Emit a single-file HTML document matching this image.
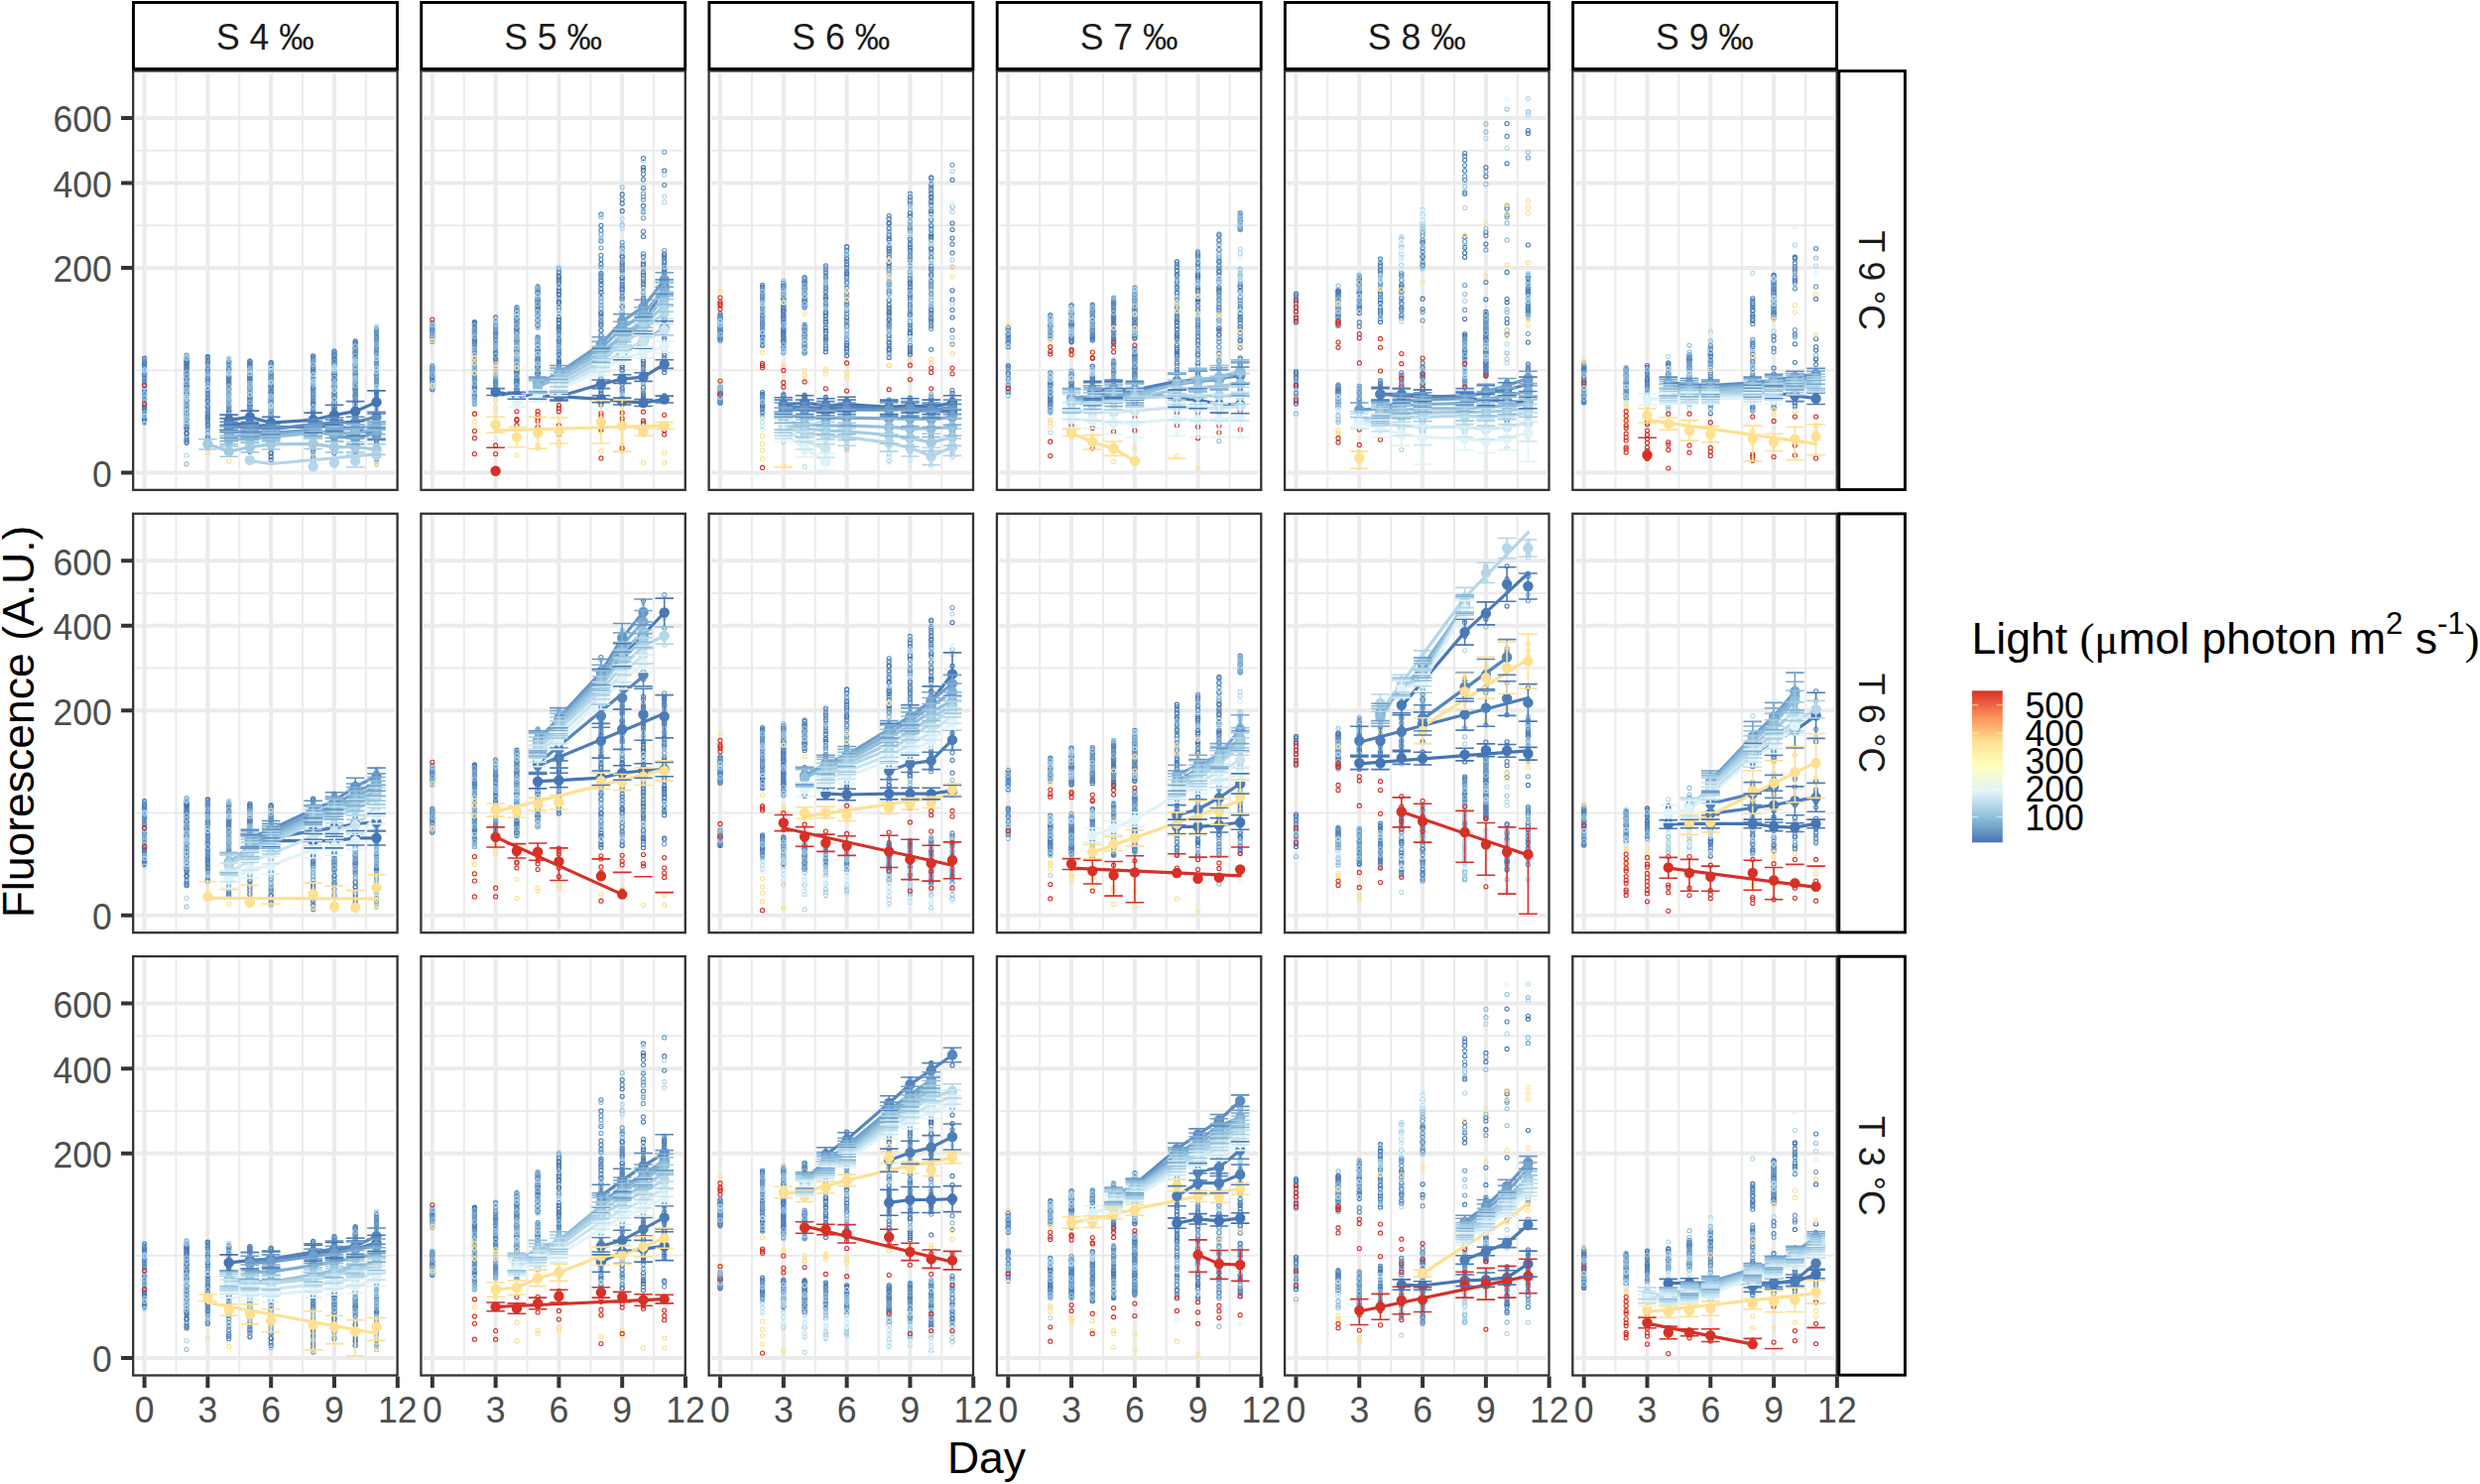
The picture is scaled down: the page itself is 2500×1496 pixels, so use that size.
<!DOCTYPE html>
<html><head><meta charset="utf-8"><title>Fluorescence</title>
<style>
html,body{margin:0;padding:0;background:#fff;}
svg{display:block;font-family:'Liberation Sans', Arial, sans-serif;}
.ax{font-size:35.6px;fill:#4d4d4d;}
.st{font-size:35.6px;fill:#1a1a1a;}
.tt{font-size:44.5px;fill:#000;}
.lg{font-size:35.6px;fill:#000;}
</style></head><body>
<svg width="2500" height="1496" viewBox="0 0 2500 1496">
<rect width="2500" height="1496" fill="#fff"/>

<defs>
<marker id="m10" markerWidth="7" markerHeight="7" refX="3.5" refY="3.5" markerUnits="userSpaceOnUse"><circle cx="3.5" cy="3.5" r="2.05" fill="none" stroke="#4575b4" stroke-width="1.1"/></marker>
<marker id="m30" markerWidth="7" markerHeight="7" refX="3.5" refY="3.5" markerUnits="userSpaceOnUse"><circle cx="3.5" cy="3.5" r="2.05" fill="none" stroke="#5685bd" stroke-width="1.1"/></marker>
<marker id="m60" markerWidth="7" markerHeight="7" refX="3.5" refY="3.5" markerUnits="userSpaceOnUse"><circle cx="3.5" cy="3.5" r="2.05" fill="none" stroke="#6f9eca" stroke-width="1.1"/></marker>
<marker id="m100" markerWidth="7" markerHeight="7" refX="3.5" refY="3.5" markerUnits="userSpaceOnUse"><circle cx="3.5" cy="3.5" r="2.05" fill="none" stroke="#91bfdb" stroke-width="1.1"/></marker>
<marker id="m140" markerWidth="7" markerHeight="7" refX="3.5" refY="3.5" markerUnits="userSpaceOnUse"><circle cx="3.5" cy="3.5" r="2.05" fill="none" stroke="#b4d6e8" stroke-width="1.1"/></marker>
<marker id="m190" markerWidth="7" markerHeight="7" refX="3.5" refY="3.5" markerUnits="userSpaceOnUse"><circle cx="3.5" cy="3.5" r="2.05" fill="none" stroke="#e0f3f8" stroke-width="1.1"/></marker>
<marker id="m370" markerWidth="7" markerHeight="7" refX="3.5" refY="3.5" markerUnits="userSpaceOnUse"><circle cx="3.5" cy="3.5" r="2.05" fill="none" stroke="#fee090" stroke-width="1.1"/></marker>
<marker id="m550" markerWidth="7" markerHeight="7" refX="3.5" refY="3.5" markerUnits="userSpaceOnUse"><circle cx="3.5" cy="3.5" r="2.05" fill="none" stroke="#d73027" stroke-width="1.1"/></marker>
<linearGradient id="cb" x1="0" y1="1" x2="0" y2="0">
<stop offset="0.0000" stop-color="#4575b4"/>
<stop offset="0.1667" stop-color="#91bfdb"/>
<stop offset="0.3333" stop-color="#e0f3f8"/>
<stop offset="0.5000" stop-color="#ffffbf"/>
<stop offset="0.6667" stop-color="#fee090"/>
<stop offset="0.8333" stop-color="#fc8d59"/>
<stop offset="1.0000" stop-color="#d73027"/>
</linearGradient>
<clipPath id="cp00"><rect x="134.2" y="71.5" width="266.4" height="422.4"/></clipPath>
<clipPath id="cp10"><rect x="134.2" y="517.8" width="266.4" height="422.4"/></clipPath>
<clipPath id="cp20"><rect x="134.2" y="964.1" width="266.4" height="422.4"/></clipPath>
<clipPath id="cp01"><rect x="424.4" y="71.5" width="266.4" height="422.4"/></clipPath>
<clipPath id="cp11"><rect x="424.4" y="517.8" width="266.4" height="422.4"/></clipPath>
<clipPath id="cp21"><rect x="424.4" y="964.1" width="266.4" height="422.4"/></clipPath>
<clipPath id="cp02"><rect x="714.6" y="71.5" width="266.4" height="422.4"/></clipPath>
<clipPath id="cp12"><rect x="714.6" y="517.8" width="266.4" height="422.4"/></clipPath>
<clipPath id="cp22"><rect x="714.6" y="964.1" width="266.4" height="422.4"/></clipPath>
<clipPath id="cp03"><rect x="1004.9" y="71.5" width="266.4" height="422.4"/></clipPath>
<clipPath id="cp13"><rect x="1004.9" y="517.8" width="266.4" height="422.4"/></clipPath>
<clipPath id="cp23"><rect x="1004.9" y="964.1" width="266.4" height="422.4"/></clipPath>
<clipPath id="cp04"><rect x="1295.1" y="71.5" width="266.4" height="422.4"/></clipPath>
<clipPath id="cp14"><rect x="1295.1" y="517.8" width="266.4" height="422.4"/></clipPath>
<clipPath id="cp24"><rect x="1295.1" y="964.1" width="266.4" height="422.4"/></clipPath>
<clipPath id="cp05"><rect x="1585.3" y="71.5" width="266.4" height="422.4"/></clipPath>
<clipPath id="cp15"><rect x="1585.3" y="517.8" width="266.4" height="422.4"/></clipPath>
<clipPath id="cp25"><rect x="1585.3" y="964.1" width="266.4" height="422.4"/></clipPath>
</defs>
<g clip-path="url(#cp00)"><path d="M177.50,71.5v422.4M241.29,71.5v422.4M305.09,71.5v422.4M368.88,71.5v422.4M134.2,373.22h266.4M134.2,227.30h266.4M134.2,151.77h266.4" stroke="#ebebeb" stroke-width="2" fill="none"/><path d="M145.60,71.5v422.4M209.39,71.5v422.4M273.19,71.5v422.4M336.99,71.5v422.4M400.78,71.5v422.4M134.2,476.40h266.4M134.2,270.04h266.4M134.2,184.56h266.4M134.2,118.97h266.4" stroke="#ebebeb" stroke-width="4" fill="none"/></g>
<g clip-path="url(#cp01)"><path d="M467.72,71.5v422.4M531.51,71.5v422.4M595.31,71.5v422.4M659.10,71.5v422.4M424.4,373.22h266.4M424.4,227.30h266.4M424.4,151.77h266.4" stroke="#ebebeb" stroke-width="2" fill="none"/><path d="M435.82,71.5v422.4M499.62,71.5v422.4M563.41,71.5v422.4M627.20,71.5v422.4M691.00,71.5v422.4M424.4,476.40h266.4M424.4,270.04h266.4M424.4,184.56h266.4M424.4,118.97h266.4" stroke="#ebebeb" stroke-width="4" fill="none"/></g>
<g clip-path="url(#cp02)"><path d="M757.94,71.5v422.4M821.73,71.5v422.4M885.53,71.5v422.4M949.32,71.5v422.4M714.6,373.22h266.4M714.6,227.30h266.4M714.6,151.77h266.4" stroke="#ebebeb" stroke-width="2" fill="none"/><path d="M726.04,71.5v422.4M789.84,71.5v422.4M853.63,71.5v422.4M917.43,71.5v422.4M981.22,71.5v422.4M714.6,476.40h266.4M714.6,270.04h266.4M714.6,184.56h266.4M714.6,118.97h266.4" stroke="#ebebeb" stroke-width="4" fill="none"/></g>
<g clip-path="url(#cp03)"><path d="M1048.16,71.5v422.4M1111.95,71.5v422.4M1175.75,71.5v422.4M1239.54,71.5v422.4M1004.9,373.22h266.4M1004.9,227.30h266.4M1004.9,151.77h266.4" stroke="#ebebeb" stroke-width="2" fill="none"/><path d="M1016.26,71.5v422.4M1080.06,71.5v422.4M1143.85,71.5v422.4M1207.64,71.5v422.4M1271.44,71.5v422.4M1004.9,476.40h266.4M1004.9,270.04h266.4M1004.9,184.56h266.4M1004.9,118.97h266.4" stroke="#ebebeb" stroke-width="4" fill="none"/></g>
<g clip-path="url(#cp04)"><path d="M1338.38,71.5v422.4M1402.17,71.5v422.4M1465.97,71.5v422.4M1529.76,71.5v422.4M1295.1,373.22h266.4M1295.1,227.30h266.4M1295.1,151.77h266.4" stroke="#ebebeb" stroke-width="2" fill="none"/><path d="M1306.48,71.5v422.4M1370.28,71.5v422.4M1434.07,71.5v422.4M1497.87,71.5v422.4M1561.66,71.5v422.4M1295.1,476.40h266.4M1295.1,270.04h266.4M1295.1,184.56h266.4M1295.1,118.97h266.4" stroke="#ebebeb" stroke-width="4" fill="none"/></g>
<g clip-path="url(#cp05)"><path d="M1628.60,71.5v422.4M1692.39,71.5v422.4M1756.19,71.5v422.4M1819.98,71.5v422.4M1585.3,373.22h266.4M1585.3,227.30h266.4M1585.3,151.77h266.4" stroke="#ebebeb" stroke-width="2" fill="none"/><path d="M1596.70,71.5v422.4M1660.50,71.5v422.4M1724.29,71.5v422.4M1788.09,71.5v422.4M1851.88,71.5v422.4M1585.3,476.40h266.4M1585.3,270.04h266.4M1585.3,184.56h266.4M1585.3,118.97h266.4" stroke="#ebebeb" stroke-width="4" fill="none"/></g>
<g clip-path="url(#cp10)"><path d="M177.50,517.8v422.4M241.29,517.8v422.4M305.09,517.8v422.4M368.88,517.8v422.4M134.2,819.52h266.4M134.2,673.60h266.4M134.2,598.07h266.4" stroke="#ebebeb" stroke-width="2" fill="none"/><path d="M145.60,517.8v422.4M209.39,517.8v422.4M273.19,517.8v422.4M336.99,517.8v422.4M400.78,517.8v422.4M134.2,922.70h266.4M134.2,716.34h266.4M134.2,630.86h266.4M134.2,565.27h266.4" stroke="#ebebeb" stroke-width="4" fill="none"/></g>
<g clip-path="url(#cp11)"><path d="M467.72,517.8v422.4M531.51,517.8v422.4M595.31,517.8v422.4M659.10,517.8v422.4M424.4,819.52h266.4M424.4,673.60h266.4M424.4,598.07h266.4" stroke="#ebebeb" stroke-width="2" fill="none"/><path d="M435.82,517.8v422.4M499.62,517.8v422.4M563.41,517.8v422.4M627.20,517.8v422.4M691.00,517.8v422.4M424.4,922.70h266.4M424.4,716.34h266.4M424.4,630.86h266.4M424.4,565.27h266.4" stroke="#ebebeb" stroke-width="4" fill="none"/></g>
<g clip-path="url(#cp12)"><path d="M757.94,517.8v422.4M821.73,517.8v422.4M885.53,517.8v422.4M949.32,517.8v422.4M714.6,819.52h266.4M714.6,673.60h266.4M714.6,598.07h266.4" stroke="#ebebeb" stroke-width="2" fill="none"/><path d="M726.04,517.8v422.4M789.84,517.8v422.4M853.63,517.8v422.4M917.43,517.8v422.4M981.22,517.8v422.4M714.6,922.70h266.4M714.6,716.34h266.4M714.6,630.86h266.4M714.6,565.27h266.4" stroke="#ebebeb" stroke-width="4" fill="none"/></g>
<g clip-path="url(#cp13)"><path d="M1048.16,517.8v422.4M1111.95,517.8v422.4M1175.75,517.8v422.4M1239.54,517.8v422.4M1004.9,819.52h266.4M1004.9,673.60h266.4M1004.9,598.07h266.4" stroke="#ebebeb" stroke-width="2" fill="none"/><path d="M1016.26,517.8v422.4M1080.06,517.8v422.4M1143.85,517.8v422.4M1207.64,517.8v422.4M1271.44,517.8v422.4M1004.9,922.70h266.4M1004.9,716.34h266.4M1004.9,630.86h266.4M1004.9,565.27h266.4" stroke="#ebebeb" stroke-width="4" fill="none"/></g>
<g clip-path="url(#cp14)"><path d="M1338.38,517.8v422.4M1402.17,517.8v422.4M1465.97,517.8v422.4M1529.76,517.8v422.4M1295.1,819.52h266.4M1295.1,673.60h266.4M1295.1,598.07h266.4" stroke="#ebebeb" stroke-width="2" fill="none"/><path d="M1306.48,517.8v422.4M1370.28,517.8v422.4M1434.07,517.8v422.4M1497.87,517.8v422.4M1561.66,517.8v422.4M1295.1,922.70h266.4M1295.1,716.34h266.4M1295.1,630.86h266.4M1295.1,565.27h266.4" stroke="#ebebeb" stroke-width="4" fill="none"/></g>
<g clip-path="url(#cp15)"><path d="M1628.60,517.8v422.4M1692.39,517.8v422.4M1756.19,517.8v422.4M1819.98,517.8v422.4M1585.3,819.52h266.4M1585.3,673.60h266.4M1585.3,598.07h266.4" stroke="#ebebeb" stroke-width="2" fill="none"/><path d="M1596.70,517.8v422.4M1660.50,517.8v422.4M1724.29,517.8v422.4M1788.09,517.8v422.4M1851.88,517.8v422.4M1585.3,922.70h266.4M1585.3,716.34h266.4M1585.3,630.86h266.4M1585.3,565.27h266.4" stroke="#ebebeb" stroke-width="4" fill="none"/></g>
<g clip-path="url(#cp20)"><path d="M177.50,964.1v422.4M241.29,964.1v422.4M305.09,964.1v422.4M368.88,964.1v422.4M134.2,1265.82h266.4M134.2,1119.90h266.4M134.2,1044.37h266.4" stroke="#ebebeb" stroke-width="2" fill="none"/><path d="M145.60,964.1v422.4M209.39,964.1v422.4M273.19,964.1v422.4M336.99,964.1v422.4M400.78,964.1v422.4M134.2,1369.00h266.4M134.2,1162.64h266.4M134.2,1077.16h266.4M134.2,1011.57h266.4" stroke="#ebebeb" stroke-width="4" fill="none"/></g>
<g clip-path="url(#cp21)"><path d="M467.72,964.1v422.4M531.51,964.1v422.4M595.31,964.1v422.4M659.10,964.1v422.4M424.4,1265.82h266.4M424.4,1119.90h266.4M424.4,1044.37h266.4" stroke="#ebebeb" stroke-width="2" fill="none"/><path d="M435.82,964.1v422.4M499.62,964.1v422.4M563.41,964.1v422.4M627.20,964.1v422.4M691.00,964.1v422.4M424.4,1369.00h266.4M424.4,1162.64h266.4M424.4,1077.16h266.4M424.4,1011.57h266.4" stroke="#ebebeb" stroke-width="4" fill="none"/></g>
<g clip-path="url(#cp22)"><path d="M757.94,964.1v422.4M821.73,964.1v422.4M885.53,964.1v422.4M949.32,964.1v422.4M714.6,1265.82h266.4M714.6,1119.90h266.4M714.6,1044.37h266.4" stroke="#ebebeb" stroke-width="2" fill="none"/><path d="M726.04,964.1v422.4M789.84,964.1v422.4M853.63,964.1v422.4M917.43,964.1v422.4M981.22,964.1v422.4M714.6,1369.00h266.4M714.6,1162.64h266.4M714.6,1077.16h266.4M714.6,1011.57h266.4" stroke="#ebebeb" stroke-width="4" fill="none"/></g>
<g clip-path="url(#cp23)"><path d="M1048.16,964.1v422.4M1111.95,964.1v422.4M1175.75,964.1v422.4M1239.54,964.1v422.4M1004.9,1265.82h266.4M1004.9,1119.90h266.4M1004.9,1044.37h266.4" stroke="#ebebeb" stroke-width="2" fill="none"/><path d="M1016.26,964.1v422.4M1080.06,964.1v422.4M1143.85,964.1v422.4M1207.64,964.1v422.4M1271.44,964.1v422.4M1004.9,1369.00h266.4M1004.9,1162.64h266.4M1004.9,1077.16h266.4M1004.9,1011.57h266.4" stroke="#ebebeb" stroke-width="4" fill="none"/></g>
<g clip-path="url(#cp24)"><path d="M1338.38,964.1v422.4M1402.17,964.1v422.4M1465.97,964.1v422.4M1529.76,964.1v422.4M1295.1,1265.82h266.4M1295.1,1119.90h266.4M1295.1,1044.37h266.4" stroke="#ebebeb" stroke-width="2" fill="none"/><path d="M1306.48,964.1v422.4M1370.28,964.1v422.4M1434.07,964.1v422.4M1497.87,964.1v422.4M1561.66,964.1v422.4M1295.1,1369.00h266.4M1295.1,1162.64h266.4M1295.1,1077.16h266.4M1295.1,1011.57h266.4" stroke="#ebebeb" stroke-width="4" fill="none"/></g>
<g clip-path="url(#cp25)"><path d="M1628.60,964.1v422.4M1692.39,964.1v422.4M1756.19,964.1v422.4M1819.98,964.1v422.4M1585.3,1265.82h266.4M1585.3,1119.90h266.4M1585.3,1044.37h266.4" stroke="#ebebeb" stroke-width="2" fill="none"/><path d="M1596.70,964.1v422.4M1660.50,964.1v422.4M1724.29,964.1v422.4M1788.09,964.1v422.4M1851.88,964.1v422.4M1585.3,1369.00h266.4M1585.3,1162.64h266.4M1585.3,1077.16h266.4M1585.3,1011.57h266.4" stroke="#ebebeb" stroke-width="4" fill="none"/></g>
<g clip-path="url(#cp00)" fill="none" stroke="none"><path d="M145.6,361.2L145.6,365.1L145.6,366.2L145.6,367.0L145.6,369.5L145.6,375.3L145.6,377.3L145.6,378.2L145.6,381.3L145.6,384.1L145.6,387.6L145.6,393.4L145.6,394.8L145.6,403.1L145.6,407.6L145.6,408.4L145.6,410.3L145.6,410.9L145.6,413.5L145.6,417.0L145.6,420.3L145.6,421.8L145.6,424.1L188.1,363.5L188.1,364.0L188.1,365.3L188.1,366.3L188.1,367.6L188.1,369.0L188.1,370.8L188.1,372.5L188.1,376.8L188.1,378.2L188.1,381.3L188.1,386.5L188.1,388.1L188.1,389.8L188.1,394.8L188.1,396.8L188.1,398.5L188.1,402.6L188.1,403.7L188.1,408.9L188.1,412.6L188.1,413.7L188.1,417.6L188.1,420.8L188.1,422.8L188.1,423.3L188.1,429.5L188.1,431.0L188.1,432.7L188.1,436.3L188.1,437.6L209.4,359.6L209.4,360.4L209.4,362.8L209.4,365.2L209.4,366.0L209.4,380.3L209.4,381.3L209.4,382.9L209.4,385.3L209.4,389.1L209.4,392.0L209.4,394.3L209.4,397.8L209.4,400.9L209.4,402.4L209.4,404.2L209.4,404.6L209.4,409.0L209.4,410.4L209.4,413.8L209.4,416.0L209.4,417.2L209.4,419.9L209.4,422.2L209.4,423.5L209.4,424.8L209.4,427.9L209.4,429.1L209.4,432.7L230.7,364.0L230.7,365.1L230.7,367.5L230.7,371.2L230.7,382.6L230.7,385.2L230.7,386.7L230.7,391.8L230.7,392.7L230.7,403.6L230.7,410.2L230.7,413.7L230.7,414.1L230.7,416.0L230.7,417.2L230.7,422.3L230.7,424.2L230.7,425.1L230.7,425.7L230.7,427.6L230.7,429.7L230.7,433.7L230.7,436.3L230.7,443.8L230.7,454.6L251.9,364.1L251.9,365.9L251.9,368.1L251.9,369.9L251.9,371.0L251.9,378.4L251.9,380.5L251.9,381.8L251.9,382.2L251.9,392.6L251.9,396.9L251.9,400.9L251.9,403.0L251.9,406.8L251.9,407.9L251.9,409.3L251.9,415.2L251.9,419.9L251.9,425.2L251.9,432.0L251.9,445.2L251.9,447.8L251.9,451.0L251.9,455.2L273.2,368.8L273.2,372.0L273.2,374.1L273.2,378.8L273.2,380.4L273.2,387.9L273.2,389.2L273.2,391.0L273.2,393.3L273.2,395.1L273.2,395.2L273.2,396.8L273.2,402.1L273.2,405.7L273.2,407.3L273.2,413.3L273.2,415.5L273.2,419.8L273.2,423.6L273.2,426.4L273.2,427.1L273.2,428.8L273.2,432.7L273.2,450.8L273.2,456.3L273.2,457.0L273.2,460.4L273.2,463.7L315.7,358.8L315.7,360.4L315.7,362.7L315.7,370.7L315.7,372.6L315.7,381.3L315.7,382.4L315.7,387.8L315.7,390.8L315.7,391.8L315.7,393.4L315.7,395.4L315.7,397.6L315.7,399.9L315.7,404.1L315.7,406.7L315.7,407.5L315.7,413.7L315.7,418.0L315.7,420.4L315.7,422.4L315.7,425.0L315.7,426.9L315.7,444.4L315.7,448.8L315.7,454.2L337.0,355.2L337.0,357.2L337.0,358.0L337.0,362.1L337.0,363.4L337.0,365.5L337.0,368.2L337.0,374.0L337.0,376.3L337.0,377.6L337.0,378.7L337.0,379.5L337.0,381.8L337.0,382.4L337.0,383.7L337.0,396.4L337.0,399.6L337.0,400.9L337.0,401.8L337.0,404.6L337.0,406.5L337.0,410.0L337.0,410.4L337.0,415.8L337.0,418.7L337.0,422.1L337.0,425.2L337.0,430.3L337.0,436.8L337.0,444.1L337.0,445.8L358.2,345.1L358.2,346.4L358.2,350.2L358.2,355.2L358.2,355.7L358.2,357.4L358.2,359.9L358.2,360.3L358.2,368.5L358.2,371.9L358.2,374.1L358.2,376.1L358.2,384.8L358.2,386.8L358.2,389.4L358.2,391.4L358.2,392.0L358.2,394.3L358.2,397.5L358.2,404.4L358.2,405.5L358.2,405.7L358.2,407.8L358.2,415.9L358.2,424.3L358.2,424.7L358.2,426.6L358.2,434.3L358.2,448.1L358.2,451.6L358.2,455.2L358.2,458.1L358.2,459.9L358.2,463.7L379.5,335.0L379.5,336.1L379.5,345.9L379.5,354.9L379.5,375.7L379.5,380.3L379.5,384.9L379.5,393.5L379.5,395.0L379.5,396.8L379.5,398.1L379.5,398.7L379.5,401.4L379.5,410.4L379.5,412.9L379.5,414.2L379.5,417.3L379.5,427.0L379.5,428.5L379.5,429.7L379.5,430.8L379.5,447.1L379.5,461.3" marker-start="url(#m10)" marker-mid="url(#m10)" marker-end="url(#m10)"/><path d="M145.6,363.8L145.6,369.0L145.6,372.1L145.6,379.9L145.6,385.0L145.6,389.2L145.6,392.6L145.6,399.3L145.6,401.9L145.6,406.6L145.6,412.8L145.6,415.2L145.6,418.7L145.6,422.7L145.6,425.4L188.1,362.0L188.1,371.1L188.1,373.4L188.1,376.1L188.1,381.5L188.1,382.6L188.1,384.8L188.1,389.3L188.1,395.4L188.1,416.2L188.1,426.7L188.1,427.8L188.1,441.2L188.1,443.7L188.1,445.2L188.1,446.4L209.4,364.3L209.4,369.0L209.4,371.0L209.4,372.4L209.4,373.4L209.4,375.0L209.4,378.6L209.4,389.8L209.4,393.1L209.4,396.7L209.4,406.7L209.4,410.0L209.4,417.8L209.4,419.6L209.4,421.2L209.4,427.0L209.4,440.3L209.4,441.9L230.7,372.2L230.7,373.5L230.7,375.8L230.7,377.9L230.7,379.6L230.7,380.4L230.7,381.4L230.7,383.7L230.7,388.1L230.7,398.3L230.7,404.8L230.7,412.4L230.7,419.2L230.7,421.7L230.7,430.8L230.7,440.6L230.7,448.4L230.7,452.6L230.7,457.1L251.9,364.2L251.9,366.9L251.9,375.3L251.9,377.7L251.9,383.3L251.9,385.4L251.9,395.3L251.9,400.0L251.9,403.4L251.9,405.6L251.9,411.2L251.9,413.2L251.9,414.1L251.9,418.0L251.9,421.3L251.9,426.7L251.9,429.0L251.9,435.6L251.9,442.3L273.2,365.4L273.2,366.2L273.2,367.1L273.2,376.0L273.2,376.7L273.2,383.7L273.2,389.5L273.2,404.9L273.2,411.3L273.2,415.0L273.2,418.3L273.2,436.8L273.2,439.7L273.2,448.5L315.7,368.5L315.7,373.1L315.7,375.1L315.7,375.4L315.7,379.6L315.7,389.9L315.7,401.6L315.7,404.8L315.7,408.5L315.7,410.5L315.7,414.8L315.7,416.0L315.7,416.4L315.7,421.5L315.7,424.3L315.7,429.2L315.7,440.7L315.7,446.7L315.7,461.3L315.7,466.1L315.7,468.7L315.7,470.5L337.0,353.8L337.0,359.1L337.0,360.8L337.0,367.1L337.0,389.0L337.0,390.4L337.0,391.2L337.0,395.0L337.0,396.8L337.0,407.5L337.0,411.7L337.0,413.0L337.0,414.6L337.0,416.4L337.0,426.7L337.0,429.6L337.0,436.2L337.0,439.9L337.0,456.8L358.2,343.9L358.2,351.6L358.2,352.2L358.2,379.2L358.2,392.8L358.2,398.5L358.2,398.7L358.2,400.4L358.2,409.8L358.2,412.0L358.2,416.4L358.2,421.4L358.2,423.1L358.2,427.2L358.2,429.7L358.2,442.6L358.2,443.4L358.2,447.4L379.5,331.0L379.5,332.4L379.5,338.8L379.5,339.3L379.5,340.8L379.5,343.4L379.5,350.1L379.5,352.9L379.5,356.3L379.5,357.5L379.5,360.8L379.5,362.7L379.5,365.0L379.5,366.7L379.5,370.0L379.5,376.6L379.5,378.2L379.5,382.6L379.5,388.5L379.5,396.2L379.5,402.7L379.5,405.7L379.5,432.9L379.5,440.2L379.5,445.5L379.5,451.9L379.5,459.4L379.5,467.8" marker-start="url(#m30)" marker-mid="url(#m30)" marker-end="url(#m30)"/><path d="M145.6,362.2L145.6,371.5L145.6,379.1L145.6,382.7L145.6,386.6L145.6,389.7L145.6,395.9L145.6,398.3L145.6,404.7L188.1,358.2L188.1,391.8L188.1,405.7L188.1,407.9L188.1,411.0L188.1,416.5L209.4,361.7L209.4,367.5L209.4,376.1L209.4,384.4L209.4,385.8L209.4,395.1L209.4,399.2L209.4,402.1L209.4,412.0L209.4,414.8L209.4,425.9L209.4,430.9L230.7,363.2L230.7,366.5L230.7,370.0L230.7,389.2L230.7,393.1L230.7,396.2L230.7,396.7L230.7,402.6L230.7,407.7L230.7,408.7L230.7,411.1L230.7,420.7L230.7,428.7L251.9,387.7L251.9,389.0L251.9,390.7L251.9,392.1L251.9,398.8L251.9,411.9L251.9,440.5L251.9,448.7L251.9,454.4L273.2,378.7L273.2,381.3L273.2,383.1L273.2,392.8L273.2,399.8L273.2,402.2L273.2,403.8L273.2,418.6L273.2,423.1L273.2,444.8L273.2,452.5L315.7,361.5L315.7,364.2L315.7,365.5L315.7,365.9L315.7,369.5L315.7,377.0L315.7,394.1L315.7,396.4L315.7,399.2L315.7,402.2L315.7,411.7L315.7,419.6L315.7,426.7L315.7,436.9L315.7,452.7L315.7,455.4L315.7,463.1L337.0,356.1L337.0,364.3L337.0,387.2L337.0,398.1L337.0,403.8L337.0,420.8L337.0,421.4L337.0,423.9L337.0,427.1L337.0,431.7L337.0,442.9L337.0,450.4L358.2,348.0L358.2,354.2L358.2,363.2L358.2,367.7L358.2,369.5L358.2,377.3L358.2,377.7L358.2,387.7L358.2,395.6L358.2,401.4L358.2,402.8L358.2,410.6L358.2,417.5L358.2,419.4L358.2,420.5L358.2,431.2L358.2,432.4L358.2,438.9L358.2,464.0L379.5,331.9L379.5,333.5L379.5,337.7L379.5,342.6L379.5,344.3L379.5,348.4L379.5,349.3L379.5,351.0L379.5,353.9L379.5,359.9L379.5,364.8L379.5,367.8L379.5,369.3L379.5,372.3L379.5,373.2L379.5,379.3L379.5,382.3L379.5,384.0L379.5,386.8L379.5,387.6L379.5,391.5L379.5,400.2L379.5,404.2L379.5,408.2L379.5,415.5L379.5,417.6L379.5,420.5L379.5,423.9L379.5,424.9L379.5,448.0L379.5,462.7" marker-start="url(#m60)" marker-mid="url(#m60)" marker-end="url(#m60)"/><path d="M145.6,374.3L145.6,396.8L145.6,401.1L145.6,405.0L145.6,416.3L188.1,360.2L188.1,361.3L188.1,375.5L188.1,379.2L188.1,385.7L188.1,392.8L188.1,393.9L188.1,401.2L188.1,406.4L188.1,410.2L188.1,419.6L188.1,428.2L188.1,467.7L209.4,369.8L209.4,376.6L209.4,378.8L209.4,388.0L209.4,407.1L209.4,434.2L209.4,437.2L230.7,362.4L230.7,369.6L230.7,390.0L230.7,395.2L230.7,399.8L230.7,400.7L230.7,402.0L230.7,406.5L230.7,436.4L230.7,446.2L251.9,371.4L251.9,373.3L251.9,374.0L251.9,386.4L251.9,388.4L251.9,393.8L251.9,405.5L251.9,418.7L251.9,423.2L251.9,426.1L251.9,430.1L251.9,438.0L273.2,371.1L273.2,386.1L273.2,398.5L273.2,400.2L273.2,412.1L273.2,416.3L273.2,421.2L273.2,429.8L273.2,430.3L273.2,441.2L273.2,447.2L273.2,466.0L315.7,367.2L315.7,380.9L315.7,384.9L315.7,386.2L315.7,388.1L315.7,410.3L315.7,429.1L315.7,430.7L315.7,433.1L315.7,434.4L315.7,441.5L315.7,457.9L337.0,369.8L337.0,374.3L337.0,380.3L337.0,385.5L337.0,386.1L337.0,391.9L337.0,408.2L337.0,417.7L337.0,428.0L337.0,449.9L337.0,454.5L358.2,349.2L358.2,358.6L358.2,362.0L358.2,365.6L358.2,366.4L358.2,370.8L358.2,373.3L358.2,380.9L358.2,381.2L358.2,383.4L358.2,383.6L358.2,388.9L358.2,413.0L358.2,414.2L358.2,428.2L358.2,437.7L358.2,452.6L379.5,347.1L379.5,358.1L379.5,392.3L379.5,405.8L379.5,408.0L379.5,410.0L379.5,419.3L379.5,421.9L379.5,422.3L379.5,426.3L379.5,434.0L379.5,437.4L379.5,441.8L379.5,453.4L379.5,465.1" marker-start="url(#m100)" marker-mid="url(#m100)" marker-end="url(#m100)"/><path d="M145.6,372.8L145.6,390.6L145.6,419.0L145.6,426.8L188.1,399.4L188.1,401.6L188.1,414.4L188.1,421.7L188.1,425.2L188.1,459.0L209.4,391.3L230.7,360.8L230.7,375.5L230.7,377.1L230.7,418.0L230.7,442.1L251.9,376.7L251.9,397.5L251.9,416.2L251.9,423.0L251.9,430.6L273.2,370.2L273.2,373.7L273.2,385.0L273.2,408.2L273.2,409.4L273.2,425.1L273.2,436.1L315.7,377.6L315.7,384.0L337.0,369.2L337.0,371.3L337.0,372.9L337.0,393.6L337.0,402.9L358.2,364.1L358.2,408.0L379.5,328.8L379.5,361.4L379.5,371.0L379.5,374.6L379.5,389.8L379.5,412.4L379.5,456.1" marker-start="url(#m140)" marker-mid="url(#m140)" marker-end="url(#m140)"/><path d="M209.4,456.2L230.7,464.8L315.7,469.1L379.5,460.5L379.5,467.7" marker-start="url(#m370)" marker-mid="url(#m370)" marker-end="url(#m370)"/><path d="M145.6,388.4L145.6,407.1" marker-start="url(#m550)" marker-mid="url(#m550)" marker-end="url(#m550)"/></g>
<g clip-path="url(#cp01)" fill="none" stroke="none"><path d="M435.8,332.4L435.8,333.8L435.8,336.4L435.8,338.2L435.8,339.3L435.8,372.9L435.8,379.2L435.8,380.4L435.8,382.9L435.8,383.5L435.8,387.4L435.8,392.8L478.4,324.6L478.4,325.7L478.4,325.9L478.4,330.3L478.4,336.4L478.4,338.4L478.4,340.8L478.4,342.2L478.4,346.8L478.4,354.1L478.4,356.0L478.4,363.9L478.4,368.1L478.4,373.1L478.4,376.2L478.4,381.0L478.4,383.4L478.4,388.6L478.4,390.3L478.4,393.1L478.4,396.1L478.4,401.3L478.4,407.2L499.6,322.7L499.6,324.3L499.6,329.9L499.6,334.8L499.6,335.8L499.6,338.2L499.6,342.6L499.6,343.8L499.6,345.6L499.6,347.3L499.6,352.2L499.6,355.5L499.6,356.1L499.6,357.1L499.6,359.7L499.6,361.4L499.6,362.7L499.6,363.8L499.6,366.5L499.6,370.1L499.6,375.6L499.6,378.5L499.6,382.4L499.6,384.0L499.6,386.5L499.6,389.8L520.9,309.9L520.9,312.2L520.9,314.8L520.9,319.7L520.9,321.7L520.9,322.0L520.9,325.0L520.9,329.1L520.9,331.4L520.9,335.5L520.9,343.4L520.9,348.3L520.9,350.5L520.9,354.9L520.9,368.3L520.9,369.4L520.9,371.6L520.9,373.6L520.9,375.1L520.9,376.0L520.9,377.6L520.9,381.3L520.9,384.2L520.9,385.7L520.9,387.9L520.9,392.1L520.9,393.1L520.9,393.4L520.9,396.1L542.1,294.3L542.1,295.3L542.1,303.0L542.1,305.8L542.1,308.5L542.1,311.8L542.1,312.8L542.1,314.7L542.1,317.2L542.1,342.3L542.1,345.1L542.1,347.4L542.1,351.6L542.1,354.0L542.1,357.3L542.1,361.3L542.1,363.2L542.1,369.3L542.1,369.7L542.1,371.3L542.1,375.1L542.1,376.2L542.1,376.7L542.1,377.8L542.1,380.6L542.1,386.9L563.4,274.3L563.4,278.1L563.4,279.5L563.4,281.8L563.4,285.6L563.4,290.5L563.4,293.0L563.4,296.4L563.4,297.6L563.4,303.9L563.4,305.4L563.4,309.9L563.4,319.7L563.4,322.7L563.4,325.5L563.4,329.6L563.4,331.7L563.4,332.5L563.4,337.0L563.4,337.9L563.4,343.9L563.4,344.8L563.4,350.5L563.4,353.3L563.4,356.1L563.4,357.0L563.4,357.6L563.4,361.1L563.4,362.5L563.4,365.2L563.4,366.6L563.4,368.4L563.4,371.2L563.4,373.6L605.9,227.3L605.9,261.5L605.9,266.3L605.9,277.9L605.9,283.3L605.9,286.7L605.9,291.0L605.9,295.3L605.9,314.6L605.9,316.3L605.9,319.0L605.9,324.1L605.9,328.3L605.9,332.9L605.9,343.8L605.9,347.2L605.9,352.7L605.9,354.6L605.9,360.0L605.9,373.1L605.9,374.3L605.9,381.8L605.9,393.4L605.9,396.0L605.9,397.8L605.9,402.4L605.9,405.4L605.9,408.0L627.2,195.9L627.2,205.1L627.2,212.7L627.2,250.3L627.2,258.3L627.2,259.0L627.2,264.9L627.2,273.4L627.2,279.8L627.2,280.4L627.2,288.7L627.2,291.0L627.2,308.5L627.2,319.4L627.2,322.4L627.2,324.1L627.2,337.1L627.2,339.6L627.2,343.4L627.2,356.8L627.2,360.6L627.2,364.2L627.2,368.4L627.2,370.1L627.2,372.8L627.2,383.1L627.2,391.7L627.2,402.2L627.2,405.8L648.5,159.6L648.5,168.9L648.5,171.4L648.5,189.5L648.5,207.4L648.5,238.5L648.5,258.8L648.5,265.9L648.5,267.5L648.5,274.9L648.5,277.6L648.5,281.0L648.5,286.1L648.5,290.0L648.5,301.1L648.5,303.2L648.5,306.8L648.5,308.5L648.5,311.3L648.5,316.3L648.5,321.2L648.5,324.4L648.5,331.8L648.5,338.3L648.5,348.6L648.5,352.1L648.5,356.1L648.5,359.9L648.5,363.6L648.5,366.1L648.5,375.2L648.5,377.5L648.5,382.3L648.5,386.3L648.5,390.9L648.5,398.5L648.5,399.1L648.5,401.5L648.5,408.2L669.7,172.1L669.7,255.9L669.7,257.8L669.7,260.0L669.7,264.5L669.7,270.9L669.7,273.7L669.7,275.5L669.7,282.1L669.7,283.4L669.7,286.5L669.7,292.3L669.7,297.9L669.7,305.5L669.7,312.9L669.7,317.5L669.7,319.7L669.7,321.7L669.7,322.7L669.7,329.2L669.7,336.0L669.7,345.9L669.7,348.0L669.7,349.4L669.7,351.7L669.7,354.6L669.7,357.1L669.7,361.3L669.7,367.1L669.7,370.0L669.7,372.1L669.7,375.5" marker-start="url(#m10)" marker-mid="url(#m10)" marker-end="url(#m10)"/><path d="M435.8,325.6L435.8,328.8L435.8,330.8L435.8,344.5L435.8,377.9L435.8,389.2L435.8,390.6L478.4,335.2L478.4,342.4L478.4,344.2L478.4,345.5L478.4,347.8L478.4,350.3L478.4,352.1L478.4,358.0L478.4,359.9L478.4,360.8L478.4,362.3L478.4,365.4L478.4,369.8L478.4,375.1L478.4,378.5L478.4,379.1L478.4,385.8L478.4,387.8L478.4,391.3L478.4,392.5L478.4,398.2L478.4,399.0L478.4,402.8L499.6,320.5L499.6,334.2L499.6,337.0L499.6,349.0L499.6,365.4L499.6,368.6L499.6,380.5L499.6,385.6L499.6,388.2L499.6,395.7L520.9,313.4L520.9,316.7L520.9,317.3L520.9,326.1L520.9,330.7L520.9,332.6L520.9,334.6L520.9,338.8L520.9,341.8L520.9,345.3L520.9,352.4L520.9,354.1L520.9,364.0L520.9,365.7L520.9,372.4L520.9,380.0L520.9,382.3L520.9,383.3L520.9,387.0L520.9,390.4L542.1,289.4L542.1,291.8L542.1,296.2L542.1,298.8L542.1,300.8L542.1,302.2L542.1,304.2L542.1,307.4L542.1,310.2L542.1,318.8L542.1,322.0L542.1,322.8L542.1,323.9L542.1,325.9L542.1,327.5L542.1,328.8L542.1,339.9L542.1,350.0L542.1,352.4L542.1,354.9L542.1,362.2L542.1,364.1L542.1,367.4L542.1,381.3L563.4,283.9L563.4,326.6L563.4,333.3L563.4,341.6L563.4,342.7L563.4,348.0L563.4,363.3L563.4,367.6L605.9,216.2L605.9,232.2L605.9,242.9L605.9,257.3L605.9,275.3L605.9,281.2L605.9,294.4L605.9,300.2L605.9,310.8L605.9,326.6L605.9,338.0L605.9,341.2L605.9,376.7L605.9,390.1L627.2,201.0L627.2,267.1L627.2,269.4L627.2,271.5L627.2,283.2L627.2,286.3L627.2,292.3L627.2,294.7L627.2,299.0L627.2,301.1L627.2,309.4L627.2,350.0L627.2,354.1L627.2,373.8L627.2,387.1L627.2,394.8L627.2,406.1L648.5,175.6L648.5,180.9L648.5,233.3L648.5,255.8L648.5,263.3L648.5,273.5L648.5,283.8L648.5,286.5L648.5,300.2L648.5,328.4L648.5,337.4L648.5,340.6L648.5,346.6L648.5,354.6L648.5,367.8L648.5,370.1L648.5,396.7L648.5,405.0L669.7,186.5L669.7,262.9L669.7,267.7L669.7,296.0L669.7,299.7L669.7,303.1L669.7,307.6L669.7,339.4L669.7,341.4L669.7,358.0L669.7,398.6L669.7,399.9" marker-start="url(#m30)" marker-mid="url(#m30)" marker-end="url(#m30)"/><path d="M435.8,331.7L435.8,335.3L435.8,342.3L435.8,368.9L435.8,369.6L435.8,371.1L435.8,371.8L435.8,375.1L435.8,375.6L435.8,382.2L435.8,385.3L435.8,391.9L478.4,327.3L478.4,328.4L478.4,331.6L478.4,331.8L478.4,333.7L478.4,336.5L478.4,348.7L478.4,355.1L478.4,362.7L478.4,369.3L478.4,372.9L478.4,381.8L478.4,383.9L478.4,396.8L478.4,404.2L499.6,319.6L499.6,328.2L499.6,329.7L499.6,332.0L499.6,332.5L499.6,339.2L499.6,340.6L499.6,351.1L499.6,353.9L499.6,364.1L499.6,372.5L499.6,374.9L499.6,382.9L499.6,389.3L499.6,391.4L499.6,392.2L499.6,393.7L520.9,323.3L520.9,326.7L520.9,336.2L520.9,342.2L520.9,346.4L520.9,351.6L520.9,359.2L520.9,360.9L520.9,362.0L520.9,364.4L542.1,290.6L542.1,293.1L542.1,319.5L542.1,341.7L542.1,348.4L542.1,358.3L542.1,359.1L542.1,365.5L542.1,373.1L542.1,385.0L563.4,271.6L563.4,299.8L563.4,312.4L563.4,334.6L563.4,336.0L563.4,340.1L563.4,346.2L563.4,349.2L563.4,352.4L563.4,354.8L563.4,359.8L563.4,369.5L563.4,371.8L605.9,236.3L605.9,249.8L605.9,269.1L605.9,276.7L605.9,288.0L605.9,304.6L605.9,308.0L605.9,322.0L605.9,333.2L605.9,337.7L605.9,348.8L605.9,358.9L605.9,363.8L605.9,368.4L605.9,369.6L605.9,384.7L605.9,387.2L627.2,244.3L627.2,248.0L627.2,254.5L627.2,262.0L627.2,302.0L627.2,314.1L627.2,316.3L627.2,326.8L627.2,342.1L627.2,347.2L627.2,347.4L627.2,357.5L627.2,380.0L627.2,387.5L627.2,393.0L648.5,195.0L648.5,198.3L648.5,201.3L648.5,213.7L648.5,219.8L648.5,294.4L648.5,330.9L648.5,335.0L648.5,343.6L648.5,357.8L648.5,372.6L648.5,379.9L648.5,393.9L669.7,153.3L669.7,252.5L669.7,278.9L669.7,291.1L669.7,324.9L669.7,331.5L669.7,336.5L669.7,404.5" marker-start="url(#m60)" marker-mid="url(#m60)" marker-end="url(#m60)"/><path d="M435.8,326.4L435.8,327.7L435.8,337.3L435.8,340.9L435.8,343.3L435.8,377.3L435.8,386.3L478.4,338.9L478.4,351.5L478.4,367.0L478.4,371.6L478.4,376.8L478.4,386.6L478.4,401.9L478.4,405.7L478.4,407.1L499.6,326.1L499.6,326.3L499.6,344.9L499.6,348.1L499.6,350.3L499.6,358.4L499.6,371.0L499.6,377.4L499.6,379.4L499.6,395.5L520.9,311.2L520.9,328.6L520.9,338.2L520.9,340.1L520.9,347.5L520.9,357.8L520.9,359.4L520.9,378.8L520.9,388.9L520.9,395.0L542.1,288.4L542.1,299.8L542.1,306.6L542.1,314.1L542.1,315.4L542.1,330.4L542.1,343.0L542.1,345.8L542.1,372.6L542.1,379.6L542.1,383.0L542.1,387.4L563.4,269.8L563.4,288.5L563.4,308.6L563.4,339.2L563.4,349.5L563.4,359.5L605.9,218.9L605.9,240.7L605.9,297.3L605.9,303.1L605.9,311.6L605.9,351.3L605.9,364.6L605.9,378.7L605.9,388.6L627.2,188.8L627.2,226.7L627.2,276.7L627.2,329.6L627.2,331.9L627.2,335.0L627.2,363.2L627.2,377.1L627.2,397.7L627.2,400.5L648.5,212.2L648.5,270.9L648.5,295.9L648.5,313.8L648.5,322.5L648.5,387.7L669.7,269.4L669.7,287.5L669.7,308.5L669.7,312.8L669.7,363.3L669.7,368.9" marker-start="url(#m100)" marker-mid="url(#m100)" marker-end="url(#m100)"/><path d="M435.8,389.8L478.4,357.5L478.4,394.7L499.6,322.7L499.6,369.7L499.6,373.3L520.9,315.5L520.9,318.7L520.9,349.9L520.9,356.8L520.9,366.7L520.9,370.5L542.1,297.4L542.1,320.6L542.1,325.5L542.1,349.7L542.1,356.4L542.1,366.8L542.1,384.0L563.4,314.3L563.4,317.4L605.9,399.3L627.2,220.8L627.2,230.3L627.2,252.5L627.2,305.9L627.2,312.7L627.2,380.5L648.5,162.0L648.5,187.1L648.5,261.5L648.5,291.9L648.5,318.4L648.5,383.8L669.7,176.4L669.7,198.0L669.7,203.8L669.7,331.8" marker-start="url(#m140)" marker-mid="url(#m140)" marker-end="url(#m140)"/><path d="M435.8,343.7L435.8,388.4L478.4,360.6L478.4,365.5L478.4,375.9L478.4,416.9L478.4,417.5L478.4,425.2L478.4,434.1L499.6,367.1L499.6,370.1L499.6,376.0L499.6,403.6L499.6,410.4L499.6,414.7L520.9,371.1L520.9,440.3L520.9,459.0L542.1,448.9L542.1,451.8L563.4,446.1L563.4,448.9L605.9,434.5L605.9,454.7L627.2,448.9L627.2,454.7L648.5,466.3L669.7,456.2L669.7,466.3" marker-start="url(#m370)" marker-mid="url(#m370)" marker-end="url(#m370)"/><path d="M435.8,322.0L478.4,417.2L478.4,434.5L478.4,441.7L478.4,457.6L499.6,448.9L499.6,457.6L520.9,414.8L520.9,422.7L520.9,423.6L520.9,428.7L542.1,414.7L542.1,417.9L542.1,421.4L542.1,424.4L542.1,430.3L563.4,408.7L563.4,411.7L563.4,414.8L563.4,428.8L563.4,437.4L605.9,416.5L605.9,419.7L605.9,427.6L605.9,433.0L605.9,461.9L627.2,416.0L627.2,421.8L627.2,425.5L627.2,451.8L648.5,415.2L648.5,424.2L648.5,426.7L669.7,418.3L669.7,428.5L669.7,433.8L669.7,438.1" marker-start="url(#m550)" marker-mid="url(#m550)" marker-end="url(#m550)"/></g>
<g clip-path="url(#cp02)" fill="none" stroke="none"><path d="M726.0,316.5L726.0,318.4L726.0,320.6L726.0,321.8L726.0,333.6L726.0,341.0L726.0,392.3L726.0,394.4L726.0,395.5L726.0,399.3L726.0,404.2L726.0,406.2L768.6,289.3L768.6,290.0L768.6,292.4L768.6,296.1L768.6,308.5L768.6,313.8L768.6,325.0L768.6,326.9L768.6,327.2L768.6,330.2L768.6,332.6L768.6,337.0L768.6,338.7L768.6,339.0L768.6,340.2L768.6,343.8L768.6,347.0L768.6,397.4L768.6,399.5L768.6,408.5L768.6,409.4L768.6,411.0L768.6,415.6L768.6,416.9L789.8,288.4L789.8,289.5L789.8,296.3L789.8,301.9L789.8,303.9L789.8,308.6L789.8,310.4L789.8,311.9L789.8,313.1L789.8,313.5L789.8,318.6L789.8,319.9L789.8,321.0L789.8,322.0L789.8,324.9L789.8,326.0L789.8,327.5L789.8,331.4L789.8,332.6L789.8,334.8L789.8,335.6L789.8,337.7L789.8,340.1L789.8,343.4L789.8,343.9L789.8,345.3L789.8,352.5L789.8,398.3L789.8,399.6L789.8,401.6L789.8,406.9L789.8,409.3L789.8,409.8L789.8,424.3L789.8,424.8L811.1,283.2L811.1,286.2L811.1,288.2L811.1,290.1L811.1,296.2L811.1,303.1L811.1,303.9L811.1,304.7L811.1,308.1L811.1,329.4L811.1,337.7L811.1,342.7L811.1,345.6L811.1,399.1L811.1,399.8L811.1,400.9L811.1,405.3L811.1,405.7L811.1,408.2L811.1,410.3L811.1,415.7L811.1,418.8L811.1,421.5L811.1,422.9L811.1,424.1L811.1,426.8L832.4,274.8L832.4,279.1L832.4,290.9L832.4,294.1L832.4,299.2L832.4,301.2L832.4,314.2L832.4,315.7L832.4,318.5L832.4,324.1L832.4,325.0L832.4,330.5L832.4,333.4L832.4,335.8L832.4,340.4L832.4,342.1L832.4,354.7L832.4,400.4L832.4,403.9L832.4,404.8L832.4,409.9L832.4,415.1L832.4,421.0L832.4,422.5L832.4,425.8L853.6,248.6L853.6,252.8L853.6,260.6L853.6,266.8L853.6,274.6L853.6,276.4L853.6,290.3L853.6,304.0L853.6,307.1L853.6,316.5L853.6,320.3L853.6,323.2L853.6,346.2L853.6,348.3L853.6,351.5L853.6,354.1L853.6,358.5L853.6,403.2L853.6,404.8L853.6,405.8L853.6,407.5L853.6,409.3L853.6,417.3L853.6,422.7L853.6,423.5L853.6,429.4L896.2,220.6L896.2,224.6L896.2,225.4L896.2,230.6L896.2,237.3L896.2,240.6L896.2,242.0L896.2,251.0L896.2,253.3L896.2,259.1L896.2,264.5L896.2,265.3L896.2,268.4L896.2,286.8L896.2,296.1L896.2,303.1L896.2,307.4L896.2,310.0L896.2,314.3L896.2,315.7L896.2,321.5L896.2,322.8L896.2,327.2L896.2,338.6L896.2,345.9L896.2,351.4L896.2,352.9L896.2,360.4L896.2,405.0L896.2,405.2L896.2,407.4L896.2,409.2L896.2,410.0L896.2,413.3L896.2,415.2L896.2,425.2L896.2,427.5L896.2,429.0L896.2,429.8L896.2,439.9L917.4,198.8L917.4,214.8L917.4,215.0L917.4,218.0L917.4,229.8L917.4,240.8L917.4,246.6L917.4,252.2L917.4,258.7L917.4,268.1L917.4,281.8L917.4,284.2L917.4,286.3L917.4,292.1L917.4,316.2L917.4,317.3L917.4,327.5L917.4,330.9L917.4,334.9L917.4,336.2L917.4,339.7L917.4,345.0L917.4,348.7L917.4,350.9L917.4,354.8L917.4,357.2L917.4,401.7L917.4,403.4L917.4,405.5L917.4,407.9L917.4,413.7L917.4,416.0L917.4,417.2L917.4,417.9L917.4,423.1L917.4,426.7L917.4,427.3L917.4,429.2L917.4,432.2L917.4,436.0L917.4,437.7L917.4,439.1L938.7,179.7L938.7,185.4L938.7,190.8L938.7,194.7L938.7,198.4L938.7,199.2L938.7,203.4L938.7,206.9L938.7,212.2L938.7,215.7L938.7,221.6L938.7,236.3L938.7,238.3L938.7,239.3L938.7,242.2L938.7,250.0L938.7,251.0L938.7,259.5L938.7,268.0L938.7,276.4L938.7,283.5L938.7,311.8L938.7,316.3L938.7,320.0L938.7,321.8L938.7,324.0L938.7,328.8L938.7,400.4L938.7,409.7L938.7,410.5L938.7,416.5L938.7,421.8L938.7,423.5L938.7,424.4L938.7,427.2L938.7,433.1L938.7,441.5L938.7,445.1L960.0,181.3L960.0,225.1L960.0,231.5L960.0,240.1L960.0,292.8L960.0,302.0L960.0,320.0L960.0,347.0L960.0,396.5L960.0,416.6L960.0,420.4L960.0,432.3L960.0,437.1L960.0,444.3" marker-start="url(#m10)" marker-mid="url(#m10)" marker-end="url(#m10)"/><path d="M726.0,322.6L726.0,326.4L726.0,330.1L726.0,331.1L726.0,332.4L726.0,334.3L726.0,335.5L726.0,339.0L726.0,341.7L726.0,343.2L726.0,397.4L726.0,398.2L726.0,401.7L726.0,405.2L768.6,287.4L768.6,298.0L768.6,299.5L768.6,302.2L768.6,304.4L768.6,308.0L768.6,311.3L768.6,314.8L768.6,317.6L768.6,318.3L768.6,319.9L768.6,321.3L768.6,333.6L768.6,342.7L768.6,348.5L768.6,395.6L768.6,398.6L768.6,403.3L768.6,407.1L768.6,412.0L768.6,413.1L789.8,285.5L789.8,287.3L789.8,300.4L789.8,301.2L789.8,307.5L789.8,314.6L789.8,316.6L789.8,317.4L789.8,330.3L789.8,333.6L789.8,338.9L789.8,341.1L789.8,342.1L789.8,346.3L789.8,348.6L789.8,350.4L789.8,354.9L789.8,403.3L789.8,417.0L811.1,279.7L811.1,281.1L811.1,284.1L811.1,285.0L811.1,291.2L811.1,296.5L811.1,300.9L811.1,302.1L811.1,310.1L811.1,327.4L811.1,330.9L811.1,331.8L811.1,334.1L811.1,336.8L811.1,340.0L811.1,346.1L811.1,348.1L811.1,351.2L811.1,355.2L811.1,398.1L811.1,402.9L811.1,406.7L811.1,410.0L811.1,416.7L811.1,424.7L811.1,428.8L832.4,267.8L832.4,271.8L832.4,298.2L832.4,321.7L832.4,343.4L832.4,348.9L832.4,351.7L832.4,402.6L832.4,407.2L832.4,418.8L832.4,424.6L853.6,249.0L853.6,261.1L853.6,263.6L853.6,269.6L853.6,279.3L853.6,285.2L853.6,296.4L853.6,328.4L853.6,410.3L853.6,411.3L853.6,412.7L853.6,425.7L853.6,430.3L896.2,217.5L896.2,247.7L896.2,250.1L896.2,255.9L896.2,311.8L896.2,317.5L896.2,329.9L896.2,341.2L896.2,344.9L896.2,348.4L896.2,356.2L896.2,403.1L896.2,408.3L896.2,413.5L896.2,415.6L896.2,417.6L896.2,418.2L896.2,419.8L896.2,424.8L896.2,427.2L896.2,436.0L917.4,195.1L917.4,201.9L917.4,205.3L917.4,223.3L917.4,241.4L917.4,249.7L917.4,274.1L917.4,289.3L917.4,297.1L917.4,298.2L917.4,300.2L917.4,307.2L917.4,324.3L917.4,352.8L917.4,403.5L917.4,406.7L917.4,409.6L917.4,414.3L917.4,419.5L917.4,434.3L938.7,178.8L938.7,187.4L938.7,213.5L938.7,226.8L938.7,227.6L938.7,231.0L938.7,254.9L938.7,262.2L938.7,270.3L938.7,272.1L938.7,278.1L938.7,296.3L938.7,313.2L938.7,352.3L938.7,400.6L938.7,402.6L938.7,403.4L938.7,405.0L938.7,406.8L938.7,411.8L938.7,412.3L938.7,414.3L938.7,419.6L938.7,425.7L938.7,433.0L938.7,435.3L938.7,437.6L938.7,437.9L938.7,440.8L938.7,443.0L938.7,443.6L960.0,246.2L960.0,254.9L960.0,312.4L960.0,332.9L960.0,393.7L960.0,404.4L960.0,412.5L960.0,422.6L960.0,428.8L960.0,435.7L960.0,439.5" marker-start="url(#m30)" marker-mid="url(#m30)" marker-end="url(#m30)"/><path d="M726.0,319.7L726.0,325.6L726.0,329.0L726.0,338.2L726.0,390.5L726.0,403.2L768.6,291.2L768.6,295.4L768.6,297.5L768.6,300.6L768.6,303.0L768.6,310.0L768.6,320.9L768.6,323.1L768.6,324.5L768.6,328.9L768.6,331.1L768.6,400.7L768.6,402.5L768.6,413.8L789.8,285.4L789.8,290.6L789.8,291.4L789.8,297.6L789.8,308.8L789.8,322.9L789.8,350.7L789.8,397.2L789.8,404.9L789.8,405.8L789.8,412.1L811.1,279.9L811.1,291.8L811.1,292.8L811.1,307.1L811.1,332.6L811.1,338.6L811.1,341.4L811.1,348.7L811.1,349.8L811.1,353.8L811.1,356.1L811.1,414.0L811.1,418.1L811.1,429.6L811.1,430.4L832.4,269.5L832.4,277.2L832.4,281.1L832.4,286.5L832.4,289.0L832.4,293.1L832.4,305.6L832.4,306.5L832.4,308.2L832.4,327.6L832.4,337.5L832.4,347.3L832.4,401.9L832.4,406.4L832.4,408.3L832.4,411.6L832.4,412.7L832.4,414.0L832.4,417.7L832.4,420.9L832.4,427.3L832.4,429.7L853.6,256.6L853.6,271.5L853.6,280.7L853.6,284.2L853.6,299.4L853.6,304.2L853.6,313.5L853.6,315.9L853.6,323.8L853.6,326.1L853.6,332.7L853.6,341.6L853.6,342.7L853.6,355.6L853.6,415.3L853.6,421.4L853.6,426.8L853.6,427.8L896.2,220.0L896.2,229.5L896.2,233.5L896.2,236.1L896.2,270.9L896.2,272.4L896.2,284.7L896.2,292.5L896.2,293.9L896.2,302.0L896.2,324.8L896.2,332.5L896.2,338.1L896.2,411.4L896.2,420.5L896.2,422.5L896.2,423.6L896.2,431.5L896.2,433.1L917.4,207.6L917.4,228.0L917.4,232.9L917.4,236.0L917.4,244.0L917.4,254.0L917.4,257.1L917.4,261.6L917.4,262.7L917.4,277.4L917.4,280.7L917.4,302.9L917.4,309.2L917.4,311.1L917.4,314.3L917.4,329.2L917.4,400.8L917.4,408.3L917.4,411.5L917.4,412.0L917.4,420.0L917.4,421.4L917.4,424.3L917.4,433.1L938.7,192.5L938.7,201.2L938.7,232.0L938.7,286.0L938.7,287.8L938.7,289.0L938.7,291.7L938.7,308.9L938.7,318.9L938.7,326.8L938.7,331.5L938.7,405.4L938.7,414.9L938.7,417.1L938.7,421.4L938.7,428.6L938.7,431.8L938.7,439.8L960.0,166.3L960.0,399.3L960.0,406.2L960.0,408.0L960.0,416.9L960.0,430.1" marker-start="url(#m60)" marker-mid="url(#m60)" marker-end="url(#m60)"/><path d="M726.0,336.9L726.0,388.9L726.0,391.7L726.0,394.0L768.6,293.4L768.6,305.1L768.6,312.8L768.6,315.9L768.6,335.4L768.6,341.7L768.6,345.5L768.6,346.0L768.6,404.5L768.6,405.2L768.6,417.5L768.6,421.6L768.6,429.6L789.8,283.3L789.8,292.6L789.8,294.7L789.8,295.4L789.8,298.3L789.8,304.3L789.8,305.3L789.8,326.7L789.8,328.6L789.8,347.2L789.8,355.7L789.8,408.2L789.8,414.1L789.8,415.1L789.8,416.3L789.8,418.6L789.8,419.1L789.8,421.2L811.1,287.7L811.1,294.2L811.1,298.2L811.1,299.1L811.1,306.2L811.1,328.3L811.1,335.0L811.1,341.1L811.1,411.8L811.1,413.2L811.1,420.2L811.1,425.8L811.1,433.2L832.4,284.3L832.4,311.2L832.4,413.6L832.4,417.1L832.4,424.2L832.4,430.4L832.4,432.9L832.4,436.2L832.4,450.3L832.4,456.2L853.6,254.8L853.6,288.7L853.6,298.4L853.6,309.4L853.6,332.9L853.6,336.7L853.6,338.9L853.6,413.9L853.6,416.2L853.6,418.2L853.6,419.0L853.6,420.5L853.6,433.7L853.6,451.2L896.2,275.4L896.2,277.0L896.2,279.8L896.2,283.6L896.2,289.1L896.2,333.9L896.2,358.8L896.2,432.4L896.2,442.7L896.2,464.5L917.4,196.2L917.4,211.2L917.4,226.4L917.4,274.7L917.4,294.4L917.4,320.5L917.4,323.5L917.4,425.0L917.4,430.3L917.4,438.3L917.4,447.5L917.4,453.6L917.4,455.1L938.7,208.4L938.7,224.3L938.7,246.6L938.7,256.7L938.7,266.7L938.7,280.8L938.7,293.5L938.7,298.7L938.7,302.3L938.7,303.0L938.7,306.7L938.7,397.6L938.7,399.0L938.7,419.1L938.7,430.2L938.7,436.5L938.7,448.9L938.7,456.5L938.7,463.8L938.7,468.9L960.0,208.2L960.0,269.1L960.0,340.3L960.0,410.9L960.0,425.0L960.0,442.3L960.0,451.1L960.0,456.0L960.0,460.1" marker-start="url(#m100)" marker-mid="url(#m100)" marker-end="url(#m100)"/><path d="M726.0,323.4L726.0,327.2L726.0,400.8L768.6,306.9L768.6,335.0L768.6,425.2L789.8,353.0L789.8,402.5L789.8,411.5L789.8,420.6L789.8,423.1L789.8,426.5L789.8,430.6L789.8,435.3L789.8,441.1L789.8,445.5L811.1,344.8L811.1,352.6L811.1,403.2L811.1,440.9L811.1,445.2L811.1,446.1L811.1,451.9L811.1,455.2L811.1,470.6L832.4,429.0L832.4,434.4L832.4,444.6L832.4,447.1L832.4,452.9L853.6,292.6L853.6,407.1L853.6,428.9L853.6,441.0L853.6,446.2L853.6,449.9L853.6,453.5L896.2,245.3L896.2,262.0L896.2,299.2L896.2,434.5L896.2,437.2L896.2,438.5L896.2,443.2L896.2,448.3L896.2,452.6L896.2,457.6L896.2,460.7L917.4,208.5L917.4,221.8L917.4,236.7L917.4,266.5L917.4,269.9L917.4,340.4L917.4,345.5L917.4,431.6L917.4,441.5L917.4,444.3L917.4,446.8L917.4,450.8L917.4,458.4L917.4,463.5L938.7,184.1L938.7,217.7L938.7,243.8L938.7,263.2L938.7,408.3L938.7,427.9L938.7,451.0L938.7,454.9L960.0,172.6L960.0,213.7L960.0,262.2L960.0,306.2L960.0,400.3" marker-start="url(#m140)" marker-mid="url(#m140)" marker-end="url(#m140)"/><path d="M768.6,423.1L768.6,428.7L768.6,432.0L789.8,432.6L789.8,437.6L789.8,440.4L811.1,435.5L811.1,438.1L811.1,441.8L811.1,449.3L811.1,453.0L832.4,440.1L832.4,442.9L832.4,447.8L832.4,457.6L853.6,434.7L853.6,438.0L853.6,440.3L853.6,443.8L853.6,467.7L896.2,445.8L896.2,449.9L896.2,454.6L896.2,462.1L896.2,466.9L917.4,459.9L917.4,465.2L938.7,447.8L938.7,459.1L938.7,461.3L938.7,464.3L938.7,467.5L938.7,472.5L960.0,204.7L960.0,446.5L960.0,448.6L960.0,453.8L960.0,463.0" marker-start="url(#m190)" marker-mid="url(#m190)" marker-end="url(#m190)"/><path d="M726.0,293.2L726.0,384.9L768.6,355.2L768.6,439.3L768.6,447.6L768.6,453.9L768.6,462.6L789.8,304.7L789.8,367.9L789.8,370.7L789.8,469.1L811.1,316.3L811.1,373.0L811.1,377.7L811.1,379.1L832.4,371.6L832.4,373.8L832.4,377.0L853.6,293.2L853.6,301.8L853.6,375.2L853.6,376.5L853.6,380.6L896.2,262.9L896.2,278.8L896.2,368.0L896.2,368.4L917.4,362.4L938.7,362.4L938.7,365.3L960.0,270.1L960.0,278.8L960.0,348.0L960.0,356.6" marker-start="url(#m370)" marker-mid="url(#m370)" marker-end="url(#m370)"/><path d="M726.0,300.1L726.0,304.6L726.0,306.4L726.0,308.2L726.0,311.4L726.0,384.1L726.0,397.0L768.6,366.4L768.6,368.6L768.6,370.7L768.6,471.4L789.8,373.4L789.8,385.7L789.8,390.3L811.1,384.9L832.4,391.8L853.6,365.9L853.6,394.1L896.2,392.7L896.2,431.6L917.4,368.2L917.4,382.6L917.4,451.8L938.7,371.1L938.7,375.4L938.7,391.8L938.7,431.6L938.7,448.9L960.0,371.1L960.0,376.8L960.0,402.8L960.0,448.9" marker-start="url(#m550)" marker-mid="url(#m550)" marker-end="url(#m550)"/></g>
<g clip-path="url(#cp03)" fill="none" stroke="none"><path d="M1016.3,330.3L1016.3,336.5L1016.3,337.6L1016.3,340.2L1016.3,341.9L1016.3,346.2L1016.3,349.7L1016.3,368.5L1016.3,370.3L1016.3,381.8L1016.3,388.4L1016.3,394.5L1016.3,399.2L1058.8,326.9L1058.8,327.8L1058.8,329.3L1058.8,333.7L1058.8,338.7L1058.8,375.8L1058.8,384.4L1058.8,385.4L1058.8,386.9L1058.8,388.9L1058.8,394.4L1058.8,399.5L1058.8,399.9L1058.8,403.1L1058.8,405.4L1058.8,406.5L1058.8,414.1L1080.1,312.5L1080.1,315.6L1080.1,316.8L1080.1,325.9L1080.1,327.1L1080.1,327.2L1080.1,335.9L1080.1,341.6L1080.1,343.5L1080.1,344.8L1080.1,377.2L1080.1,377.6L1080.1,385.8L1080.1,386.9L1080.1,389.7L1080.1,392.6L1080.1,397.8L1080.1,404.3L1080.1,405.8L1080.1,407.3L1080.1,410.2L1080.1,411.6L1080.1,414.8L1101.3,312.2L1101.3,313.0L1101.3,315.6L1101.3,320.6L1101.3,322.9L1101.3,333.7L1101.3,335.3L1101.3,338.4L1101.3,341.1L1101.3,343.1L1101.3,369.4L1101.3,371.6L1101.3,378.2L1101.3,382.9L1101.3,390.4L1101.3,392.2L1101.3,395.8L1101.3,400.8L1101.3,403.5L1101.3,409.5L1101.3,413.4L1101.3,418.7L1101.3,418.9L1122.6,303.5L1122.6,306.4L1122.6,310.2L1122.6,312.5L1122.6,315.1L1122.6,317.6L1122.6,319.5L1122.6,321.3L1122.6,322.7L1122.6,325.7L1122.6,326.7L1122.6,327.6L1122.6,331.3L1122.6,333.1L1122.6,334.6L1122.6,339.4L1122.6,341.4L1122.6,342.0L1122.6,343.3L1122.6,364.3L1122.6,367.0L1122.6,369.8L1122.6,374.8L1122.6,382.1L1122.6,384.7L1122.6,387.6L1122.6,388.7L1122.6,389.7L1122.6,390.9L1122.6,392.0L1122.6,394.6L1122.6,397.8L1122.6,403.8L1122.6,405.3L1122.6,407.5L1122.6,408.7L1122.6,414.6L1122.6,414.7L1122.6,415.9L1143.9,290.0L1143.9,297.0L1143.9,303.0L1143.9,303.9L1143.9,306.8L1143.9,311.0L1143.9,314.5L1143.9,320.4L1143.9,321.7L1143.9,322.3L1143.9,326.0L1143.9,327.6L1143.9,328.8L1143.9,337.8L1143.9,340.7L1143.9,356.5L1143.9,358.8L1143.9,359.9L1143.9,360.9L1143.9,365.6L1143.9,368.7L1143.9,369.9L1143.9,371.4L1143.9,372.3L1143.9,375.7L1143.9,377.0L1143.9,378.6L1143.9,380.2L1143.9,383.8L1143.9,395.8L1143.9,398.5L1143.9,402.1L1143.9,409.1L1143.9,410.4L1143.9,411.3L1186.4,263.9L1186.4,268.9L1186.4,272.4L1186.4,277.2L1186.4,278.8L1186.4,284.5L1186.4,290.2L1186.4,295.2L1186.4,304.6L1186.4,312.9L1186.4,313.8L1186.4,323.1L1186.4,325.2L1186.4,328.6L1186.4,331.7L1186.4,336.6L1186.4,338.7L1186.4,341.6L1186.4,348.1L1186.4,352.5L1186.4,354.7L1186.4,357.4L1186.4,359.1L1186.4,365.9L1186.4,375.1L1186.4,384.5L1186.4,392.9L1186.4,394.8L1186.4,407.6L1207.6,257.8L1207.6,265.0L1207.6,276.3L1207.6,278.1L1207.6,280.0L1207.6,290.0L1207.6,292.5L1207.6,300.8L1207.6,301.5L1207.6,303.5L1207.6,312.6L1207.6,343.2L1207.6,347.4L1207.6,357.8L1207.6,366.0L1207.6,369.4L1207.6,376.6L1207.6,376.8L1207.6,392.1L1207.6,401.2L1207.6,403.0L1207.6,406.2L1207.6,415.6L1228.9,251.4L1228.9,263.1L1228.9,274.3L1228.9,289.7L1228.9,291.9L1228.9,293.9L1228.9,310.3L1228.9,322.3L1228.9,331.4L1228.9,333.4L1228.9,337.1L1228.9,344.6L1228.9,349.8L1228.9,356.4L1228.9,363.8L1228.9,369.7L1228.9,378.0L1228.9,383.7L1228.9,387.7L1228.9,390.9L1228.9,395.2L1228.9,395.6L1228.9,404.2L1228.9,410.4L1250.2,214.8L1250.2,221.8L1250.2,224.6L1250.2,229.6L1250.2,288.5L1250.2,293.3L1250.2,309.3L1250.2,316.1L1250.2,319.7L1250.2,325.8L1250.2,332.1L1250.2,335.9L1250.2,343.7L1250.2,360.8L1250.2,365.4L1250.2,368.4L1250.2,374.2L1250.2,393.6L1250.2,397.1L1250.2,398.6L1250.2,406.3L1250.2,408.7L1250.2,411.2" marker-start="url(#m10)" marker-mid="url(#m10)" marker-end="url(#m10)"/><path d="M1016.3,330.7L1016.3,332.9L1016.3,336.4L1016.3,344.7L1016.3,345.2L1016.3,375.7L1016.3,377.2L1016.3,391.9L1058.8,317.7L1058.8,319.1L1058.8,320.6L1058.8,321.7L1058.8,329.8L1058.8,335.1L1058.8,335.6L1058.8,379.8L1058.8,387.8L1058.8,389.6L1058.8,391.7L1058.8,395.9L1058.8,401.2L1058.8,404.1L1058.8,407.7L1058.8,409.9L1058.8,410.2L1080.1,307.9L1080.1,308.4L1080.1,314.5L1080.1,321.2L1080.1,324.3L1080.1,328.6L1080.1,329.7L1080.1,337.8L1080.1,340.1L1080.1,341.2L1080.1,379.4L1080.1,385.5L1080.1,388.9L1080.1,390.9L1080.1,392.0L1080.1,394.0L1080.1,398.8L1080.1,402.5L1080.1,408.1L1080.1,410.0L1080.1,413.7L1101.3,307.2L1101.3,318.4L1101.3,319.0L1101.3,323.7L1101.3,328.4L1101.3,329.5L1101.3,332.9L1101.3,337.3L1101.3,339.6L1101.3,341.1L1101.3,369.0L1101.3,379.2L1101.3,380.5L1101.3,381.4L1101.3,384.0L1101.3,386.1L1101.3,391.0L1101.3,394.9L1101.3,396.8L1101.3,398.5L1101.3,404.7L1101.3,412.1L1101.3,416.9L1122.6,300.3L1122.6,304.1L1122.6,305.1L1122.6,307.1L1122.6,309.1L1122.6,313.3L1122.6,317.1L1122.6,320.5L1122.6,324.4L1122.6,328.1L1122.6,332.7L1122.6,336.6L1122.6,340.8L1122.6,344.8L1122.6,345.8L1122.6,365.1L1122.6,367.2L1122.6,372.8L1122.6,373.3L1122.6,376.6L1122.6,383.9L1122.6,392.8L1122.6,395.7L1122.6,401.9L1122.6,408.9L1122.6,413.4L1143.9,297.9L1143.9,309.5L1143.9,312.7L1143.9,316.2L1143.9,319.3L1143.9,325.0L1143.9,329.7L1143.9,335.7L1143.9,338.7L1143.9,341.0L1143.9,351.5L1143.9,352.6L1143.9,357.4L1143.9,362.7L1143.9,373.6L1143.9,386.5L1143.9,388.6L1143.9,390.6L1143.9,391.5L1143.9,392.4L1143.9,393.3L1143.9,395.2L1143.9,400.2L1143.9,406.3L1143.9,407.5L1186.4,266.3L1186.4,273.5L1186.4,288.9L1186.4,298.6L1186.4,302.1L1186.4,310.0L1186.4,318.1L1186.4,320.3L1186.4,332.8L1186.4,343.1L1186.4,350.6L1186.4,372.6L1186.4,387.0L1186.4,402.3L1186.4,408.7L1186.4,411.7L1186.4,416.0L1207.6,255.7L1207.6,266.3L1207.6,269.8L1207.6,293.9L1207.6,308.6L1207.6,315.0L1207.6,327.5L1207.6,329.7L1207.6,338.4L1207.6,343.6L1207.6,356.9L1207.6,379.1L1207.6,382.4L1207.6,389.1L1207.6,394.8L1207.6,396.4L1207.6,400.4L1207.6,413.7L1228.9,236.1L1228.9,237.6L1228.9,242.4L1228.9,246.6L1228.9,259.8L1228.9,264.4L1228.9,268.3L1228.9,270.6L1228.9,273.2L1228.9,277.4L1228.9,281.9L1228.9,284.5L1228.9,297.7L1228.9,302.7L1228.9,306.6L1228.9,312.3L1228.9,318.1L1228.9,330.5L1228.9,338.1L1228.9,371.9L1228.9,390.2L1228.9,407.5L1250.2,217.3L1250.2,219.9L1250.2,223.8L1250.2,227.4L1250.2,286.3L1250.2,290.0L1250.2,299.5L1250.2,303.0L1250.2,305.9L1250.2,311.5L1250.2,321.2L1250.2,322.8L1250.2,329.3L1250.2,329.8L1250.2,342.5L1250.2,350.5L1250.2,372.0L1250.2,386.1L1250.2,391.9L1250.2,413.7" marker-start="url(#m30)" marker-mid="url(#m30)" marker-end="url(#m30)"/><path d="M1016.3,332.7L1016.3,339.5L1016.3,343.5L1016.3,348.5L1016.3,371.5L1016.3,396.2L1058.8,324.7L1058.8,337.6L1058.8,341.2L1058.8,380.5L1058.8,396.6L1058.8,408.5L1058.8,413.3L1080.1,318.4L1080.1,321.9L1080.1,333.0L1080.1,334.3L1080.1,374.0L1080.1,382.3L1080.1,383.9L1080.1,395.2L1080.1,399.8L1080.1,401.7L1101.3,308.7L1101.3,309.5L1101.3,315.3L1101.3,316.7L1101.3,325.2L1101.3,326.2L1101.3,331.4L1101.3,334.2L1101.3,384.9L1101.3,387.8L1101.3,388.8L1101.3,393.8L1101.3,399.0L1101.3,401.9L1101.3,403.1L1101.3,408.1L1101.3,408.4L1101.3,411.4L1101.3,415.1L1122.6,301.7L1122.6,310.8L1122.6,330.1L1122.6,336.0L1122.6,337.5L1122.6,347.2L1122.6,368.8L1122.6,375.7L1122.6,378.1L1122.6,379.9L1122.6,383.0L1122.6,386.5L1122.6,396.8L1122.6,400.0L1143.9,292.7L1143.9,295.0L1143.9,300.0L1143.9,301.2L1143.9,305.9L1143.9,312.3L1143.9,315.3L1143.9,323.7L1143.9,330.4L1143.9,331.7L1143.9,334.7L1143.9,361.9L1143.9,364.6L1143.9,366.2L1143.9,375.2L1143.9,380.2L1143.9,381.8L1143.9,388.2L1143.9,399.9L1143.9,402.7L1143.9,404.4L1143.9,404.8L1143.9,411.9L1143.9,413.0L1186.4,282.7L1186.4,292.2L1186.4,315.5L1186.4,361.0L1186.4,364.4L1186.4,369.1L1186.4,386.3L1186.4,396.3L1186.4,398.7L1186.4,403.2L1186.4,413.9L1207.6,253.7L1207.6,260.7L1207.6,273.0L1207.6,282.6L1207.6,307.0L1207.6,321.7L1207.6,323.4L1207.6,324.8L1207.6,332.9L1207.6,335.4L1207.6,340.0L1207.6,352.6L1207.6,353.8L1207.6,361.8L1207.6,373.4L1228.9,241.6L1228.9,252.3L1228.9,295.3L1228.9,300.8L1228.9,309.0L1228.9,314.3L1228.9,341.4L1228.9,358.5L1228.9,379.0L1228.9,382.9L1228.9,398.1L1228.9,400.5L1228.9,413.9L1228.9,415.9L1250.2,231.1L1250.2,231.6L1250.2,294.0L1250.2,339.9L1250.2,347.6L1250.2,362.4L1250.2,369.7L1250.2,379.4L1250.2,382.3L1250.2,384.2L1250.2,403.0" marker-start="url(#m60)" marker-mid="url(#m60)" marker-end="url(#m60)"/><path d="M1016.3,334.9L1016.3,379.9L1016.3,385.3L1016.3,386.9L1058.8,323.5L1058.8,330.7L1058.8,332.6L1058.8,336.4L1058.8,340.2L1058.8,377.6L1058.8,381.6L1058.8,390.5L1058.8,393.8L1058.8,397.6L1058.8,412.2L1058.8,415.8L1058.8,416.0L1080.1,309.8L1080.1,323.2L1080.1,331.5L1080.1,376.3L1080.1,396.4L1080.1,403.8L1080.1,413.2L1080.1,416.6L1101.3,310.6L1101.3,328.0L1101.3,373.8L1101.3,374.8L1101.3,416.2L1122.6,300.0L1122.6,315.5L1122.6,362.8L1122.6,370.9L1122.6,379.1L1122.6,399.1L1122.6,402.7L1122.6,410.6L1122.6,412.0L1143.9,291.1L1143.9,294.6L1143.9,298.5L1143.9,304.5L1143.9,317.8L1143.9,333.5L1143.9,353.2L1143.9,354.6L1143.9,368.3L1143.9,383.0L1143.9,397.7L1186.4,280.6L1186.4,299.3L1186.4,306.6L1186.4,344.3L1186.4,377.5L1186.4,378.1L1186.4,381.2L1186.4,389.5L1207.6,262.9L1207.6,272.2L1207.6,285.2L1207.6,287.5L1207.6,297.1L1207.6,315.3L1207.6,317.5L1207.6,349.6L1207.6,362.7L1207.6,388.0L1207.6,409.2L1228.9,256.1L1228.9,257.1L1228.9,318.7L1228.9,323.9L1228.9,326.8L1228.9,345.5L1228.9,349.3L1228.9,354.2L1228.9,361.7L1228.9,364.9L1228.9,368.1L1228.9,376.1L1228.9,406.0L1228.9,444.6L1250.2,216.4L1250.2,219.2L1250.2,220.7L1250.2,228.1L1250.2,271.3L1250.2,276.4L1250.2,278.2L1250.2,283.9L1250.2,304.8L1250.2,337.0L1250.2,377.2L1250.2,401.7" marker-start="url(#m100)" marker-mid="url(#m100)" marker-end="url(#m100)"/><path d="M1016.3,348.3L1058.8,320.2L1058.8,325.6L1058.8,378.2L1058.8,382.9L1058.8,436.0L1080.1,311.8L1080.1,313.4L1080.1,319.7L1080.1,333.9L1080.1,337.0L1080.1,380.9L1080.1,381.7L1101.3,322.2L1101.3,372.1L1101.3,376.0L1101.3,377.1L1101.3,406.4L1122.6,406.2L1143.9,291.8L1143.9,308.2L1143.9,336.3L1143.9,385.5L1207.6,370.6L1207.6,384.8L1207.6,411.9L1228.9,248.7L1228.9,279.5L1228.9,285.2L1250.2,225.8L1250.2,251.0L1250.2,255.5L1250.2,272.8L1250.2,279.7L1250.2,296.7L1250.2,313.7L1250.2,389.6" marker-start="url(#m140)" marker-mid="url(#m140)" marker-end="url(#m140)"/><path d="M1016.3,399.9L1186.4,438.0L1250.2,260.9L1250.2,441.7" marker-start="url(#m190)" marker-mid="url(#m190)" marker-end="url(#m190)"/><path d="M1016.3,327.8L1058.8,343.7L1058.8,423.4L1058.8,425.4L1058.8,429.7L1080.1,435.7L1080.1,437.1L1080.1,440.9L1101.3,438.9L1101.3,448.9L1122.6,330.7L1122.6,448.9L1122.6,451.8L1122.6,465.4L1143.9,316.3L1143.9,330.7L1143.9,451.8L1143.9,467.7L1186.4,304.7L1186.4,313.4L1186.4,459.6L1207.6,299.0L1207.6,316.3L1207.6,472.9L1228.9,317.7L1228.9,358.1L1250.2,333.6L1250.2,348.0" marker-start="url(#m370)" marker-mid="url(#m370)" marker-end="url(#m370)"/><path d="M1016.3,391.3L1058.8,349.7L1058.8,354.3L1058.8,356.9L1058.8,445.2L1058.8,459.6L1080.1,352.3L1080.1,353.8L1080.1,357.4L1080.1,423.0L1080.1,428.8L1101.3,355.0L1101.3,360.3L1101.3,361.3L1101.3,431.6L1101.3,451.8L1122.6,345.1L1122.6,350.0L1122.6,354.8L1122.6,425.9L1122.6,435.1L1143.9,348.0L1143.9,421.5L1143.9,433.9L1186.4,415.8L1186.4,428.8L1207.6,420.1L1207.6,430.2L1207.6,441.7L1228.9,423.6L1228.9,429.1L1228.9,436.0L1250.2,414.3L1250.2,433.1" marker-start="url(#m550)" marker-mid="url(#m550)" marker-end="url(#m550)"/></g>
<g clip-path="url(#cp04)" fill="none" stroke="none"><path d="M1306.5,296.1L1306.5,297.8L1306.5,305.7L1306.5,320.9L1306.5,374.7L1306.5,376.5L1306.5,380.2L1306.5,388.3L1306.5,396.3L1306.5,401.4L1306.5,404.5L1306.5,407.1L1349.0,292.8L1349.0,293.2L1349.0,294.5L1349.0,295.5L1349.0,297.1L1349.0,303.6L1349.0,306.8L1349.0,311.0L1349.0,316.4L1349.0,318.0L1349.0,319.5L1349.0,320.5L1349.0,322.9L1349.0,324.9L1349.0,328.5L1349.0,388.9L1349.0,391.5L1349.0,394.5L1349.0,395.6L1349.0,397.2L1349.0,405.5L1349.0,407.9L1349.0,410.3L1370.3,280.0L1370.3,285.9L1370.3,286.9L1370.3,293.4L1370.3,294.4L1370.3,296.5L1370.3,299.8L1370.3,315.7L1370.3,389.4L1370.3,392.9L1370.3,395.0L1370.3,402.4L1370.3,408.9L1370.3,412.0L1370.3,413.5L1370.3,414.5L1370.3,419.4L1370.3,420.3L1370.3,422.2L1370.3,424.0L1370.3,424.9L1391.5,261.1L1391.5,265.1L1391.5,267.9L1391.5,286.3L1391.5,296.3L1391.5,301.9L1391.5,305.4L1391.5,310.2L1391.5,312.7L1391.5,316.2L1391.5,321.5L1391.5,324.4L1391.5,383.8L1391.5,386.1L1391.5,387.1L1391.5,388.1L1391.5,389.8L1391.5,391.8L1391.5,394.5L1391.5,398.4L1391.5,401.0L1391.5,403.7L1391.5,404.0L1391.5,405.6L1391.5,411.1L1391.5,413.6L1391.5,416.4L1391.5,418.7L1391.5,419.3L1391.5,420.8L1391.5,421.9L1391.5,425.4L1412.8,282.6L1412.8,287.0L1412.8,289.0L1412.8,300.4L1412.8,305.9L1412.8,310.1L1412.8,311.9L1412.8,387.9L1412.8,392.4L1412.8,398.0L1412.8,401.3L1412.8,402.9L1412.8,413.0L1412.8,416.2L1412.8,421.7L1412.8,424.2L1412.8,430.3L1412.8,432.7L1434.1,233.9L1434.1,244.5L1434.1,258.2L1434.1,259.6L1434.1,267.4L1434.1,301.2L1434.1,311.8L1434.1,378.7L1434.1,380.3L1434.1,386.8L1434.1,388.6L1434.1,395.0L1434.1,397.9L1434.1,409.9L1434.1,415.5L1434.1,420.4L1434.1,422.6L1434.1,430.2L1434.1,435.3L1434.1,439.7L1476.6,161.3L1476.6,171.9L1476.6,181.3L1476.6,195.3L1476.6,238.9L1476.6,249.4L1476.6,254.9L1476.6,259.3L1476.6,321.6L1476.6,336.8L1476.6,338.7L1476.6,340.7L1476.6,348.3L1476.6,352.8L1476.6,354.5L1476.6,356.4L1476.6,358.1L1476.6,359.6L1476.6,362.4L1476.6,367.0L1476.6,375.6L1476.6,385.6L1497.9,168.8L1497.9,177.8L1497.9,234.0L1497.9,246.1L1497.9,301.8L1497.9,314.4L1497.9,316.7L1497.9,317.3L1497.9,319.1L1497.9,322.3L1497.9,326.7L1497.9,332.5L1497.9,333.9L1497.9,336.1L1497.9,338.3L1497.9,341.5L1497.9,342.4L1497.9,354.5L1497.9,355.6L1497.9,365.5L1497.9,368.2L1497.9,369.5L1497.9,371.3L1497.9,374.0L1497.9,375.7L1497.9,377.3L1497.9,378.8L1519.1,124.5L1519.1,164.8L1519.1,207.2L1519.1,210.2L1519.1,274.4L1519.1,301.5L1519.1,304.8L1519.1,325.4L1519.1,384.3L1519.1,392.8L1519.1,400.1L1519.1,412.8L1519.1,414.3L1519.1,416.9L1519.1,421.9L1519.1,422.3L1519.1,424.6L1540.4,134.6L1540.4,247.0L1540.4,280.5L1540.4,285.1L1540.4,285.4L1540.4,290.6L1540.4,294.2L1540.4,294.7L1540.4,296.7L1540.4,300.0L1540.4,304.8L1540.4,305.8L1540.4,311.5L1540.4,314.5L1540.4,316.9L1540.4,318.4L1540.4,345.1L1540.4,370.7L1540.4,372.6L1540.4,389.9L1540.4,400.8L1540.4,413.4" marker-start="url(#m10)" marker-mid="url(#m10)" marker-end="url(#m10)"/><path d="M1306.5,301.0L1306.5,325.2L1306.5,381.2L1306.5,390.6L1349.0,297.9L1349.0,299.6L1349.0,302.8L1349.0,310.2L1349.0,324.3L1349.0,390.1L1349.0,392.5L1349.0,393.7L1349.0,402.0L1349.0,405.2L1370.3,281.6L1370.3,283.1L1370.3,283.8L1370.3,287.9L1370.3,295.8L1370.3,303.8L1370.3,307.6L1370.3,308.0L1370.3,309.5L1370.3,310.9L1370.3,311.8L1370.3,313.0L1370.3,324.9L1370.3,329.2L1370.3,391.1L1370.3,396.8L1370.3,401.2L1370.3,406.9L1370.3,409.6L1391.5,271.3L1391.5,273.0L1391.5,276.0L1391.5,293.6L1391.5,302.7L1391.5,389.5L1391.5,397.2L1391.5,406.8L1391.5,408.6L1391.5,413.0L1391.5,423.3L1391.5,424.8L1412.8,275.0L1412.8,278.3L1412.8,290.8L1412.8,292.8L1412.8,294.4L1412.8,317.4L1412.8,320.7L1412.8,375.8L1412.8,378.4L1412.8,383.0L1412.8,385.7L1412.8,404.8L1412.8,410.3L1412.8,435.6L1434.1,242.1L1434.1,244.3L1434.1,250.0L1434.1,253.7L1434.1,264.7L1434.1,365.9L1434.1,369.8L1434.1,376.4L1434.1,381.6L1434.1,402.7L1434.1,405.6L1434.1,409.7L1434.1,433.3L1476.6,154.5L1476.6,157.3L1476.6,166.8L1476.6,338.9L1476.6,344.0L1476.6,345.9L1476.6,352.9L1476.6,364.9L1476.6,371.7L1476.6,377.7L1476.6,383.2L1476.6,387.7L1497.9,237.5L1497.9,284.5L1497.9,321.6L1497.9,324.1L1497.9,329.7L1497.9,331.3L1497.9,337.6L1497.9,340.1L1497.9,343.3L1497.9,345.9L1497.9,352.9L1497.9,356.4L1497.9,363.0L1497.9,364.8L1497.9,366.6L1497.9,370.5L1497.9,373.6L1497.9,376.9L1519.1,137.4L1519.1,321.4L1519.1,337.2L1519.1,385.7L1519.1,394.8L1519.1,403.8L1519.1,407.1L1519.1,419.6L1519.1,429.1L1519.1,430.8L1540.4,131.7L1540.4,279.2L1540.4,279.3L1540.4,282.3L1540.4,289.4L1540.4,291.9L1540.4,292.4L1540.4,297.4L1540.4,302.4L1540.4,308.0L1540.4,309.8L1540.4,310.7L1540.4,313.0L1540.4,315.1L1540.4,367.2L1540.4,382.9L1540.4,386.9L1540.4,387.0L1540.4,396.5L1540.4,403.1L1540.4,404.0L1540.4,408.4L1540.4,408.9L1540.4,414.0L1540.4,425.2" marker-start="url(#m30)" marker-mid="url(#m30)" marker-end="url(#m30)"/><path d="M1306.5,311.0L1306.5,313.5L1306.5,317.8L1306.5,383.4L1306.5,385.8L1306.5,398.2L1349.0,300.3L1349.0,308.3L1349.0,311.8L1349.0,313.2L1349.0,315.1L1349.0,387.8L1349.0,397.8L1349.0,401.7L1370.3,277.5L1370.3,292.3L1370.3,301.7L1370.3,302.9L1370.3,306.2L1370.3,395.9L1370.3,398.7L1370.3,401.7L1370.3,403.6L1370.3,405.5L1370.3,415.4L1370.3,416.7L1370.3,421.8L1391.5,284.5L1391.5,291.8L1391.5,299.1L1391.5,318.4L1391.5,384.2L1391.5,393.5L1391.5,402.1L1391.5,408.4L1391.5,417.3L1412.8,276.7L1412.8,303.1L1412.8,305.8L1412.8,313.3L1412.8,318.6L1412.8,379.8L1434.1,237.3L1434.1,268.3L1434.1,314.5L1434.1,323.1L1434.1,371.4L1434.1,391.1L1434.1,401.7L1434.1,412.4L1434.1,424.8L1434.1,426.8L1434.1,436.7L1434.1,441.7L1476.6,177.7L1476.6,193.5L1476.6,243.6L1476.6,287.5L1476.6,312.4L1476.6,341.3L1476.6,342.8L1476.6,347.9L1476.6,350.9L1476.6,360.9L1476.6,361.3L1476.6,370.3L1476.6,372.8L1476.6,374.3L1476.6,380.6L1476.6,381.5L1476.6,384.5L1476.6,386.5L1497.9,173.0L1497.9,251.9L1497.9,323.1L1497.9,325.4L1497.9,328.3L1497.9,330.2L1497.9,348.3L1497.9,349.6L1497.9,351.4L1497.9,357.9L1497.9,359.8L1497.9,361.2L1519.1,216.7L1519.1,218.7L1519.1,398.7L1519.1,408.6L1540.4,159.1L1540.4,277.7L1540.4,288.5L1540.4,306.5L1540.4,319.5L1540.4,336.5L1540.4,369.1L1540.4,376.3L1540.4,393.1L1540.4,396.9L1540.4,418.2L1540.4,421.1" marker-start="url(#m60)" marker-mid="url(#m60)" marker-end="url(#m60)"/><path d="M1306.5,394.5L1306.5,417.2L1349.0,288.0L1349.0,302.0L1349.0,305.3L1349.0,306.9L1349.0,321.0L1349.0,403.7L1349.0,406.9L1349.0,419.6L1349.0,423.3L1349.0,425.6L1370.3,279.0L1370.3,289.6L1370.3,291.1L1370.3,298.2L1370.3,305.1L1370.3,389.9L1370.3,393.3L1370.3,399.0L1370.3,407.7L1370.3,411.4L1370.3,418.6L1391.5,262.8L1391.5,277.6L1391.5,279.5L1391.5,289.2L1391.5,308.6L1391.5,320.6L1391.5,399.4L1391.5,409.7L1391.5,415.2L1391.5,427.2L1391.5,428.3L1412.8,240.9L1412.8,249.2L1412.8,256.2L1412.8,267.1L1412.8,281.9L1412.8,296.8L1412.8,388.7L1412.8,393.9L1412.8,408.9L1412.8,418.8L1434.1,216.3L1434.1,222.6L1434.1,224.5L1434.1,227.5L1434.1,229.2L1434.1,231.2L1434.1,237.6L1434.1,247.4L1434.1,256.0L1434.1,261.6L1434.1,270.6L1434.1,373.1L1434.1,384.6L1434.1,397.6L1476.6,188.0L1476.6,247.8L1476.6,296.5L1476.6,346.9L1476.6,350.2L1476.6,357.4L1476.6,364.5L1476.6,366.0L1476.6,388.7L1476.6,392.5L1476.6,397.2L1476.6,401.6L1476.6,407.0L1476.6,410.4L1476.6,415.8L1476.6,429.0L1476.6,432.7L1476.6,433.5L1476.6,439.1L1476.6,440.6L1497.9,124.8L1497.9,133.1L1497.9,185.7L1497.9,230.5L1497.9,315.6L1497.9,320.3L1497.9,335.4L1497.9,344.6L1497.9,347.6L1497.9,362.3L1519.1,110.0L1519.1,224.9L1519.1,241.9L1519.1,311.9L1519.1,314.8L1519.1,332.7L1519.1,355.7L1519.1,389.4L1519.1,391.9L1519.1,440.3L1540.4,112.9L1540.4,153.3L1540.4,275.8L1540.4,282.8L1540.4,286.4L1540.4,300.9L1540.4,318.2L1540.4,321.5L1540.4,378.7L1540.4,380.9L1540.4,420.0" marker-start="url(#m100)" marker-mid="url(#m100)" marker-end="url(#m100)"/><path d="M1306.5,401.5L1349.0,314.1L1349.0,326.0L1349.0,327.8L1349.0,399.6L1349.0,399.8L1349.0,409.8L1349.0,414.1L1349.0,418.4L1370.3,284.6L1370.3,298.6L1370.3,313.8L1391.5,282.5L1391.5,392.8L1391.5,395.6L1412.8,238.7L1412.8,246.5L1412.8,259.4L1412.8,272.1L1412.8,324.2L1412.8,396.9L1412.8,418.0L1412.8,427.5L1412.8,428.4L1412.8,453.3L1434.1,211.3L1434.1,214.9L1434.1,217.2L1434.1,220.7L1434.1,226.0L1434.1,228.7L1434.1,232.2L1434.1,417.6L1476.6,169.3L1476.6,184.0L1476.6,209.5L1476.6,303.6L1476.6,368.7L1476.6,373.0L1476.6,376.5L1476.6,379.4L1476.6,403.3L1476.6,409.6L1476.6,412.3L1476.6,419.0L1476.6,420.8L1476.6,423.5L1476.6,424.0L1476.6,435.9L1497.9,139.6L1497.9,351.1L1497.9,359.4L1497.9,390.6L1497.9,392.0L1497.9,397.1L1497.9,397.6L1497.9,402.3L1497.9,407.3L1519.1,149.6L1519.1,346.8L1519.1,361.9L1519.1,365.7L1519.1,403.3L1519.1,451.8L1540.4,99.4L1540.4,115.8L1540.4,275.6L1540.4,298.8L1540.4,303.6L1540.4,440.3" marker-start="url(#m140)" marker-mid="url(#m140)" marker-end="url(#m140)"/><path d="M1349.0,413.0L1412.8,243.7L1412.8,251.7L1412.8,252.9L1412.8,257.6L1412.8,262.4L1412.8,264.4L1412.8,270.2L1434.1,213.0L1434.1,213.9L1434.1,219.2L1434.1,220.3L1434.1,223.0L1476.6,394.6L1476.6,399.3L1476.6,428.2L1497.9,394.4L1497.9,401.0L1497.9,405.2L1497.9,409.8L1519.1,99.9L1519.1,351.5" marker-start="url(#m190)" marker-mid="url(#m190)" marker-end="url(#m190)"/><path d="M1349.0,306.2L1349.0,433.7L1349.0,436.4L1349.0,438.7L1370.3,455.4L1370.3,458.3L1370.3,460.8L1391.5,291.8L1412.8,291.8L1434.1,284.5L1476.6,236.9L1497.9,225.4L1497.9,278.8L1519.1,206.7L1519.1,215.3L1519.1,267.2L1519.1,332.1L1519.1,339.3L1540.4,203.2L1540.4,209.5L1540.4,215.3L1540.4,264.9L1540.4,322.0L1540.4,327.8" marker-start="url(#m370)" marker-mid="url(#m370)" marker-end="url(#m370)"/><path d="M1306.5,302.9L1306.5,309.4L1306.5,314.0L1306.5,320.2L1306.5,323.6L1306.5,388.4L1306.5,402.8L1349.0,324.0L1349.0,326.1L1349.0,326.9L1349.0,345.1L1349.0,350.3L1349.0,441.7L1349.0,446.1L1370.3,336.5L1370.3,340.8L1370.3,365.9L1370.3,433.1L1370.3,448.4L1391.5,341.4L1391.5,350.3L1391.5,374.0L1391.5,428.8L1391.5,443.2L1412.8,356.6L1412.8,366.7L1412.8,381.2L1412.8,389.8L1412.8,438.0L1434.1,361.0L1434.1,376.8L1434.1,391.8L1476.6,366.7L1476.6,389.8L1497.9,379.1L1497.9,447.5" marker-start="url(#m550)" marker-mid="url(#m550)" marker-end="url(#m550)"/></g>
<g clip-path="url(#cp05)" fill="none" stroke="none"><path d="M1596.7,366.5L1596.7,370.6L1596.7,371.5L1596.7,372.8L1596.7,374.2L1596.7,380.0L1596.7,381.5L1596.7,387.5L1596.7,389.9L1596.7,393.6L1596.7,396.2L1596.7,399.6L1596.7,400.3L1596.7,405.8L1639.2,371.8L1639.2,372.9L1639.2,378.4L1639.2,386.4L1639.2,396.6L1639.2,397.7L1660.5,368.6L1660.5,370.5L1660.5,375.8L1660.5,378.1L1660.5,381.0L1660.5,382.1L1660.5,383.0L1660.5,383.7L1660.5,389.2L1660.5,389.4L1681.8,366.7L1681.8,368.4L1681.8,372.3L1681.8,377.4L1681.8,378.0L1681.8,384.8L1703.0,360.1L1703.0,362.3L1703.0,370.3L1703.0,382.4L1703.0,387.9L1724.3,348.6L1724.3,352.6L1724.3,353.3L1724.3,355.3L1724.3,357.2L1724.3,359.1L1724.3,360.1L1724.3,362.7L1724.3,363.8L1724.3,369.3L1724.3,371.9L1724.3,373.1L1724.3,390.3L1724.3,399.7L1724.3,402.1L1724.3,403.0L1724.3,416.8L1766.8,300.8L1766.8,305.6L1766.8,310.0L1766.8,317.1L1766.8,319.2L1766.8,323.5L1766.8,349.6L1766.8,357.3L1766.8,360.4L1766.8,371.6L1766.8,378.8L1766.8,381.1L1766.8,396.4L1766.8,411.0L1766.8,412.9L1788.1,277.3L1788.1,278.6L1788.1,282.8L1788.1,283.8L1788.1,285.3L1788.1,288.3L1788.1,290.5L1788.1,293.1L1788.1,294.8L1788.1,295.8L1788.1,308.5L1788.1,316.3L1788.1,317.3L1788.1,319.9L1788.1,338.9L1788.1,351.0L1788.1,371.1L1788.1,377.1L1788.1,379.4L1788.1,385.7L1788.1,390.4L1788.1,390.9L1788.1,398.0L1788.1,405.9L1788.1,409.2L1809.4,259.2L1809.4,260.4L1809.4,280.2L1809.4,282.8L1809.4,346.8L1809.4,377.9L1809.4,384.6L1809.4,386.5L1809.4,388.7L1809.4,396.8L1809.4,397.5L1809.4,406.0L1809.4,408.9L1830.6,301.3L1830.6,341.4L1830.6,353.1L1830.6,361.7L1830.6,362.2L1830.6,378.7L1830.6,381.7L1830.6,385.7L1830.6,389.4L1830.6,393.2" marker-start="url(#m10)" marker-mid="url(#m10)" marker-end="url(#m10)"/><path d="M1596.7,368.7L1596.7,369.8L1596.7,382.5L1596.7,383.0L1596.7,385.3L1596.7,386.9L1596.7,389.2L1596.7,403.1L1596.7,403.9L1596.7,404.6L1639.2,379.1L1639.2,382.0L1639.2,384.6L1639.2,385.5L1639.2,390.9L1639.2,392.1L1639.2,394.3L1639.2,400.7L1639.2,402.0L1660.5,371.0L1660.5,375.1L1660.5,376.5L1660.5,385.4L1660.5,386.2L1660.5,387.5L1660.5,390.8L1660.5,395.4L1660.5,396.5L1681.8,365.9L1681.8,369.8L1681.8,375.2L1681.8,376.1L1681.8,381.6L1681.8,386.5L1703.0,357.8L1703.0,361.2L1703.0,362.7L1703.0,363.7L1703.0,365.1L1703.0,371.7L1703.0,373.3L1703.0,379.3L1703.0,382.2L1703.0,383.6L1724.3,357.4L1724.3,365.9L1724.3,375.7L1724.3,379.6L1724.3,382.4L1724.3,405.3L1724.3,408.3L1766.8,303.2L1766.8,307.5L1766.8,312.4L1766.8,313.3L1766.8,321.7L1766.8,326.4L1766.8,345.1L1766.8,347.4L1766.8,364.0L1766.8,390.4L1766.8,394.6L1766.8,404.2L1766.8,409.9L1788.1,291.4L1788.1,298.4L1788.1,298.9L1788.1,302.3L1788.1,307.6L1788.1,311.6L1788.1,312.9L1788.1,314.3L1788.1,315.9L1788.1,343.1L1809.4,264.9L1809.4,269.0L1809.4,271.1L1809.4,274.0L1809.4,285.1L1809.4,290.8L1809.4,337.2L1809.4,365.3L1809.4,390.9L1830.6,250.5L1830.6,349.7L1830.6,367.4L1830.6,381.1L1830.6,388.2L1830.6,398.9" marker-start="url(#m30)" marker-mid="url(#m30)" marker-end="url(#m30)"/><path d="M1596.7,375.6L1596.7,375.8L1596.7,384.6L1596.7,392.2L1596.7,397.1L1596.7,398.3L1639.2,373.9L1639.2,374.7L1639.2,377.7L1639.2,387.7L1639.2,394.8L1660.5,373.4L1660.5,379.2L1660.5,391.6L1660.5,393.1L1660.5,397.9L1660.5,398.9L1681.8,384.2L1703.0,358.4L1703.0,366.2L1703.0,367.9L1703.0,369.4L1703.0,380.8L1724.3,349.6L1724.3,350.9L1724.3,364.5L1724.3,367.5L1724.3,371.2L1724.3,377.0L1724.3,383.9L1724.3,411.0L1766.8,342.4L1766.8,360.8L1766.8,365.8L1766.8,376.3L1766.8,382.7L1766.8,392.0L1766.8,402.1L1766.8,405.2L1788.1,286.2L1788.1,287.1L1788.1,289.7L1788.1,296.4L1788.1,304.1L1788.1,304.5L1788.1,309.9L1788.1,310.2L1788.1,354.7L1788.1,383.6L1788.1,400.5L1788.1,404.0L1788.1,411.1L1788.1,411.9L1809.4,265.7L1809.4,278.8L1809.4,332.6L1809.4,339.4L1809.4,381.2L1809.4,393.8L1809.4,410.2L1830.6,288.9L1830.6,393.9L1830.6,396.0L1830.6,402.4L1830.6,403.6" marker-start="url(#m60)" marker-mid="url(#m60)" marker-end="url(#m60)"/><path d="M1596.7,366.1L1596.7,377.5L1596.7,378.6L1596.7,395.1L1596.7,401.8L1639.2,370.4L1639.2,376.2L1639.2,381.0L1639.2,382.7L1639.2,389.5L1639.2,398.0L1639.2,405.6L1660.5,372.3L1660.5,394.2L1681.8,372.0L1681.8,379.7L1681.8,380.5L1681.8,382.7L1681.8,387.3L1681.8,389.1L1681.8,397.2L1681.8,409.6L1681.8,412.7L1703.0,348.1L1703.0,355.0L1703.0,372.7L1703.0,375.3L1703.0,377.3L1703.0,378.6L1703.0,384.8L1703.0,386.1L1703.0,402.0L1703.0,407.7L1724.3,343.6L1724.3,361.4L1724.3,368.6L1724.3,386.3L1766.8,352.2L1766.8,355.4L1766.8,368.9L1766.8,372.7L1766.8,385.8L1766.8,400.1L1766.8,414.7L1788.1,280.0L1788.1,319.4L1788.1,321.7L1788.1,387.7L1788.1,397.2L1809.4,276.0L1809.4,383.2L1809.4,401.5L1809.4,402.7L1830.6,260.0L1830.6,358.1" marker-start="url(#m100)" marker-mid="url(#m100)" marker-end="url(#m100)"/><path d="M1596.7,391.0L1639.2,390.0L1639.2,399.8L1660.5,401.9L1681.8,359.5L1681.8,370.9L1681.8,374.3L1681.8,393.2L1681.8,398.2L1681.8,402.6L1681.8,404.0L1681.8,406.3L1681.8,410.7L1703.0,375.7L1703.0,392.1L1703.0,396.6L1703.0,399.6L1703.0,405.9L1703.0,412.0L1724.3,334.9L1724.3,345.6L1724.3,354.1L1724.3,391.6L1724.3,393.2L1724.3,396.0L1724.3,414.3L1766.8,275.3L1766.8,388.6L1788.1,281.6L1788.1,299.9L1788.1,301.1L1788.1,306.3L1788.1,333.8L1788.1,393.7L1809.4,247.0L1809.4,288.5L1830.6,268.1" marker-start="url(#m140)" marker-mid="url(#m140)" marker-end="url(#m140)"/><path d="M1639.2,405.3L1660.5,405.7L1681.8,391.3L1681.8,416.6L1703.0,389.4L1703.0,394.4L1703.0,404.5L1703.0,412.7L1703.0,416.6L1724.3,338.4L1788.1,258.0L1809.4,228.3L1830.6,275.9" marker-start="url(#m190)" marker-mid="url(#m190)" marker-end="url(#m190)"/><path d="M1596.7,363.9L1639.2,408.8L1639.2,410.8L1639.2,419.5L1639.2,422.3L1639.2,425.7L1639.2,429.8L1660.5,409.0L1660.5,414.5L1660.5,419.8L1660.5,425.8L1660.5,430.4L1724.3,372.5L1766.8,359.5L1766.8,434.5L1766.8,446.1L1788.1,322.0L1788.1,412.9L1788.1,417.2L1788.1,446.1L1809.4,307.6L1809.4,314.8L1809.4,414.3L1809.4,440.3L1830.6,296.1L1830.6,337.9L1830.6,428.8L1830.6,434.5" marker-start="url(#m370)" marker-mid="url(#m370)" marker-end="url(#m370)"/><path d="M1596.7,385.5L1639.2,414.7L1639.2,419.3L1639.2,424.0L1639.2,429.0L1639.2,431.6L1639.2,437.2L1639.2,441.1L1639.2,444.0L1639.2,450.8L1639.2,452.7L1639.2,456.1L1660.5,418.1L1660.5,424.9L1660.5,427.6L1660.5,434.1L1660.5,438.4L1660.5,442.2L1660.5,446.5L1660.5,451.1L1660.5,454.4L1660.5,462.5L1681.8,417.2L1681.8,445.8L1681.8,448.1L1681.8,453.4L1681.8,472.0L1703.0,417.2L1703.0,448.9L1703.0,456.2L1724.3,425.9L1724.3,451.4L1724.3,455.2L1724.3,459.4L1766.8,420.1L1766.8,458.2L1766.8,460.2L1766.8,464.3L1788.1,424.4L1788.1,460.5L1809.4,420.1L1809.4,448.9L1809.4,459.0L1830.6,420.1L1830.6,441.7L1830.6,461.9" marker-start="url(#m550)" marker-mid="url(#m550)" marker-end="url(#m550)"/></g>
<g clip-path="url(#cp10)" fill="none" stroke="none"><path d="M145.6,807.5L145.6,811.4L145.6,812.5L145.6,813.3L145.6,815.8L145.6,821.6L145.6,823.6L145.6,824.5L145.6,827.6L145.6,830.4L145.6,833.9L145.6,839.7L145.6,841.1L145.6,849.4L145.6,853.9L145.6,854.7L145.6,856.6L145.6,857.2L145.6,859.8L145.6,863.3L145.6,866.6L145.6,868.1L145.6,870.4L188.1,809.8L188.1,810.3L188.1,811.6L188.1,812.6L188.1,813.9L188.1,815.3L188.1,817.1L188.1,818.8L188.1,823.1L188.1,824.5L188.1,827.6L188.1,832.8L188.1,834.4L188.1,836.1L188.1,841.1L188.1,843.1L188.1,844.8L188.1,848.9L188.1,850.0L188.1,855.2L188.1,858.9L188.1,860.0L188.1,863.9L188.1,867.1L188.1,869.1L188.1,869.6L188.1,875.8L188.1,877.3L188.1,879.0L188.1,882.6L188.1,883.9L209.4,805.9L209.4,806.7L209.4,809.1L209.4,811.5L209.4,812.3L209.4,826.6L209.4,827.6L209.4,829.2L209.4,831.6L209.4,835.4L209.4,838.3L209.4,840.6L209.4,844.1L209.4,847.2L209.4,848.7L209.4,850.5L209.4,850.9L209.4,855.3L209.4,856.7L209.4,860.1L209.4,862.3L209.4,863.5L209.4,866.2L209.4,868.5L209.4,869.8L209.4,871.1L209.4,874.2L209.4,875.4L209.4,879.0L230.7,810.3L230.7,811.4L230.7,813.8L230.7,817.5L230.7,828.9L230.7,831.5L230.7,833.0L230.7,838.1L230.7,839.0L230.7,849.9L230.7,856.5L230.7,860.0L230.7,860.4L230.7,862.3L230.7,863.5L230.7,868.6L230.7,870.5L230.7,871.4L230.7,872.0L230.7,873.9L230.7,876.0L230.7,880.0L230.7,882.6L230.7,890.1L230.7,900.9L251.9,810.4L251.9,812.2L251.9,814.4L251.9,816.2L251.9,817.3L251.9,824.7L251.9,826.8L251.9,828.1L251.9,828.5L251.9,838.9L251.9,843.2L251.9,847.2L251.9,849.3L251.9,853.1L251.9,854.2L251.9,855.6L251.9,861.5L251.9,866.2L251.9,871.5L251.9,878.3L251.9,891.5L251.9,894.1L251.9,897.3L251.9,901.5L273.2,815.1L273.2,818.3L273.2,820.4L273.2,825.1L273.2,826.7L273.2,834.2L273.2,835.5L273.2,837.3L273.2,839.6L273.2,841.4L273.2,841.5L273.2,843.1L273.2,848.4L273.2,852.0L273.2,853.6L273.2,859.6L273.2,861.8L273.2,866.1L273.2,869.9L273.2,872.7L273.2,873.4L273.2,875.1L273.2,879.0L273.2,897.1L273.2,902.6L273.2,903.3L273.2,906.7L273.2,910.0L315.7,805.1L315.7,806.7L315.7,809.0L315.7,817.0L315.7,818.9L315.7,827.6L315.7,828.7L315.7,834.1L315.7,837.1L315.7,838.1L315.7,839.7L315.7,841.7L315.7,843.9L315.7,846.2L315.7,850.4L315.7,853.0L315.7,853.8L315.7,860.0L315.7,864.3L315.7,866.7L315.7,868.7L315.7,871.3L315.7,873.2L315.7,890.7L315.7,895.1L315.7,900.5L337.0,801.5L337.0,803.5L337.0,804.3L337.0,808.4L337.0,809.7L337.0,811.8L337.0,814.5L337.0,820.3L337.0,822.6L337.0,823.9L337.0,825.0L337.0,825.8L337.0,828.1L337.0,828.7L337.0,830.0L337.0,842.7L337.0,845.9L337.0,847.2L337.0,848.1L337.0,850.9L337.0,852.8L337.0,856.3L337.0,856.7L337.0,862.1L337.0,865.0L337.0,868.4L337.0,871.5L337.0,876.6L337.0,883.1L337.0,890.4L337.0,892.1L358.2,791.4L358.2,792.7L358.2,796.5L358.2,801.5L358.2,802.0L358.2,803.7L358.2,806.2L358.2,806.6L358.2,814.8L358.2,818.2L358.2,820.4L358.2,822.4L358.2,831.1L358.2,833.1L358.2,835.7L358.2,837.7L358.2,838.3L358.2,840.6L358.2,843.8L358.2,850.7L358.2,851.8L358.2,852.0L358.2,854.1L358.2,862.2L358.2,870.6L358.2,871.0L358.2,872.9L358.2,880.6L358.2,894.4L358.2,897.9L358.2,901.5L358.2,904.4L358.2,906.2L358.2,910.0L379.5,781.3L379.5,782.4L379.5,792.2L379.5,801.2L379.5,822.0L379.5,826.6L379.5,831.2L379.5,839.8L379.5,841.3L379.5,843.1L379.5,844.4L379.5,845.0L379.5,847.7L379.5,856.7L379.5,859.2L379.5,860.5L379.5,863.6L379.5,873.3L379.5,874.8L379.5,876.0L379.5,877.1L379.5,893.4L379.5,907.6" marker-start="url(#m10)" marker-mid="url(#m10)" marker-end="url(#m10)"/><path d="M145.6,810.1L145.6,815.3L145.6,818.4L145.6,826.2L145.6,831.3L145.6,835.5L145.6,838.9L145.6,845.6L145.6,848.2L145.6,852.9L145.6,859.1L145.6,861.5L145.6,865.0L145.6,869.0L145.6,871.7L188.1,808.3L188.1,817.4L188.1,819.7L188.1,822.4L188.1,827.8L188.1,828.9L188.1,831.1L188.1,835.6L188.1,841.7L188.1,862.5L188.1,873.0L188.1,874.1L188.1,887.5L188.1,890.0L188.1,891.5L188.1,892.7L209.4,810.6L209.4,815.3L209.4,817.3L209.4,818.7L209.4,819.7L209.4,821.3L209.4,824.9L209.4,836.1L209.4,839.4L209.4,843.0L209.4,853.0L209.4,856.3L209.4,864.1L209.4,865.9L209.4,867.5L209.4,873.3L209.4,886.6L209.4,888.2L230.7,818.5L230.7,819.8L230.7,822.1L230.7,824.2L230.7,825.9L230.7,826.7L230.7,827.7L230.7,830.0L230.7,834.4L230.7,844.6L230.7,851.1L230.7,858.7L230.7,865.5L230.7,868.0L230.7,877.1L230.7,886.9L230.7,894.7L230.7,898.9L230.7,903.4L251.9,810.5L251.9,813.2L251.9,821.6L251.9,824.0L251.9,829.6L251.9,831.7L251.9,841.6L251.9,846.3L251.9,849.7L251.9,851.9L251.9,857.5L251.9,859.5L251.9,860.4L251.9,864.3L251.9,867.6L251.9,873.0L251.9,875.3L251.9,881.9L251.9,888.6L273.2,811.7L273.2,812.5L273.2,813.4L273.2,822.3L273.2,823.0L273.2,830.0L273.2,835.8L273.2,851.2L273.2,857.6L273.2,861.3L273.2,864.6L273.2,883.1L273.2,886.0L273.2,894.8L315.7,814.8L315.7,819.4L315.7,821.4L315.7,821.7L315.7,825.9L315.7,836.2L315.7,847.9L315.7,851.1L315.7,854.8L315.7,856.8L315.7,861.1L315.7,862.3L315.7,862.7L315.7,867.8L315.7,870.6L315.7,875.5L315.7,887.0L315.7,893.0L315.7,907.6L315.7,912.4L315.7,915.0L315.7,916.8L337.0,800.1L337.0,805.4L337.0,807.1L337.0,813.4L337.0,835.3L337.0,836.7L337.0,837.5L337.0,841.3L337.0,843.1L337.0,853.8L337.0,858.0L337.0,859.3L337.0,860.9L337.0,862.7L337.0,873.0L337.0,875.9L337.0,882.5L337.0,886.2L337.0,903.1L358.2,790.2L358.2,797.9L358.2,798.5L358.2,825.5L358.2,839.1L358.2,844.8L358.2,845.0L358.2,846.7L358.2,856.1L358.2,858.3L358.2,862.7L358.2,867.7L358.2,869.4L358.2,873.5L358.2,876.0L358.2,888.9L358.2,889.7L358.2,893.7L379.5,777.3L379.5,778.7L379.5,785.1L379.5,785.6L379.5,787.1L379.5,789.7L379.5,796.4L379.5,799.2L379.5,802.6L379.5,803.8L379.5,807.1L379.5,809.0L379.5,811.3L379.5,813.0L379.5,816.3L379.5,822.9L379.5,824.5L379.5,828.9L379.5,834.8L379.5,842.5L379.5,849.0L379.5,852.0L379.5,879.2L379.5,886.5L379.5,891.8L379.5,898.2L379.5,905.7L379.5,914.1" marker-start="url(#m30)" marker-mid="url(#m30)" marker-end="url(#m30)"/><path d="M145.6,808.5L145.6,817.8L145.6,825.4L145.6,829.0L145.6,832.9L145.6,836.0L145.6,842.2L145.6,844.6L145.6,851.0L188.1,804.5L188.1,838.1L188.1,852.0L188.1,854.2L188.1,857.3L188.1,862.8L209.4,808.0L209.4,813.8L209.4,822.4L209.4,830.7L209.4,832.1L209.4,841.4L209.4,845.5L209.4,848.4L209.4,858.3L209.4,861.1L209.4,872.2L209.4,877.2L230.7,809.5L230.7,812.8L230.7,816.3L230.7,835.5L230.7,839.4L230.7,842.5L230.7,843.0L230.7,848.9L230.7,854.0L230.7,855.0L230.7,857.4L230.7,867.0L230.7,875.0L251.9,834.0L251.9,835.3L251.9,837.0L251.9,838.4L251.9,845.1L251.9,858.2L251.9,886.8L251.9,895.0L251.9,900.7L273.2,825.0L273.2,827.6L273.2,829.4L273.2,839.1L273.2,846.1L273.2,848.5L273.2,850.1L273.2,864.9L273.2,869.4L273.2,891.1L273.2,898.8L315.7,807.8L315.7,810.5L315.7,811.8L315.7,812.2L315.7,815.8L315.7,823.3L315.7,840.4L315.7,842.7L315.7,845.5L315.7,848.5L315.7,858.0L315.7,865.9L315.7,873.0L315.7,883.2L315.7,899.0L315.7,901.7L315.7,909.4L337.0,802.4L337.0,810.6L337.0,833.5L337.0,844.4L337.0,850.1L337.0,867.1L337.0,867.7L337.0,870.2L337.0,873.4L337.0,878.0L337.0,889.2L337.0,896.7L358.2,794.3L358.2,800.5L358.2,809.5L358.2,814.0L358.2,815.8L358.2,823.6L358.2,824.0L358.2,834.0L358.2,841.9L358.2,847.7L358.2,849.1L358.2,856.9L358.2,863.8L358.2,865.7L358.2,866.8L358.2,877.5L358.2,878.7L358.2,885.2L358.2,910.3L379.5,778.2L379.5,779.8L379.5,784.0L379.5,788.9L379.5,790.6L379.5,794.7L379.5,795.6L379.5,797.3L379.5,800.2L379.5,806.2L379.5,811.1L379.5,814.1L379.5,815.6L379.5,818.6L379.5,819.5L379.5,825.6L379.5,828.6L379.5,830.3L379.5,833.1L379.5,833.9L379.5,837.8L379.5,846.5L379.5,850.5L379.5,854.5L379.5,861.8L379.5,863.9L379.5,866.8L379.5,870.2L379.5,871.2L379.5,894.3L379.5,909.0" marker-start="url(#m60)" marker-mid="url(#m60)" marker-end="url(#m60)"/><path d="M145.6,820.6L145.6,843.1L145.6,847.4L145.6,851.3L145.6,862.6L188.1,806.5L188.1,807.6L188.1,821.8L188.1,825.5L188.1,832.0L188.1,839.1L188.1,840.2L188.1,847.5L188.1,852.7L188.1,856.5L188.1,865.9L188.1,874.5L188.1,914.0L209.4,816.1L209.4,822.9L209.4,825.1L209.4,834.3L209.4,853.4L209.4,880.5L209.4,883.5L230.7,808.7L230.7,815.9L230.7,836.3L230.7,841.5L230.7,846.1L230.7,847.0L230.7,848.3L230.7,852.8L230.7,882.7L230.7,892.5L251.9,817.7L251.9,819.6L251.9,820.3L251.9,832.7L251.9,834.7L251.9,840.1L251.9,851.8L251.9,865.0L251.9,869.5L251.9,872.4L251.9,876.4L251.9,884.3L273.2,817.4L273.2,832.4L273.2,844.8L273.2,846.5L273.2,858.4L273.2,862.6L273.2,867.5L273.2,876.1L273.2,876.6L273.2,887.5L273.2,893.5L273.2,912.3L315.7,813.5L315.7,827.2L315.7,831.2L315.7,832.5L315.7,834.4L315.7,856.6L315.7,875.4L315.7,877.0L315.7,879.4L315.7,880.7L315.7,887.8L315.7,904.2L337.0,816.1L337.0,820.6L337.0,826.6L337.0,831.8L337.0,832.4L337.0,838.2L337.0,854.5L337.0,864.0L337.0,874.3L337.0,896.2L337.0,900.8L358.2,795.5L358.2,804.9L358.2,808.3L358.2,811.9L358.2,812.7L358.2,817.1L358.2,819.6L358.2,827.2L358.2,827.5L358.2,829.7L358.2,829.9L358.2,835.2L358.2,859.3L358.2,860.5L358.2,874.5L358.2,884.0L358.2,898.9L379.5,793.4L379.5,804.4L379.5,838.6L379.5,852.1L379.5,854.3L379.5,856.3L379.5,865.6L379.5,868.2L379.5,868.6L379.5,872.6L379.5,880.3L379.5,883.7L379.5,888.1L379.5,899.7L379.5,911.4" marker-start="url(#m100)" marker-mid="url(#m100)" marker-end="url(#m100)"/><path d="M145.6,819.1L145.6,836.9L145.6,865.3L145.6,873.1L188.1,845.7L188.1,847.9L188.1,860.7L188.1,868.0L188.1,871.5L188.1,905.3L209.4,837.6L230.7,807.1L230.7,821.8L230.7,823.4L230.7,864.3L230.7,888.4L251.9,823.0L251.9,843.8L251.9,862.5L251.9,869.3L251.9,876.9L273.2,816.5L273.2,820.0L273.2,831.3L273.2,854.5L273.2,855.7L273.2,871.4L273.2,882.4L315.7,823.9L315.7,830.3L337.0,815.5L337.0,817.6L337.0,819.2L337.0,839.9L337.0,849.2L358.2,810.4L358.2,854.3L379.5,775.1L379.5,807.7L379.5,817.3L379.5,820.9L379.5,836.1L379.5,858.7L379.5,902.4" marker-start="url(#m140)" marker-mid="url(#m140)" marker-end="url(#m140)"/><path d="M209.4,902.5L230.7,911.1L315.7,915.4L379.5,906.8L379.5,914.0" marker-start="url(#m370)" marker-mid="url(#m370)" marker-end="url(#m370)"/><path d="M145.6,834.7L145.6,853.4" marker-start="url(#m550)" marker-mid="url(#m550)" marker-end="url(#m550)"/></g>
<g clip-path="url(#cp11)" fill="none" stroke="none"><path d="M435.8,778.7L435.8,780.1L435.8,782.7L435.8,784.5L435.8,785.6L435.8,819.2L435.8,825.5L435.8,826.7L435.8,829.2L435.8,829.8L435.8,833.7L435.8,839.1L478.4,770.9L478.4,772.0L478.4,772.2L478.4,776.6L478.4,782.7L478.4,784.7L478.4,787.1L478.4,788.5L478.4,793.1L478.4,800.4L478.4,802.3L478.4,810.2L478.4,814.4L478.4,819.4L478.4,822.5L478.4,827.3L478.4,829.7L478.4,834.9L478.4,836.6L478.4,839.4L478.4,842.4L478.4,847.6L478.4,853.5L499.6,769.0L499.6,770.6L499.6,776.2L499.6,781.1L499.6,782.1L499.6,784.5L499.6,788.9L499.6,790.1L499.6,791.9L499.6,793.6L499.6,798.5L499.6,801.8L499.6,802.4L499.6,803.4L499.6,806.0L499.6,807.7L499.6,809.0L499.6,810.1L499.6,812.8L499.6,816.4L499.6,821.9L499.6,824.8L499.6,828.7L499.6,830.3L499.6,832.8L499.6,836.1L520.9,756.2L520.9,758.5L520.9,761.1L520.9,766.0L520.9,768.0L520.9,768.3L520.9,771.3L520.9,775.4L520.9,777.7L520.9,781.8L520.9,789.7L520.9,794.6L520.9,796.8L520.9,801.2L520.9,814.6L520.9,815.7L520.9,817.9L520.9,819.9L520.9,821.4L520.9,822.3L520.9,823.9L520.9,827.6L520.9,830.5L520.9,832.0L520.9,834.2L520.9,838.4L520.9,839.4L520.9,839.7L520.9,842.4L542.1,740.6L542.1,741.6L542.1,749.3L542.1,752.1L542.1,754.8L542.1,758.1L542.1,759.1L542.1,761.0L542.1,763.5L542.1,788.6L542.1,791.4L542.1,793.7L542.1,797.9L542.1,800.3L542.1,803.6L542.1,807.6L542.1,809.5L542.1,815.6L542.1,816.0L542.1,817.6L542.1,821.4L542.1,822.5L542.1,823.0L542.1,824.1L542.1,826.9L542.1,833.2L563.4,720.6L563.4,724.4L563.4,725.8L563.4,728.1L563.4,731.9L563.4,736.8L563.4,739.3L563.4,742.7L563.4,743.9L563.4,750.2L563.4,751.7L563.4,756.2L563.4,766.0L563.4,769.0L563.4,771.8L563.4,775.9L563.4,778.0L563.4,778.8L563.4,783.3L563.4,784.2L563.4,790.2L563.4,791.1L563.4,796.8L563.4,799.6L563.4,802.4L563.4,803.3L563.4,803.9L563.4,807.4L563.4,808.8L563.4,811.5L563.4,812.9L563.4,814.7L563.4,817.5L563.4,819.9L605.9,673.6L605.9,707.8L605.9,712.6L605.9,724.2L605.9,729.6L605.9,733.0L605.9,737.3L605.9,741.6L605.9,760.9L605.9,762.6L605.9,765.3L605.9,770.4L605.9,774.6L605.9,779.2L605.9,790.1L605.9,793.5L605.9,799.0L605.9,800.9L605.9,806.3L605.9,819.4L605.9,820.6L605.9,828.1L605.9,839.7L605.9,842.3L605.9,844.1L605.9,848.7L605.9,851.7L605.9,854.3L627.2,642.2L627.2,651.4L627.2,659.0L627.2,696.6L627.2,704.6L627.2,705.3L627.2,711.2L627.2,719.7L627.2,726.1L627.2,726.7L627.2,735.0L627.2,737.3L627.2,754.8L627.2,765.7L627.2,768.7L627.2,770.4L627.2,783.4L627.2,785.9L627.2,789.7L627.2,803.1L627.2,806.9L627.2,810.5L627.2,814.7L627.2,816.4L627.2,819.1L627.2,829.4L627.2,838.0L627.2,848.5L627.2,852.1L648.5,605.9L648.5,615.2L648.5,617.7L648.5,635.8L648.5,653.7L648.5,684.8L648.5,705.1L648.5,712.2L648.5,713.8L648.5,721.2L648.5,723.9L648.5,727.3L648.5,732.4L648.5,736.3L648.5,747.4L648.5,749.5L648.5,753.1L648.5,754.8L648.5,757.6L648.5,762.6L648.5,767.5L648.5,770.7L648.5,778.1L648.5,784.6L648.5,794.9L648.5,798.4L648.5,802.4L648.5,806.2L648.5,809.9L648.5,812.4L648.5,821.5L648.5,823.8L648.5,828.6L648.5,832.6L648.5,837.2L648.5,844.8L648.5,845.4L648.5,847.8L648.5,854.5L669.7,618.4L669.7,702.2L669.7,704.1L669.7,706.3L669.7,710.8L669.7,717.2L669.7,720.0L669.7,721.8L669.7,728.4L669.7,729.7L669.7,732.8L669.7,738.6L669.7,744.2L669.7,751.8L669.7,759.2L669.7,763.8L669.7,766.0L669.7,768.0L669.7,769.0L669.7,775.5L669.7,782.3L669.7,792.2L669.7,794.3L669.7,795.7L669.7,798.0L669.7,800.9L669.7,803.4L669.7,807.6L669.7,813.4L669.7,816.3L669.7,818.4L669.7,821.8" marker-start="url(#m10)" marker-mid="url(#m10)" marker-end="url(#m10)"/><path d="M435.8,771.9L435.8,775.1L435.8,777.1L435.8,790.8L435.8,824.2L435.8,835.5L435.8,836.9L478.4,781.5L478.4,788.7L478.4,790.5L478.4,791.8L478.4,794.1L478.4,796.6L478.4,798.4L478.4,804.3L478.4,806.2L478.4,807.1L478.4,808.6L478.4,811.7L478.4,816.1L478.4,821.4L478.4,824.8L478.4,825.4L478.4,832.1L478.4,834.1L478.4,837.6L478.4,838.8L478.4,844.5L478.4,845.3L478.4,849.1L499.6,766.8L499.6,780.5L499.6,783.3L499.6,795.3L499.6,811.7L499.6,814.9L499.6,826.8L499.6,831.9L499.6,834.5L499.6,842.0L520.9,759.7L520.9,763.0L520.9,763.6L520.9,772.4L520.9,777.0L520.9,778.9L520.9,780.9L520.9,785.1L520.9,788.1L520.9,791.6L520.9,798.7L520.9,800.4L520.9,810.3L520.9,812.0L520.9,818.7L520.9,826.3L520.9,828.6L520.9,829.6L520.9,833.3L520.9,836.7L542.1,735.7L542.1,738.1L542.1,742.5L542.1,745.1L542.1,747.1L542.1,748.5L542.1,750.5L542.1,753.7L542.1,756.5L542.1,765.1L542.1,768.3L542.1,769.1L542.1,770.2L542.1,772.2L542.1,773.8L542.1,775.1L542.1,786.2L542.1,796.3L542.1,798.7L542.1,801.2L542.1,808.5L542.1,810.4L542.1,813.7L542.1,827.6L563.4,730.2L563.4,772.9L563.4,779.6L563.4,787.9L563.4,789.0L563.4,794.3L563.4,809.6L563.4,813.9L605.9,662.5L605.9,678.5L605.9,689.2L605.9,703.6L605.9,721.6L605.9,727.5L605.9,740.7L605.9,746.5L605.9,757.1L605.9,772.9L605.9,784.3L605.9,787.5L605.9,823.0L605.9,836.4L627.2,647.3L627.2,713.4L627.2,715.7L627.2,717.8L627.2,729.5L627.2,732.6L627.2,738.6L627.2,741.0L627.2,745.3L627.2,747.4L627.2,755.7L627.2,796.3L627.2,800.4L627.2,820.1L627.2,833.4L627.2,841.1L627.2,852.4L648.5,621.9L648.5,627.2L648.5,679.6L648.5,702.1L648.5,709.6L648.5,719.8L648.5,730.1L648.5,732.8L648.5,746.5L648.5,774.7L648.5,783.7L648.5,786.9L648.5,792.9L648.5,800.9L648.5,814.1L648.5,816.4L648.5,843.0L648.5,851.3L669.7,632.8L669.7,709.2L669.7,714.0L669.7,742.3L669.7,746.0L669.7,749.4L669.7,753.9L669.7,785.7L669.7,787.7L669.7,804.3L669.7,844.9L669.7,846.2" marker-start="url(#m30)" marker-mid="url(#m30)" marker-end="url(#m30)"/><path d="M435.8,778.0L435.8,781.6L435.8,788.6L435.8,815.2L435.8,815.9L435.8,817.4L435.8,818.1L435.8,821.4L435.8,821.9L435.8,828.5L435.8,831.6L435.8,838.2L478.4,773.6L478.4,774.7L478.4,777.9L478.4,778.1L478.4,780.0L478.4,782.8L478.4,795.0L478.4,801.4L478.4,809.0L478.4,815.6L478.4,819.2L478.4,828.1L478.4,830.2L478.4,843.1L478.4,850.5L499.6,765.9L499.6,774.5L499.6,776.0L499.6,778.3L499.6,778.8L499.6,785.5L499.6,786.9L499.6,797.4L499.6,800.2L499.6,810.4L499.6,818.8L499.6,821.2L499.6,829.2L499.6,835.6L499.6,837.7L499.6,838.5L499.6,840.0L520.9,769.6L520.9,773.0L520.9,782.5L520.9,788.5L520.9,792.7L520.9,797.9L520.9,805.5L520.9,807.2L520.9,808.3L520.9,810.7L542.1,736.9L542.1,739.4L542.1,765.8L542.1,788.0L542.1,794.7L542.1,804.6L542.1,805.4L542.1,811.8L542.1,819.4L542.1,831.3L563.4,717.9L563.4,746.1L563.4,758.7L563.4,780.9L563.4,782.3L563.4,786.4L563.4,792.5L563.4,795.5L563.4,798.7L563.4,801.1L563.4,806.1L563.4,815.8L563.4,818.1L605.9,682.6L605.9,696.1L605.9,715.4L605.9,723.0L605.9,734.3L605.9,750.9L605.9,754.3L605.9,768.3L605.9,779.5L605.9,784.0L605.9,795.1L605.9,805.2L605.9,810.1L605.9,814.7L605.9,815.9L605.9,831.0L605.9,833.5L627.2,690.6L627.2,694.3L627.2,700.8L627.2,708.3L627.2,748.3L627.2,760.4L627.2,762.6L627.2,773.1L627.2,788.4L627.2,793.5L627.2,793.7L627.2,803.8L627.2,826.3L627.2,833.8L627.2,839.3L648.5,641.3L648.5,644.6L648.5,647.6L648.5,660.0L648.5,666.1L648.5,740.7L648.5,777.2L648.5,781.3L648.5,789.9L648.5,804.1L648.5,818.9L648.5,826.2L648.5,840.2L669.7,599.6L669.7,698.8L669.7,725.2L669.7,737.4L669.7,771.2L669.7,777.8L669.7,782.8L669.7,850.8" marker-start="url(#m60)" marker-mid="url(#m60)" marker-end="url(#m60)"/><path d="M435.8,772.7L435.8,774.0L435.8,783.6L435.8,787.2L435.8,789.6L435.8,823.6L435.8,832.6L478.4,785.2L478.4,797.8L478.4,813.3L478.4,817.9L478.4,823.1L478.4,832.9L478.4,848.2L478.4,852.0L478.4,853.4L499.6,772.4L499.6,772.6L499.6,791.2L499.6,794.4L499.6,796.6L499.6,804.7L499.6,817.3L499.6,823.7L499.6,825.7L499.6,841.8L520.9,757.5L520.9,774.9L520.9,784.5L520.9,786.4L520.9,793.8L520.9,804.1L520.9,805.7L520.9,825.1L520.9,835.2L520.9,841.3L542.1,734.7L542.1,746.1L542.1,752.9L542.1,760.4L542.1,761.7L542.1,776.7L542.1,789.3L542.1,792.1L542.1,818.9L542.1,825.9L542.1,829.3L542.1,833.7L563.4,716.1L563.4,734.8L563.4,754.9L563.4,785.5L563.4,795.8L563.4,805.8L605.9,665.2L605.9,687.0L605.9,743.6L605.9,749.4L605.9,757.9L605.9,797.6L605.9,810.9L605.9,825.0L605.9,834.9L627.2,635.1L627.2,673.0L627.2,723.0L627.2,775.9L627.2,778.2L627.2,781.3L627.2,809.5L627.2,823.4L627.2,844.0L627.2,846.8L648.5,658.5L648.5,717.2L648.5,742.2L648.5,760.1L648.5,768.8L648.5,834.0L669.7,715.7L669.7,733.8L669.7,754.8L669.7,759.1L669.7,809.6L669.7,815.2" marker-start="url(#m100)" marker-mid="url(#m100)" marker-end="url(#m100)"/><path d="M435.8,836.1L478.4,803.8L478.4,841.0L499.6,769.0L499.6,816.0L499.6,819.6L520.9,761.8L520.9,765.0L520.9,796.2L520.9,803.1L520.9,813.0L520.9,816.8L542.1,743.7L542.1,766.9L542.1,771.8L542.1,796.0L542.1,802.7L542.1,813.1L542.1,830.3L563.4,760.6L563.4,763.7L605.9,845.6L627.2,667.1L627.2,676.6L627.2,698.8L627.2,752.2L627.2,759.0L627.2,826.8L648.5,608.3L648.5,633.4L648.5,707.8L648.5,738.2L648.5,764.7L648.5,830.1L669.7,622.7L669.7,644.3L669.7,650.1L669.7,778.1" marker-start="url(#m140)" marker-mid="url(#m140)" marker-end="url(#m140)"/><path d="M435.8,790.0L435.8,834.7L478.4,806.9L478.4,811.8L478.4,822.2L478.4,863.2L478.4,863.8L478.4,871.5L478.4,880.4L499.6,813.4L499.6,816.4L499.6,822.3L499.6,849.9L499.6,856.7L499.6,861.0L520.9,817.4L520.9,886.6L520.9,905.3L542.1,895.2L542.1,898.1L563.4,892.4L563.4,895.2L605.9,880.8L605.9,901.0L627.2,895.2L627.2,901.0L648.5,912.6L669.7,902.5L669.7,912.6" marker-start="url(#m370)" marker-mid="url(#m370)" marker-end="url(#m370)"/><path d="M435.8,768.3L478.4,863.5L478.4,880.8L478.4,888.0L478.4,903.9L499.6,895.2L499.6,903.9L520.9,861.1L520.9,869.0L520.9,869.9L520.9,875.0L542.1,861.0L542.1,864.2L542.1,867.7L542.1,870.7L542.1,876.6L563.4,855.0L563.4,858.0L563.4,861.1L563.4,875.1L563.4,883.7L605.9,862.8L605.9,866.0L605.9,873.9L605.9,879.3L605.9,908.2L627.2,862.3L627.2,868.1L627.2,871.8L627.2,898.1L648.5,861.5L648.5,870.5L648.5,873.0L669.7,864.6L669.7,874.8L669.7,880.1L669.7,884.4" marker-start="url(#m550)" marker-mid="url(#m550)" marker-end="url(#m550)"/></g>
<g clip-path="url(#cp12)" fill="none" stroke="none"><path d="M726.0,762.8L726.0,764.7L726.0,766.9L726.0,768.1L726.0,779.9L726.0,787.3L726.0,838.6L726.0,840.7L726.0,841.8L726.0,845.6L726.0,850.5L726.0,852.5L768.6,735.6L768.6,736.3L768.6,738.7L768.6,742.4L768.6,754.8L768.6,760.1L768.6,771.3L768.6,773.2L768.6,773.5L768.6,776.5L768.6,778.9L768.6,783.3L768.6,785.0L768.6,785.3L768.6,786.5L768.6,790.1L768.6,793.3L768.6,843.7L768.6,845.8L768.6,854.8L768.6,855.7L768.6,857.3L768.6,861.9L768.6,863.2L789.8,734.7L789.8,735.8L789.8,742.6L789.8,748.2L789.8,750.2L789.8,754.9L789.8,756.7L789.8,758.2L789.8,759.4L789.8,759.8L789.8,764.9L789.8,766.2L789.8,767.3L789.8,768.3L789.8,771.2L789.8,772.3L789.8,773.8L789.8,777.7L789.8,778.9L789.8,781.1L789.8,781.9L789.8,784.0L789.8,786.4L789.8,789.7L789.8,790.2L789.8,791.6L789.8,798.8L789.8,844.6L789.8,845.9L789.8,847.9L789.8,853.2L789.8,855.6L789.8,856.1L789.8,870.6L789.8,871.1L811.1,729.5L811.1,732.5L811.1,734.5L811.1,736.4L811.1,742.5L811.1,749.4L811.1,750.2L811.1,751.0L811.1,754.4L811.1,775.7L811.1,784.0L811.1,789.0L811.1,791.9L811.1,845.4L811.1,846.1L811.1,847.2L811.1,851.6L811.1,852.0L811.1,854.5L811.1,856.6L811.1,862.0L811.1,865.1L811.1,867.8L811.1,869.2L811.1,870.4L811.1,873.1L832.4,721.1L832.4,725.4L832.4,737.2L832.4,740.4L832.4,745.5L832.4,747.5L832.4,760.5L832.4,762.0L832.4,764.8L832.4,770.4L832.4,771.3L832.4,776.8L832.4,779.7L832.4,782.1L832.4,786.7L832.4,788.4L832.4,801.0L832.4,846.7L832.4,850.2L832.4,851.1L832.4,856.2L832.4,861.4L832.4,867.3L832.4,868.8L832.4,872.1L853.6,694.9L853.6,699.1L853.6,706.9L853.6,713.1L853.6,720.9L853.6,722.7L853.6,736.6L853.6,750.3L853.6,753.4L853.6,762.8L853.6,766.6L853.6,769.5L853.6,792.5L853.6,794.6L853.6,797.8L853.6,800.4L853.6,804.8L853.6,849.5L853.6,851.1L853.6,852.1L853.6,853.8L853.6,855.6L853.6,863.6L853.6,869.0L853.6,869.8L853.6,875.7L896.2,666.9L896.2,670.9L896.2,671.7L896.2,676.9L896.2,683.6L896.2,686.9L896.2,688.3L896.2,697.3L896.2,699.6L896.2,705.4L896.2,710.8L896.2,711.6L896.2,714.7L896.2,733.1L896.2,742.4L896.2,749.4L896.2,753.7L896.2,756.3L896.2,760.6L896.2,762.0L896.2,767.8L896.2,769.1L896.2,773.5L896.2,784.9L896.2,792.2L896.2,797.7L896.2,799.2L896.2,806.7L896.2,851.3L896.2,851.5L896.2,853.7L896.2,855.5L896.2,856.3L896.2,859.6L896.2,861.5L896.2,871.5L896.2,873.8L896.2,875.3L896.2,876.1L896.2,886.2L917.4,645.1L917.4,661.1L917.4,661.3L917.4,664.3L917.4,676.1L917.4,687.1L917.4,692.9L917.4,698.5L917.4,705.0L917.4,714.4L917.4,728.1L917.4,730.5L917.4,732.6L917.4,738.4L917.4,762.5L917.4,763.6L917.4,773.8L917.4,777.2L917.4,781.2L917.4,782.5L917.4,786.0L917.4,791.3L917.4,795.0L917.4,797.2L917.4,801.1L917.4,803.5L917.4,848.0L917.4,849.7L917.4,851.8L917.4,854.2L917.4,860.0L917.4,862.3L917.4,863.5L917.4,864.2L917.4,869.4L917.4,873.0L917.4,873.6L917.4,875.5L917.4,878.5L917.4,882.3L917.4,884.0L917.4,885.4L938.7,626.0L938.7,631.7L938.7,637.1L938.7,641.0L938.7,644.7L938.7,645.5L938.7,649.7L938.7,653.2L938.7,658.5L938.7,662.0L938.7,667.9L938.7,682.6L938.7,684.6L938.7,685.6L938.7,688.5L938.7,696.3L938.7,697.3L938.7,705.8L938.7,714.3L938.7,722.7L938.7,729.8L938.7,758.1L938.7,762.6L938.7,766.3L938.7,768.1L938.7,770.3L938.7,775.1L938.7,846.7L938.7,856.0L938.7,856.8L938.7,862.8L938.7,868.1L938.7,869.8L938.7,870.7L938.7,873.5L938.7,879.4L938.7,887.8L938.7,891.4L960.0,627.6L960.0,671.4L960.0,677.8L960.0,686.4L960.0,739.1L960.0,748.3L960.0,766.3L960.0,793.3L960.0,842.8L960.0,862.9L960.0,866.7L960.0,878.6L960.0,883.4L960.0,890.6" marker-start="url(#m10)" marker-mid="url(#m10)" marker-end="url(#m10)"/><path d="M726.0,768.9L726.0,772.7L726.0,776.4L726.0,777.4L726.0,778.7L726.0,780.6L726.0,781.8L726.0,785.3L726.0,788.0L726.0,789.5L726.0,843.7L726.0,844.5L726.0,848.0L726.0,851.5L768.6,733.7L768.6,744.3L768.6,745.8L768.6,748.5L768.6,750.7L768.6,754.3L768.6,757.6L768.6,761.1L768.6,763.9L768.6,764.6L768.6,766.2L768.6,767.6L768.6,779.9L768.6,789.0L768.6,794.8L768.6,841.9L768.6,844.9L768.6,849.6L768.6,853.4L768.6,858.3L768.6,859.4L789.8,731.8L789.8,733.6L789.8,746.7L789.8,747.5L789.8,753.8L789.8,760.9L789.8,762.9L789.8,763.7L789.8,776.6L789.8,779.9L789.8,785.2L789.8,787.4L789.8,788.4L789.8,792.6L789.8,794.9L789.8,796.7L789.8,801.2L789.8,849.6L789.8,863.3L811.1,726.0L811.1,727.4L811.1,730.4L811.1,731.3L811.1,737.5L811.1,742.8L811.1,747.2L811.1,748.4L811.1,756.4L811.1,773.7L811.1,777.2L811.1,778.1L811.1,780.4L811.1,783.1L811.1,786.3L811.1,792.4L811.1,794.4L811.1,797.5L811.1,801.5L811.1,844.4L811.1,849.2L811.1,853.0L811.1,856.3L811.1,863.0L811.1,871.0L811.1,875.1L832.4,714.1L832.4,718.1L832.4,744.5L832.4,768.0L832.4,789.7L832.4,795.2L832.4,798.0L832.4,848.9L832.4,853.5L832.4,865.1L832.4,870.9L853.6,695.3L853.6,707.4L853.6,709.9L853.6,715.9L853.6,725.6L853.6,731.5L853.6,742.7L853.6,774.7L853.6,856.6L853.6,857.6L853.6,859.0L853.6,872.0L853.6,876.6L896.2,663.8L896.2,694.0L896.2,696.4L896.2,702.2L896.2,758.1L896.2,763.8L896.2,776.2L896.2,787.5L896.2,791.2L896.2,794.7L896.2,802.5L896.2,849.4L896.2,854.6L896.2,859.8L896.2,861.9L896.2,863.9L896.2,864.5L896.2,866.1L896.2,871.1L896.2,873.5L896.2,882.3L917.4,641.4L917.4,648.2L917.4,651.6L917.4,669.6L917.4,687.7L917.4,696.0L917.4,720.4L917.4,735.6L917.4,743.4L917.4,744.5L917.4,746.5L917.4,753.5L917.4,770.6L917.4,799.1L917.4,849.8L917.4,853.0L917.4,855.9L917.4,860.6L917.4,865.8L917.4,880.6L938.7,625.1L938.7,633.7L938.7,659.8L938.7,673.1L938.7,673.9L938.7,677.3L938.7,701.2L938.7,708.5L938.7,716.6L938.7,718.4L938.7,724.4L938.7,742.6L938.7,759.5L938.7,798.6L938.7,846.9L938.7,848.9L938.7,849.7L938.7,851.3L938.7,853.1L938.7,858.1L938.7,858.6L938.7,860.6L938.7,865.9L938.7,872.0L938.7,879.3L938.7,881.6L938.7,883.9L938.7,884.2L938.7,887.1L938.7,889.3L938.7,889.9L960.0,692.5L960.0,701.2L960.0,758.7L960.0,779.2L960.0,840.0L960.0,850.7L960.0,858.8L960.0,868.9L960.0,875.1L960.0,882.0L960.0,885.8" marker-start="url(#m30)" marker-mid="url(#m30)" marker-end="url(#m30)"/><path d="M726.0,766.0L726.0,771.9L726.0,775.3L726.0,784.5L726.0,836.8L726.0,849.5L768.6,737.5L768.6,741.7L768.6,743.8L768.6,746.9L768.6,749.3L768.6,756.3L768.6,767.2L768.6,769.4L768.6,770.8L768.6,775.2L768.6,777.4L768.6,847.0L768.6,848.8L768.6,860.1L789.8,731.7L789.8,736.9L789.8,737.7L789.8,743.9L789.8,755.1L789.8,769.2L789.8,797.0L789.8,843.5L789.8,851.2L789.8,852.1L789.8,858.4L811.1,726.2L811.1,738.1L811.1,739.1L811.1,753.4L811.1,778.9L811.1,784.9L811.1,787.7L811.1,795.0L811.1,796.1L811.1,800.1L811.1,802.4L811.1,860.3L811.1,864.4L811.1,875.9L811.1,876.7L832.4,715.8L832.4,723.5L832.4,727.4L832.4,732.8L832.4,735.3L832.4,739.4L832.4,751.9L832.4,752.8L832.4,754.5L832.4,773.9L832.4,783.8L832.4,793.6L832.4,848.2L832.4,852.7L832.4,854.6L832.4,857.9L832.4,859.0L832.4,860.3L832.4,864.0L832.4,867.2L832.4,873.6L832.4,876.0L853.6,702.9L853.6,717.8L853.6,727.0L853.6,730.5L853.6,745.7L853.6,750.5L853.6,759.8L853.6,762.2L853.6,770.1L853.6,772.4L853.6,779.0L853.6,787.9L853.6,789.0L853.6,801.9L853.6,861.6L853.6,867.7L853.6,873.1L853.6,874.1L896.2,666.3L896.2,675.8L896.2,679.8L896.2,682.4L896.2,717.2L896.2,718.7L896.2,731.0L896.2,738.8L896.2,740.2L896.2,748.3L896.2,771.1L896.2,778.8L896.2,784.4L896.2,857.7L896.2,866.8L896.2,868.8L896.2,869.9L896.2,877.8L896.2,879.4L917.4,653.9L917.4,674.3L917.4,679.2L917.4,682.3L917.4,690.3L917.4,700.3L917.4,703.4L917.4,707.9L917.4,709.0L917.4,723.7L917.4,727.0L917.4,749.2L917.4,755.5L917.4,757.4L917.4,760.6L917.4,775.5L917.4,847.1L917.4,854.6L917.4,857.8L917.4,858.3L917.4,866.3L917.4,867.7L917.4,870.6L917.4,879.4L938.7,638.8L938.7,647.5L938.7,678.3L938.7,732.3L938.7,734.1L938.7,735.3L938.7,738.0L938.7,755.2L938.7,765.2L938.7,773.1L938.7,777.8L938.7,851.7L938.7,861.2L938.7,863.4L938.7,867.7L938.7,874.9L938.7,878.1L938.7,886.1L960.0,612.6L960.0,845.6L960.0,852.5L960.0,854.3L960.0,863.2L960.0,876.4" marker-start="url(#m60)" marker-mid="url(#m60)" marker-end="url(#m60)"/><path d="M726.0,783.2L726.0,835.2L726.0,838.0L726.0,840.3L768.6,739.7L768.6,751.4L768.6,759.1L768.6,762.2L768.6,781.7L768.6,788.0L768.6,791.8L768.6,792.3L768.6,850.8L768.6,851.5L768.6,863.8L768.6,867.9L768.6,875.9L789.8,729.6L789.8,738.9L789.8,741.0L789.8,741.7L789.8,744.6L789.8,750.6L789.8,751.6L789.8,773.0L789.8,774.9L789.8,793.5L789.8,802.0L789.8,854.5L789.8,860.4L789.8,861.4L789.8,862.6L789.8,864.9L789.8,865.4L789.8,867.5L811.1,734.0L811.1,740.5L811.1,744.5L811.1,745.4L811.1,752.5L811.1,774.6L811.1,781.3L811.1,787.4L811.1,858.1L811.1,859.5L811.1,866.5L811.1,872.1L811.1,879.5L832.4,730.6L832.4,757.5L832.4,859.9L832.4,863.4L832.4,870.5L832.4,876.7L832.4,879.2L832.4,882.5L832.4,896.6L832.4,902.5L853.6,701.1L853.6,735.0L853.6,744.7L853.6,755.7L853.6,779.2L853.6,783.0L853.6,785.2L853.6,860.2L853.6,862.5L853.6,864.5L853.6,865.3L853.6,866.8L853.6,880.0L853.6,897.5L896.2,721.7L896.2,723.3L896.2,726.1L896.2,729.9L896.2,735.4L896.2,780.2L896.2,805.1L896.2,878.7L896.2,889.0L896.2,910.8L917.4,642.5L917.4,657.5L917.4,672.7L917.4,721.0L917.4,740.7L917.4,766.8L917.4,769.8L917.4,871.3L917.4,876.6L917.4,884.6L917.4,893.8L917.4,899.9L917.4,901.4L938.7,654.7L938.7,670.6L938.7,692.9L938.7,703.0L938.7,713.0L938.7,727.1L938.7,739.8L938.7,745.0L938.7,748.6L938.7,749.3L938.7,753.0L938.7,843.9L938.7,845.3L938.7,865.4L938.7,876.5L938.7,882.8L938.7,895.2L938.7,902.8L938.7,910.1L938.7,915.2L960.0,654.5L960.0,715.4L960.0,786.6L960.0,857.2L960.0,871.3L960.0,888.6L960.0,897.4L960.0,902.3L960.0,906.4" marker-start="url(#m100)" marker-mid="url(#m100)" marker-end="url(#m100)"/><path d="M726.0,769.7L726.0,773.5L726.0,847.1L768.6,753.2L768.6,781.3L768.6,871.5L789.8,799.3L789.8,848.8L789.8,857.8L789.8,866.9L789.8,869.4L789.8,872.8L789.8,876.9L789.8,881.6L789.8,887.4L789.8,891.8L811.1,791.1L811.1,798.9L811.1,849.5L811.1,887.2L811.1,891.5L811.1,892.4L811.1,898.2L811.1,901.5L811.1,916.9L832.4,875.3L832.4,880.7L832.4,890.9L832.4,893.4L832.4,899.2L853.6,738.9L853.6,853.4L853.6,875.2L853.6,887.3L853.6,892.5L853.6,896.2L853.6,899.8L896.2,691.6L896.2,708.3L896.2,745.5L896.2,880.8L896.2,883.5L896.2,884.8L896.2,889.5L896.2,894.6L896.2,898.9L896.2,903.9L896.2,907.0L917.4,654.8L917.4,668.1L917.4,683.0L917.4,712.8L917.4,716.2L917.4,786.7L917.4,791.8L917.4,877.9L917.4,887.8L917.4,890.6L917.4,893.1L917.4,897.1L917.4,904.7L917.4,909.8L938.7,630.4L938.7,664.0L938.7,690.1L938.7,709.5L938.7,854.6L938.7,874.2L938.7,897.3L938.7,901.2L960.0,618.9L960.0,660.0L960.0,708.5L960.0,752.5L960.0,846.6" marker-start="url(#m140)" marker-mid="url(#m140)" marker-end="url(#m140)"/><path d="M768.6,869.4L768.6,875.0L768.6,878.3L789.8,878.9L789.8,883.9L789.8,886.7L811.1,881.8L811.1,884.4L811.1,888.1L811.1,895.6L811.1,899.3L832.4,886.4L832.4,889.2L832.4,894.1L832.4,903.9L853.6,881.0L853.6,884.3L853.6,886.6L853.6,890.1L853.6,914.0L896.2,892.1L896.2,896.2L896.2,900.9L896.2,908.4L896.2,913.2L917.4,906.2L917.4,911.5L938.7,894.1L938.7,905.4L938.7,907.6L938.7,910.6L938.7,913.8L938.7,918.8L960.0,651.0L960.0,892.8L960.0,894.9L960.0,900.1L960.0,909.3" marker-start="url(#m190)" marker-mid="url(#m190)" marker-end="url(#m190)"/><path d="M726.0,739.5L726.0,831.2L768.6,801.5L768.6,885.6L768.6,893.9L768.6,900.2L768.6,908.9L789.8,751.0L789.8,814.2L789.8,817.0L789.8,915.4L811.1,762.6L811.1,819.3L811.1,824.0L811.1,825.4L832.4,817.9L832.4,820.1L832.4,823.3L853.6,739.5L853.6,748.1L853.6,821.5L853.6,822.8L853.6,826.9L896.2,709.2L896.2,725.1L896.2,814.3L896.2,814.7L917.4,808.7L938.7,808.7L938.7,811.6L960.0,716.4L960.0,725.1L960.0,794.3L960.0,802.9" marker-start="url(#m370)" marker-mid="url(#m370)" marker-end="url(#m370)"/><path d="M726.0,746.4L726.0,750.9L726.0,752.7L726.0,754.5L726.0,757.7L726.0,830.4L726.0,843.3L768.6,812.7L768.6,814.9L768.6,817.0L768.6,917.7L789.8,819.7L789.8,832.0L789.8,836.6L811.1,831.2L832.4,838.1L853.6,812.2L853.6,840.4L896.2,839.0L896.2,877.9L917.4,814.5L917.4,828.9L917.4,898.1L938.7,817.4L938.7,821.7L938.7,838.1L938.7,877.9L938.7,895.2L960.0,817.4L960.0,823.1L960.0,849.1L960.0,895.2" marker-start="url(#m550)" marker-mid="url(#m550)" marker-end="url(#m550)"/></g>
<g clip-path="url(#cp13)" fill="none" stroke="none"><path d="M1016.3,776.6L1016.3,782.8L1016.3,783.9L1016.3,786.5L1016.3,788.2L1016.3,792.5L1016.3,796.0L1016.3,814.8L1016.3,816.6L1016.3,828.1L1016.3,834.7L1016.3,840.8L1016.3,845.5L1058.8,773.2L1058.8,774.1L1058.8,775.6L1058.8,780.0L1058.8,785.0L1058.8,822.1L1058.8,830.7L1058.8,831.7L1058.8,833.2L1058.8,835.2L1058.8,840.7L1058.8,845.8L1058.8,846.2L1058.8,849.4L1058.8,851.7L1058.8,852.8L1058.8,860.4L1080.1,758.8L1080.1,761.9L1080.1,763.1L1080.1,772.2L1080.1,773.4L1080.1,773.5L1080.1,782.2L1080.1,787.9L1080.1,789.8L1080.1,791.1L1080.1,823.5L1080.1,823.9L1080.1,832.1L1080.1,833.2L1080.1,836.0L1080.1,838.9L1080.1,844.1L1080.1,850.6L1080.1,852.1L1080.1,853.6L1080.1,856.5L1080.1,857.9L1080.1,861.1L1101.3,758.5L1101.3,759.3L1101.3,761.9L1101.3,766.9L1101.3,769.2L1101.3,780.0L1101.3,781.6L1101.3,784.7L1101.3,787.4L1101.3,789.4L1101.3,815.7L1101.3,817.9L1101.3,824.5L1101.3,829.2L1101.3,836.7L1101.3,838.5L1101.3,842.1L1101.3,847.1L1101.3,849.8L1101.3,855.8L1101.3,859.7L1101.3,865.0L1101.3,865.2L1122.6,749.8L1122.6,752.7L1122.6,756.5L1122.6,758.8L1122.6,761.4L1122.6,763.9L1122.6,765.8L1122.6,767.6L1122.6,769.0L1122.6,772.0L1122.6,773.0L1122.6,773.9L1122.6,777.6L1122.6,779.4L1122.6,780.9L1122.6,785.7L1122.6,787.7L1122.6,788.3L1122.6,789.6L1122.6,810.6L1122.6,813.3L1122.6,816.1L1122.6,821.1L1122.6,828.4L1122.6,831.0L1122.6,833.9L1122.6,835.0L1122.6,836.0L1122.6,837.2L1122.6,838.3L1122.6,840.9L1122.6,844.1L1122.6,850.1L1122.6,851.6L1122.6,853.8L1122.6,855.0L1122.6,860.9L1122.6,861.0L1122.6,862.2L1143.9,736.3L1143.9,743.3L1143.9,749.3L1143.9,750.2L1143.9,753.1L1143.9,757.3L1143.9,760.8L1143.9,766.7L1143.9,768.0L1143.9,768.6L1143.9,772.3L1143.9,773.9L1143.9,775.1L1143.9,784.1L1143.9,787.0L1143.9,802.8L1143.9,805.1L1143.9,806.2L1143.9,807.2L1143.9,811.9L1143.9,815.0L1143.9,816.2L1143.9,817.7L1143.9,818.6L1143.9,822.0L1143.9,823.3L1143.9,824.9L1143.9,826.5L1143.9,830.1L1143.9,842.1L1143.9,844.8L1143.9,848.4L1143.9,855.4L1143.9,856.7L1143.9,857.6L1186.4,710.2L1186.4,715.2L1186.4,718.7L1186.4,723.5L1186.4,725.1L1186.4,730.8L1186.4,736.5L1186.4,741.5L1186.4,750.9L1186.4,759.2L1186.4,760.1L1186.4,769.4L1186.4,771.5L1186.4,774.9L1186.4,778.0L1186.4,782.9L1186.4,785.0L1186.4,787.9L1186.4,794.4L1186.4,798.8L1186.4,801.0L1186.4,803.7L1186.4,805.4L1186.4,812.2L1186.4,821.4L1186.4,830.8L1186.4,839.2L1186.4,841.1L1186.4,853.9L1207.6,704.1L1207.6,711.3L1207.6,722.6L1207.6,724.4L1207.6,726.3L1207.6,736.3L1207.6,738.8L1207.6,747.1L1207.6,747.8L1207.6,749.8L1207.6,758.9L1207.6,789.5L1207.6,793.7L1207.6,804.1L1207.6,812.3L1207.6,815.7L1207.6,822.9L1207.6,823.1L1207.6,838.4L1207.6,847.5L1207.6,849.3L1207.6,852.5L1207.6,861.9L1228.9,697.7L1228.9,709.4L1228.9,720.6L1228.9,736.0L1228.9,738.2L1228.9,740.2L1228.9,756.6L1228.9,768.6L1228.9,777.7L1228.9,779.7L1228.9,783.4L1228.9,790.9L1228.9,796.1L1228.9,802.7L1228.9,810.1L1228.9,816.0L1228.9,824.3L1228.9,830.0L1228.9,834.0L1228.9,837.2L1228.9,841.5L1228.9,841.9L1228.9,850.5L1228.9,856.7L1250.2,661.1L1250.2,668.1L1250.2,670.9L1250.2,675.9L1250.2,734.8L1250.2,739.6L1250.2,755.6L1250.2,762.4L1250.2,766.0L1250.2,772.1L1250.2,778.4L1250.2,782.2L1250.2,790.0L1250.2,807.1L1250.2,811.7L1250.2,814.7L1250.2,820.5L1250.2,839.9L1250.2,843.4L1250.2,844.9L1250.2,852.6L1250.2,855.0L1250.2,857.5" marker-start="url(#m10)" marker-mid="url(#m10)" marker-end="url(#m10)"/><path d="M1016.3,777.0L1016.3,779.2L1016.3,782.7L1016.3,791.0L1016.3,791.5L1016.3,822.0L1016.3,823.5L1016.3,838.2L1058.8,764.0L1058.8,765.4L1058.8,766.9L1058.8,768.0L1058.8,776.1L1058.8,781.4L1058.8,781.9L1058.8,826.1L1058.8,834.1L1058.8,835.9L1058.8,838.0L1058.8,842.2L1058.8,847.5L1058.8,850.4L1058.8,854.0L1058.8,856.2L1058.8,856.5L1080.1,754.2L1080.1,754.7L1080.1,760.8L1080.1,767.5L1080.1,770.6L1080.1,774.9L1080.1,776.0L1080.1,784.1L1080.1,786.4L1080.1,787.5L1080.1,825.7L1080.1,831.8L1080.1,835.2L1080.1,837.2L1080.1,838.3L1080.1,840.3L1080.1,845.1L1080.1,848.8L1080.1,854.4L1080.1,856.3L1080.1,860.0L1101.3,753.5L1101.3,764.7L1101.3,765.3L1101.3,770.0L1101.3,774.7L1101.3,775.8L1101.3,779.2L1101.3,783.6L1101.3,785.9L1101.3,787.4L1101.3,815.3L1101.3,825.5L1101.3,826.8L1101.3,827.7L1101.3,830.3L1101.3,832.4L1101.3,837.3L1101.3,841.2L1101.3,843.1L1101.3,844.8L1101.3,851.0L1101.3,858.4L1101.3,863.2L1122.6,746.6L1122.6,750.4L1122.6,751.4L1122.6,753.4L1122.6,755.4L1122.6,759.6L1122.6,763.4L1122.6,766.8L1122.6,770.7L1122.6,774.4L1122.6,779.0L1122.6,782.9L1122.6,787.1L1122.6,791.1L1122.6,792.1L1122.6,811.4L1122.6,813.5L1122.6,819.1L1122.6,819.6L1122.6,822.9L1122.6,830.2L1122.6,839.1L1122.6,842.0L1122.6,848.2L1122.6,855.2L1122.6,859.7L1143.9,744.2L1143.9,755.8L1143.9,759.0L1143.9,762.5L1143.9,765.6L1143.9,771.3L1143.9,776.0L1143.9,782.0L1143.9,785.0L1143.9,787.3L1143.9,797.8L1143.9,798.9L1143.9,803.7L1143.9,809.0L1143.9,819.9L1143.9,832.8L1143.9,834.9L1143.9,836.9L1143.9,837.8L1143.9,838.7L1143.9,839.6L1143.9,841.5L1143.9,846.5L1143.9,852.6L1143.9,853.8L1186.4,712.6L1186.4,719.8L1186.4,735.2L1186.4,744.9L1186.4,748.4L1186.4,756.3L1186.4,764.4L1186.4,766.6L1186.4,779.1L1186.4,789.4L1186.4,796.9L1186.4,818.9L1186.4,833.3L1186.4,848.6L1186.4,855.0L1186.4,858.0L1186.4,862.3L1207.6,702.0L1207.6,712.6L1207.6,716.1L1207.6,740.2L1207.6,754.9L1207.6,761.3L1207.6,773.8L1207.6,776.0L1207.6,784.7L1207.6,789.9L1207.6,803.2L1207.6,825.4L1207.6,828.7L1207.6,835.4L1207.6,841.1L1207.6,842.7L1207.6,846.7L1207.6,860.0L1228.9,682.4L1228.9,683.9L1228.9,688.7L1228.9,692.9L1228.9,706.1L1228.9,710.7L1228.9,714.6L1228.9,716.9L1228.9,719.5L1228.9,723.7L1228.9,728.2L1228.9,730.8L1228.9,744.0L1228.9,749.0L1228.9,752.9L1228.9,758.6L1228.9,764.4L1228.9,776.8L1228.9,784.4L1228.9,818.2L1228.9,836.5L1228.9,853.8L1250.2,663.6L1250.2,666.2L1250.2,670.1L1250.2,673.7L1250.2,732.6L1250.2,736.3L1250.2,745.8L1250.2,749.3L1250.2,752.2L1250.2,757.8L1250.2,767.5L1250.2,769.1L1250.2,775.6L1250.2,776.1L1250.2,788.8L1250.2,796.8L1250.2,818.3L1250.2,832.4L1250.2,838.2L1250.2,860.0" marker-start="url(#m30)" marker-mid="url(#m30)" marker-end="url(#m30)"/><path d="M1016.3,779.0L1016.3,785.8L1016.3,789.8L1016.3,794.8L1016.3,817.8L1016.3,842.5L1058.8,771.0L1058.8,783.9L1058.8,787.5L1058.8,826.8L1058.8,842.9L1058.8,854.8L1058.8,859.6L1080.1,764.7L1080.1,768.2L1080.1,779.3L1080.1,780.6L1080.1,820.3L1080.1,828.6L1080.1,830.2L1080.1,841.5L1080.1,846.1L1080.1,848.0L1101.3,755.0L1101.3,755.8L1101.3,761.6L1101.3,763.0L1101.3,771.5L1101.3,772.5L1101.3,777.7L1101.3,780.5L1101.3,831.2L1101.3,834.1L1101.3,835.1L1101.3,840.1L1101.3,845.3L1101.3,848.2L1101.3,849.4L1101.3,854.4L1101.3,854.7L1101.3,857.7L1101.3,861.4L1122.6,748.0L1122.6,757.1L1122.6,776.4L1122.6,782.3L1122.6,783.8L1122.6,793.5L1122.6,815.1L1122.6,822.0L1122.6,824.4L1122.6,826.2L1122.6,829.3L1122.6,832.8L1122.6,843.1L1122.6,846.3L1143.9,739.0L1143.9,741.3L1143.9,746.3L1143.9,747.5L1143.9,752.2L1143.9,758.6L1143.9,761.6L1143.9,770.0L1143.9,776.7L1143.9,778.0L1143.9,781.0L1143.9,808.2L1143.9,810.9L1143.9,812.5L1143.9,821.5L1143.9,826.5L1143.9,828.1L1143.9,834.5L1143.9,846.2L1143.9,849.0L1143.9,850.7L1143.9,851.1L1143.9,858.2L1143.9,859.3L1186.4,729.0L1186.4,738.5L1186.4,761.8L1186.4,807.3L1186.4,810.7L1186.4,815.4L1186.4,832.6L1186.4,842.6L1186.4,845.0L1186.4,849.5L1186.4,860.2L1207.6,700.0L1207.6,707.0L1207.6,719.3L1207.6,728.9L1207.6,753.3L1207.6,768.0L1207.6,769.7L1207.6,771.1L1207.6,779.2L1207.6,781.7L1207.6,786.3L1207.6,798.9L1207.6,800.1L1207.6,808.1L1207.6,819.7L1228.9,687.9L1228.9,698.6L1228.9,741.6L1228.9,747.1L1228.9,755.3L1228.9,760.6L1228.9,787.7L1228.9,804.8L1228.9,825.3L1228.9,829.2L1228.9,844.4L1228.9,846.8L1228.9,860.2L1228.9,862.2L1250.2,677.4L1250.2,677.9L1250.2,740.3L1250.2,786.2L1250.2,793.9L1250.2,808.7L1250.2,816.0L1250.2,825.7L1250.2,828.6L1250.2,830.5L1250.2,849.3" marker-start="url(#m60)" marker-mid="url(#m60)" marker-end="url(#m60)"/><path d="M1016.3,781.2L1016.3,826.2L1016.3,831.6L1016.3,833.2L1058.8,769.8L1058.8,777.0L1058.8,778.9L1058.8,782.7L1058.8,786.5L1058.8,823.9L1058.8,827.9L1058.8,836.8L1058.8,840.1L1058.8,843.9L1058.8,858.5L1058.8,862.1L1058.8,862.3L1080.1,756.1L1080.1,769.5L1080.1,777.8L1080.1,822.6L1080.1,842.7L1080.1,850.1L1080.1,859.5L1080.1,862.9L1101.3,756.9L1101.3,774.3L1101.3,820.1L1101.3,821.1L1101.3,862.5L1122.6,746.3L1122.6,761.8L1122.6,809.1L1122.6,817.2L1122.6,825.4L1122.6,845.4L1122.6,849.0L1122.6,856.9L1122.6,858.3L1143.9,737.4L1143.9,740.9L1143.9,744.8L1143.9,750.8L1143.9,764.1L1143.9,779.8L1143.9,799.5L1143.9,800.9L1143.9,814.6L1143.9,829.3L1143.9,844.0L1186.4,726.9L1186.4,745.6L1186.4,752.9L1186.4,790.6L1186.4,823.8L1186.4,824.4L1186.4,827.5L1186.4,835.8L1207.6,709.2L1207.6,718.5L1207.6,731.5L1207.6,733.8L1207.6,743.4L1207.6,761.6L1207.6,763.8L1207.6,795.9L1207.6,809.0L1207.6,834.3L1207.6,855.5L1228.9,702.4L1228.9,703.4L1228.9,765.0L1228.9,770.2L1228.9,773.1L1228.9,791.8L1228.9,795.6L1228.9,800.5L1228.9,808.0L1228.9,811.2L1228.9,814.4L1228.9,822.4L1228.9,852.3L1228.9,890.9L1250.2,662.7L1250.2,665.5L1250.2,667.0L1250.2,674.4L1250.2,717.6L1250.2,722.7L1250.2,724.5L1250.2,730.2L1250.2,751.1L1250.2,783.3L1250.2,823.5L1250.2,848.0" marker-start="url(#m100)" marker-mid="url(#m100)" marker-end="url(#m100)"/><path d="M1016.3,794.6L1058.8,766.5L1058.8,771.9L1058.8,824.5L1058.8,829.2L1058.8,882.3L1080.1,758.1L1080.1,759.7L1080.1,766.0L1080.1,780.2L1080.1,783.3L1080.1,827.2L1080.1,828.0L1101.3,768.5L1101.3,818.4L1101.3,822.3L1101.3,823.4L1101.3,852.7L1122.6,852.5L1143.9,738.1L1143.9,754.5L1143.9,782.6L1143.9,831.8L1207.6,816.9L1207.6,831.1L1207.6,858.2L1228.9,695.0L1228.9,725.8L1228.9,731.5L1250.2,672.1L1250.2,697.3L1250.2,701.8L1250.2,719.1L1250.2,726.0L1250.2,743.0L1250.2,760.0L1250.2,835.9" marker-start="url(#m140)" marker-mid="url(#m140)" marker-end="url(#m140)"/><path d="M1016.3,846.2L1186.4,884.3L1250.2,707.2L1250.2,888.0" marker-start="url(#m190)" marker-mid="url(#m190)" marker-end="url(#m190)"/><path d="M1016.3,774.1L1058.8,790.0L1058.8,869.7L1058.8,871.7L1058.8,876.0L1080.1,882.0L1080.1,883.4L1080.1,887.2L1101.3,885.2L1101.3,895.2L1122.6,777.0L1122.6,895.2L1122.6,898.1L1122.6,911.7L1143.9,762.6L1143.9,777.0L1143.9,898.1L1143.9,914.0L1186.4,751.0L1186.4,759.7L1186.4,905.9L1207.6,745.3L1207.6,762.6L1207.6,919.2L1228.9,764.0L1228.9,804.4L1250.2,779.9L1250.2,794.3" marker-start="url(#m370)" marker-mid="url(#m370)" marker-end="url(#m370)"/><path d="M1016.3,837.6L1058.8,796.0L1058.8,800.6L1058.8,803.2L1058.8,891.5L1058.8,905.9L1080.1,798.6L1080.1,800.1L1080.1,803.7L1080.1,869.3L1080.1,875.1L1101.3,801.3L1101.3,806.6L1101.3,807.6L1101.3,877.9L1101.3,898.1L1122.6,791.4L1122.6,796.3L1122.6,801.1L1122.6,872.2L1122.6,881.4L1143.9,794.3L1143.9,867.8L1143.9,880.2L1186.4,862.1L1186.4,875.1L1207.6,866.4L1207.6,876.5L1207.6,888.0L1228.9,869.9L1228.9,875.4L1228.9,882.3L1250.2,860.6L1250.2,879.4" marker-start="url(#m550)" marker-mid="url(#m550)" marker-end="url(#m550)"/></g>
<g clip-path="url(#cp14)" fill="none" stroke="none"><path d="M1306.5,742.4L1306.5,744.1L1306.5,752.0L1306.5,767.2L1306.5,821.0L1306.5,822.8L1306.5,826.5L1306.5,834.6L1306.5,842.6L1306.5,847.7L1306.5,850.8L1306.5,853.4L1349.0,739.1L1349.0,739.5L1349.0,740.8L1349.0,741.8L1349.0,743.4L1349.0,749.9L1349.0,753.1L1349.0,757.3L1349.0,762.7L1349.0,764.3L1349.0,765.8L1349.0,766.8L1349.0,769.2L1349.0,771.2L1349.0,774.8L1349.0,835.2L1349.0,837.8L1349.0,840.8L1349.0,841.9L1349.0,843.5L1349.0,851.8L1349.0,854.2L1349.0,856.6L1370.3,726.3L1370.3,732.2L1370.3,733.2L1370.3,739.7L1370.3,740.7L1370.3,742.8L1370.3,746.1L1370.3,762.0L1370.3,835.7L1370.3,839.2L1370.3,841.3L1370.3,848.7L1370.3,855.2L1370.3,858.3L1370.3,859.8L1370.3,860.8L1370.3,865.7L1370.3,866.6L1370.3,868.5L1370.3,870.3L1370.3,871.2L1391.5,707.4L1391.5,711.4L1391.5,714.2L1391.5,732.6L1391.5,742.6L1391.5,748.2L1391.5,751.7L1391.5,756.5L1391.5,759.0L1391.5,762.5L1391.5,767.8L1391.5,770.7L1391.5,830.1L1391.5,832.4L1391.5,833.4L1391.5,834.4L1391.5,836.1L1391.5,838.1L1391.5,840.8L1391.5,844.7L1391.5,847.3L1391.5,850.0L1391.5,850.3L1391.5,851.9L1391.5,857.4L1391.5,859.9L1391.5,862.7L1391.5,865.0L1391.5,865.6L1391.5,867.1L1391.5,868.2L1391.5,871.7L1412.8,728.9L1412.8,733.3L1412.8,735.3L1412.8,746.7L1412.8,752.2L1412.8,756.4L1412.8,758.2L1412.8,834.2L1412.8,838.7L1412.8,844.3L1412.8,847.6L1412.8,849.2L1412.8,859.3L1412.8,862.5L1412.8,868.0L1412.8,870.5L1412.8,876.6L1412.8,879.0L1434.1,680.2L1434.1,690.8L1434.1,704.5L1434.1,705.9L1434.1,713.7L1434.1,747.5L1434.1,758.1L1434.1,825.0L1434.1,826.6L1434.1,833.1L1434.1,834.9L1434.1,841.3L1434.1,844.2L1434.1,856.2L1434.1,861.8L1434.1,866.7L1434.1,868.9L1434.1,876.5L1434.1,881.6L1434.1,886.0L1476.6,607.6L1476.6,618.2L1476.6,627.6L1476.6,641.6L1476.6,685.2L1476.6,695.7L1476.6,701.2L1476.6,705.6L1476.6,767.9L1476.6,783.1L1476.6,785.0L1476.6,787.0L1476.6,794.6L1476.6,799.1L1476.6,800.8L1476.6,802.7L1476.6,804.4L1476.6,805.9L1476.6,808.7L1476.6,813.3L1476.6,821.9L1476.6,831.9L1497.9,615.1L1497.9,624.1L1497.9,680.3L1497.9,692.4L1497.9,748.1L1497.9,760.7L1497.9,763.0L1497.9,763.6L1497.9,765.4L1497.9,768.6L1497.9,773.0L1497.9,778.8L1497.9,780.2L1497.9,782.4L1497.9,784.6L1497.9,787.8L1497.9,788.7L1497.9,800.8L1497.9,801.9L1497.9,811.8L1497.9,814.5L1497.9,815.8L1497.9,817.6L1497.9,820.3L1497.9,822.0L1497.9,823.6L1497.9,825.1L1519.1,570.8L1519.1,611.1L1519.1,653.5L1519.1,656.5L1519.1,720.7L1519.1,747.8L1519.1,751.1L1519.1,771.7L1519.1,830.6L1519.1,839.1L1519.1,846.4L1519.1,859.1L1519.1,860.6L1519.1,863.2L1519.1,868.2L1519.1,868.6L1519.1,870.9L1540.4,580.9L1540.4,693.3L1540.4,726.8L1540.4,731.4L1540.4,731.7L1540.4,736.9L1540.4,740.5L1540.4,741.0L1540.4,743.0L1540.4,746.3L1540.4,751.1L1540.4,752.1L1540.4,757.8L1540.4,760.8L1540.4,763.2L1540.4,764.7L1540.4,791.4L1540.4,817.0L1540.4,818.9L1540.4,836.2L1540.4,847.1L1540.4,859.7" marker-start="url(#m10)" marker-mid="url(#m10)" marker-end="url(#m10)"/><path d="M1306.5,747.3L1306.5,771.5L1306.5,827.5L1306.5,836.9L1349.0,744.2L1349.0,745.9L1349.0,749.1L1349.0,756.5L1349.0,770.6L1349.0,836.4L1349.0,838.8L1349.0,840.0L1349.0,848.3L1349.0,851.5L1370.3,727.9L1370.3,729.4L1370.3,730.1L1370.3,734.2L1370.3,742.1L1370.3,750.1L1370.3,753.9L1370.3,754.3L1370.3,755.8L1370.3,757.2L1370.3,758.1L1370.3,759.3L1370.3,771.2L1370.3,775.5L1370.3,837.4L1370.3,843.1L1370.3,847.5L1370.3,853.2L1370.3,855.9L1391.5,717.6L1391.5,719.3L1391.5,722.3L1391.5,739.9L1391.5,749.0L1391.5,835.8L1391.5,843.5L1391.5,853.1L1391.5,854.9L1391.5,859.3L1391.5,869.6L1391.5,871.1L1412.8,721.3L1412.8,724.6L1412.8,737.1L1412.8,739.1L1412.8,740.7L1412.8,763.7L1412.8,767.0L1412.8,822.1L1412.8,824.7L1412.8,829.3L1412.8,832.0L1412.8,851.1L1412.8,856.6L1412.8,881.9L1434.1,688.4L1434.1,690.6L1434.1,696.3L1434.1,700.0L1434.1,711.0L1434.1,812.2L1434.1,816.1L1434.1,822.7L1434.1,827.9L1434.1,849.0L1434.1,851.9L1434.1,856.0L1434.1,879.6L1476.6,600.8L1476.6,603.6L1476.6,613.1L1476.6,785.2L1476.6,790.3L1476.6,792.2L1476.6,799.2L1476.6,811.2L1476.6,818.0L1476.6,824.0L1476.6,829.5L1476.6,834.0L1497.9,683.8L1497.9,730.8L1497.9,767.9L1497.9,770.4L1497.9,776.0L1497.9,777.6L1497.9,783.9L1497.9,786.4L1497.9,789.6L1497.9,792.2L1497.9,799.2L1497.9,802.7L1497.9,809.3L1497.9,811.1L1497.9,812.9L1497.9,816.8L1497.9,819.9L1497.9,823.2L1519.1,583.7L1519.1,767.7L1519.1,783.5L1519.1,832.0L1519.1,841.1L1519.1,850.1L1519.1,853.4L1519.1,865.9L1519.1,875.4L1519.1,877.1L1540.4,578.0L1540.4,725.5L1540.4,725.6L1540.4,728.6L1540.4,735.7L1540.4,738.2L1540.4,738.7L1540.4,743.7L1540.4,748.7L1540.4,754.3L1540.4,756.1L1540.4,757.0L1540.4,759.3L1540.4,761.4L1540.4,813.5L1540.4,829.2L1540.4,833.2L1540.4,833.3L1540.4,842.8L1540.4,849.4L1540.4,850.3L1540.4,854.7L1540.4,855.2L1540.4,860.3L1540.4,871.5" marker-start="url(#m30)" marker-mid="url(#m30)" marker-end="url(#m30)"/><path d="M1306.5,757.3L1306.5,759.8L1306.5,764.1L1306.5,829.7L1306.5,832.1L1306.5,844.5L1349.0,746.6L1349.0,754.6L1349.0,758.1L1349.0,759.5L1349.0,761.4L1349.0,834.1L1349.0,844.1L1349.0,848.0L1370.3,723.8L1370.3,738.6L1370.3,748.0L1370.3,749.2L1370.3,752.5L1370.3,842.2L1370.3,845.0L1370.3,848.0L1370.3,849.9L1370.3,851.8L1370.3,861.7L1370.3,863.0L1370.3,868.1L1391.5,730.8L1391.5,738.1L1391.5,745.4L1391.5,764.7L1391.5,830.5L1391.5,839.8L1391.5,848.4L1391.5,854.7L1391.5,863.6L1412.8,723.0L1412.8,749.4L1412.8,752.1L1412.8,759.6L1412.8,764.9L1412.8,826.1L1434.1,683.6L1434.1,714.6L1434.1,760.8L1434.1,769.4L1434.1,817.7L1434.1,837.4L1434.1,848.0L1434.1,858.7L1434.1,871.1L1434.1,873.1L1434.1,883.0L1434.1,888.0L1476.6,624.0L1476.6,639.8L1476.6,689.9L1476.6,733.8L1476.6,758.7L1476.6,787.6L1476.6,789.1L1476.6,794.2L1476.6,797.2L1476.6,807.2L1476.6,807.6L1476.6,816.6L1476.6,819.1L1476.6,820.6L1476.6,826.9L1476.6,827.8L1476.6,830.8L1476.6,832.8L1497.9,619.3L1497.9,698.2L1497.9,769.4L1497.9,771.7L1497.9,774.6L1497.9,776.5L1497.9,794.6L1497.9,795.9L1497.9,797.7L1497.9,804.2L1497.9,806.1L1497.9,807.5L1519.1,663.0L1519.1,665.0L1519.1,845.0L1519.1,854.9L1540.4,605.4L1540.4,724.0L1540.4,734.8L1540.4,752.8L1540.4,765.8L1540.4,782.8L1540.4,815.4L1540.4,822.6L1540.4,839.4L1540.4,843.2L1540.4,864.5L1540.4,867.4" marker-start="url(#m60)" marker-mid="url(#m60)" marker-end="url(#m60)"/><path d="M1306.5,840.8L1306.5,863.5L1349.0,734.3L1349.0,748.3L1349.0,751.6L1349.0,753.2L1349.0,767.3L1349.0,850.0L1349.0,853.2L1349.0,865.9L1349.0,869.6L1349.0,871.9L1370.3,725.3L1370.3,735.9L1370.3,737.4L1370.3,744.5L1370.3,751.4L1370.3,836.2L1370.3,839.6L1370.3,845.3L1370.3,854.0L1370.3,857.7L1370.3,864.9L1391.5,709.1L1391.5,723.9L1391.5,725.8L1391.5,735.5L1391.5,754.9L1391.5,766.9L1391.5,845.7L1391.5,856.0L1391.5,861.5L1391.5,873.5L1391.5,874.6L1412.8,687.2L1412.8,695.5L1412.8,702.5L1412.8,713.4L1412.8,728.2L1412.8,743.1L1412.8,835.0L1412.8,840.2L1412.8,855.2L1412.8,865.1L1434.1,662.6L1434.1,668.9L1434.1,670.8L1434.1,673.8L1434.1,675.5L1434.1,677.5L1434.1,683.9L1434.1,693.7L1434.1,702.3L1434.1,707.9L1434.1,716.9L1434.1,819.4L1434.1,830.9L1434.1,843.9L1476.6,634.3L1476.6,694.1L1476.6,742.8L1476.6,793.2L1476.6,796.5L1476.6,803.7L1476.6,810.8L1476.6,812.3L1476.6,835.0L1476.6,838.8L1476.6,843.5L1476.6,847.9L1476.6,853.3L1476.6,856.7L1476.6,862.1L1476.6,875.3L1476.6,879.0L1476.6,879.8L1476.6,885.4L1476.6,886.9L1497.9,571.1L1497.9,579.4L1497.9,632.0L1497.9,676.8L1497.9,761.9L1497.9,766.6L1497.9,781.7L1497.9,790.9L1497.9,793.9L1497.9,808.6L1519.1,556.3L1519.1,671.2L1519.1,688.2L1519.1,758.2L1519.1,761.1L1519.1,779.0L1519.1,802.0L1519.1,835.7L1519.1,838.2L1519.1,886.6L1540.4,559.2L1540.4,599.6L1540.4,722.1L1540.4,729.1L1540.4,732.7L1540.4,747.2L1540.4,764.5L1540.4,767.8L1540.4,825.0L1540.4,827.2L1540.4,866.3" marker-start="url(#m100)" marker-mid="url(#m100)" marker-end="url(#m100)"/><path d="M1306.5,847.8L1349.0,760.4L1349.0,772.3L1349.0,774.1L1349.0,845.9L1349.0,846.1L1349.0,856.1L1349.0,860.4L1349.0,864.7L1370.3,730.9L1370.3,744.9L1370.3,760.1L1391.5,728.8L1391.5,839.1L1391.5,841.9L1412.8,685.0L1412.8,692.8L1412.8,705.7L1412.8,718.4L1412.8,770.5L1412.8,843.2L1412.8,864.3L1412.8,873.8L1412.8,874.7L1412.8,899.6L1434.1,657.6L1434.1,661.2L1434.1,663.5L1434.1,667.0L1434.1,672.3L1434.1,675.0L1434.1,678.5L1434.1,863.9L1476.6,615.6L1476.6,630.3L1476.6,655.8L1476.6,749.9L1476.6,815.0L1476.6,819.3L1476.6,822.8L1476.6,825.7L1476.6,849.6L1476.6,855.9L1476.6,858.6L1476.6,865.3L1476.6,867.1L1476.6,869.8L1476.6,870.3L1476.6,882.2L1497.9,585.9L1497.9,797.4L1497.9,805.7L1497.9,836.9L1497.9,838.3L1497.9,843.4L1497.9,843.9L1497.9,848.6L1497.9,853.6L1519.1,595.9L1519.1,793.1L1519.1,808.2L1519.1,812.0L1519.1,849.6L1519.1,898.1L1540.4,545.7L1540.4,562.1L1540.4,721.9L1540.4,745.1L1540.4,749.9L1540.4,886.6" marker-start="url(#m140)" marker-mid="url(#m140)" marker-end="url(#m140)"/><path d="M1349.0,859.3L1412.8,690.0L1412.8,698.0L1412.8,699.2L1412.8,703.9L1412.8,708.7L1412.8,710.7L1412.8,716.5L1434.1,659.3L1434.1,660.2L1434.1,665.5L1434.1,666.6L1434.1,669.3L1476.6,840.9L1476.6,845.6L1476.6,874.5L1497.9,840.7L1497.9,847.3L1497.9,851.5L1497.9,856.1L1519.1,546.2L1519.1,797.8" marker-start="url(#m190)" marker-mid="url(#m190)" marker-end="url(#m190)"/><path d="M1349.0,752.5L1349.0,880.0L1349.0,882.7L1349.0,885.0L1370.3,901.7L1370.3,904.6L1370.3,907.1L1391.5,738.1L1412.8,738.1L1434.1,730.8L1476.6,683.2L1497.9,671.7L1497.9,725.1L1519.1,653.0L1519.1,661.6L1519.1,713.5L1519.1,778.4L1519.1,785.6L1540.4,649.5L1540.4,655.8L1540.4,661.6L1540.4,711.2L1540.4,768.3L1540.4,774.1" marker-start="url(#m370)" marker-mid="url(#m370)" marker-end="url(#m370)"/><path d="M1306.5,749.2L1306.5,755.7L1306.5,760.3L1306.5,766.5L1306.5,769.9L1306.5,834.7L1306.5,849.1L1349.0,770.3L1349.0,772.4L1349.0,773.2L1349.0,791.4L1349.0,796.6L1349.0,888.0L1349.0,892.4L1370.3,782.8L1370.3,787.1L1370.3,812.2L1370.3,879.4L1370.3,894.7L1391.5,787.7L1391.5,796.6L1391.5,820.3L1391.5,875.1L1391.5,889.5L1412.8,802.9L1412.8,813.0L1412.8,827.5L1412.8,836.1L1412.8,884.3L1434.1,807.3L1434.1,823.1L1434.1,838.1L1476.6,813.0L1476.6,836.1L1497.9,825.4L1497.9,893.8" marker-start="url(#m550)" marker-mid="url(#m550)" marker-end="url(#m550)"/></g>
<g clip-path="url(#cp15)" fill="none" stroke="none"><path d="M1596.7,812.8L1596.7,816.9L1596.7,817.8L1596.7,819.1L1596.7,820.5L1596.7,826.3L1596.7,827.8L1596.7,833.8L1596.7,836.2L1596.7,839.9L1596.7,842.5L1596.7,845.9L1596.7,846.6L1596.7,852.1L1639.2,818.1L1639.2,819.2L1639.2,824.7L1639.2,832.7L1639.2,842.9L1639.2,844.0L1660.5,814.9L1660.5,816.8L1660.5,822.1L1660.5,824.4L1660.5,827.3L1660.5,828.4L1660.5,829.3L1660.5,830.0L1660.5,835.5L1660.5,835.7L1681.8,813.0L1681.8,814.7L1681.8,818.6L1681.8,823.7L1681.8,824.3L1681.8,831.1L1703.0,806.4L1703.0,808.6L1703.0,816.6L1703.0,828.7L1703.0,834.2L1724.3,794.9L1724.3,798.9L1724.3,799.6L1724.3,801.6L1724.3,803.5L1724.3,805.4L1724.3,806.4L1724.3,809.0L1724.3,810.1L1724.3,815.6L1724.3,818.2L1724.3,819.4L1724.3,836.6L1724.3,846.0L1724.3,848.4L1724.3,849.3L1724.3,863.1L1766.8,747.1L1766.8,751.9L1766.8,756.3L1766.8,763.4L1766.8,765.5L1766.8,769.8L1766.8,795.9L1766.8,803.6L1766.8,806.7L1766.8,817.9L1766.8,825.1L1766.8,827.4L1766.8,842.7L1766.8,857.3L1766.8,859.2L1788.1,723.6L1788.1,724.9L1788.1,729.1L1788.1,730.1L1788.1,731.6L1788.1,734.6L1788.1,736.8L1788.1,739.4L1788.1,741.1L1788.1,742.1L1788.1,754.8L1788.1,762.6L1788.1,763.6L1788.1,766.2L1788.1,785.2L1788.1,797.3L1788.1,817.4L1788.1,823.4L1788.1,825.7L1788.1,832.0L1788.1,836.7L1788.1,837.2L1788.1,844.3L1788.1,852.2L1788.1,855.5L1809.4,705.5L1809.4,706.7L1809.4,726.5L1809.4,729.1L1809.4,793.1L1809.4,824.2L1809.4,830.9L1809.4,832.8L1809.4,835.0L1809.4,843.1L1809.4,843.8L1809.4,852.3L1809.4,855.2L1830.6,747.6L1830.6,787.7L1830.6,799.4L1830.6,808.0L1830.6,808.5L1830.6,825.0L1830.6,828.0L1830.6,832.0L1830.6,835.7L1830.6,839.5" marker-start="url(#m10)" marker-mid="url(#m10)" marker-end="url(#m10)"/><path d="M1596.7,815.0L1596.7,816.1L1596.7,828.8L1596.7,829.3L1596.7,831.6L1596.7,833.2L1596.7,835.5L1596.7,849.4L1596.7,850.2L1596.7,850.9L1639.2,825.4L1639.2,828.3L1639.2,830.9L1639.2,831.8L1639.2,837.2L1639.2,838.4L1639.2,840.6L1639.2,847.0L1639.2,848.3L1660.5,817.3L1660.5,821.4L1660.5,822.8L1660.5,831.7L1660.5,832.5L1660.5,833.8L1660.5,837.1L1660.5,841.7L1660.5,842.8L1681.8,812.2L1681.8,816.1L1681.8,821.5L1681.8,822.4L1681.8,827.9L1681.8,832.8L1703.0,804.1L1703.0,807.5L1703.0,809.0L1703.0,810.0L1703.0,811.4L1703.0,818.0L1703.0,819.6L1703.0,825.6L1703.0,828.5L1703.0,829.9L1724.3,803.7L1724.3,812.2L1724.3,822.0L1724.3,825.9L1724.3,828.7L1724.3,851.6L1724.3,854.6L1766.8,749.5L1766.8,753.8L1766.8,758.7L1766.8,759.6L1766.8,768.0L1766.8,772.7L1766.8,791.4L1766.8,793.7L1766.8,810.3L1766.8,836.7L1766.8,840.9L1766.8,850.5L1766.8,856.2L1788.1,737.7L1788.1,744.7L1788.1,745.2L1788.1,748.6L1788.1,753.9L1788.1,757.9L1788.1,759.2L1788.1,760.6L1788.1,762.2L1788.1,789.4L1809.4,711.2L1809.4,715.3L1809.4,717.4L1809.4,720.3L1809.4,731.4L1809.4,737.1L1809.4,783.5L1809.4,811.6L1809.4,837.2L1830.6,696.8L1830.6,796.0L1830.6,813.7L1830.6,827.4L1830.6,834.5L1830.6,845.2" marker-start="url(#m30)" marker-mid="url(#m30)" marker-end="url(#m30)"/><path d="M1596.7,821.9L1596.7,822.1L1596.7,830.9L1596.7,838.5L1596.7,843.4L1596.7,844.6L1639.2,820.2L1639.2,821.0L1639.2,824.0L1639.2,834.0L1639.2,841.1L1660.5,819.7L1660.5,825.5L1660.5,837.9L1660.5,839.4L1660.5,844.2L1660.5,845.2L1681.8,830.5L1703.0,804.7L1703.0,812.5L1703.0,814.2L1703.0,815.7L1703.0,827.1L1724.3,795.9L1724.3,797.2L1724.3,810.8L1724.3,813.8L1724.3,817.5L1724.3,823.3L1724.3,830.2L1724.3,857.3L1766.8,788.7L1766.8,807.1L1766.8,812.1L1766.8,822.6L1766.8,829.0L1766.8,838.3L1766.8,848.4L1766.8,851.5L1788.1,732.5L1788.1,733.4L1788.1,736.0L1788.1,742.7L1788.1,750.4L1788.1,750.8L1788.1,756.2L1788.1,756.5L1788.1,801.0L1788.1,829.9L1788.1,846.8L1788.1,850.3L1788.1,857.4L1788.1,858.2L1809.4,712.0L1809.4,725.1L1809.4,778.9L1809.4,785.7L1809.4,827.5L1809.4,840.1L1809.4,856.5L1830.6,735.2L1830.6,840.2L1830.6,842.3L1830.6,848.7L1830.6,849.9" marker-start="url(#m60)" marker-mid="url(#m60)" marker-end="url(#m60)"/><path d="M1596.7,812.4L1596.7,823.8L1596.7,824.9L1596.7,841.4L1596.7,848.1L1639.2,816.7L1639.2,822.5L1639.2,827.3L1639.2,829.0L1639.2,835.8L1639.2,844.3L1639.2,851.9L1660.5,818.6L1660.5,840.5L1681.8,818.3L1681.8,826.0L1681.8,826.8L1681.8,829.0L1681.8,833.6L1681.8,835.4L1681.8,843.5L1681.8,855.9L1681.8,859.0L1703.0,794.4L1703.0,801.3L1703.0,819.0L1703.0,821.6L1703.0,823.6L1703.0,824.9L1703.0,831.1L1703.0,832.4L1703.0,848.3L1703.0,854.0L1724.3,789.9L1724.3,807.7L1724.3,814.9L1724.3,832.6L1766.8,798.5L1766.8,801.7L1766.8,815.2L1766.8,819.0L1766.8,832.1L1766.8,846.4L1766.8,861.0L1788.1,726.3L1788.1,765.7L1788.1,768.0L1788.1,834.0L1788.1,843.5L1809.4,722.3L1809.4,829.5L1809.4,847.8L1809.4,849.0L1830.6,706.3L1830.6,804.4" marker-start="url(#m100)" marker-mid="url(#m100)" marker-end="url(#m100)"/><path d="M1596.7,837.3L1639.2,836.3L1639.2,846.1L1660.5,848.2L1681.8,805.8L1681.8,817.2L1681.8,820.6L1681.8,839.5L1681.8,844.5L1681.8,848.9L1681.8,850.3L1681.8,852.6L1681.8,857.0L1703.0,822.0L1703.0,838.4L1703.0,842.9L1703.0,845.9L1703.0,852.2L1703.0,858.3L1724.3,781.2L1724.3,791.9L1724.3,800.4L1724.3,837.9L1724.3,839.5L1724.3,842.3L1724.3,860.6L1766.8,721.6L1766.8,834.9L1788.1,727.9L1788.1,746.2L1788.1,747.4L1788.1,752.6L1788.1,780.1L1788.1,840.0L1809.4,693.3L1809.4,734.8L1830.6,714.4" marker-start="url(#m140)" marker-mid="url(#m140)" marker-end="url(#m140)"/><path d="M1639.2,851.6L1660.5,852.0L1681.8,837.6L1681.8,862.9L1703.0,835.7L1703.0,840.7L1703.0,850.8L1703.0,859.0L1703.0,862.9L1724.3,784.7L1788.1,704.3L1809.4,674.6L1830.6,722.2" marker-start="url(#m190)" marker-mid="url(#m190)" marker-end="url(#m190)"/><path d="M1596.7,810.2L1639.2,855.1L1639.2,857.1L1639.2,865.8L1639.2,868.6L1639.2,872.0L1639.2,876.1L1660.5,855.3L1660.5,860.8L1660.5,866.1L1660.5,872.1L1660.5,876.7L1724.3,818.8L1766.8,805.8L1766.8,880.8L1766.8,892.4L1788.1,768.3L1788.1,859.2L1788.1,863.5L1788.1,892.4L1809.4,753.9L1809.4,761.1L1809.4,860.6L1809.4,886.6L1830.6,742.4L1830.6,784.2L1830.6,875.1L1830.6,880.8" marker-start="url(#m370)" marker-mid="url(#m370)" marker-end="url(#m370)"/><path d="M1596.7,831.8L1639.2,861.0L1639.2,865.6L1639.2,870.3L1639.2,875.3L1639.2,877.9L1639.2,883.5L1639.2,887.4L1639.2,890.3L1639.2,897.1L1639.2,899.0L1639.2,902.4L1660.5,864.4L1660.5,871.2L1660.5,873.9L1660.5,880.4L1660.5,884.7L1660.5,888.5L1660.5,892.8L1660.5,897.4L1660.5,900.7L1660.5,908.8L1681.8,863.5L1681.8,892.1L1681.8,894.4L1681.8,899.7L1681.8,918.3L1703.0,863.5L1703.0,895.2L1703.0,902.5L1724.3,872.2L1724.3,897.7L1724.3,901.5L1724.3,905.7L1766.8,866.4L1766.8,904.5L1766.8,906.5L1766.8,910.6L1788.1,870.7L1788.1,906.8L1809.4,866.4L1809.4,895.2L1809.4,905.3L1830.6,866.4L1830.6,888.0L1830.6,908.2" marker-start="url(#m550)" marker-mid="url(#m550)" marker-end="url(#m550)"/></g>
<g clip-path="url(#cp20)" fill="none" stroke="none"><path d="M145.6,1253.8L145.6,1257.7L145.6,1258.8L145.6,1259.6L145.6,1262.1L145.6,1267.9L145.6,1269.9L145.6,1270.8L145.6,1273.9L145.6,1276.7L145.6,1280.2L145.6,1286.0L145.6,1287.4L145.6,1295.7L145.6,1300.2L145.6,1301.0L145.6,1302.9L145.6,1303.5L145.6,1306.1L145.6,1309.6L145.6,1312.9L145.6,1314.4L145.6,1316.7L188.1,1256.1L188.1,1256.6L188.1,1257.9L188.1,1258.9L188.1,1260.2L188.1,1261.6L188.1,1263.4L188.1,1265.1L188.1,1269.4L188.1,1270.8L188.1,1273.9L188.1,1279.1L188.1,1280.7L188.1,1282.4L188.1,1287.4L188.1,1289.4L188.1,1291.1L188.1,1295.2L188.1,1296.3L188.1,1301.5L188.1,1305.2L188.1,1306.3L188.1,1310.2L188.1,1313.4L188.1,1315.4L188.1,1315.9L188.1,1322.1L188.1,1323.6L188.1,1325.3L188.1,1328.9L188.1,1330.2L209.4,1252.2L209.4,1253.0L209.4,1255.4L209.4,1257.8L209.4,1258.6L209.4,1272.9L209.4,1273.9L209.4,1275.5L209.4,1277.9L209.4,1281.7L209.4,1284.6L209.4,1286.9L209.4,1290.4L209.4,1293.5L209.4,1295.0L209.4,1296.8L209.4,1297.2L209.4,1301.6L209.4,1303.0L209.4,1306.4L209.4,1308.6L209.4,1309.8L209.4,1312.5L209.4,1314.8L209.4,1316.1L209.4,1317.4L209.4,1320.5L209.4,1321.7L209.4,1325.3L230.7,1256.6L230.7,1257.7L230.7,1260.1L230.7,1263.8L230.7,1275.2L230.7,1277.8L230.7,1279.3L230.7,1284.4L230.7,1285.3L230.7,1296.2L230.7,1302.8L230.7,1306.3L230.7,1306.7L230.7,1308.6L230.7,1309.8L230.7,1314.9L230.7,1316.8L230.7,1317.7L230.7,1318.3L230.7,1320.2L230.7,1322.3L230.7,1326.3L230.7,1328.9L230.7,1336.4L230.7,1347.2L251.9,1256.7L251.9,1258.5L251.9,1260.7L251.9,1262.5L251.9,1263.6L251.9,1271.0L251.9,1273.1L251.9,1274.4L251.9,1274.8L251.9,1285.2L251.9,1289.5L251.9,1293.5L251.9,1295.6L251.9,1299.4L251.9,1300.5L251.9,1301.9L251.9,1307.8L251.9,1312.5L251.9,1317.8L251.9,1324.6L251.9,1337.8L251.9,1340.4L251.9,1343.6L251.9,1347.8L273.2,1261.4L273.2,1264.6L273.2,1266.7L273.2,1271.4L273.2,1273.0L273.2,1280.5L273.2,1281.8L273.2,1283.6L273.2,1285.9L273.2,1287.7L273.2,1287.8L273.2,1289.4L273.2,1294.7L273.2,1298.3L273.2,1299.9L273.2,1305.9L273.2,1308.1L273.2,1312.4L273.2,1316.2L273.2,1319.0L273.2,1319.7L273.2,1321.4L273.2,1325.3L273.2,1343.4L273.2,1348.9L273.2,1349.6L273.2,1353.0L273.2,1356.3L315.7,1251.4L315.7,1253.0L315.7,1255.3L315.7,1263.3L315.7,1265.2L315.7,1273.9L315.7,1275.0L315.7,1280.4L315.7,1283.4L315.7,1284.4L315.7,1286.0L315.7,1288.0L315.7,1290.2L315.7,1292.5L315.7,1296.7L315.7,1299.3L315.7,1300.1L315.7,1306.3L315.7,1310.6L315.7,1313.0L315.7,1315.0L315.7,1317.6L315.7,1319.5L315.7,1337.0L315.7,1341.4L315.7,1346.8L337.0,1247.8L337.0,1249.8L337.0,1250.6L337.0,1254.7L337.0,1256.0L337.0,1258.1L337.0,1260.8L337.0,1266.6L337.0,1268.9L337.0,1270.2L337.0,1271.3L337.0,1272.1L337.0,1274.4L337.0,1275.0L337.0,1276.3L337.0,1289.0L337.0,1292.2L337.0,1293.5L337.0,1294.4L337.0,1297.2L337.0,1299.1L337.0,1302.6L337.0,1303.0L337.0,1308.4L337.0,1311.3L337.0,1314.7L337.0,1317.8L337.0,1322.9L337.0,1329.4L337.0,1336.7L337.0,1338.4L358.2,1237.7L358.2,1239.0L358.2,1242.8L358.2,1247.8L358.2,1248.3L358.2,1250.0L358.2,1252.5L358.2,1252.9L358.2,1261.1L358.2,1264.5L358.2,1266.7L358.2,1268.7L358.2,1277.4L358.2,1279.4L358.2,1282.0L358.2,1284.0L358.2,1284.6L358.2,1286.9L358.2,1290.1L358.2,1297.0L358.2,1298.1L358.2,1298.3L358.2,1300.4L358.2,1308.5L358.2,1316.9L358.2,1317.3L358.2,1319.2L358.2,1326.9L358.2,1340.7L358.2,1344.2L358.2,1347.8L358.2,1350.7L358.2,1352.5L358.2,1356.3L379.5,1227.6L379.5,1228.7L379.5,1238.5L379.5,1247.5L379.5,1268.3L379.5,1272.9L379.5,1277.5L379.5,1286.1L379.5,1287.6L379.5,1289.4L379.5,1290.7L379.5,1291.3L379.5,1294.0L379.5,1303.0L379.5,1305.5L379.5,1306.8L379.5,1309.9L379.5,1319.6L379.5,1321.1L379.5,1322.3L379.5,1323.4L379.5,1339.7L379.5,1353.9" marker-start="url(#m10)" marker-mid="url(#m10)" marker-end="url(#m10)"/><path d="M145.6,1256.4L145.6,1261.6L145.6,1264.7L145.6,1272.5L145.6,1277.6L145.6,1281.8L145.6,1285.2L145.6,1291.9L145.6,1294.5L145.6,1299.2L145.6,1305.4L145.6,1307.8L145.6,1311.3L145.6,1315.3L145.6,1318.0L188.1,1254.6L188.1,1263.7L188.1,1266.0L188.1,1268.7L188.1,1274.1L188.1,1275.2L188.1,1277.4L188.1,1281.9L188.1,1288.0L188.1,1308.8L188.1,1319.3L188.1,1320.4L188.1,1333.8L188.1,1336.3L188.1,1337.8L188.1,1339.0L209.4,1256.9L209.4,1261.6L209.4,1263.6L209.4,1265.0L209.4,1266.0L209.4,1267.6L209.4,1271.2L209.4,1282.4L209.4,1285.7L209.4,1289.3L209.4,1299.3L209.4,1302.6L209.4,1310.4L209.4,1312.2L209.4,1313.8L209.4,1319.6L209.4,1332.9L209.4,1334.5L230.7,1264.8L230.7,1266.1L230.7,1268.4L230.7,1270.5L230.7,1272.2L230.7,1273.0L230.7,1274.0L230.7,1276.3L230.7,1280.7L230.7,1290.9L230.7,1297.4L230.7,1305.0L230.7,1311.8L230.7,1314.3L230.7,1323.4L230.7,1333.2L230.7,1341.0L230.7,1345.2L230.7,1349.7L251.9,1256.8L251.9,1259.5L251.9,1267.9L251.9,1270.3L251.9,1275.9L251.9,1278.0L251.9,1287.9L251.9,1292.6L251.9,1296.0L251.9,1298.2L251.9,1303.8L251.9,1305.8L251.9,1306.7L251.9,1310.6L251.9,1313.9L251.9,1319.3L251.9,1321.6L251.9,1328.2L251.9,1334.9L273.2,1258.0L273.2,1258.8L273.2,1259.7L273.2,1268.6L273.2,1269.3L273.2,1276.3L273.2,1282.1L273.2,1297.5L273.2,1303.9L273.2,1307.6L273.2,1310.9L273.2,1329.4L273.2,1332.3L273.2,1341.1L315.7,1261.1L315.7,1265.7L315.7,1267.7L315.7,1268.0L315.7,1272.2L315.7,1282.5L315.7,1294.2L315.7,1297.4L315.7,1301.1L315.7,1303.1L315.7,1307.4L315.7,1308.6L315.7,1309.0L315.7,1314.1L315.7,1316.9L315.7,1321.8L315.7,1333.3L315.7,1339.3L315.7,1353.9L315.7,1358.7L315.7,1361.3L315.7,1363.1L337.0,1246.4L337.0,1251.7L337.0,1253.4L337.0,1259.7L337.0,1281.6L337.0,1283.0L337.0,1283.8L337.0,1287.6L337.0,1289.4L337.0,1300.1L337.0,1304.3L337.0,1305.6L337.0,1307.2L337.0,1309.0L337.0,1319.3L337.0,1322.2L337.0,1328.8L337.0,1332.5L337.0,1349.4L358.2,1236.5L358.2,1244.2L358.2,1244.8L358.2,1271.8L358.2,1285.4L358.2,1291.1L358.2,1291.3L358.2,1293.0L358.2,1302.4L358.2,1304.6L358.2,1309.0L358.2,1314.0L358.2,1315.7L358.2,1319.8L358.2,1322.3L358.2,1335.2L358.2,1336.0L358.2,1340.0L379.5,1223.6L379.5,1225.0L379.5,1231.4L379.5,1231.9L379.5,1233.4L379.5,1236.0L379.5,1242.7L379.5,1245.5L379.5,1248.9L379.5,1250.1L379.5,1253.4L379.5,1255.3L379.5,1257.6L379.5,1259.3L379.5,1262.6L379.5,1269.2L379.5,1270.8L379.5,1275.2L379.5,1281.1L379.5,1288.8L379.5,1295.3L379.5,1298.3L379.5,1325.5L379.5,1332.8L379.5,1338.1L379.5,1344.5L379.5,1352.0L379.5,1360.4" marker-start="url(#m30)" marker-mid="url(#m30)" marker-end="url(#m30)"/><path d="M145.6,1254.8L145.6,1264.1L145.6,1271.7L145.6,1275.3L145.6,1279.2L145.6,1282.3L145.6,1288.5L145.6,1290.9L145.6,1297.3L188.1,1250.8L188.1,1284.4L188.1,1298.3L188.1,1300.5L188.1,1303.6L188.1,1309.1L209.4,1254.3L209.4,1260.1L209.4,1268.7L209.4,1277.0L209.4,1278.4L209.4,1287.7L209.4,1291.8L209.4,1294.7L209.4,1304.6L209.4,1307.4L209.4,1318.5L209.4,1323.5L230.7,1255.8L230.7,1259.1L230.7,1262.6L230.7,1281.8L230.7,1285.7L230.7,1288.8L230.7,1289.3L230.7,1295.2L230.7,1300.3L230.7,1301.3L230.7,1303.7L230.7,1313.3L230.7,1321.3L251.9,1280.3L251.9,1281.6L251.9,1283.3L251.9,1284.7L251.9,1291.4L251.9,1304.5L251.9,1333.1L251.9,1341.3L251.9,1347.0L273.2,1271.3L273.2,1273.9L273.2,1275.7L273.2,1285.4L273.2,1292.4L273.2,1294.8L273.2,1296.4L273.2,1311.2L273.2,1315.7L273.2,1337.4L273.2,1345.1L315.7,1254.1L315.7,1256.8L315.7,1258.1L315.7,1258.5L315.7,1262.1L315.7,1269.6L315.7,1286.7L315.7,1289.0L315.7,1291.8L315.7,1294.8L315.7,1304.3L315.7,1312.2L315.7,1319.3L315.7,1329.5L315.7,1345.3L315.7,1348.0L315.7,1355.7L337.0,1248.7L337.0,1256.9L337.0,1279.8L337.0,1290.7L337.0,1296.4L337.0,1313.4L337.0,1314.0L337.0,1316.5L337.0,1319.7L337.0,1324.3L337.0,1335.5L337.0,1343.0L358.2,1240.6L358.2,1246.8L358.2,1255.8L358.2,1260.3L358.2,1262.1L358.2,1269.9L358.2,1270.3L358.2,1280.3L358.2,1288.2L358.2,1294.0L358.2,1295.4L358.2,1303.2L358.2,1310.1L358.2,1312.0L358.2,1313.1L358.2,1323.8L358.2,1325.0L358.2,1331.5L358.2,1356.6L379.5,1224.5L379.5,1226.1L379.5,1230.3L379.5,1235.2L379.5,1236.9L379.5,1241.0L379.5,1241.9L379.5,1243.6L379.5,1246.5L379.5,1252.5L379.5,1257.4L379.5,1260.4L379.5,1261.9L379.5,1264.9L379.5,1265.8L379.5,1271.9L379.5,1274.9L379.5,1276.6L379.5,1279.4L379.5,1280.2L379.5,1284.1L379.5,1292.8L379.5,1296.8L379.5,1300.8L379.5,1308.1L379.5,1310.2L379.5,1313.1L379.5,1316.5L379.5,1317.5L379.5,1340.6L379.5,1355.3" marker-start="url(#m60)" marker-mid="url(#m60)" marker-end="url(#m60)"/><path d="M145.6,1266.9L145.6,1289.4L145.6,1293.7L145.6,1297.6L145.6,1308.9L188.1,1252.8L188.1,1253.9L188.1,1268.1L188.1,1271.8L188.1,1278.3L188.1,1285.4L188.1,1286.5L188.1,1293.8L188.1,1299.0L188.1,1302.8L188.1,1312.2L188.1,1320.8L188.1,1360.3L209.4,1262.4L209.4,1269.2L209.4,1271.4L209.4,1280.6L209.4,1299.7L209.4,1326.8L209.4,1329.8L230.7,1255.0L230.7,1262.2L230.7,1282.6L230.7,1287.8L230.7,1292.4L230.7,1293.3L230.7,1294.6L230.7,1299.1L230.7,1329.0L230.7,1338.8L251.9,1264.0L251.9,1265.9L251.9,1266.6L251.9,1279.0L251.9,1281.0L251.9,1286.4L251.9,1298.1L251.9,1311.3L251.9,1315.8L251.9,1318.7L251.9,1322.7L251.9,1330.6L273.2,1263.7L273.2,1278.7L273.2,1291.1L273.2,1292.8L273.2,1304.7L273.2,1308.9L273.2,1313.8L273.2,1322.4L273.2,1322.9L273.2,1333.8L273.2,1339.8L273.2,1358.6L315.7,1259.8L315.7,1273.5L315.7,1277.5L315.7,1278.8L315.7,1280.7L315.7,1302.9L315.7,1321.7L315.7,1323.3L315.7,1325.7L315.7,1327.0L315.7,1334.1L315.7,1350.5L337.0,1262.4L337.0,1266.9L337.0,1272.9L337.0,1278.1L337.0,1278.7L337.0,1284.5L337.0,1300.8L337.0,1310.3L337.0,1320.6L337.0,1342.5L337.0,1347.1L358.2,1241.8L358.2,1251.2L358.2,1254.6L358.2,1258.2L358.2,1259.0L358.2,1263.4L358.2,1265.9L358.2,1273.5L358.2,1273.8L358.2,1276.0L358.2,1276.2L358.2,1281.5L358.2,1305.6L358.2,1306.8L358.2,1320.8L358.2,1330.3L358.2,1345.2L379.5,1239.7L379.5,1250.7L379.5,1284.9L379.5,1298.4L379.5,1300.6L379.5,1302.6L379.5,1311.9L379.5,1314.5L379.5,1314.9L379.5,1318.9L379.5,1326.6L379.5,1330.0L379.5,1334.4L379.5,1346.0L379.5,1357.7" marker-start="url(#m100)" marker-mid="url(#m100)" marker-end="url(#m100)"/><path d="M145.6,1265.4L145.6,1283.2L145.6,1311.6L145.6,1319.4L188.1,1292.0L188.1,1294.2L188.1,1307.0L188.1,1314.3L188.1,1317.8L188.1,1351.6L209.4,1283.9L230.7,1253.4L230.7,1268.1L230.7,1269.7L230.7,1310.6L230.7,1334.7L251.9,1269.3L251.9,1290.1L251.9,1308.8L251.9,1315.6L251.9,1323.2L273.2,1262.8L273.2,1266.3L273.2,1277.6L273.2,1300.8L273.2,1302.0L273.2,1317.7L273.2,1328.7L315.7,1270.2L315.7,1276.6L337.0,1261.8L337.0,1263.9L337.0,1265.5L337.0,1286.2L337.0,1295.5L358.2,1256.7L358.2,1300.6L379.5,1221.4L379.5,1254.0L379.5,1263.6L379.5,1267.2L379.5,1282.4L379.5,1305.0L379.5,1348.7" marker-start="url(#m140)" marker-mid="url(#m140)" marker-end="url(#m140)"/><path d="M209.4,1348.8L230.7,1357.4L315.7,1361.7L379.5,1353.1L379.5,1360.3" marker-start="url(#m370)" marker-mid="url(#m370)" marker-end="url(#m370)"/><path d="M145.6,1281.0L145.6,1299.7" marker-start="url(#m550)" marker-mid="url(#m550)" marker-end="url(#m550)"/></g>
<g clip-path="url(#cp21)" fill="none" stroke="none"><path d="M435.8,1225.0L435.8,1226.4L435.8,1229.0L435.8,1230.8L435.8,1231.9L435.8,1265.5L435.8,1271.8L435.8,1273.0L435.8,1275.5L435.8,1276.1L435.8,1280.0L435.8,1285.4L478.4,1217.2L478.4,1218.3L478.4,1218.5L478.4,1222.9L478.4,1229.0L478.4,1231.0L478.4,1233.4L478.4,1234.8L478.4,1239.4L478.4,1246.7L478.4,1248.6L478.4,1256.5L478.4,1260.7L478.4,1265.7L478.4,1268.8L478.4,1273.6L478.4,1276.0L478.4,1281.2L478.4,1282.9L478.4,1285.7L478.4,1288.7L478.4,1293.9L478.4,1299.8L499.6,1215.3L499.6,1216.9L499.6,1222.5L499.6,1227.4L499.6,1228.4L499.6,1230.8L499.6,1235.2L499.6,1236.4L499.6,1238.2L499.6,1239.9L499.6,1244.8L499.6,1248.1L499.6,1248.7L499.6,1249.7L499.6,1252.3L499.6,1254.0L499.6,1255.3L499.6,1256.4L499.6,1259.1L499.6,1262.7L499.6,1268.2L499.6,1271.1L499.6,1275.0L499.6,1276.6L499.6,1279.1L499.6,1282.4L520.9,1202.5L520.9,1204.8L520.9,1207.4L520.9,1212.3L520.9,1214.3L520.9,1214.6L520.9,1217.6L520.9,1221.7L520.9,1224.0L520.9,1228.1L520.9,1236.0L520.9,1240.9L520.9,1243.1L520.9,1247.5L520.9,1260.9L520.9,1262.0L520.9,1264.2L520.9,1266.2L520.9,1267.7L520.9,1268.6L520.9,1270.2L520.9,1273.9L520.9,1276.8L520.9,1278.3L520.9,1280.5L520.9,1284.7L520.9,1285.7L520.9,1286.0L520.9,1288.7L542.1,1186.9L542.1,1187.9L542.1,1195.6L542.1,1198.4L542.1,1201.1L542.1,1204.4L542.1,1205.4L542.1,1207.3L542.1,1209.8L542.1,1234.9L542.1,1237.7L542.1,1240.0L542.1,1244.2L542.1,1246.6L542.1,1249.9L542.1,1253.9L542.1,1255.8L542.1,1261.9L542.1,1262.3L542.1,1263.9L542.1,1267.7L542.1,1268.8L542.1,1269.3L542.1,1270.4L542.1,1273.2L542.1,1279.5L563.4,1166.9L563.4,1170.7L563.4,1172.1L563.4,1174.4L563.4,1178.2L563.4,1183.1L563.4,1185.6L563.4,1189.0L563.4,1190.2L563.4,1196.5L563.4,1198.0L563.4,1202.5L563.4,1212.3L563.4,1215.3L563.4,1218.1L563.4,1222.2L563.4,1224.3L563.4,1225.1L563.4,1229.6L563.4,1230.5L563.4,1236.5L563.4,1237.4L563.4,1243.1L563.4,1245.9L563.4,1248.7L563.4,1249.6L563.4,1250.2L563.4,1253.7L563.4,1255.1L563.4,1257.8L563.4,1259.2L563.4,1261.0L563.4,1263.8L563.4,1266.2L605.9,1119.9L605.9,1154.1L605.9,1158.9L605.9,1170.5L605.9,1175.9L605.9,1179.3L605.9,1183.6L605.9,1187.9L605.9,1207.2L605.9,1208.9L605.9,1211.6L605.9,1216.7L605.9,1220.9L605.9,1225.5L605.9,1236.4L605.9,1239.8L605.9,1245.3L605.9,1247.2L605.9,1252.6L605.9,1265.7L605.9,1266.9L605.9,1274.4L605.9,1286.0L605.9,1288.6L605.9,1290.4L605.9,1295.0L605.9,1298.0L605.9,1300.6L627.2,1088.5L627.2,1097.7L627.2,1105.3L627.2,1142.9L627.2,1150.9L627.2,1151.6L627.2,1157.5L627.2,1166.0L627.2,1172.4L627.2,1173.0L627.2,1181.3L627.2,1183.6L627.2,1201.1L627.2,1212.0L627.2,1215.0L627.2,1216.7L627.2,1229.7L627.2,1232.2L627.2,1236.0L627.2,1249.4L627.2,1253.2L627.2,1256.8L627.2,1261.0L627.2,1262.7L627.2,1265.4L627.2,1275.7L627.2,1284.3L627.2,1294.8L627.2,1298.4L648.5,1052.2L648.5,1061.5L648.5,1064.0L648.5,1082.1L648.5,1100.0L648.5,1131.1L648.5,1151.4L648.5,1158.5L648.5,1160.1L648.5,1167.5L648.5,1170.2L648.5,1173.6L648.5,1178.7L648.5,1182.6L648.5,1193.7L648.5,1195.8L648.5,1199.4L648.5,1201.1L648.5,1203.9L648.5,1208.9L648.5,1213.8L648.5,1217.0L648.5,1224.4L648.5,1230.9L648.5,1241.2L648.5,1244.7L648.5,1248.7L648.5,1252.5L648.5,1256.2L648.5,1258.7L648.5,1267.8L648.5,1270.1L648.5,1274.9L648.5,1278.9L648.5,1283.5L648.5,1291.1L648.5,1291.7L648.5,1294.1L648.5,1300.8L669.7,1064.7L669.7,1148.5L669.7,1150.4L669.7,1152.6L669.7,1157.1L669.7,1163.5L669.7,1166.3L669.7,1168.1L669.7,1174.7L669.7,1176.0L669.7,1179.1L669.7,1184.9L669.7,1190.5L669.7,1198.1L669.7,1205.5L669.7,1210.1L669.7,1212.3L669.7,1214.3L669.7,1215.3L669.7,1221.8L669.7,1228.6L669.7,1238.5L669.7,1240.6L669.7,1242.0L669.7,1244.3L669.7,1247.2L669.7,1249.7L669.7,1253.9L669.7,1259.7L669.7,1262.6L669.7,1264.7L669.7,1268.1" marker-start="url(#m10)" marker-mid="url(#m10)" marker-end="url(#m10)"/><path d="M435.8,1218.2L435.8,1221.4L435.8,1223.4L435.8,1237.1L435.8,1270.5L435.8,1281.8L435.8,1283.2L478.4,1227.8L478.4,1235.0L478.4,1236.8L478.4,1238.1L478.4,1240.4L478.4,1242.9L478.4,1244.7L478.4,1250.6L478.4,1252.5L478.4,1253.4L478.4,1254.9L478.4,1258.0L478.4,1262.4L478.4,1267.7L478.4,1271.1L478.4,1271.7L478.4,1278.4L478.4,1280.4L478.4,1283.9L478.4,1285.1L478.4,1290.8L478.4,1291.6L478.4,1295.4L499.6,1213.1L499.6,1226.8L499.6,1229.6L499.6,1241.6L499.6,1258.0L499.6,1261.2L499.6,1273.1L499.6,1278.2L499.6,1280.8L499.6,1288.3L520.9,1206.0L520.9,1209.3L520.9,1209.9L520.9,1218.7L520.9,1223.3L520.9,1225.2L520.9,1227.2L520.9,1231.4L520.9,1234.4L520.9,1237.9L520.9,1245.0L520.9,1246.7L520.9,1256.6L520.9,1258.3L520.9,1265.0L520.9,1272.6L520.9,1274.9L520.9,1275.9L520.9,1279.6L520.9,1283.0L542.1,1182.0L542.1,1184.4L542.1,1188.8L542.1,1191.4L542.1,1193.4L542.1,1194.8L542.1,1196.8L542.1,1200.0L542.1,1202.8L542.1,1211.4L542.1,1214.6L542.1,1215.4L542.1,1216.5L542.1,1218.5L542.1,1220.1L542.1,1221.4L542.1,1232.5L542.1,1242.6L542.1,1245.0L542.1,1247.5L542.1,1254.8L542.1,1256.7L542.1,1260.0L542.1,1273.9L563.4,1176.5L563.4,1219.2L563.4,1225.9L563.4,1234.2L563.4,1235.3L563.4,1240.6L563.4,1255.9L563.4,1260.2L605.9,1108.8L605.9,1124.8L605.9,1135.5L605.9,1149.9L605.9,1167.9L605.9,1173.8L605.9,1187.0L605.9,1192.8L605.9,1203.4L605.9,1219.2L605.9,1230.6L605.9,1233.8L605.9,1269.3L605.9,1282.7L627.2,1093.6L627.2,1159.7L627.2,1162.0L627.2,1164.1L627.2,1175.8L627.2,1178.9L627.2,1184.9L627.2,1187.3L627.2,1191.6L627.2,1193.7L627.2,1202.0L627.2,1242.6L627.2,1246.7L627.2,1266.4L627.2,1279.7L627.2,1287.4L627.2,1298.7L648.5,1068.2L648.5,1073.5L648.5,1125.9L648.5,1148.4L648.5,1155.9L648.5,1166.1L648.5,1176.4L648.5,1179.1L648.5,1192.8L648.5,1221.0L648.5,1230.0L648.5,1233.2L648.5,1239.2L648.5,1247.2L648.5,1260.4L648.5,1262.7L648.5,1289.3L648.5,1297.6L669.7,1079.1L669.7,1155.5L669.7,1160.3L669.7,1188.6L669.7,1192.3L669.7,1195.7L669.7,1200.2L669.7,1232.0L669.7,1234.0L669.7,1250.6L669.7,1291.2L669.7,1292.5" marker-start="url(#m30)" marker-mid="url(#m30)" marker-end="url(#m30)"/><path d="M435.8,1224.3L435.8,1227.9L435.8,1234.9L435.8,1261.5L435.8,1262.2L435.8,1263.7L435.8,1264.4L435.8,1267.7L435.8,1268.2L435.8,1274.8L435.8,1277.9L435.8,1284.5L478.4,1219.9L478.4,1221.0L478.4,1224.2L478.4,1224.4L478.4,1226.3L478.4,1229.1L478.4,1241.3L478.4,1247.7L478.4,1255.3L478.4,1261.9L478.4,1265.5L478.4,1274.4L478.4,1276.5L478.4,1289.4L478.4,1296.8L499.6,1212.2L499.6,1220.8L499.6,1222.3L499.6,1224.6L499.6,1225.1L499.6,1231.8L499.6,1233.2L499.6,1243.7L499.6,1246.5L499.6,1256.7L499.6,1265.1L499.6,1267.5L499.6,1275.5L499.6,1281.9L499.6,1284.0L499.6,1284.8L499.6,1286.3L520.9,1215.9L520.9,1219.3L520.9,1228.8L520.9,1234.8L520.9,1239.0L520.9,1244.2L520.9,1251.8L520.9,1253.5L520.9,1254.6L520.9,1257.0L542.1,1183.2L542.1,1185.7L542.1,1212.1L542.1,1234.3L542.1,1241.0L542.1,1250.9L542.1,1251.7L542.1,1258.1L542.1,1265.7L542.1,1277.6L563.4,1164.2L563.4,1192.4L563.4,1205.0L563.4,1227.2L563.4,1228.6L563.4,1232.7L563.4,1238.8L563.4,1241.8L563.4,1245.0L563.4,1247.4L563.4,1252.4L563.4,1262.1L563.4,1264.4L605.9,1128.9L605.9,1142.4L605.9,1161.7L605.9,1169.3L605.9,1180.6L605.9,1197.2L605.9,1200.6L605.9,1214.6L605.9,1225.8L605.9,1230.3L605.9,1241.4L605.9,1251.5L605.9,1256.4L605.9,1261.0L605.9,1262.2L605.9,1277.3L605.9,1279.8L627.2,1136.9L627.2,1140.6L627.2,1147.1L627.2,1154.6L627.2,1194.6L627.2,1206.7L627.2,1208.9L627.2,1219.4L627.2,1234.7L627.2,1239.8L627.2,1240.0L627.2,1250.1L627.2,1272.6L627.2,1280.1L627.2,1285.6L648.5,1087.6L648.5,1090.9L648.5,1093.9L648.5,1106.3L648.5,1112.4L648.5,1187.0L648.5,1223.5L648.5,1227.6L648.5,1236.2L648.5,1250.4L648.5,1265.2L648.5,1272.5L648.5,1286.5L669.7,1045.9L669.7,1145.1L669.7,1171.5L669.7,1183.7L669.7,1217.5L669.7,1224.1L669.7,1229.1L669.7,1297.1" marker-start="url(#m60)" marker-mid="url(#m60)" marker-end="url(#m60)"/><path d="M435.8,1219.0L435.8,1220.3L435.8,1229.9L435.8,1233.5L435.8,1235.9L435.8,1269.9L435.8,1278.9L478.4,1231.5L478.4,1244.1L478.4,1259.6L478.4,1264.2L478.4,1269.4L478.4,1279.2L478.4,1294.5L478.4,1298.3L478.4,1299.7L499.6,1218.7L499.6,1218.9L499.6,1237.5L499.6,1240.7L499.6,1242.9L499.6,1251.0L499.6,1263.6L499.6,1270.0L499.6,1272.0L499.6,1288.1L520.9,1203.8L520.9,1221.2L520.9,1230.8L520.9,1232.7L520.9,1240.1L520.9,1250.4L520.9,1252.0L520.9,1271.4L520.9,1281.5L520.9,1287.6L542.1,1181.0L542.1,1192.4L542.1,1199.2L542.1,1206.7L542.1,1208.0L542.1,1223.0L542.1,1235.6L542.1,1238.4L542.1,1265.2L542.1,1272.2L542.1,1275.6L542.1,1280.0L563.4,1162.4L563.4,1181.1L563.4,1201.2L563.4,1231.8L563.4,1242.1L563.4,1252.1L605.9,1111.5L605.9,1133.3L605.9,1189.9L605.9,1195.7L605.9,1204.2L605.9,1243.9L605.9,1257.2L605.9,1271.3L605.9,1281.2L627.2,1081.4L627.2,1119.3L627.2,1169.3L627.2,1222.2L627.2,1224.5L627.2,1227.6L627.2,1255.8L627.2,1269.7L627.2,1290.3L627.2,1293.1L648.5,1104.8L648.5,1163.5L648.5,1188.5L648.5,1206.4L648.5,1215.1L648.5,1280.3L669.7,1162.0L669.7,1180.1L669.7,1201.1L669.7,1205.4L669.7,1255.9L669.7,1261.5" marker-start="url(#m100)" marker-mid="url(#m100)" marker-end="url(#m100)"/><path d="M435.8,1282.4L478.4,1250.1L478.4,1287.3L499.6,1215.3L499.6,1262.3L499.6,1265.9L520.9,1208.1L520.9,1211.3L520.9,1242.5L520.9,1249.4L520.9,1259.3L520.9,1263.1L542.1,1190.0L542.1,1213.2L542.1,1218.1L542.1,1242.3L542.1,1249.0L542.1,1259.4L542.1,1276.6L563.4,1206.9L563.4,1210.0L605.9,1291.9L627.2,1113.4L627.2,1122.9L627.2,1145.1L627.2,1198.5L627.2,1205.3L627.2,1273.1L648.5,1054.6L648.5,1079.7L648.5,1154.1L648.5,1184.5L648.5,1211.0L648.5,1276.4L669.7,1069.0L669.7,1090.6L669.7,1096.4L669.7,1224.4" marker-start="url(#m140)" marker-mid="url(#m140)" marker-end="url(#m140)"/><path d="M435.8,1236.3L435.8,1281.0L478.4,1253.2L478.4,1258.1L478.4,1268.5L478.4,1309.5L478.4,1310.1L478.4,1317.8L478.4,1326.7L499.6,1259.7L499.6,1262.7L499.6,1268.6L499.6,1296.2L499.6,1303.0L499.6,1307.3L520.9,1263.7L520.9,1332.9L520.9,1351.6L542.1,1341.5L542.1,1344.4L563.4,1338.7L563.4,1341.5L605.9,1327.1L605.9,1347.3L627.2,1341.5L627.2,1347.3L648.5,1358.9L669.7,1348.8L669.7,1358.9" marker-start="url(#m370)" marker-mid="url(#m370)" marker-end="url(#m370)"/><path d="M435.8,1214.6L478.4,1309.8L478.4,1327.1L478.4,1334.3L478.4,1350.2L499.6,1341.5L499.6,1350.2L520.9,1307.4L520.9,1315.3L520.9,1316.2L520.9,1321.3L542.1,1307.3L542.1,1310.5L542.1,1314.0L542.1,1317.0L542.1,1322.9L563.4,1301.3L563.4,1304.3L563.4,1307.4L563.4,1321.4L563.4,1330.0L605.9,1309.1L605.9,1312.3L605.9,1320.2L605.9,1325.6L605.9,1354.5L627.2,1308.6L627.2,1314.4L627.2,1318.1L627.2,1344.4L648.5,1307.8L648.5,1316.8L648.5,1319.3L669.7,1310.9L669.7,1321.1L669.7,1326.4L669.7,1330.7" marker-start="url(#m550)" marker-mid="url(#m550)" marker-end="url(#m550)"/></g>
<g clip-path="url(#cp22)" fill="none" stroke="none"><path d="M726.0,1209.1L726.0,1211.0L726.0,1213.2L726.0,1214.4L726.0,1226.2L726.0,1233.6L726.0,1284.9L726.0,1287.0L726.0,1288.1L726.0,1291.9L726.0,1296.8L726.0,1298.8L768.6,1181.9L768.6,1182.6L768.6,1185.0L768.6,1188.7L768.6,1201.1L768.6,1206.4L768.6,1217.6L768.6,1219.5L768.6,1219.8L768.6,1222.8L768.6,1225.2L768.6,1229.6L768.6,1231.3L768.6,1231.6L768.6,1232.8L768.6,1236.4L768.6,1239.6L768.6,1290.0L768.6,1292.1L768.6,1301.1L768.6,1302.0L768.6,1303.6L768.6,1308.2L768.6,1309.5L789.8,1181.0L789.8,1182.1L789.8,1188.9L789.8,1194.5L789.8,1196.5L789.8,1201.2L789.8,1203.0L789.8,1204.5L789.8,1205.7L789.8,1206.1L789.8,1211.2L789.8,1212.5L789.8,1213.6L789.8,1214.6L789.8,1217.5L789.8,1218.6L789.8,1220.1L789.8,1224.0L789.8,1225.2L789.8,1227.4L789.8,1228.2L789.8,1230.3L789.8,1232.7L789.8,1236.0L789.8,1236.5L789.8,1237.9L789.8,1245.1L789.8,1290.9L789.8,1292.2L789.8,1294.2L789.8,1299.5L789.8,1301.9L789.8,1302.4L789.8,1316.9L789.8,1317.4L811.1,1175.8L811.1,1178.8L811.1,1180.8L811.1,1182.7L811.1,1188.8L811.1,1195.7L811.1,1196.5L811.1,1197.3L811.1,1200.7L811.1,1222.0L811.1,1230.3L811.1,1235.3L811.1,1238.2L811.1,1291.7L811.1,1292.4L811.1,1293.5L811.1,1297.9L811.1,1298.3L811.1,1300.8L811.1,1302.9L811.1,1308.3L811.1,1311.4L811.1,1314.1L811.1,1315.5L811.1,1316.7L811.1,1319.4L832.4,1167.4L832.4,1171.7L832.4,1183.5L832.4,1186.7L832.4,1191.8L832.4,1193.8L832.4,1206.8L832.4,1208.3L832.4,1211.1L832.4,1216.7L832.4,1217.6L832.4,1223.1L832.4,1226.0L832.4,1228.4L832.4,1233.0L832.4,1234.7L832.4,1247.3L832.4,1293.0L832.4,1296.5L832.4,1297.4L832.4,1302.5L832.4,1307.7L832.4,1313.6L832.4,1315.1L832.4,1318.4L853.6,1141.2L853.6,1145.4L853.6,1153.2L853.6,1159.4L853.6,1167.2L853.6,1169.0L853.6,1182.9L853.6,1196.6L853.6,1199.7L853.6,1209.1L853.6,1212.9L853.6,1215.8L853.6,1238.8L853.6,1240.9L853.6,1244.1L853.6,1246.7L853.6,1251.1L853.6,1295.8L853.6,1297.4L853.6,1298.4L853.6,1300.1L853.6,1301.9L853.6,1309.9L853.6,1315.3L853.6,1316.1L853.6,1322.0L896.2,1113.2L896.2,1117.2L896.2,1118.0L896.2,1123.2L896.2,1129.9L896.2,1133.2L896.2,1134.6L896.2,1143.6L896.2,1145.9L896.2,1151.7L896.2,1157.1L896.2,1157.9L896.2,1161.0L896.2,1179.4L896.2,1188.7L896.2,1195.7L896.2,1200.0L896.2,1202.6L896.2,1206.9L896.2,1208.3L896.2,1214.1L896.2,1215.4L896.2,1219.8L896.2,1231.2L896.2,1238.5L896.2,1244.0L896.2,1245.5L896.2,1253.0L896.2,1297.6L896.2,1297.8L896.2,1300.0L896.2,1301.8L896.2,1302.6L896.2,1305.9L896.2,1307.8L896.2,1317.8L896.2,1320.1L896.2,1321.6L896.2,1322.4L896.2,1332.5L917.4,1091.4L917.4,1107.4L917.4,1107.6L917.4,1110.6L917.4,1122.4L917.4,1133.4L917.4,1139.2L917.4,1144.8L917.4,1151.3L917.4,1160.7L917.4,1174.4L917.4,1176.8L917.4,1178.9L917.4,1184.7L917.4,1208.8L917.4,1209.9L917.4,1220.1L917.4,1223.5L917.4,1227.5L917.4,1228.8L917.4,1232.3L917.4,1237.6L917.4,1241.3L917.4,1243.5L917.4,1247.4L917.4,1249.8L917.4,1294.3L917.4,1296.0L917.4,1298.1L917.4,1300.5L917.4,1306.3L917.4,1308.6L917.4,1309.8L917.4,1310.5L917.4,1315.7L917.4,1319.3L917.4,1319.9L917.4,1321.8L917.4,1324.8L917.4,1328.6L917.4,1330.3L917.4,1331.7L938.7,1072.3L938.7,1078.0L938.7,1083.4L938.7,1087.3L938.7,1091.0L938.7,1091.8L938.7,1096.0L938.7,1099.5L938.7,1104.8L938.7,1108.3L938.7,1114.2L938.7,1128.9L938.7,1130.9L938.7,1131.9L938.7,1134.8L938.7,1142.6L938.7,1143.6L938.7,1152.1L938.7,1160.6L938.7,1169.0L938.7,1176.1L938.7,1204.4L938.7,1208.9L938.7,1212.6L938.7,1214.4L938.7,1216.6L938.7,1221.4L938.7,1293.0L938.7,1302.3L938.7,1303.1L938.7,1309.1L938.7,1314.4L938.7,1316.1L938.7,1317.0L938.7,1319.8L938.7,1325.7L938.7,1334.1L938.7,1337.7L960.0,1073.9L960.0,1117.7L960.0,1124.1L960.0,1132.7L960.0,1185.4L960.0,1194.6L960.0,1212.6L960.0,1239.6L960.0,1289.1L960.0,1309.2L960.0,1313.0L960.0,1324.9L960.0,1329.7L960.0,1336.9" marker-start="url(#m10)" marker-mid="url(#m10)" marker-end="url(#m10)"/><path d="M726.0,1215.2L726.0,1219.0L726.0,1222.7L726.0,1223.7L726.0,1225.0L726.0,1226.9L726.0,1228.1L726.0,1231.6L726.0,1234.3L726.0,1235.8L726.0,1290.0L726.0,1290.8L726.0,1294.3L726.0,1297.8L768.6,1180.0L768.6,1190.6L768.6,1192.1L768.6,1194.8L768.6,1197.0L768.6,1200.6L768.6,1203.9L768.6,1207.4L768.6,1210.2L768.6,1210.9L768.6,1212.5L768.6,1213.9L768.6,1226.2L768.6,1235.3L768.6,1241.1L768.6,1288.2L768.6,1291.2L768.6,1295.9L768.6,1299.7L768.6,1304.6L768.6,1305.7L789.8,1178.1L789.8,1179.9L789.8,1193.0L789.8,1193.8L789.8,1200.1L789.8,1207.2L789.8,1209.2L789.8,1210.0L789.8,1222.9L789.8,1226.2L789.8,1231.5L789.8,1233.7L789.8,1234.7L789.8,1238.9L789.8,1241.2L789.8,1243.0L789.8,1247.5L789.8,1295.9L789.8,1309.6L811.1,1172.3L811.1,1173.7L811.1,1176.7L811.1,1177.6L811.1,1183.8L811.1,1189.1L811.1,1193.5L811.1,1194.7L811.1,1202.7L811.1,1220.0L811.1,1223.5L811.1,1224.4L811.1,1226.7L811.1,1229.4L811.1,1232.6L811.1,1238.7L811.1,1240.7L811.1,1243.8L811.1,1247.8L811.1,1290.7L811.1,1295.5L811.1,1299.3L811.1,1302.6L811.1,1309.3L811.1,1317.3L811.1,1321.4L832.4,1160.4L832.4,1164.4L832.4,1190.8L832.4,1214.3L832.4,1236.0L832.4,1241.5L832.4,1244.3L832.4,1295.2L832.4,1299.8L832.4,1311.4L832.4,1317.2L853.6,1141.6L853.6,1153.7L853.6,1156.2L853.6,1162.2L853.6,1171.9L853.6,1177.8L853.6,1189.0L853.6,1221.0L853.6,1302.9L853.6,1303.9L853.6,1305.3L853.6,1318.3L853.6,1322.9L896.2,1110.1L896.2,1140.3L896.2,1142.7L896.2,1148.5L896.2,1204.4L896.2,1210.1L896.2,1222.5L896.2,1233.8L896.2,1237.5L896.2,1241.0L896.2,1248.8L896.2,1295.7L896.2,1300.9L896.2,1306.1L896.2,1308.2L896.2,1310.2L896.2,1310.8L896.2,1312.4L896.2,1317.4L896.2,1319.8L896.2,1328.6L917.4,1087.7L917.4,1094.5L917.4,1097.9L917.4,1115.9L917.4,1134.0L917.4,1142.3L917.4,1166.7L917.4,1181.9L917.4,1189.7L917.4,1190.8L917.4,1192.8L917.4,1199.8L917.4,1216.9L917.4,1245.4L917.4,1296.1L917.4,1299.3L917.4,1302.2L917.4,1306.9L917.4,1312.1L917.4,1326.9L938.7,1071.4L938.7,1080.0L938.7,1106.1L938.7,1119.4L938.7,1120.2L938.7,1123.6L938.7,1147.5L938.7,1154.8L938.7,1162.9L938.7,1164.7L938.7,1170.7L938.7,1188.9L938.7,1205.8L938.7,1244.9L938.7,1293.2L938.7,1295.2L938.7,1296.0L938.7,1297.6L938.7,1299.4L938.7,1304.4L938.7,1304.9L938.7,1306.9L938.7,1312.2L938.7,1318.3L938.7,1325.6L938.7,1327.9L938.7,1330.2L938.7,1330.5L938.7,1333.4L938.7,1335.6L938.7,1336.2L960.0,1138.8L960.0,1147.5L960.0,1205.0L960.0,1225.5L960.0,1286.3L960.0,1297.0L960.0,1305.1L960.0,1315.2L960.0,1321.4L960.0,1328.3L960.0,1332.1" marker-start="url(#m30)" marker-mid="url(#m30)" marker-end="url(#m30)"/><path d="M726.0,1212.3L726.0,1218.2L726.0,1221.6L726.0,1230.8L726.0,1283.1L726.0,1295.8L768.6,1183.8L768.6,1188.0L768.6,1190.1L768.6,1193.2L768.6,1195.6L768.6,1202.6L768.6,1213.5L768.6,1215.7L768.6,1217.1L768.6,1221.5L768.6,1223.7L768.6,1293.3L768.6,1295.1L768.6,1306.4L789.8,1178.0L789.8,1183.2L789.8,1184.0L789.8,1190.2L789.8,1201.4L789.8,1215.5L789.8,1243.3L789.8,1289.8L789.8,1297.5L789.8,1298.4L789.8,1304.7L811.1,1172.5L811.1,1184.4L811.1,1185.4L811.1,1199.7L811.1,1225.2L811.1,1231.2L811.1,1234.0L811.1,1241.3L811.1,1242.4L811.1,1246.4L811.1,1248.7L811.1,1306.6L811.1,1310.7L811.1,1322.2L811.1,1323.0L832.4,1162.1L832.4,1169.8L832.4,1173.7L832.4,1179.1L832.4,1181.6L832.4,1185.7L832.4,1198.2L832.4,1199.1L832.4,1200.8L832.4,1220.2L832.4,1230.1L832.4,1239.9L832.4,1294.5L832.4,1299.0L832.4,1300.9L832.4,1304.2L832.4,1305.3L832.4,1306.6L832.4,1310.3L832.4,1313.5L832.4,1319.9L832.4,1322.3L853.6,1149.2L853.6,1164.1L853.6,1173.3L853.6,1176.8L853.6,1192.0L853.6,1196.8L853.6,1206.1L853.6,1208.5L853.6,1216.4L853.6,1218.7L853.6,1225.3L853.6,1234.2L853.6,1235.3L853.6,1248.2L853.6,1307.9L853.6,1314.0L853.6,1319.4L853.6,1320.4L896.2,1112.6L896.2,1122.1L896.2,1126.1L896.2,1128.7L896.2,1163.5L896.2,1165.0L896.2,1177.3L896.2,1185.1L896.2,1186.5L896.2,1194.6L896.2,1217.4L896.2,1225.1L896.2,1230.7L896.2,1304.0L896.2,1313.1L896.2,1315.1L896.2,1316.2L896.2,1324.1L896.2,1325.7L917.4,1100.2L917.4,1120.6L917.4,1125.5L917.4,1128.6L917.4,1136.6L917.4,1146.6L917.4,1149.7L917.4,1154.2L917.4,1155.3L917.4,1170.0L917.4,1173.3L917.4,1195.5L917.4,1201.8L917.4,1203.7L917.4,1206.9L917.4,1221.8L917.4,1293.4L917.4,1300.9L917.4,1304.1L917.4,1304.6L917.4,1312.6L917.4,1314.0L917.4,1316.9L917.4,1325.7L938.7,1085.1L938.7,1093.8L938.7,1124.6L938.7,1178.6L938.7,1180.4L938.7,1181.6L938.7,1184.3L938.7,1201.5L938.7,1211.5L938.7,1219.4L938.7,1224.1L938.7,1298.0L938.7,1307.5L938.7,1309.7L938.7,1314.0L938.7,1321.2L938.7,1324.4L938.7,1332.4L960.0,1058.9L960.0,1291.9L960.0,1298.8L960.0,1300.6L960.0,1309.5L960.0,1322.7" marker-start="url(#m60)" marker-mid="url(#m60)" marker-end="url(#m60)"/><path d="M726.0,1229.5L726.0,1281.5L726.0,1284.3L726.0,1286.6L768.6,1186.0L768.6,1197.7L768.6,1205.4L768.6,1208.5L768.6,1228.0L768.6,1234.3L768.6,1238.1L768.6,1238.6L768.6,1297.1L768.6,1297.8L768.6,1310.1L768.6,1314.2L768.6,1322.2L789.8,1175.9L789.8,1185.2L789.8,1187.3L789.8,1188.0L789.8,1190.9L789.8,1196.9L789.8,1197.9L789.8,1219.3L789.8,1221.2L789.8,1239.8L789.8,1248.3L789.8,1300.8L789.8,1306.7L789.8,1307.7L789.8,1308.9L789.8,1311.2L789.8,1311.7L789.8,1313.8L811.1,1180.3L811.1,1186.8L811.1,1190.8L811.1,1191.7L811.1,1198.8L811.1,1220.9L811.1,1227.6L811.1,1233.7L811.1,1304.4L811.1,1305.8L811.1,1312.8L811.1,1318.4L811.1,1325.8L832.4,1176.9L832.4,1203.8L832.4,1306.2L832.4,1309.7L832.4,1316.8L832.4,1323.0L832.4,1325.5L832.4,1328.8L832.4,1342.9L832.4,1348.8L853.6,1147.4L853.6,1181.3L853.6,1191.0L853.6,1202.0L853.6,1225.5L853.6,1229.3L853.6,1231.5L853.6,1306.5L853.6,1308.8L853.6,1310.8L853.6,1311.6L853.6,1313.1L853.6,1326.3L853.6,1343.8L896.2,1168.0L896.2,1169.6L896.2,1172.4L896.2,1176.2L896.2,1181.7L896.2,1226.5L896.2,1251.4L896.2,1325.0L896.2,1335.3L896.2,1357.1L917.4,1088.8L917.4,1103.8L917.4,1119.0L917.4,1167.3L917.4,1187.0L917.4,1213.1L917.4,1216.1L917.4,1317.6L917.4,1322.9L917.4,1330.9L917.4,1340.1L917.4,1346.2L917.4,1347.7L938.7,1101.0L938.7,1116.9L938.7,1139.2L938.7,1149.3L938.7,1159.3L938.7,1173.4L938.7,1186.1L938.7,1191.3L938.7,1194.9L938.7,1195.6L938.7,1199.3L938.7,1290.2L938.7,1291.6L938.7,1311.7L938.7,1322.8L938.7,1329.1L938.7,1341.5L938.7,1349.1L938.7,1356.4L938.7,1361.5L960.0,1100.8L960.0,1161.7L960.0,1232.9L960.0,1303.5L960.0,1317.6L960.0,1334.9L960.0,1343.7L960.0,1348.6L960.0,1352.7" marker-start="url(#m100)" marker-mid="url(#m100)" marker-end="url(#m100)"/><path d="M726.0,1216.0L726.0,1219.8L726.0,1293.4L768.6,1199.5L768.6,1227.6L768.6,1317.8L789.8,1245.6L789.8,1295.1L789.8,1304.1L789.8,1313.2L789.8,1315.7L789.8,1319.1L789.8,1323.2L789.8,1327.9L789.8,1333.7L789.8,1338.1L811.1,1237.4L811.1,1245.2L811.1,1295.8L811.1,1333.5L811.1,1337.8L811.1,1338.7L811.1,1344.5L811.1,1347.8L811.1,1363.2L832.4,1321.6L832.4,1327.0L832.4,1337.2L832.4,1339.7L832.4,1345.5L853.6,1185.2L853.6,1299.7L853.6,1321.5L853.6,1333.6L853.6,1338.8L853.6,1342.5L853.6,1346.1L896.2,1137.9L896.2,1154.6L896.2,1191.8L896.2,1327.1L896.2,1329.8L896.2,1331.1L896.2,1335.8L896.2,1340.9L896.2,1345.2L896.2,1350.2L896.2,1353.3L917.4,1101.1L917.4,1114.4L917.4,1129.3L917.4,1159.1L917.4,1162.5L917.4,1233.0L917.4,1238.1L917.4,1324.2L917.4,1334.1L917.4,1336.9L917.4,1339.4L917.4,1343.4L917.4,1351.0L917.4,1356.1L938.7,1076.7L938.7,1110.3L938.7,1136.4L938.7,1155.8L938.7,1300.9L938.7,1320.5L938.7,1343.6L938.7,1347.5L960.0,1065.2L960.0,1106.3L960.0,1154.8L960.0,1198.8L960.0,1292.9" marker-start="url(#m140)" marker-mid="url(#m140)" marker-end="url(#m140)"/><path d="M768.6,1315.7L768.6,1321.3L768.6,1324.6L789.8,1325.2L789.8,1330.2L789.8,1333.0L811.1,1328.1L811.1,1330.7L811.1,1334.4L811.1,1341.9L811.1,1345.6L832.4,1332.7L832.4,1335.5L832.4,1340.4L832.4,1350.2L853.6,1327.3L853.6,1330.6L853.6,1332.9L853.6,1336.4L853.6,1360.3L896.2,1338.4L896.2,1342.5L896.2,1347.2L896.2,1354.7L896.2,1359.5L917.4,1352.5L917.4,1357.8L938.7,1340.4L938.7,1351.7L938.7,1353.9L938.7,1356.9L938.7,1360.1L938.7,1365.1L960.0,1097.3L960.0,1339.1L960.0,1341.2L960.0,1346.4L960.0,1355.6" marker-start="url(#m190)" marker-mid="url(#m190)" marker-end="url(#m190)"/><path d="M726.0,1185.8L726.0,1277.5L768.6,1247.8L768.6,1331.9L768.6,1340.2L768.6,1346.5L768.6,1355.2L789.8,1197.3L789.8,1260.5L789.8,1263.3L789.8,1361.7L811.1,1208.9L811.1,1265.6L811.1,1270.3L811.1,1271.7L832.4,1264.2L832.4,1266.4L832.4,1269.6L853.6,1185.8L853.6,1194.4L853.6,1267.8L853.6,1269.1L853.6,1273.2L896.2,1155.5L896.2,1171.4L896.2,1260.6L896.2,1261.0L917.4,1255.0L938.7,1255.0L938.7,1257.9L960.0,1162.7L960.0,1171.4L960.0,1240.6L960.0,1249.2" marker-start="url(#m370)" marker-mid="url(#m370)" marker-end="url(#m370)"/><path d="M726.0,1192.7L726.0,1197.2L726.0,1199.0L726.0,1200.8L726.0,1204.0L726.0,1276.7L726.0,1289.6L768.6,1259.0L768.6,1261.2L768.6,1263.3L768.6,1364.0L789.8,1266.0L789.8,1278.3L789.8,1282.9L811.1,1277.5L832.4,1284.4L853.6,1258.5L853.6,1286.7L896.2,1285.3L896.2,1324.2L917.4,1260.8L917.4,1275.2L917.4,1344.4L938.7,1263.7L938.7,1268.0L938.7,1284.4L938.7,1324.2L938.7,1341.5L960.0,1263.7L960.0,1269.4L960.0,1295.4L960.0,1341.5" marker-start="url(#m550)" marker-mid="url(#m550)" marker-end="url(#m550)"/></g>
<g clip-path="url(#cp23)" fill="none" stroke="none"><path d="M1016.3,1222.9L1016.3,1229.1L1016.3,1230.2L1016.3,1232.8L1016.3,1234.5L1016.3,1238.8L1016.3,1242.3L1016.3,1261.1L1016.3,1262.9L1016.3,1274.4L1016.3,1281.0L1016.3,1287.1L1016.3,1291.8L1058.8,1219.5L1058.8,1220.4L1058.8,1221.9L1058.8,1226.3L1058.8,1231.3L1058.8,1268.4L1058.8,1277.0L1058.8,1278.0L1058.8,1279.5L1058.8,1281.5L1058.8,1287.0L1058.8,1292.1L1058.8,1292.5L1058.8,1295.7L1058.8,1298.0L1058.8,1299.1L1058.8,1306.7L1080.1,1205.1L1080.1,1208.2L1080.1,1209.4L1080.1,1218.5L1080.1,1219.7L1080.1,1219.8L1080.1,1228.5L1080.1,1234.2L1080.1,1236.1L1080.1,1237.4L1080.1,1269.8L1080.1,1270.2L1080.1,1278.4L1080.1,1279.5L1080.1,1282.3L1080.1,1285.2L1080.1,1290.4L1080.1,1296.9L1080.1,1298.4L1080.1,1299.9L1080.1,1302.8L1080.1,1304.2L1080.1,1307.4L1101.3,1204.8L1101.3,1205.6L1101.3,1208.2L1101.3,1213.2L1101.3,1215.5L1101.3,1226.3L1101.3,1227.9L1101.3,1231.0L1101.3,1233.7L1101.3,1235.7L1101.3,1262.0L1101.3,1264.2L1101.3,1270.8L1101.3,1275.5L1101.3,1283.0L1101.3,1284.8L1101.3,1288.4L1101.3,1293.4L1101.3,1296.1L1101.3,1302.1L1101.3,1306.0L1101.3,1311.3L1101.3,1311.5L1122.6,1196.1L1122.6,1199.0L1122.6,1202.8L1122.6,1205.1L1122.6,1207.7L1122.6,1210.2L1122.6,1212.1L1122.6,1213.9L1122.6,1215.3L1122.6,1218.3L1122.6,1219.3L1122.6,1220.2L1122.6,1223.9L1122.6,1225.7L1122.6,1227.2L1122.6,1232.0L1122.6,1234.0L1122.6,1234.6L1122.6,1235.9L1122.6,1256.9L1122.6,1259.6L1122.6,1262.4L1122.6,1267.4L1122.6,1274.7L1122.6,1277.3L1122.6,1280.2L1122.6,1281.3L1122.6,1282.3L1122.6,1283.5L1122.6,1284.6L1122.6,1287.2L1122.6,1290.4L1122.6,1296.4L1122.6,1297.9L1122.6,1300.1L1122.6,1301.3L1122.6,1307.2L1122.6,1307.3L1122.6,1308.5L1143.9,1182.6L1143.9,1189.6L1143.9,1195.6L1143.9,1196.5L1143.9,1199.4L1143.9,1203.6L1143.9,1207.1L1143.9,1213.0L1143.9,1214.3L1143.9,1214.9L1143.9,1218.6L1143.9,1220.2L1143.9,1221.4L1143.9,1230.4L1143.9,1233.3L1143.9,1249.1L1143.9,1251.4L1143.9,1252.5L1143.9,1253.5L1143.9,1258.2L1143.9,1261.3L1143.9,1262.5L1143.9,1264.0L1143.9,1264.9L1143.9,1268.3L1143.9,1269.6L1143.9,1271.2L1143.9,1272.8L1143.9,1276.4L1143.9,1288.4L1143.9,1291.1L1143.9,1294.7L1143.9,1301.7L1143.9,1303.0L1143.9,1303.9L1186.4,1156.5L1186.4,1161.5L1186.4,1165.0L1186.4,1169.8L1186.4,1171.4L1186.4,1177.1L1186.4,1182.8L1186.4,1187.8L1186.4,1197.2L1186.4,1205.5L1186.4,1206.4L1186.4,1215.7L1186.4,1217.8L1186.4,1221.2L1186.4,1224.3L1186.4,1229.2L1186.4,1231.3L1186.4,1234.2L1186.4,1240.7L1186.4,1245.1L1186.4,1247.3L1186.4,1250.0L1186.4,1251.7L1186.4,1258.5L1186.4,1267.7L1186.4,1277.1L1186.4,1285.5L1186.4,1287.4L1186.4,1300.2L1207.6,1150.4L1207.6,1157.6L1207.6,1168.9L1207.6,1170.7L1207.6,1172.6L1207.6,1182.6L1207.6,1185.1L1207.6,1193.4L1207.6,1194.1L1207.6,1196.1L1207.6,1205.2L1207.6,1235.8L1207.6,1240.0L1207.6,1250.4L1207.6,1258.6L1207.6,1262.0L1207.6,1269.2L1207.6,1269.4L1207.6,1284.7L1207.6,1293.8L1207.6,1295.6L1207.6,1298.8L1207.6,1308.2L1228.9,1144.0L1228.9,1155.7L1228.9,1166.9L1228.9,1182.3L1228.9,1184.5L1228.9,1186.5L1228.9,1202.9L1228.9,1214.9L1228.9,1224.0L1228.9,1226.0L1228.9,1229.7L1228.9,1237.2L1228.9,1242.4L1228.9,1249.0L1228.9,1256.4L1228.9,1262.3L1228.9,1270.6L1228.9,1276.3L1228.9,1280.3L1228.9,1283.5L1228.9,1287.8L1228.9,1288.2L1228.9,1296.8L1228.9,1303.0L1250.2,1107.4L1250.2,1114.4L1250.2,1117.2L1250.2,1122.2L1250.2,1181.1L1250.2,1185.9L1250.2,1201.9L1250.2,1208.7L1250.2,1212.3L1250.2,1218.4L1250.2,1224.7L1250.2,1228.5L1250.2,1236.3L1250.2,1253.4L1250.2,1258.0L1250.2,1261.0L1250.2,1266.8L1250.2,1286.2L1250.2,1289.7L1250.2,1291.2L1250.2,1298.9L1250.2,1301.3L1250.2,1303.8" marker-start="url(#m10)" marker-mid="url(#m10)" marker-end="url(#m10)"/><path d="M1016.3,1223.3L1016.3,1225.5L1016.3,1229.0L1016.3,1237.3L1016.3,1237.8L1016.3,1268.3L1016.3,1269.8L1016.3,1284.5L1058.8,1210.3L1058.8,1211.7L1058.8,1213.2L1058.8,1214.3L1058.8,1222.4L1058.8,1227.7L1058.8,1228.2L1058.8,1272.4L1058.8,1280.4L1058.8,1282.2L1058.8,1284.3L1058.8,1288.5L1058.8,1293.8L1058.8,1296.7L1058.8,1300.3L1058.8,1302.5L1058.8,1302.8L1080.1,1200.5L1080.1,1201.0L1080.1,1207.1L1080.1,1213.8L1080.1,1216.9L1080.1,1221.2L1080.1,1222.3L1080.1,1230.4L1080.1,1232.7L1080.1,1233.8L1080.1,1272.0L1080.1,1278.1L1080.1,1281.5L1080.1,1283.5L1080.1,1284.6L1080.1,1286.6L1080.1,1291.4L1080.1,1295.1L1080.1,1300.7L1080.1,1302.6L1080.1,1306.3L1101.3,1199.8L1101.3,1211.0L1101.3,1211.6L1101.3,1216.3L1101.3,1221.0L1101.3,1222.1L1101.3,1225.5L1101.3,1229.9L1101.3,1232.2L1101.3,1233.7L1101.3,1261.6L1101.3,1271.8L1101.3,1273.1L1101.3,1274.0L1101.3,1276.6L1101.3,1278.7L1101.3,1283.6L1101.3,1287.5L1101.3,1289.4L1101.3,1291.1L1101.3,1297.3L1101.3,1304.7L1101.3,1309.5L1122.6,1192.9L1122.6,1196.7L1122.6,1197.7L1122.6,1199.7L1122.6,1201.7L1122.6,1205.9L1122.6,1209.7L1122.6,1213.1L1122.6,1217.0L1122.6,1220.7L1122.6,1225.3L1122.6,1229.2L1122.6,1233.4L1122.6,1237.4L1122.6,1238.4L1122.6,1257.7L1122.6,1259.8L1122.6,1265.4L1122.6,1265.9L1122.6,1269.2L1122.6,1276.5L1122.6,1285.4L1122.6,1288.3L1122.6,1294.5L1122.6,1301.5L1122.6,1306.0L1143.9,1190.5L1143.9,1202.1L1143.9,1205.3L1143.9,1208.8L1143.9,1211.9L1143.9,1217.6L1143.9,1222.3L1143.9,1228.3L1143.9,1231.3L1143.9,1233.6L1143.9,1244.1L1143.9,1245.2L1143.9,1250.0L1143.9,1255.3L1143.9,1266.2L1143.9,1279.1L1143.9,1281.2L1143.9,1283.2L1143.9,1284.1L1143.9,1285.0L1143.9,1285.9L1143.9,1287.8L1143.9,1292.8L1143.9,1298.9L1143.9,1300.1L1186.4,1158.9L1186.4,1166.1L1186.4,1181.5L1186.4,1191.2L1186.4,1194.7L1186.4,1202.6L1186.4,1210.7L1186.4,1212.9L1186.4,1225.4L1186.4,1235.7L1186.4,1243.2L1186.4,1265.2L1186.4,1279.6L1186.4,1294.9L1186.4,1301.3L1186.4,1304.3L1186.4,1308.6L1207.6,1148.3L1207.6,1158.9L1207.6,1162.4L1207.6,1186.5L1207.6,1201.2L1207.6,1207.6L1207.6,1220.1L1207.6,1222.3L1207.6,1231.0L1207.6,1236.2L1207.6,1249.5L1207.6,1271.7L1207.6,1275.0L1207.6,1281.7L1207.6,1287.4L1207.6,1289.0L1207.6,1293.0L1207.6,1306.3L1228.9,1128.7L1228.9,1130.2L1228.9,1135.0L1228.9,1139.2L1228.9,1152.4L1228.9,1157.0L1228.9,1160.9L1228.9,1163.2L1228.9,1165.8L1228.9,1170.0L1228.9,1174.5L1228.9,1177.1L1228.9,1190.3L1228.9,1195.3L1228.9,1199.2L1228.9,1204.9L1228.9,1210.7L1228.9,1223.1L1228.9,1230.7L1228.9,1264.5L1228.9,1282.8L1228.9,1300.1L1250.2,1109.9L1250.2,1112.5L1250.2,1116.4L1250.2,1120.0L1250.2,1178.9L1250.2,1182.6L1250.2,1192.1L1250.2,1195.6L1250.2,1198.5L1250.2,1204.1L1250.2,1213.8L1250.2,1215.4L1250.2,1221.9L1250.2,1222.4L1250.2,1235.1L1250.2,1243.1L1250.2,1264.6L1250.2,1278.7L1250.2,1284.5L1250.2,1306.3" marker-start="url(#m30)" marker-mid="url(#m30)" marker-end="url(#m30)"/><path d="M1016.3,1225.3L1016.3,1232.1L1016.3,1236.1L1016.3,1241.1L1016.3,1264.1L1016.3,1288.8L1058.8,1217.3L1058.8,1230.2L1058.8,1233.8L1058.8,1273.1L1058.8,1289.2L1058.8,1301.1L1058.8,1305.9L1080.1,1211.0L1080.1,1214.5L1080.1,1225.6L1080.1,1226.9L1080.1,1266.6L1080.1,1274.9L1080.1,1276.5L1080.1,1287.8L1080.1,1292.4L1080.1,1294.3L1101.3,1201.3L1101.3,1202.1L1101.3,1207.9L1101.3,1209.3L1101.3,1217.8L1101.3,1218.8L1101.3,1224.0L1101.3,1226.8L1101.3,1277.5L1101.3,1280.4L1101.3,1281.4L1101.3,1286.4L1101.3,1291.6L1101.3,1294.5L1101.3,1295.7L1101.3,1300.7L1101.3,1301.0L1101.3,1304.0L1101.3,1307.7L1122.6,1194.3L1122.6,1203.4L1122.6,1222.7L1122.6,1228.6L1122.6,1230.1L1122.6,1239.8L1122.6,1261.4L1122.6,1268.3L1122.6,1270.7L1122.6,1272.5L1122.6,1275.6L1122.6,1279.1L1122.6,1289.4L1122.6,1292.6L1143.9,1185.3L1143.9,1187.6L1143.9,1192.6L1143.9,1193.8L1143.9,1198.5L1143.9,1204.9L1143.9,1207.9L1143.9,1216.3L1143.9,1223.0L1143.9,1224.3L1143.9,1227.3L1143.9,1254.5L1143.9,1257.2L1143.9,1258.8L1143.9,1267.8L1143.9,1272.8L1143.9,1274.4L1143.9,1280.8L1143.9,1292.5L1143.9,1295.3L1143.9,1297.0L1143.9,1297.4L1143.9,1304.5L1143.9,1305.6L1186.4,1175.3L1186.4,1184.8L1186.4,1208.1L1186.4,1253.6L1186.4,1257.0L1186.4,1261.7L1186.4,1278.9L1186.4,1288.9L1186.4,1291.3L1186.4,1295.8L1186.4,1306.5L1207.6,1146.3L1207.6,1153.3L1207.6,1165.6L1207.6,1175.2L1207.6,1199.6L1207.6,1214.3L1207.6,1216.0L1207.6,1217.4L1207.6,1225.5L1207.6,1228.0L1207.6,1232.6L1207.6,1245.2L1207.6,1246.4L1207.6,1254.4L1207.6,1266.0L1228.9,1134.2L1228.9,1144.9L1228.9,1187.9L1228.9,1193.4L1228.9,1201.6L1228.9,1206.9L1228.9,1234.0L1228.9,1251.1L1228.9,1271.6L1228.9,1275.5L1228.9,1290.7L1228.9,1293.1L1228.9,1306.5L1228.9,1308.5L1250.2,1123.7L1250.2,1124.2L1250.2,1186.6L1250.2,1232.5L1250.2,1240.2L1250.2,1255.0L1250.2,1262.3L1250.2,1272.0L1250.2,1274.9L1250.2,1276.8L1250.2,1295.6" marker-start="url(#m60)" marker-mid="url(#m60)" marker-end="url(#m60)"/><path d="M1016.3,1227.5L1016.3,1272.5L1016.3,1277.9L1016.3,1279.5L1058.8,1216.1L1058.8,1223.3L1058.8,1225.2L1058.8,1229.0L1058.8,1232.8L1058.8,1270.2L1058.8,1274.2L1058.8,1283.1L1058.8,1286.4L1058.8,1290.2L1058.8,1304.8L1058.8,1308.4L1058.8,1308.6L1080.1,1202.4L1080.1,1215.8L1080.1,1224.1L1080.1,1268.9L1080.1,1289.0L1080.1,1296.4L1080.1,1305.8L1080.1,1309.2L1101.3,1203.2L1101.3,1220.6L1101.3,1266.4L1101.3,1267.4L1101.3,1308.8L1122.6,1192.6L1122.6,1208.1L1122.6,1255.4L1122.6,1263.5L1122.6,1271.7L1122.6,1291.7L1122.6,1295.3L1122.6,1303.2L1122.6,1304.6L1143.9,1183.7L1143.9,1187.2L1143.9,1191.1L1143.9,1197.1L1143.9,1210.4L1143.9,1226.1L1143.9,1245.8L1143.9,1247.2L1143.9,1260.9L1143.9,1275.6L1143.9,1290.3L1186.4,1173.2L1186.4,1191.9L1186.4,1199.2L1186.4,1236.9L1186.4,1270.1L1186.4,1270.7L1186.4,1273.8L1186.4,1282.1L1207.6,1155.5L1207.6,1164.8L1207.6,1177.8L1207.6,1180.1L1207.6,1189.7L1207.6,1207.9L1207.6,1210.1L1207.6,1242.2L1207.6,1255.3L1207.6,1280.6L1207.6,1301.8L1228.9,1148.7L1228.9,1149.7L1228.9,1211.3L1228.9,1216.5L1228.9,1219.4L1228.9,1238.1L1228.9,1241.9L1228.9,1246.8L1228.9,1254.3L1228.9,1257.5L1228.9,1260.7L1228.9,1268.7L1228.9,1298.6L1228.9,1337.2L1250.2,1109.0L1250.2,1111.8L1250.2,1113.3L1250.2,1120.7L1250.2,1163.9L1250.2,1169.0L1250.2,1170.8L1250.2,1176.5L1250.2,1197.4L1250.2,1229.6L1250.2,1269.8L1250.2,1294.3" marker-start="url(#m100)" marker-mid="url(#m100)" marker-end="url(#m100)"/><path d="M1016.3,1240.9L1058.8,1212.8L1058.8,1218.2L1058.8,1270.8L1058.8,1275.5L1058.8,1328.6L1080.1,1204.4L1080.1,1206.0L1080.1,1212.3L1080.1,1226.5L1080.1,1229.6L1080.1,1273.5L1080.1,1274.3L1101.3,1214.8L1101.3,1264.7L1101.3,1268.6L1101.3,1269.7L1101.3,1299.0L1122.6,1298.8L1143.9,1184.4L1143.9,1200.8L1143.9,1228.9L1143.9,1278.1L1207.6,1263.2L1207.6,1277.4L1207.6,1304.5L1228.9,1141.3L1228.9,1172.1L1228.9,1177.8L1250.2,1118.4L1250.2,1143.6L1250.2,1148.1L1250.2,1165.4L1250.2,1172.3L1250.2,1189.3L1250.2,1206.3L1250.2,1282.2" marker-start="url(#m140)" marker-mid="url(#m140)" marker-end="url(#m140)"/><path d="M1016.3,1292.5L1186.4,1330.6L1250.2,1153.5L1250.2,1334.3" marker-start="url(#m190)" marker-mid="url(#m190)" marker-end="url(#m190)"/><path d="M1016.3,1220.4L1058.8,1236.3L1058.8,1316.0L1058.8,1318.0L1058.8,1322.3L1080.1,1328.3L1080.1,1329.7L1080.1,1333.5L1101.3,1331.5L1101.3,1341.5L1122.6,1223.3L1122.6,1341.5L1122.6,1344.4L1122.6,1358.0L1143.9,1208.9L1143.9,1223.3L1143.9,1344.4L1143.9,1360.3L1186.4,1197.3L1186.4,1206.0L1186.4,1352.2L1207.6,1191.6L1207.6,1208.9L1207.6,1365.5L1228.9,1210.3L1228.9,1250.7L1250.2,1226.2L1250.2,1240.6" marker-start="url(#m370)" marker-mid="url(#m370)" marker-end="url(#m370)"/><path d="M1016.3,1283.9L1058.8,1242.3L1058.8,1246.9L1058.8,1249.5L1058.8,1337.8L1058.8,1352.2L1080.1,1244.9L1080.1,1246.4L1080.1,1250.0L1080.1,1315.6L1080.1,1321.4L1101.3,1247.6L1101.3,1252.9L1101.3,1253.9L1101.3,1324.2L1101.3,1344.4L1122.6,1237.7L1122.6,1242.6L1122.6,1247.4L1122.6,1318.5L1122.6,1327.7L1143.9,1240.6L1143.9,1314.1L1143.9,1326.5L1186.4,1308.4L1186.4,1321.4L1207.6,1312.7L1207.6,1322.8L1207.6,1334.3L1228.9,1316.2L1228.9,1321.7L1228.9,1328.6L1250.2,1306.9L1250.2,1325.7" marker-start="url(#m550)" marker-mid="url(#m550)" marker-end="url(#m550)"/></g>
<g clip-path="url(#cp24)" fill="none" stroke="none"><path d="M1306.5,1188.7L1306.5,1190.4L1306.5,1198.3L1306.5,1213.5L1306.5,1267.3L1306.5,1269.1L1306.5,1272.8L1306.5,1280.9L1306.5,1288.9L1306.5,1294.0L1306.5,1297.1L1306.5,1299.7L1349.0,1185.4L1349.0,1185.8L1349.0,1187.1L1349.0,1188.1L1349.0,1189.7L1349.0,1196.2L1349.0,1199.4L1349.0,1203.6L1349.0,1209.0L1349.0,1210.6L1349.0,1212.1L1349.0,1213.1L1349.0,1215.5L1349.0,1217.5L1349.0,1221.1L1349.0,1281.5L1349.0,1284.1L1349.0,1287.1L1349.0,1288.2L1349.0,1289.8L1349.0,1298.1L1349.0,1300.5L1349.0,1302.9L1370.3,1172.6L1370.3,1178.5L1370.3,1179.5L1370.3,1186.0L1370.3,1187.0L1370.3,1189.1L1370.3,1192.4L1370.3,1208.3L1370.3,1282.0L1370.3,1285.5L1370.3,1287.6L1370.3,1295.0L1370.3,1301.5L1370.3,1304.6L1370.3,1306.1L1370.3,1307.1L1370.3,1312.0L1370.3,1312.9L1370.3,1314.8L1370.3,1316.6L1370.3,1317.5L1391.5,1153.7L1391.5,1157.7L1391.5,1160.5L1391.5,1178.9L1391.5,1188.9L1391.5,1194.5L1391.5,1198.0L1391.5,1202.8L1391.5,1205.3L1391.5,1208.8L1391.5,1214.1L1391.5,1217.0L1391.5,1276.4L1391.5,1278.7L1391.5,1279.7L1391.5,1280.7L1391.5,1282.4L1391.5,1284.4L1391.5,1287.1L1391.5,1291.0L1391.5,1293.6L1391.5,1296.3L1391.5,1296.6L1391.5,1298.2L1391.5,1303.7L1391.5,1306.2L1391.5,1309.0L1391.5,1311.3L1391.5,1311.9L1391.5,1313.4L1391.5,1314.5L1391.5,1318.0L1412.8,1175.2L1412.8,1179.6L1412.8,1181.6L1412.8,1193.0L1412.8,1198.5L1412.8,1202.7L1412.8,1204.5L1412.8,1280.5L1412.8,1285.0L1412.8,1290.6L1412.8,1293.9L1412.8,1295.5L1412.8,1305.6L1412.8,1308.8L1412.8,1314.3L1412.8,1316.8L1412.8,1322.9L1412.8,1325.3L1434.1,1126.5L1434.1,1137.1L1434.1,1150.8L1434.1,1152.2L1434.1,1160.0L1434.1,1193.8L1434.1,1204.4L1434.1,1271.3L1434.1,1272.9L1434.1,1279.4L1434.1,1281.2L1434.1,1287.6L1434.1,1290.5L1434.1,1302.5L1434.1,1308.1L1434.1,1313.0L1434.1,1315.2L1434.1,1322.8L1434.1,1327.9L1434.1,1332.3L1476.6,1053.9L1476.6,1064.5L1476.6,1073.9L1476.6,1087.9L1476.6,1131.5L1476.6,1142.0L1476.6,1147.5L1476.6,1151.9L1476.6,1214.2L1476.6,1229.4L1476.6,1231.3L1476.6,1233.3L1476.6,1240.9L1476.6,1245.4L1476.6,1247.1L1476.6,1249.0L1476.6,1250.7L1476.6,1252.2L1476.6,1255.0L1476.6,1259.6L1476.6,1268.2L1476.6,1278.2L1497.9,1061.4L1497.9,1070.4L1497.9,1126.6L1497.9,1138.7L1497.9,1194.4L1497.9,1207.0L1497.9,1209.3L1497.9,1209.9L1497.9,1211.7L1497.9,1214.9L1497.9,1219.3L1497.9,1225.1L1497.9,1226.5L1497.9,1228.7L1497.9,1230.9L1497.9,1234.1L1497.9,1235.0L1497.9,1247.1L1497.9,1248.2L1497.9,1258.1L1497.9,1260.8L1497.9,1262.1L1497.9,1263.9L1497.9,1266.6L1497.9,1268.3L1497.9,1269.9L1497.9,1271.4L1519.1,1017.1L1519.1,1057.4L1519.1,1099.8L1519.1,1102.8L1519.1,1167.0L1519.1,1194.1L1519.1,1197.4L1519.1,1218.0L1519.1,1276.9L1519.1,1285.4L1519.1,1292.7L1519.1,1305.4L1519.1,1306.9L1519.1,1309.5L1519.1,1314.5L1519.1,1314.9L1519.1,1317.2L1540.4,1027.2L1540.4,1139.6L1540.4,1173.1L1540.4,1177.7L1540.4,1178.0L1540.4,1183.2L1540.4,1186.8L1540.4,1187.3L1540.4,1189.3L1540.4,1192.6L1540.4,1197.4L1540.4,1198.4L1540.4,1204.1L1540.4,1207.1L1540.4,1209.5L1540.4,1211.0L1540.4,1237.7L1540.4,1263.3L1540.4,1265.2L1540.4,1282.5L1540.4,1293.4L1540.4,1306.0" marker-start="url(#m10)" marker-mid="url(#m10)" marker-end="url(#m10)"/><path d="M1306.5,1193.6L1306.5,1217.8L1306.5,1273.8L1306.5,1283.2L1349.0,1190.5L1349.0,1192.2L1349.0,1195.4L1349.0,1202.8L1349.0,1216.9L1349.0,1282.7L1349.0,1285.1L1349.0,1286.3L1349.0,1294.6L1349.0,1297.8L1370.3,1174.2L1370.3,1175.7L1370.3,1176.4L1370.3,1180.5L1370.3,1188.4L1370.3,1196.4L1370.3,1200.2L1370.3,1200.6L1370.3,1202.1L1370.3,1203.5L1370.3,1204.4L1370.3,1205.6L1370.3,1217.5L1370.3,1221.8L1370.3,1283.7L1370.3,1289.4L1370.3,1293.8L1370.3,1299.5L1370.3,1302.2L1391.5,1163.9L1391.5,1165.6L1391.5,1168.6L1391.5,1186.2L1391.5,1195.3L1391.5,1282.1L1391.5,1289.8L1391.5,1299.4L1391.5,1301.2L1391.5,1305.6L1391.5,1315.9L1391.5,1317.4L1412.8,1167.6L1412.8,1170.9L1412.8,1183.4L1412.8,1185.4L1412.8,1187.0L1412.8,1210.0L1412.8,1213.3L1412.8,1268.4L1412.8,1271.0L1412.8,1275.6L1412.8,1278.3L1412.8,1297.4L1412.8,1302.9L1412.8,1328.2L1434.1,1134.7L1434.1,1136.9L1434.1,1142.6L1434.1,1146.3L1434.1,1157.3L1434.1,1258.5L1434.1,1262.4L1434.1,1269.0L1434.1,1274.2L1434.1,1295.3L1434.1,1298.2L1434.1,1302.3L1434.1,1325.9L1476.6,1047.1L1476.6,1049.9L1476.6,1059.4L1476.6,1231.5L1476.6,1236.6L1476.6,1238.5L1476.6,1245.5L1476.6,1257.5L1476.6,1264.3L1476.6,1270.3L1476.6,1275.8L1476.6,1280.3L1497.9,1130.1L1497.9,1177.1L1497.9,1214.2L1497.9,1216.7L1497.9,1222.3L1497.9,1223.9L1497.9,1230.2L1497.9,1232.7L1497.9,1235.9L1497.9,1238.5L1497.9,1245.5L1497.9,1249.0L1497.9,1255.6L1497.9,1257.4L1497.9,1259.2L1497.9,1263.1L1497.9,1266.2L1497.9,1269.5L1519.1,1030.0L1519.1,1214.0L1519.1,1229.8L1519.1,1278.3L1519.1,1287.4L1519.1,1296.4L1519.1,1299.7L1519.1,1312.2L1519.1,1321.7L1519.1,1323.4L1540.4,1024.3L1540.4,1171.8L1540.4,1171.9L1540.4,1174.9L1540.4,1182.0L1540.4,1184.5L1540.4,1185.0L1540.4,1190.0L1540.4,1195.0L1540.4,1200.6L1540.4,1202.4L1540.4,1203.3L1540.4,1205.6L1540.4,1207.7L1540.4,1259.8L1540.4,1275.5L1540.4,1279.5L1540.4,1279.6L1540.4,1289.1L1540.4,1295.7L1540.4,1296.6L1540.4,1301.0L1540.4,1301.5L1540.4,1306.6L1540.4,1317.8" marker-start="url(#m30)" marker-mid="url(#m30)" marker-end="url(#m30)"/><path d="M1306.5,1203.6L1306.5,1206.1L1306.5,1210.4L1306.5,1276.0L1306.5,1278.4L1306.5,1290.8L1349.0,1192.9L1349.0,1200.9L1349.0,1204.4L1349.0,1205.8L1349.0,1207.7L1349.0,1280.4L1349.0,1290.4L1349.0,1294.3L1370.3,1170.1L1370.3,1184.9L1370.3,1194.3L1370.3,1195.5L1370.3,1198.8L1370.3,1288.5L1370.3,1291.3L1370.3,1294.3L1370.3,1296.2L1370.3,1298.1L1370.3,1308.0L1370.3,1309.3L1370.3,1314.4L1391.5,1177.1L1391.5,1184.4L1391.5,1191.7L1391.5,1211.0L1391.5,1276.8L1391.5,1286.1L1391.5,1294.7L1391.5,1301.0L1391.5,1309.9L1412.8,1169.3L1412.8,1195.7L1412.8,1198.4L1412.8,1205.9L1412.8,1211.2L1412.8,1272.4L1434.1,1129.9L1434.1,1160.9L1434.1,1207.1L1434.1,1215.7L1434.1,1264.0L1434.1,1283.7L1434.1,1294.3L1434.1,1305.0L1434.1,1317.4L1434.1,1319.4L1434.1,1329.3L1434.1,1334.3L1476.6,1070.3L1476.6,1086.1L1476.6,1136.2L1476.6,1180.1L1476.6,1205.0L1476.6,1233.9L1476.6,1235.4L1476.6,1240.5L1476.6,1243.5L1476.6,1253.5L1476.6,1253.9L1476.6,1262.9L1476.6,1265.4L1476.6,1266.9L1476.6,1273.2L1476.6,1274.1L1476.6,1277.1L1476.6,1279.1L1497.9,1065.6L1497.9,1144.5L1497.9,1215.7L1497.9,1218.0L1497.9,1220.9L1497.9,1222.8L1497.9,1240.9L1497.9,1242.2L1497.9,1244.0L1497.9,1250.5L1497.9,1252.4L1497.9,1253.8L1519.1,1109.3L1519.1,1111.3L1519.1,1291.3L1519.1,1301.2L1540.4,1051.7L1540.4,1170.3L1540.4,1181.1L1540.4,1199.1L1540.4,1212.1L1540.4,1229.1L1540.4,1261.7L1540.4,1268.9L1540.4,1285.7L1540.4,1289.5L1540.4,1310.8L1540.4,1313.7" marker-start="url(#m60)" marker-mid="url(#m60)" marker-end="url(#m60)"/><path d="M1306.5,1287.1L1306.5,1309.8L1349.0,1180.6L1349.0,1194.6L1349.0,1197.9L1349.0,1199.5L1349.0,1213.6L1349.0,1296.3L1349.0,1299.5L1349.0,1312.2L1349.0,1315.9L1349.0,1318.2L1370.3,1171.6L1370.3,1182.2L1370.3,1183.7L1370.3,1190.8L1370.3,1197.7L1370.3,1282.5L1370.3,1285.9L1370.3,1291.6L1370.3,1300.3L1370.3,1304.0L1370.3,1311.2L1391.5,1155.4L1391.5,1170.2L1391.5,1172.1L1391.5,1181.8L1391.5,1201.2L1391.5,1213.2L1391.5,1292.0L1391.5,1302.3L1391.5,1307.8L1391.5,1319.8L1391.5,1320.9L1412.8,1133.5L1412.8,1141.8L1412.8,1148.8L1412.8,1159.7L1412.8,1174.5L1412.8,1189.4L1412.8,1281.3L1412.8,1286.5L1412.8,1301.5L1412.8,1311.4L1434.1,1108.9L1434.1,1115.2L1434.1,1117.1L1434.1,1120.1L1434.1,1121.8L1434.1,1123.8L1434.1,1130.2L1434.1,1140.0L1434.1,1148.6L1434.1,1154.2L1434.1,1163.2L1434.1,1265.7L1434.1,1277.2L1434.1,1290.2L1476.6,1080.6L1476.6,1140.4L1476.6,1189.1L1476.6,1239.5L1476.6,1242.8L1476.6,1250.0L1476.6,1257.1L1476.6,1258.6L1476.6,1281.3L1476.6,1285.1L1476.6,1289.8L1476.6,1294.2L1476.6,1299.6L1476.6,1303.0L1476.6,1308.4L1476.6,1321.6L1476.6,1325.3L1476.6,1326.1L1476.6,1331.7L1476.6,1333.2L1497.9,1017.4L1497.9,1025.7L1497.9,1078.3L1497.9,1123.1L1497.9,1208.2L1497.9,1212.9L1497.9,1228.0L1497.9,1237.2L1497.9,1240.2L1497.9,1254.9L1519.1,1002.6L1519.1,1117.5L1519.1,1134.5L1519.1,1204.5L1519.1,1207.4L1519.1,1225.3L1519.1,1248.3L1519.1,1282.0L1519.1,1284.5L1519.1,1332.9L1540.4,1005.5L1540.4,1045.9L1540.4,1168.4L1540.4,1175.4L1540.4,1179.0L1540.4,1193.5L1540.4,1210.8L1540.4,1214.1L1540.4,1271.3L1540.4,1273.5L1540.4,1312.6" marker-start="url(#m100)" marker-mid="url(#m100)" marker-end="url(#m100)"/><path d="M1306.5,1294.1L1349.0,1206.7L1349.0,1218.6L1349.0,1220.4L1349.0,1292.2L1349.0,1292.4L1349.0,1302.4L1349.0,1306.7L1349.0,1311.0L1370.3,1177.2L1370.3,1191.2L1370.3,1206.4L1391.5,1175.1L1391.5,1285.4L1391.5,1288.2L1412.8,1131.3L1412.8,1139.1L1412.8,1152.0L1412.8,1164.7L1412.8,1216.8L1412.8,1289.5L1412.8,1310.6L1412.8,1320.1L1412.8,1321.0L1412.8,1345.9L1434.1,1103.9L1434.1,1107.5L1434.1,1109.8L1434.1,1113.3L1434.1,1118.6L1434.1,1121.3L1434.1,1124.8L1434.1,1310.2L1476.6,1061.9L1476.6,1076.6L1476.6,1102.1L1476.6,1196.2L1476.6,1261.3L1476.6,1265.6L1476.6,1269.1L1476.6,1272.0L1476.6,1295.9L1476.6,1302.2L1476.6,1304.9L1476.6,1311.6L1476.6,1313.4L1476.6,1316.1L1476.6,1316.6L1476.6,1328.5L1497.9,1032.2L1497.9,1243.7L1497.9,1252.0L1497.9,1283.2L1497.9,1284.6L1497.9,1289.7L1497.9,1290.2L1497.9,1294.9L1497.9,1299.9L1519.1,1042.2L1519.1,1239.4L1519.1,1254.5L1519.1,1258.3L1519.1,1295.9L1519.1,1344.4L1540.4,992.0L1540.4,1008.4L1540.4,1168.2L1540.4,1191.4L1540.4,1196.2L1540.4,1332.9" marker-start="url(#m140)" marker-mid="url(#m140)" marker-end="url(#m140)"/><path d="M1349.0,1305.6L1412.8,1136.3L1412.8,1144.3L1412.8,1145.5L1412.8,1150.2L1412.8,1155.0L1412.8,1157.0L1412.8,1162.8L1434.1,1105.6L1434.1,1106.5L1434.1,1111.8L1434.1,1112.9L1434.1,1115.6L1476.6,1287.2L1476.6,1291.9L1476.6,1320.8L1497.9,1287.0L1497.9,1293.6L1497.9,1297.8L1497.9,1302.4L1519.1,992.5L1519.1,1244.1" marker-start="url(#m190)" marker-mid="url(#m190)" marker-end="url(#m190)"/><path d="M1349.0,1198.8L1349.0,1326.3L1349.0,1329.0L1349.0,1331.3L1370.3,1348.0L1370.3,1350.9L1370.3,1353.4L1391.5,1184.4L1412.8,1184.4L1434.1,1177.1L1476.6,1129.5L1497.9,1118.0L1497.9,1171.4L1519.1,1099.3L1519.1,1107.9L1519.1,1159.8L1519.1,1224.7L1519.1,1231.9L1540.4,1095.8L1540.4,1102.1L1540.4,1107.9L1540.4,1157.5L1540.4,1214.6L1540.4,1220.4" marker-start="url(#m370)" marker-mid="url(#m370)" marker-end="url(#m370)"/><path d="M1306.5,1195.5L1306.5,1202.0L1306.5,1206.6L1306.5,1212.8L1306.5,1216.2L1306.5,1281.0L1306.5,1295.4L1349.0,1216.6L1349.0,1218.7L1349.0,1219.5L1349.0,1237.7L1349.0,1242.9L1349.0,1334.3L1349.0,1338.7L1370.3,1229.1L1370.3,1233.4L1370.3,1258.5L1370.3,1325.7L1370.3,1341.0L1391.5,1234.0L1391.5,1242.9L1391.5,1266.6L1391.5,1321.4L1391.5,1335.8L1412.8,1249.2L1412.8,1259.3L1412.8,1273.8L1412.8,1282.4L1412.8,1330.6L1434.1,1253.6L1434.1,1269.4L1434.1,1284.4L1476.6,1259.3L1476.6,1282.4L1497.9,1271.7L1497.9,1340.1" marker-start="url(#m550)" marker-mid="url(#m550)" marker-end="url(#m550)"/></g>
<g clip-path="url(#cp25)" fill="none" stroke="none"><path d="M1596.7,1259.1L1596.7,1263.2L1596.7,1264.1L1596.7,1265.4L1596.7,1266.8L1596.7,1272.6L1596.7,1274.1L1596.7,1280.1L1596.7,1282.5L1596.7,1286.2L1596.7,1288.8L1596.7,1292.2L1596.7,1292.9L1596.7,1298.4L1639.2,1264.4L1639.2,1265.5L1639.2,1271.0L1639.2,1279.0L1639.2,1289.2L1639.2,1290.3L1660.5,1261.2L1660.5,1263.1L1660.5,1268.4L1660.5,1270.7L1660.5,1273.6L1660.5,1274.7L1660.5,1275.6L1660.5,1276.3L1660.5,1281.8L1660.5,1282.0L1681.8,1259.3L1681.8,1261.0L1681.8,1264.9L1681.8,1270.0L1681.8,1270.6L1681.8,1277.4L1703.0,1252.7L1703.0,1254.9L1703.0,1262.9L1703.0,1275.0L1703.0,1280.5L1724.3,1241.2L1724.3,1245.2L1724.3,1245.9L1724.3,1247.9L1724.3,1249.8L1724.3,1251.7L1724.3,1252.7L1724.3,1255.3L1724.3,1256.4L1724.3,1261.9L1724.3,1264.5L1724.3,1265.7L1724.3,1282.9L1724.3,1292.3L1724.3,1294.7L1724.3,1295.6L1724.3,1309.4L1766.8,1193.4L1766.8,1198.2L1766.8,1202.6L1766.8,1209.7L1766.8,1211.8L1766.8,1216.1L1766.8,1242.2L1766.8,1249.9L1766.8,1253.0L1766.8,1264.2L1766.8,1271.4L1766.8,1273.7L1766.8,1289.0L1766.8,1303.6L1766.8,1305.5L1788.1,1169.9L1788.1,1171.2L1788.1,1175.4L1788.1,1176.4L1788.1,1177.9L1788.1,1180.9L1788.1,1183.1L1788.1,1185.7L1788.1,1187.4L1788.1,1188.4L1788.1,1201.1L1788.1,1208.9L1788.1,1209.9L1788.1,1212.5L1788.1,1231.5L1788.1,1243.6L1788.1,1263.7L1788.1,1269.7L1788.1,1272.0L1788.1,1278.3L1788.1,1283.0L1788.1,1283.5L1788.1,1290.6L1788.1,1298.5L1788.1,1301.8L1809.4,1151.8L1809.4,1153.0L1809.4,1172.8L1809.4,1175.4L1809.4,1239.4L1809.4,1270.5L1809.4,1277.2L1809.4,1279.1L1809.4,1281.3L1809.4,1289.4L1809.4,1290.1L1809.4,1298.6L1809.4,1301.5L1830.6,1193.9L1830.6,1234.0L1830.6,1245.7L1830.6,1254.3L1830.6,1254.8L1830.6,1271.3L1830.6,1274.3L1830.6,1278.3L1830.6,1282.0L1830.6,1285.8" marker-start="url(#m10)" marker-mid="url(#m10)" marker-end="url(#m10)"/><path d="M1596.7,1261.3L1596.7,1262.4L1596.7,1275.1L1596.7,1275.6L1596.7,1277.9L1596.7,1279.5L1596.7,1281.8L1596.7,1295.7L1596.7,1296.5L1596.7,1297.2L1639.2,1271.7L1639.2,1274.6L1639.2,1277.2L1639.2,1278.1L1639.2,1283.5L1639.2,1284.7L1639.2,1286.9L1639.2,1293.3L1639.2,1294.6L1660.5,1263.6L1660.5,1267.7L1660.5,1269.1L1660.5,1278.0L1660.5,1278.8L1660.5,1280.1L1660.5,1283.4L1660.5,1288.0L1660.5,1289.1L1681.8,1258.5L1681.8,1262.4L1681.8,1267.8L1681.8,1268.7L1681.8,1274.2L1681.8,1279.1L1703.0,1250.4L1703.0,1253.8L1703.0,1255.3L1703.0,1256.3L1703.0,1257.7L1703.0,1264.3L1703.0,1265.9L1703.0,1271.9L1703.0,1274.8L1703.0,1276.2L1724.3,1250.0L1724.3,1258.5L1724.3,1268.3L1724.3,1272.2L1724.3,1275.0L1724.3,1297.9L1724.3,1300.9L1766.8,1195.8L1766.8,1200.1L1766.8,1205.0L1766.8,1205.9L1766.8,1214.3L1766.8,1219.0L1766.8,1237.7L1766.8,1240.0L1766.8,1256.6L1766.8,1283.0L1766.8,1287.2L1766.8,1296.8L1766.8,1302.5L1788.1,1184.0L1788.1,1191.0L1788.1,1191.5L1788.1,1194.9L1788.1,1200.2L1788.1,1204.2L1788.1,1205.5L1788.1,1206.9L1788.1,1208.5L1788.1,1235.7L1809.4,1157.5L1809.4,1161.6L1809.4,1163.7L1809.4,1166.6L1809.4,1177.7L1809.4,1183.4L1809.4,1229.8L1809.4,1257.9L1809.4,1283.5L1830.6,1143.1L1830.6,1242.3L1830.6,1260.0L1830.6,1273.7L1830.6,1280.8L1830.6,1291.5" marker-start="url(#m30)" marker-mid="url(#m30)" marker-end="url(#m30)"/><path d="M1596.7,1268.2L1596.7,1268.4L1596.7,1277.2L1596.7,1284.8L1596.7,1289.7L1596.7,1290.9L1639.2,1266.5L1639.2,1267.3L1639.2,1270.3L1639.2,1280.3L1639.2,1287.4L1660.5,1266.0L1660.5,1271.8L1660.5,1284.2L1660.5,1285.7L1660.5,1290.5L1660.5,1291.5L1681.8,1276.8L1703.0,1251.0L1703.0,1258.8L1703.0,1260.5L1703.0,1262.0L1703.0,1273.4L1724.3,1242.2L1724.3,1243.5L1724.3,1257.1L1724.3,1260.1L1724.3,1263.8L1724.3,1269.6L1724.3,1276.5L1724.3,1303.6L1766.8,1235.0L1766.8,1253.4L1766.8,1258.4L1766.8,1268.9L1766.8,1275.3L1766.8,1284.6L1766.8,1294.7L1766.8,1297.8L1788.1,1178.8L1788.1,1179.7L1788.1,1182.3L1788.1,1189.0L1788.1,1196.7L1788.1,1197.1L1788.1,1202.5L1788.1,1202.8L1788.1,1247.3L1788.1,1276.2L1788.1,1293.1L1788.1,1296.6L1788.1,1303.7L1788.1,1304.5L1809.4,1158.3L1809.4,1171.4L1809.4,1225.2L1809.4,1232.0L1809.4,1273.8L1809.4,1286.4L1809.4,1302.8L1830.6,1181.5L1830.6,1286.5L1830.6,1288.6L1830.6,1295.0L1830.6,1296.2" marker-start="url(#m60)" marker-mid="url(#m60)" marker-end="url(#m60)"/><path d="M1596.7,1258.7L1596.7,1270.1L1596.7,1271.2L1596.7,1287.7L1596.7,1294.4L1639.2,1263.0L1639.2,1268.8L1639.2,1273.6L1639.2,1275.3L1639.2,1282.1L1639.2,1290.6L1639.2,1298.2L1660.5,1264.9L1660.5,1286.8L1681.8,1264.6L1681.8,1272.3L1681.8,1273.1L1681.8,1275.3L1681.8,1279.9L1681.8,1281.7L1681.8,1289.8L1681.8,1302.2L1681.8,1305.3L1703.0,1240.7L1703.0,1247.6L1703.0,1265.3L1703.0,1267.9L1703.0,1269.9L1703.0,1271.2L1703.0,1277.4L1703.0,1278.7L1703.0,1294.6L1703.0,1300.3L1724.3,1236.2L1724.3,1254.0L1724.3,1261.2L1724.3,1278.9L1766.8,1244.8L1766.8,1248.0L1766.8,1261.5L1766.8,1265.3L1766.8,1278.4L1766.8,1292.7L1766.8,1307.3L1788.1,1172.6L1788.1,1212.0L1788.1,1214.3L1788.1,1280.3L1788.1,1289.8L1809.4,1168.6L1809.4,1275.8L1809.4,1294.1L1809.4,1295.3L1830.6,1152.6L1830.6,1250.7" marker-start="url(#m100)" marker-mid="url(#m100)" marker-end="url(#m100)"/><path d="M1596.7,1283.6L1639.2,1282.6L1639.2,1292.4L1660.5,1294.5L1681.8,1252.1L1681.8,1263.5L1681.8,1266.9L1681.8,1285.8L1681.8,1290.8L1681.8,1295.2L1681.8,1296.6L1681.8,1298.9L1681.8,1303.3L1703.0,1268.3L1703.0,1284.7L1703.0,1289.2L1703.0,1292.2L1703.0,1298.5L1703.0,1304.6L1724.3,1227.5L1724.3,1238.2L1724.3,1246.7L1724.3,1284.2L1724.3,1285.8L1724.3,1288.6L1724.3,1306.9L1766.8,1167.9L1766.8,1281.2L1788.1,1174.2L1788.1,1192.5L1788.1,1193.7L1788.1,1198.9L1788.1,1226.4L1788.1,1286.3L1809.4,1139.6L1809.4,1181.1L1830.6,1160.7" marker-start="url(#m140)" marker-mid="url(#m140)" marker-end="url(#m140)"/><path d="M1639.2,1297.9L1660.5,1298.3L1681.8,1283.9L1681.8,1309.2L1703.0,1282.0L1703.0,1287.0L1703.0,1297.1L1703.0,1305.3L1703.0,1309.2L1724.3,1231.0L1788.1,1150.6L1809.4,1120.9L1830.6,1168.5" marker-start="url(#m190)" marker-mid="url(#m190)" marker-end="url(#m190)"/><path d="M1596.7,1256.5L1639.2,1301.4L1639.2,1303.4L1639.2,1312.1L1639.2,1314.9L1639.2,1318.3L1639.2,1322.4L1660.5,1301.6L1660.5,1307.1L1660.5,1312.4L1660.5,1318.4L1660.5,1323.0L1724.3,1265.1L1766.8,1252.1L1766.8,1327.1L1766.8,1338.7L1788.1,1214.6L1788.1,1305.5L1788.1,1309.8L1788.1,1338.7L1809.4,1200.2L1809.4,1207.4L1809.4,1306.9L1809.4,1332.9L1830.6,1188.7L1830.6,1230.5L1830.6,1321.4L1830.6,1327.1" marker-start="url(#m370)" marker-mid="url(#m370)" marker-end="url(#m370)"/><path d="M1596.7,1278.1L1639.2,1307.3L1639.2,1311.9L1639.2,1316.6L1639.2,1321.6L1639.2,1324.2L1639.2,1329.8L1639.2,1333.7L1639.2,1336.6L1639.2,1343.4L1639.2,1345.3L1639.2,1348.7L1660.5,1310.7L1660.5,1317.5L1660.5,1320.2L1660.5,1326.7L1660.5,1331.0L1660.5,1334.8L1660.5,1339.1L1660.5,1343.7L1660.5,1347.0L1660.5,1355.1L1681.8,1309.8L1681.8,1338.4L1681.8,1340.7L1681.8,1346.0L1681.8,1364.6L1703.0,1309.8L1703.0,1341.5L1703.0,1348.8L1724.3,1318.5L1724.3,1344.0L1724.3,1347.8L1724.3,1352.0L1766.8,1312.7L1766.8,1350.8L1766.8,1352.8L1766.8,1356.9L1788.1,1317.0L1788.1,1353.1L1809.4,1312.7L1809.4,1341.5L1809.4,1351.6L1830.6,1312.7L1830.6,1334.3L1830.6,1354.5" marker-start="url(#m550)" marker-mid="url(#m550)" marker-end="url(#m550)"/></g>
<g clip-path="url(#cp00)" fill="none"><path d="M230.7,423.3L251.9,420.4L273.2,426.2L315.7,423.3L337.0,418.4L358.2,414.7L379.5,405.4" stroke="#4575b4" stroke-width="3.2" stroke-linejoin="round" stroke-linecap="round"/><path d="M230.7,427.7L251.9,427.7L273.2,430.5L315.7,430.5L337.0,429.1L358.2,433.4L379.5,437.8" stroke="#4d7db8" stroke-width="3.2" stroke-linejoin="round" stroke-linecap="round"/><path d="M230.7,430.5L251.9,430.5L273.2,432.8L315.7,427.7L337.0,426.2L358.2,425.4L379.5,420.4" stroke="#5e8ec1" stroke-width="3.2" stroke-linejoin="round" stroke-linecap="round"/><path d="M230.7,435.7L251.9,434.9L273.2,436.3L315.7,433.4L337.0,439.2L358.2,442.1L379.5,436.3" stroke="#6f9eca" stroke-width="3.2" stroke-linejoin="round" stroke-linecap="round"/><path d="M230.7,439.6L251.9,438.5L273.2,438.5L315.7,434.9L337.0,436.6L358.2,437.0L379.5,432.7" stroke="#80afd2" stroke-width="3.2" stroke-linejoin="round" stroke-linecap="round"/><path d="M230.7,443.5L251.9,442.1L273.2,440.6L315.7,436.3L337.0,434.0L358.2,432.0L379.5,429.1" stroke="#91bfdb" stroke-width="3.2" stroke-linejoin="round" stroke-linecap="round"/><path d="M209.4,447.8L230.7,455.1L251.9,450.7L273.2,447.8L315.7,447.3L337.0,450.7L358.2,450.7L379.5,453.0" stroke="#a3cbe1" stroke-width="3.2" stroke-linejoin="round" stroke-linecap="round"/><path d="M251.9,464.6L273.2,467.5L379.5,457.9" stroke="#b4d6e8" stroke-width="3.2" stroke-linejoin="round" stroke-linecap="round"/><path d="M230.7,418.1V428.5M251.9,414.1V426.8M273.2,420.4V432.0M315.7,416.1V430.5M337.0,408.3V428.5M358.2,404.6V424.8M379.5,393.9V417.0" stroke="#4575b4" stroke-width="1.6"/><path d="M230.7,423.3h0M251.9,420.4h0M273.2,426.2h0M315.7,423.3h0M337.0,418.4h0M358.2,414.7h0M379.5,405.4h0" stroke="#4575b4" stroke-width="10.4" stroke-linecap="round"/><path d="M230.7,421.9V433.4M251.9,421.9V433.4M273.2,424.8V436.3M315.7,424.8V436.3M337.0,423.3V434.9M358.2,427.7V439.2M379.5,432.0V443.5" stroke="#4d7db8" stroke-width="1.6"/><path d="M230.7,427.7h0M251.9,427.7h0M273.2,430.5h0M315.7,430.5h0M337.0,429.1h0M358.2,433.4h0M379.5,437.8h0" stroke="#4d7db8" stroke-width="10.4" stroke-linecap="round"/><path d="M230.7,425.4V435.7M251.9,425.4V435.7M273.2,427.7V438.0M315.7,422.5V432.8M337.0,421.0V431.4M358.2,420.2V430.5M379.5,415.3V425.6" stroke="#5e8ec1" stroke-width="1.6"/><path d="M230.7,430.5h0M251.9,430.5h0M273.2,432.8h0M315.7,427.7h0M337.0,426.2h0M358.2,425.4h0M379.5,420.4h0" stroke="#5e8ec1" stroke-width="10.4" stroke-linecap="round"/><path d="M230.7,430.0V441.5M251.9,429.1V440.6M273.2,430.5V442.1M315.7,427.7V439.2M337.0,433.4V445.0M358.2,436.3V447.8M379.5,430.5V442.1" stroke="#6f9eca" stroke-width="1.6"/><path d="M230.7,435.7h0M251.9,434.9h0M273.2,436.3h0M315.7,433.4h0M337.0,439.2h0M358.2,442.1h0M379.5,436.3h0" stroke="#6f9eca" stroke-width="10.4" stroke-linecap="round"/><path d="M230.7,434.6V444.7M251.9,433.4V443.5M273.2,433.4V443.5M315.7,429.8V439.9M337.0,431.6V441.6M358.2,432.0V442.1M379.5,427.7V437.8" stroke="#80afd2" stroke-width="1.6"/><path d="M230.7,439.6h0M251.9,438.5h0M273.2,438.5h0M315.7,434.9h0M337.0,436.6h0M358.2,437.0h0M379.5,432.7h0" stroke="#80afd2" stroke-width="10.4" stroke-linecap="round"/><path d="M230.7,439.2V447.8M251.9,437.8V446.4M273.2,436.3V445.0M315.7,432.0V440.6M337.0,429.7V438.3M358.2,427.7V436.3M379.5,424.8V433.4" stroke="#91bfdb" stroke-width="1.6"/><path d="M230.7,443.5h0M251.9,442.1h0M273.2,440.6h0M315.7,436.3h0M337.0,434.0h0M358.2,432.0h0M379.5,429.1h0" stroke="#91bfdb" stroke-width="10.4" stroke-linecap="round"/><path d="M209.4,442.7V453.0M230.7,449.9V460.3M251.9,445.5V455.9M273.2,442.7V453.0M315.7,442.1V452.5M337.0,445.5V455.9M358.2,445.5V455.9M379.5,447.8V458.2" stroke="#a3cbe1" stroke-width="1.6"/><path d="M209.4,447.8h0M230.7,455.1h0M251.9,450.7h0M273.2,447.8h0M315.7,447.3h0M337.0,450.7h0M358.2,450.7h0M379.5,453.0h0" stroke="#a3cbe1" stroke-width="10.4" stroke-linecap="round"/><path d="M358.2,458.2V470.9" stroke="#b4d6e8" stroke-width="1.6"/><path d="M251.9,463.7h0M315.7,470.3h0M337.0,466.6h0M358.2,464.6h0M379.5,458.8h0" stroke="#b4d6e8" stroke-width="10.4" stroke-linecap="round"/><path d="M221.4,418.1h18.6M221.4,428.5h18.6M242.6,414.1h18.6M242.6,426.8h18.6M263.9,420.4h18.6M263.9,432.0h18.6M306.4,416.1h18.6M306.4,430.5h18.6M327.7,408.3h18.6M327.7,428.5h18.6M348.9,404.6h18.6M348.9,424.8h18.6M370.2,393.9h18.6M370.2,417.0h18.6" stroke="#4575b4" stroke-width="1.6"/><path d="M221.4,421.9h18.6M221.4,433.4h18.6M242.6,421.9h18.6M242.6,433.4h18.6M263.9,424.8h18.6M263.9,436.3h18.6M306.4,424.8h18.6M306.4,436.3h18.6M327.7,423.3h18.6M327.7,434.9h18.6M348.9,427.7h18.6M348.9,439.2h18.6M370.2,432.0h18.6M370.2,443.5h18.6" stroke="#4d7db8" stroke-width="1.6"/><path d="M221.4,425.4h18.6M221.4,435.7h18.6M242.6,425.4h18.6M242.6,435.7h18.6M263.9,427.7h18.6M263.9,438.0h18.6M306.4,422.5h18.6M306.4,432.8h18.6M327.7,421.0h18.6M327.7,431.4h18.6M348.9,420.2h18.6M348.9,430.5h18.6M370.2,415.3h18.6M370.2,425.6h18.6" stroke="#5e8ec1" stroke-width="1.6"/><path d="M221.4,430.0h18.6M221.4,441.5h18.6M242.6,429.1h18.6M242.6,440.6h18.6M263.9,430.5h18.6M263.9,442.1h18.6M306.4,427.7h18.6M306.4,439.2h18.6M327.7,433.4h18.6M327.7,445.0h18.6M348.9,436.3h18.6M348.9,447.8h18.6M370.2,430.5h18.6M370.2,442.1h18.6" stroke="#6f9eca" stroke-width="1.6"/><path d="M221.4,434.6h18.6M221.4,444.7h18.6M242.6,433.4h18.6M242.6,443.5h18.6M263.9,433.4h18.6M263.9,443.5h18.6M306.4,429.8h18.6M306.4,439.9h18.6M327.7,431.6h18.6M327.7,441.6h18.6M348.9,432.0h18.6M348.9,442.1h18.6M370.2,427.7h18.6M370.2,437.8h18.6" stroke="#80afd2" stroke-width="1.6"/><path d="M221.4,439.2h18.6M221.4,447.8h18.6M242.6,437.8h18.6M242.6,446.4h18.6M263.9,436.3h18.6M263.9,445.0h18.6M306.4,432.0h18.6M306.4,440.6h18.6M327.7,429.7h18.6M327.7,438.3h18.6M348.9,427.7h18.6M348.9,436.3h18.6M370.2,424.8h18.6M370.2,433.4h18.6" stroke="#91bfdb" stroke-width="1.6"/><path d="M200.1,442.7h18.6M200.1,453.0h18.6M221.4,449.9h18.6M221.4,460.3h18.6M242.6,445.5h18.6M242.6,455.9h18.6M263.9,442.7h18.6M263.9,453.0h18.6M306.4,442.1h18.6M306.4,452.5h18.6M327.7,445.5h18.6M327.7,455.9h18.6M348.9,445.5h18.6M348.9,455.9h18.6M370.2,447.8h18.6M370.2,458.2h18.6" stroke="#a3cbe1" stroke-width="1.6"/><path d="M348.9,458.2h18.6M348.9,470.9h18.6" stroke="#b4d6e8" stroke-width="1.6"/></g>
<g clip-path="url(#cp01)" fill="none"><path d="M499.6,395.1L520.9,398.8L542.1,398.8L563.4,399.7L605.9,402.3L627.2,404.6L648.5,406.0L669.7,402.6" stroke="#4575b4" stroke-width="3.2" stroke-linejoin="round" stroke-linecap="round"/><path d="M563.4,399.7L605.9,387.3L627.2,382.1L648.5,380.1L669.7,367.1" stroke="#4979b6" stroke-width="3.2" stroke-linejoin="round" stroke-linecap="round"/><path d="M627.2,355.5L648.5,344.0L669.7,331.0" stroke="#4d7db8" stroke-width="3.2" stroke-linejoin="round" stroke-linecap="round"/><path d="M605.9,358.4L627.2,341.1L648.5,326.7L669.7,289.2" stroke="#5685bd" stroke-width="3.2" stroke-linejoin="round" stroke-linecap="round"/><path d="M542.1,387.3L563.4,375.7L605.9,346.9L627.2,323.8L648.5,309.4L669.7,282.0" stroke="#6f9eca" stroke-width="3.2" stroke-linejoin="round" stroke-linecap="round"/><path d="M542.1,388.7L563.4,377.9L605.9,351.2L627.2,331.0L648.5,316.6L669.7,291.4" stroke="#80afd2" stroke-width="3.2" stroke-linejoin="round" stroke-linecap="round"/><path d="M542.1,390.2L563.4,380.1L605.9,355.5L627.2,338.2L648.5,323.8L669.7,300.7" stroke="#91bfdb" stroke-width="3.2" stroke-linejoin="round" stroke-linecap="round"/><path d="M563.4,383.7L605.9,359.9L627.2,342.6L648.5,328.1L669.7,308.0" stroke="#a3cbe1" stroke-width="3.2" stroke-linejoin="round" stroke-linecap="round"/><path d="M563.4,387.3L605.9,364.2L627.2,346.9L648.5,332.5L669.7,315.2" stroke="#b4d6e8" stroke-width="3.2" stroke-linejoin="round" stroke-linecap="round"/><path d="M563.4,390.2L605.9,368.5L627.2,354.1L648.5,344.0L669.7,332.5" stroke="#cae5f0" stroke-width="3.2" stroke-linejoin="round" stroke-linecap="round"/><path d="M520.9,404.6L542.1,398.8L563.4,393.0L605.9,372.9L627.2,361.3L648.5,355.5L669.7,349.8" stroke="#e0f3f8" stroke-width="3.2" stroke-linejoin="round" stroke-linecap="round"/><path d="M499.6,434.0L669.7,429.1" stroke="#fee090" stroke-width="3.2" stroke-linejoin="round" stroke-linecap="round"/><path d="M499.6,391.6V398.5M520.9,395.4V402.3M542.1,395.4V402.3M563.4,396.2V403.1M605.9,398.8V405.7M627.2,401.1V408.0M648.5,402.6V409.5M669.7,399.1V406.0" stroke="#4575b4" stroke-width="1.6"/><path d="M499.6,395.1h0M520.9,398.8h0M542.1,398.8h0M563.4,399.7h0M605.9,402.3h0M627.2,404.6h0M648.5,406.0h0M669.7,402.6h0" stroke="#4575b4" stroke-width="10.4" stroke-linecap="round"/><path d="M563.4,395.4V404.0M605.9,383.0V391.6M627.2,377.8V386.4M648.5,375.7V384.4M669.7,362.8V371.4" stroke="#4979b6" stroke-width="1.6"/><path d="M563.4,399.7h0M605.9,387.3h0M627.2,382.1h0M648.5,380.1h0M669.7,367.1h0" stroke="#4979b6" stroke-width="10.4" stroke-linecap="round"/><path d="M627.2,348.3V362.8M648.5,336.8V351.2M669.7,323.8V338.2" stroke="#4d7db8" stroke-width="1.6"/><path d="M627.2,355.5h0M648.5,344.0h0M669.7,331.0h0" stroke="#4d7db8" stroke-width="10.4" stroke-linecap="round"/><path d="M605.9,351.2V365.6M627.2,333.9V348.3M648.5,319.5V333.9M669.7,282.0V296.4" stroke="#5685bd" stroke-width="1.6"/><path d="M605.9,358.4h0M627.2,341.1h0M648.5,326.7h0M669.7,289.2h0" stroke="#5685bd" stroke-width="10.4" stroke-linecap="round"/><path d="M542.1,380.1V394.5M563.4,368.5V383.0M605.9,339.7V354.1M627.2,316.6V331.0M648.5,302.2V316.6M669.7,274.8V289.2" stroke="#6f9eca" stroke-width="1.6"/><path d="M542.1,387.3h0M563.4,375.7h0M605.9,346.9h0M627.2,323.8h0M648.5,309.4h0M669.7,282.0h0" stroke="#6f9eca" stroke-width="10.4" stroke-linecap="round"/><path d="M542.1,381.9V395.5M563.4,371.1V384.7M605.9,344.4V358.0M627.2,324.3V337.8M648.5,309.8V323.4M669.7,284.6V298.2" stroke="#80afd2" stroke-width="1.6"/><path d="M542.1,388.7h0M563.4,377.9h0M605.9,351.2h0M627.2,331.0h0M648.5,316.6h0M669.7,291.4h0" stroke="#80afd2" stroke-width="10.4" stroke-linecap="round"/><path d="M542.1,383.8V396.5M563.4,373.7V386.4M605.9,349.2V361.9M627.2,331.9V344.6M648.5,317.5V330.2M669.7,294.4V307.1" stroke="#91bfdb" stroke-width="1.6"/><path d="M542.1,390.2h0M563.4,380.1h0M605.9,355.5h0M627.2,338.2h0M648.5,323.8h0M669.7,300.7h0" stroke="#91bfdb" stroke-width="10.4" stroke-linecap="round"/><path d="M563.4,377.3V390.0M605.9,353.5V366.2M627.2,336.2V348.9M648.5,321.8V334.5M669.7,301.6V314.3" stroke="#a3cbe1" stroke-width="1.6"/><path d="M563.4,383.7h0M605.9,359.9h0M627.2,342.6h0M648.5,328.1h0M669.7,308.0h0" stroke="#a3cbe1" stroke-width="10.4" stroke-linecap="round"/><path d="M563.4,380.9V393.6M605.9,357.9V370.5M627.2,340.6V353.2M648.5,326.1V338.8M669.7,308.8V321.5" stroke="#b4d6e8" stroke-width="1.6"/><path d="M563.4,387.3h0M605.9,364.2h0M627.2,346.9h0M648.5,332.5h0M669.7,315.2h0" stroke="#b4d6e8" stroke-width="10.4" stroke-linecap="round"/><path d="M563.4,384.1V396.2M605.9,362.5V374.6M627.2,348.1V360.2M648.5,338.0V350.1M669.7,326.4V338.5" stroke="#cae5f0" stroke-width="1.6"/><path d="M563.4,390.2h0M605.9,368.5h0M627.2,354.1h0M648.5,344.0h0M669.7,332.5h0" stroke="#cae5f0" stroke-width="10.4" stroke-linecap="round"/><path d="M520.9,398.8V410.4M542.1,393.0V404.6M563.4,387.3V398.8M605.9,367.1V378.6M627.2,355.5V367.1M648.5,349.8V361.3M669.7,344.0V355.5" stroke="#e0f3f8" stroke-width="1.6"/><path d="M520.9,404.6h0M542.1,398.8h0M563.4,393.0h0M605.9,372.9h0M627.2,361.3h0M648.5,355.5h0M669.7,349.8h0" stroke="#e0f3f8" stroke-width="10.4" stroke-linecap="round"/><path d="M499.6,420.2V436.3M520.9,430.5V450.7M542.1,420.4V452.2M563.4,421.0V447.0M605.9,403.7V447.0M627.2,403.1V455.1M648.5,432.3V439.2M669.7,425.6V432.6" stroke="#fee090" stroke-width="1.6"/><path d="M499.6,428.2h0M520.9,440.6h0M542.1,436.3h0M563.4,434.0h0M605.9,425.4h0M627.2,429.1h0M648.5,435.7h0M669.7,429.1h0" stroke="#fee090" stroke-width="10.4" stroke-linecap="round"/><path d="M499.6,474.7h0" stroke="#d73027" stroke-width="10.4" stroke-linecap="round"/><path d="M490.3,391.6h18.6M490.3,398.5h18.6M511.6,395.4h18.6M511.6,402.3h18.6M532.8,395.4h18.6M532.8,402.3h18.6M554.1,396.2h18.6M554.1,403.1h18.6M596.6,398.8h18.6M596.6,405.7h18.6M617.9,401.1h18.6M617.9,408.0h18.6M639.2,402.6h18.6M639.2,409.5h18.6M660.4,399.1h18.6M660.4,406.0h18.6" stroke="#4575b4" stroke-width="1.6"/><path d="M554.1,395.4h18.6M554.1,404.0h18.6M596.6,383.0h18.6M596.6,391.6h18.6M617.9,377.8h18.6M617.9,386.4h18.6M639.2,375.7h18.6M639.2,384.4h18.6M660.4,362.8h18.6M660.4,371.4h18.6" stroke="#4979b6" stroke-width="1.6"/><path d="M617.9,348.3h18.6M617.9,362.8h18.6M639.2,336.8h18.6M639.2,351.2h18.6M660.4,323.8h18.6M660.4,338.2h18.6" stroke="#4d7db8" stroke-width="1.6"/><path d="M596.6,351.2h18.6M596.6,365.6h18.6M617.9,333.9h18.6M617.9,348.3h18.6M639.2,319.5h18.6M639.2,333.9h18.6M660.4,282.0h18.6M660.4,296.4h18.6" stroke="#5685bd" stroke-width="1.6"/><path d="M532.8,380.1h18.6M532.8,394.5h18.6M554.1,368.5h18.6M554.1,383.0h18.6M596.6,339.7h18.6M596.6,354.1h18.6M617.9,316.6h18.6M617.9,331.0h18.6M639.2,302.2h18.6M639.2,316.6h18.6M660.4,274.8h18.6M660.4,289.2h18.6" stroke="#6f9eca" stroke-width="1.6"/><path d="M532.8,381.9h18.6M532.8,395.5h18.6M554.1,371.1h18.6M554.1,384.7h18.6M596.6,344.4h18.6M596.6,358.0h18.6M617.9,324.3h18.6M617.9,337.8h18.6M639.2,309.8h18.6M639.2,323.4h18.6M660.4,284.6h18.6M660.4,298.2h18.6" stroke="#80afd2" stroke-width="1.6"/><path d="M532.8,383.8h18.6M532.8,396.5h18.6M554.1,373.7h18.6M554.1,386.4h18.6M596.6,349.2h18.6M596.6,361.9h18.6M617.9,331.9h18.6M617.9,344.6h18.6M639.2,317.5h18.6M639.2,330.2h18.6M660.4,294.4h18.6M660.4,307.1h18.6" stroke="#91bfdb" stroke-width="1.6"/><path d="M554.1,377.3h18.6M554.1,390.0h18.6M596.6,353.5h18.6M596.6,366.2h18.6M617.9,336.2h18.6M617.9,348.9h18.6M639.2,321.8h18.6M639.2,334.5h18.6M660.4,301.6h18.6M660.4,314.3h18.6" stroke="#a3cbe1" stroke-width="1.6"/><path d="M554.1,380.9h18.6M554.1,393.6h18.6M596.6,357.9h18.6M596.6,370.5h18.6M617.9,340.6h18.6M617.9,353.2h18.6M639.2,326.1h18.6M639.2,338.8h18.6M660.4,308.8h18.6M660.4,321.5h18.6" stroke="#b4d6e8" stroke-width="1.6"/><path d="M554.1,384.1h18.6M554.1,396.2h18.6M596.6,362.5h18.6M596.6,374.6h18.6M617.9,348.1h18.6M617.9,360.2h18.6M639.2,338.0h18.6M639.2,350.1h18.6M660.4,326.4h18.6M660.4,338.5h18.6" stroke="#cae5f0" stroke-width="1.6"/><path d="M511.6,398.8h18.6M511.6,410.4h18.6M532.8,393.0h18.6M532.8,404.6h18.6M554.1,387.3h18.6M554.1,398.8h18.6M596.6,367.1h18.6M596.6,378.6h18.6M617.9,355.5h18.6M617.9,367.1h18.6M639.2,349.8h18.6M639.2,361.3h18.6M660.4,344.0h18.6M660.4,355.5h18.6" stroke="#e0f3f8" stroke-width="1.6"/><path d="M490.3,420.2h18.6M490.3,436.3h18.6M511.6,430.5h18.6M511.6,450.7h18.6M532.8,420.4h18.6M532.8,452.2h18.6M554.1,421.0h18.6M554.1,447.0h18.6M596.6,403.7h18.6M596.6,447.0h18.6M617.9,403.1h18.6M617.9,455.1h18.6M639.2,432.3h18.6M639.2,439.2h18.6M660.4,425.6h18.6M660.4,432.6h18.6" stroke="#fee090" stroke-width="1.6"/><path d="M490.3,451.3h18.6" stroke="#d73027" stroke-width="1.6"/></g>
<g clip-path="url(#cp02)" fill="none"><path d="M789.8,408.0L811.1,406.0L832.4,408.9L853.6,407.5L896.2,410.4L917.4,408.9L938.7,410.4L960.0,406.0" stroke="#4575b4" stroke-width="3.2" stroke-linejoin="round" stroke-linecap="round"/><path d="M789.8,410.4L811.1,410.4L832.4,411.8L853.6,410.4L896.2,411.8L917.4,413.2L938.7,414.7L960.0,414.7" stroke="#5281ba" stroke-width="3.2" stroke-linejoin="round" stroke-linecap="round"/><path d="M789.8,413.2L811.1,413.2L832.4,414.7L853.6,413.2L896.2,413.2L917.4,411.8L938.7,413.2L960.0,410.4" stroke="#6796c5" stroke-width="3.2" stroke-linejoin="round" stroke-linecap="round"/><path d="M789.8,419.0L811.1,420.4L832.4,421.9L853.6,421.2L896.2,421.9L917.4,421.9L938.7,422.6L960.0,420.4" stroke="#7caad0" stroke-width="3.2" stroke-linejoin="round" stroke-linecap="round"/><path d="M789.8,424.8L811.1,427.7L832.4,429.1L853.6,429.1L896.2,430.5L917.4,432.0L938.7,432.0L960.0,430.5" stroke="#91bfdb" stroke-width="3.2" stroke-linejoin="round" stroke-linecap="round"/><path d="M789.8,427.7L811.1,432.0L832.4,434.1L853.6,434.9L896.2,438.5L917.4,441.6L938.7,446.0L960.0,440.6" stroke="#a3cbe1" stroke-width="3.2" stroke-linejoin="round" stroke-linecap="round"/><path d="M789.8,430.5L811.1,436.3L832.4,439.2L853.6,440.6L896.2,446.4L917.4,451.3L938.7,460.0L960.0,450.7" stroke="#b4d6e8" stroke-width="3.2" stroke-linejoin="round" stroke-linecap="round"/><path d="M789.8,433.4L811.1,444.2L832.4,452.5" stroke="#cae5f0" stroke-width="3.2" stroke-linejoin="round" stroke-linecap="round"/><path d="M789.8,436.3L811.1,452.2L832.4,465.7" stroke="#e0f3f8" stroke-width="3.2" stroke-linejoin="round" stroke-linecap="round"/><path d="M789.8,400.8V415.3M811.1,398.8V413.2M832.4,401.7V416.1M853.6,400.3V414.7M896.2,403.1V417.6M917.4,401.7V416.1M938.7,403.1V417.6M960.0,398.8V413.2" stroke="#4575b4" stroke-width="1.6"/><path d="M789.8,408.0h0M811.1,406.0h0M832.4,408.9h0M853.6,407.5h0M896.2,410.4h0M917.4,408.9h0M938.7,410.4h0M960.0,406.0h0" stroke="#4575b4" stroke-width="10.4" stroke-linecap="round"/><path d="M789.8,403.1V417.6M811.1,403.1V417.6M832.4,404.6V419.0M853.6,403.1V417.6M896.2,404.6V419.0M917.4,406.0V420.4M938.7,407.5V421.9M960.0,407.5V421.9" stroke="#5281ba" stroke-width="1.6"/><path d="M789.8,410.4h0M811.1,410.4h0M832.4,411.8h0M853.6,410.4h0M896.2,411.8h0M917.4,413.2h0M938.7,414.7h0M960.0,414.7h0" stroke="#5281ba" stroke-width="10.4" stroke-linecap="round"/><path d="M789.8,406.0V420.4M811.1,406.0V420.4M832.4,407.5V421.9M853.6,406.0V420.4M896.2,406.0V420.4M917.4,404.6V419.0M938.7,406.0V420.4M960.0,403.1V417.6" stroke="#6796c5" stroke-width="1.6"/><path d="M789.8,413.2h0M811.1,413.2h0M832.4,414.7h0M853.6,413.2h0M896.2,413.2h0M917.4,411.8h0M938.7,413.2h0M960.0,410.4h0" stroke="#6796c5" stroke-width="10.4" stroke-linecap="round"/><path d="M789.8,411.1V426.9M811.1,412.5V428.4M832.4,414.0V429.8M853.6,413.2V429.1M896.2,414.0V429.8M917.4,414.0V429.8M938.7,414.7V430.5M960.0,412.5V428.4" stroke="#7caad0" stroke-width="1.6"/><path d="M789.8,419.0h0M811.1,420.4h0M832.4,421.9h0M853.6,421.2h0M896.2,421.9h0M917.4,421.9h0M938.7,422.6h0M960.0,420.4h0" stroke="#7caad0" stroke-width="10.4" stroke-linecap="round"/><path d="M789.8,416.1V433.4M811.1,419.0V436.3M832.4,420.4V437.8M853.6,420.4V437.8M896.2,421.9V439.2M917.4,423.3V440.6M938.7,423.3V440.6M960.0,421.9V439.2" stroke="#91bfdb" stroke-width="1.6"/><path d="M789.8,424.8h0M811.1,427.7h0M832.4,429.1h0M853.6,429.1h0M896.2,430.5h0M917.4,432.0h0M938.7,432.0h0M960.0,430.5h0" stroke="#91bfdb" stroke-width="10.4" stroke-linecap="round"/><path d="M789.8,419.0V436.3M811.1,423.3V440.6M832.4,425.5V442.8M853.6,426.2V443.5M896.2,429.8V447.1M917.4,433.0V450.3M938.7,437.3V454.6M960.0,432.0V449.3" stroke="#a3cbe1" stroke-width="1.6"/><path d="M789.8,427.7h0M811.1,432.0h0M832.4,434.1h0M853.6,434.9h0M896.2,438.5h0M917.4,441.6h0M938.7,446.0h0M960.0,440.6h0" stroke="#a3cbe1" stroke-width="10.4" stroke-linecap="round"/><path d="M789.8,421.9V439.2M811.1,427.7V445.0M832.4,430.5V447.8M853.6,432.0V449.3M896.2,437.8V455.1M917.4,442.7V460.0M938.7,451.3V468.6M960.0,442.1V459.4" stroke="#b4d6e8" stroke-width="1.6"/><path d="M789.8,430.5h0M811.1,436.3h0M832.4,439.2h0M853.6,440.6h0M896.2,446.4h0M917.4,451.3h0M938.7,460.0h0M960.0,450.7h0" stroke="#b4d6e8" stroke-width="10.4" stroke-linecap="round"/><path d="M789.8,424.8V442.1M811.1,435.6V452.9M832.4,443.8V461.1" stroke="#cae5f0" stroke-width="1.6"/><path d="M789.8,433.4h0M811.1,444.2h0M832.4,452.5h0" stroke="#cae5f0" stroke-width="10.4" stroke-linecap="round"/><path d="M789.8,427.7V445.0M811.1,443.5V460.8M832.4,457.1V474.4" stroke="#e0f3f8" stroke-width="1.6"/><path d="M789.8,436.3h0M811.1,452.2h0M832.4,465.7h0" stroke="#e0f3f8" stroke-width="10.4" stroke-linecap="round"/><path d="M780.5,400.8h18.6M780.5,415.3h18.6M801.8,398.8h18.6M801.8,413.2h18.6M823.1,401.7h18.6M823.1,416.1h18.6M844.3,400.3h18.6M844.3,414.7h18.6M886.9,403.1h18.6M886.9,417.6h18.6M908.1,401.7h18.6M908.1,416.1h18.6M929.4,403.1h18.6M929.4,417.6h18.6M950.7,398.8h18.6M950.7,413.2h18.6" stroke="#4575b4" stroke-width="1.6"/><path d="M780.5,403.1h18.6M780.5,417.6h18.6M801.8,403.1h18.6M801.8,417.6h18.6M823.1,404.6h18.6M823.1,419.0h18.6M844.3,403.1h18.6M844.3,417.6h18.6M886.9,404.6h18.6M886.9,419.0h18.6M908.1,406.0h18.6M908.1,420.4h18.6M929.4,407.5h18.6M929.4,421.9h18.6M950.7,407.5h18.6M950.7,421.9h18.6" stroke="#5281ba" stroke-width="1.6"/><path d="M780.5,406.0h18.6M780.5,420.4h18.6M801.8,406.0h18.6M801.8,420.4h18.6M823.1,407.5h18.6M823.1,421.9h18.6M844.3,406.0h18.6M844.3,420.4h18.6M886.9,406.0h18.6M886.9,420.4h18.6M908.1,404.6h18.6M908.1,419.0h18.6M929.4,406.0h18.6M929.4,420.4h18.6M950.7,403.1h18.6M950.7,417.6h18.6" stroke="#6796c5" stroke-width="1.6"/><path d="M780.5,411.1h18.6M780.5,426.9h18.6M801.8,412.5h18.6M801.8,428.4h18.6M823.1,414.0h18.6M823.1,429.8h18.6M844.3,413.2h18.6M844.3,429.1h18.6M886.9,414.0h18.6M886.9,429.8h18.6M908.1,414.0h18.6M908.1,429.8h18.6M929.4,414.7h18.6M929.4,430.5h18.6M950.7,412.5h18.6M950.7,428.4h18.6" stroke="#7caad0" stroke-width="1.6"/><path d="M780.5,416.1h18.6M780.5,433.4h18.6M801.8,419.0h18.6M801.8,436.3h18.6M823.1,420.4h18.6M823.1,437.8h18.6M844.3,420.4h18.6M844.3,437.8h18.6M886.9,421.9h18.6M886.9,439.2h18.6M908.1,423.3h18.6M908.1,440.6h18.6M929.4,423.3h18.6M929.4,440.6h18.6M950.7,421.9h18.6M950.7,439.2h18.6" stroke="#91bfdb" stroke-width="1.6"/><path d="M780.5,419.0h18.6M780.5,436.3h18.6M801.8,423.3h18.6M801.8,440.6h18.6M823.1,425.5h18.6M823.1,442.8h18.6M844.3,426.2h18.6M844.3,443.5h18.6M886.9,429.8h18.6M886.9,447.1h18.6M908.1,433.0h18.6M908.1,450.3h18.6M929.4,437.3h18.6M929.4,454.6h18.6M950.7,432.0h18.6M950.7,449.3h18.6" stroke="#a3cbe1" stroke-width="1.6"/><path d="M780.5,421.9h18.6M780.5,439.2h18.6M801.8,427.7h18.6M801.8,445.0h18.6M823.1,430.5h18.6M823.1,447.8h18.6M844.3,432.0h18.6M844.3,449.3h18.6M886.9,437.8h18.6M886.9,455.1h18.6M908.1,442.7h18.6M908.1,460.0h18.6M929.4,451.3h18.6M929.4,468.6h18.6M950.7,442.1h18.6M950.7,459.4h18.6" stroke="#b4d6e8" stroke-width="1.6"/><path d="M780.5,424.8h18.6M780.5,442.1h18.6M801.8,435.6h18.6M801.8,452.9h18.6M823.1,443.8h18.6M823.1,461.1h18.6" stroke="#cae5f0" stroke-width="1.6"/><path d="M780.5,427.7h18.6M780.5,445.0h18.6M801.8,443.5h18.6M801.8,460.8h18.6M823.1,457.1h18.6M823.1,474.4h18.6" stroke="#e0f3f8" stroke-width="1.6"/><path d="M780.5,470.9h18.6" stroke="#fee090" stroke-width="1.6"/></g>
<g clip-path="url(#cp03)" fill="none"><path d="M1101.3,393.0L1122.6,393.0L1143.9,394.5L1186.4,401.7L1207.6,403.1L1228.9,407.5L1250.2,408.0" stroke="#4575b4" stroke-width="3.2" stroke-linejoin="round" stroke-linecap="round"/><path d="M1101.3,394.5L1122.6,391.6L1143.9,393.0L1186.4,384.4L1207.6,383.0L1228.9,381.5L1250.2,378.6" stroke="#5281ba" stroke-width="3.2" stroke-linejoin="round" stroke-linecap="round"/><path d="M1080.1,401.7L1101.3,398.8L1122.6,395.9L1143.9,395.9L1186.4,387.3L1207.6,384.4L1228.9,383.0L1250.2,375.7" stroke="#6f9eca" stroke-width="3.2" stroke-linejoin="round" stroke-linecap="round"/><path d="M1080.1,403.1L1101.3,401.7L1122.6,398.8L1143.9,397.4L1186.4,387.3L1207.6,383.7L1228.9,381.5L1250.2,375.0" stroke="#80afd2" stroke-width="3.2" stroke-linejoin="round" stroke-linecap="round"/><path d="M1080.1,404.6L1101.3,404.6L1122.6,401.7L1143.9,398.8L1186.4,387.3L1207.6,383.0L1228.9,380.1L1250.2,374.3" stroke="#91bfdb" stroke-width="3.2" stroke-linejoin="round" stroke-linecap="round"/><path d="M1080.1,405.3L1101.3,406.0L1122.6,403.1L1143.9,400.3L1186.4,393.0L1207.6,390.9L1228.9,389.4L1250.2,386.6" stroke="#a3cbe1" stroke-width="3.2" stroke-linejoin="round" stroke-linecap="round"/><path d="M1080.1,406.0L1101.3,407.5L1122.6,404.6L1143.9,401.7L1186.4,398.8L1207.6,398.8L1228.9,398.8L1250.2,398.8" stroke="#b4d6e8" stroke-width="3.2" stroke-linejoin="round" stroke-linecap="round"/><path d="M1080.1,414.2L1101.3,415.4L1122.6,415.4L1143.9,414.0L1186.4,410.6L1207.6,411.1L1228.9,411.1L1250.2,409.6" stroke="#cae5f0" stroke-width="3.2" stroke-linejoin="round" stroke-linecap="round"/><path d="M1080.1,422.5L1101.3,423.3L1122.6,426.2L1143.9,426.2L1186.4,422.5L1207.6,423.3L1228.9,423.3L1250.2,420.4" stroke="#e0f3f8" stroke-width="3.2" stroke-linejoin="round" stroke-linecap="round"/><path d="M1080.1,436.3L1101.3,445.8L1122.6,452.2L1143.9,464.6" stroke="#fee090" stroke-width="3.2" stroke-linejoin="round" stroke-linecap="round"/><path d="M1101.3,384.4V401.7M1122.6,384.4V401.7M1143.9,385.8V403.1M1186.4,393.0V410.4M1207.6,394.5V411.8M1228.9,398.8V416.1M1250.2,399.4V416.7" stroke="#4575b4" stroke-width="1.6"/><path d="M1101.3,393.0h0M1122.6,393.0h0M1143.9,394.5h0M1186.4,401.7h0M1207.6,403.1h0M1228.9,407.5h0M1250.2,408.0h0" stroke="#4575b4" stroke-width="10.4" stroke-linecap="round"/><path d="M1101.3,385.8V403.1M1122.6,383.0V400.3M1143.9,384.4V401.7M1186.4,375.7V393.0M1207.6,374.3V391.6M1228.9,372.9V390.2M1250.2,370.0V387.3" stroke="#5281ba" stroke-width="1.6"/><path d="M1101.3,394.5h0M1122.6,391.6h0M1143.9,393.0h0M1186.4,384.4h0M1207.6,383.0h0M1228.9,381.5h0M1250.2,378.6h0" stroke="#5281ba" stroke-width="10.4" stroke-linecap="round"/><path d="M1080.1,391.6V411.8M1101.3,388.7V408.9M1122.6,385.8V406.0M1143.9,385.8V406.0M1186.4,377.2V397.4M1207.6,374.3V394.5M1228.9,372.9V393.0M1250.2,365.6V385.8" stroke="#6f9eca" stroke-width="1.6"/><path d="M1080.1,401.7h0M1101.3,398.8h0M1122.6,395.9h0M1143.9,395.9h0M1186.4,387.3h0M1207.6,384.4h0M1228.9,383.0h0M1250.2,375.7h0" stroke="#6f9eca" stroke-width="10.4" stroke-linecap="round"/><path d="M1080.1,392.3V414.0M1101.3,390.9V412.5M1122.6,388.0V409.6M1143.9,386.6V408.2M1186.4,376.5V398.1M1207.6,372.9V394.5M1228.9,370.7V392.3M1250.2,364.2V385.8" stroke="#80afd2" stroke-width="1.6"/><path d="M1080.1,403.1h0M1101.3,401.7h0M1122.6,398.8h0M1143.9,397.4h0M1186.4,387.3h0M1207.6,383.7h0M1228.9,381.5h0M1250.2,375.0h0" stroke="#80afd2" stroke-width="10.4" stroke-linecap="round"/><path d="M1080.1,393.0V416.1M1101.3,393.0V416.1M1122.6,390.2V413.2M1143.9,387.3V410.4M1186.4,375.7V398.8M1207.6,371.4V394.5M1228.9,368.5V391.6M1250.2,362.8V385.8" stroke="#91bfdb" stroke-width="1.6"/><path d="M1080.1,404.6h0M1101.3,404.6h0M1122.6,401.7h0M1143.9,398.8h0M1186.4,387.3h0M1207.6,383.0h0M1228.9,380.1h0M1250.2,374.3h0" stroke="#91bfdb" stroke-width="10.4" stroke-linecap="round"/><path d="M1080.1,395.2V415.4M1101.3,395.9V416.1M1122.6,393.0V413.2M1143.9,390.2V410.4M1186.4,383.0V403.1M1207.6,380.8V401.0M1228.9,379.3V399.5M1250.2,376.5V396.7" stroke="#a3cbe1" stroke-width="1.6"/><path d="M1080.1,405.3h0M1101.3,406.0h0M1122.6,403.1h0M1143.9,400.3h0M1186.4,393.0h0M1207.6,390.9h0M1228.9,389.4h0M1250.2,386.6h0" stroke="#a3cbe1" stroke-width="10.4" stroke-linecap="round"/><path d="M1080.1,397.4V414.7M1101.3,398.8V416.1M1122.6,395.9V413.2M1143.9,393.0V410.4M1186.4,390.2V407.5M1207.6,390.2V407.5M1228.9,390.2V407.5M1250.2,390.2V407.5" stroke="#b4d6e8" stroke-width="1.6"/><path d="M1080.1,406.0h0M1101.3,407.5h0M1122.6,404.6h0M1143.9,401.7h0M1186.4,398.8h0M1207.6,398.8h0M1228.9,398.8h0M1250.2,398.8h0" stroke="#b4d6e8" stroke-width="10.4" stroke-linecap="round"/><path d="M1080.1,405.6V422.9M1101.3,406.7V424.1M1122.6,405.3V425.5M1143.9,402.4V425.5M1186.4,397.7V423.6M1207.6,398.1V424.1M1228.9,398.1V424.1M1250.2,395.2V424.1" stroke="#cae5f0" stroke-width="1.6"/><path d="M1080.1,414.2h0M1101.3,415.4h0M1122.6,415.4h0M1143.9,414.0h0M1186.4,410.6h0M1207.6,411.1h0M1228.9,411.1h0M1250.2,409.6h0" stroke="#cae5f0" stroke-width="10.4" stroke-linecap="round"/><path d="M1080.1,413.8V431.1M1101.3,414.7V432.0M1122.6,414.7V437.8M1143.9,411.8V440.6M1186.4,405.2V439.8M1207.6,406.0V440.6M1228.9,406.0V440.6M1250.2,400.3V440.6" stroke="#e0f3f8" stroke-width="1.6"/><path d="M1080.1,422.5h0M1101.3,423.3h0M1122.6,426.2h0M1143.9,426.2h0M1186.4,422.5h0M1207.6,423.3h0M1228.9,423.3h0M1250.2,420.4h0" stroke="#e0f3f8" stroke-width="10.4" stroke-linecap="round"/><path d="M1080.1,432.8V439.8M1101.3,438.6V453.0M1122.6,445.0V459.4" stroke="#fee090" stroke-width="1.6"/><path d="M1080.1,436.3h0M1101.3,445.8h0M1122.6,452.2h0M1143.9,464.6h0" stroke="#fee090" stroke-width="10.4" stroke-linecap="round"/><path d="M1092.0,384.4h18.6M1092.0,401.7h18.6M1113.3,384.4h18.6M1113.3,401.7h18.6M1134.6,385.8h18.6M1134.6,403.1h18.6M1177.1,393.0h18.6M1177.1,410.4h18.6M1198.3,394.5h18.6M1198.3,411.8h18.6M1219.6,398.8h18.6M1219.6,416.1h18.6M1240.9,399.4h18.6M1240.9,416.7h18.6" stroke="#4575b4" stroke-width="1.6"/><path d="M1092.0,385.8h18.6M1092.0,403.1h18.6M1113.3,383.0h18.6M1113.3,400.3h18.6M1134.6,384.4h18.6M1134.6,401.7h18.6M1177.1,375.7h18.6M1177.1,393.0h18.6M1198.3,374.3h18.6M1198.3,391.6h18.6M1219.6,372.9h18.6M1219.6,390.2h18.6M1240.9,370.0h18.6M1240.9,387.3h18.6" stroke="#5281ba" stroke-width="1.6"/><path d="M1070.8,391.6h18.6M1070.8,411.8h18.6M1092.0,388.7h18.6M1092.0,408.9h18.6M1113.3,385.8h18.6M1113.3,406.0h18.6M1134.6,385.8h18.6M1134.6,406.0h18.6M1177.1,377.2h18.6M1177.1,397.4h18.6M1198.3,374.3h18.6M1198.3,394.5h18.6M1219.6,372.9h18.6M1219.6,393.0h18.6M1240.9,365.6h18.6M1240.9,385.8h18.6" stroke="#6f9eca" stroke-width="1.6"/><path d="M1070.8,392.3h18.6M1070.8,414.0h18.6M1092.0,390.9h18.6M1092.0,412.5h18.6M1113.3,388.0h18.6M1113.3,409.6h18.6M1134.6,386.6h18.6M1134.6,408.2h18.6M1177.1,376.5h18.6M1177.1,398.1h18.6M1198.3,372.9h18.6M1198.3,394.5h18.6M1219.6,370.7h18.6M1219.6,392.3h18.6M1240.9,364.2h18.6M1240.9,385.8h18.6" stroke="#80afd2" stroke-width="1.6"/><path d="M1070.8,393.0h18.6M1070.8,416.1h18.6M1092.0,393.0h18.6M1092.0,416.1h18.6M1113.3,390.2h18.6M1113.3,413.2h18.6M1134.6,387.3h18.6M1134.6,410.4h18.6M1177.1,375.7h18.6M1177.1,398.8h18.6M1198.3,371.4h18.6M1198.3,394.5h18.6M1219.6,368.5h18.6M1219.6,391.6h18.6M1240.9,362.8h18.6M1240.9,385.8h18.6" stroke="#91bfdb" stroke-width="1.6"/><path d="M1070.8,395.2h18.6M1070.8,415.4h18.6M1092.0,395.9h18.6M1092.0,416.1h18.6M1113.3,393.0h18.6M1113.3,413.2h18.6M1134.6,390.2h18.6M1134.6,410.4h18.6M1177.1,383.0h18.6M1177.1,403.1h18.6M1198.3,380.8h18.6M1198.3,401.0h18.6M1219.6,379.3h18.6M1219.6,399.5h18.6M1240.9,376.5h18.6M1240.9,396.7h18.6" stroke="#a3cbe1" stroke-width="1.6"/><path d="M1070.8,397.4h18.6M1070.8,414.7h18.6M1092.0,398.8h18.6M1092.0,416.1h18.6M1113.3,395.9h18.6M1113.3,413.2h18.6M1134.6,393.0h18.6M1134.6,410.4h18.6M1177.1,390.2h18.6M1177.1,407.5h18.6M1198.3,390.2h18.6M1198.3,407.5h18.6M1219.6,390.2h18.6M1219.6,407.5h18.6M1240.9,390.2h18.6M1240.9,407.5h18.6" stroke="#b4d6e8" stroke-width="1.6"/><path d="M1070.8,405.6h18.6M1070.8,422.9h18.6M1092.0,406.7h18.6M1092.0,424.1h18.6M1113.3,405.3h18.6M1113.3,425.5h18.6M1134.6,402.4h18.6M1134.6,425.5h18.6M1177.1,397.7h18.6M1177.1,423.6h18.6M1198.3,398.1h18.6M1198.3,424.1h18.6M1219.6,398.1h18.6M1219.6,424.1h18.6M1240.9,395.2h18.6M1240.9,424.1h18.6" stroke="#cae5f0" stroke-width="1.6"/><path d="M1070.8,413.8h18.6M1070.8,431.1h18.6M1092.0,414.7h18.6M1092.0,432.0h18.6M1113.3,414.7h18.6M1113.3,437.8h18.6M1134.6,411.8h18.6M1134.6,440.6h18.6M1177.1,405.2h18.6M1177.1,439.8h18.6M1198.3,406.0h18.6M1198.3,440.6h18.6M1219.6,406.0h18.6M1219.6,440.6h18.6M1240.9,400.3h18.6M1240.9,440.6h18.6" stroke="#e0f3f8" stroke-width="1.6"/><path d="M1070.8,432.8h18.6M1070.8,439.8h18.6M1092.0,438.6h18.6M1092.0,453.0h18.6M1113.3,445.0h18.6M1113.3,459.4h18.6M1177.1,462.3h18.6" stroke="#fee090" stroke-width="1.6"/></g>
<g clip-path="url(#cp04)" fill="none"><path d="M1391.5,397.4L1412.8,397.4L1434.1,398.8L1476.6,401.7L1497.9,403.1L1519.1,404.6L1540.4,406.0" stroke="#4575b4" stroke-width="3.2" stroke-linejoin="round" stroke-linecap="round"/><path d="M1391.5,397.4L1412.8,398.8L1434.1,400.3L1476.6,398.8L1497.9,395.9L1519.1,393.0L1540.4,387.3" stroke="#5281ba" stroke-width="3.2" stroke-linejoin="round" stroke-linecap="round"/><path d="M1370.3,413.2L1391.5,411.8L1412.8,404.6L1434.1,403.1L1476.6,401.7L1497.9,394.5L1519.1,388.7L1540.4,381.5" stroke="#6f9eca" stroke-width="3.2" stroke-linejoin="round" stroke-linecap="round"/><path d="M1391.5,414.0L1412.8,408.9L1434.1,407.5L1476.6,406.7L1497.9,402.4L1519.1,398.8L1540.4,394.5" stroke="#80afd2" stroke-width="3.2" stroke-linejoin="round" stroke-linecap="round"/><path d="M1391.5,416.1L1412.8,413.2L1434.1,411.8L1476.6,411.8L1497.9,410.4L1519.1,408.9L1540.4,407.5" stroke="#91bfdb" stroke-width="3.2" stroke-linejoin="round" stroke-linecap="round"/><path d="M1391.5,418.3L1412.8,416.8L1434.1,416.1L1476.6,415.4L1497.9,415.4L1519.1,414.0L1540.4,411.8" stroke="#a3cbe1" stroke-width="3.2" stroke-linejoin="round" stroke-linecap="round"/><path d="M1370.3,423.3L1391.5,420.4L1412.8,420.4L1434.1,420.4L1476.6,419.0L1497.9,420.4L1519.1,419.0L1540.4,416.1" stroke="#b4d6e8" stroke-width="3.2" stroke-linejoin="round" stroke-linecap="round"/><path d="M1370.3,424.3L1391.5,426.2L1412.8,429.1L1434.1,430.5L1476.6,430.5L1497.9,432.7L1519.1,430.5L1540.4,426.2" stroke="#cae5f0" stroke-width="3.2" stroke-linejoin="round" stroke-linecap="round"/><path d="M1370.3,425.4L1391.5,432.0L1412.8,437.8L1434.1,440.6L1476.6,442.1L1497.9,445.0L1519.1,442.1L1540.4,436.3" stroke="#e0f3f8" stroke-width="3.2" stroke-linejoin="round" stroke-linecap="round"/><path d="M1391.5,391.6V403.1M1412.8,391.6V403.1M1434.1,393.0V404.6M1476.6,395.9V407.5M1497.9,397.4V408.9M1519.1,398.8V410.4M1540.4,400.3V411.8" stroke="#4575b4" stroke-width="1.6"/><path d="M1391.5,397.4h0M1412.8,397.4h0M1434.1,398.8h0M1476.6,401.7h0M1497.9,403.1h0M1519.1,404.6h0M1540.4,406.0h0" stroke="#4575b4" stroke-width="10.4" stroke-linecap="round"/><path d="M1391.5,390.2V404.6M1412.8,391.6V406.0M1434.1,393.0V407.5M1476.6,391.6V406.0M1497.9,388.7V403.1M1519.1,385.8V400.3M1540.4,380.1V394.5" stroke="#5281ba" stroke-width="1.6"/><path d="M1391.5,397.4h0M1412.8,398.8h0M1434.1,400.3h0M1476.6,398.8h0M1497.9,395.9h0M1519.1,393.0h0M1540.4,387.3h0" stroke="#5281ba" stroke-width="10.4" stroke-linecap="round"/><path d="M1370.3,406.0V420.4M1391.5,404.6V419.0M1412.8,397.4V411.8M1434.1,395.9V410.4M1476.6,394.5V408.9M1497.9,387.3V401.7M1519.1,381.5V395.9M1540.4,374.3V388.7" stroke="#6f9eca" stroke-width="1.6"/><path d="M1370.3,413.2h0M1391.5,411.8h0M1412.8,404.6h0M1434.1,403.1h0M1476.6,401.7h0M1497.9,394.5h0M1519.1,388.7h0M1540.4,381.5h0" stroke="#6f9eca" stroke-width="10.4" stroke-linecap="round"/><path d="M1391.5,406.0V421.9M1412.8,401.0V416.8M1434.1,399.5V415.4M1476.6,398.8V414.7M1497.9,394.5V410.4M1519.1,390.9V406.7M1540.4,386.6V402.4" stroke="#80afd2" stroke-width="1.6"/><path d="M1391.5,414.0h0M1412.8,408.9h0M1434.1,407.5h0M1476.6,406.7h0M1497.9,402.4h0M1519.1,398.8h0M1540.4,394.5h0" stroke="#80afd2" stroke-width="10.4" stroke-linecap="round"/><path d="M1391.5,407.5V424.8M1412.8,404.6V421.9M1434.1,403.1V420.4M1476.6,403.1V420.4M1497.9,401.7V419.0M1519.1,400.3V417.6M1540.4,398.8V416.1" stroke="#91bfdb" stroke-width="1.6"/><path d="M1391.5,416.1h0M1412.8,413.2h0M1434.1,411.8h0M1476.6,411.8h0M1497.9,410.4h0M1519.1,408.9h0M1540.4,407.5h0" stroke="#91bfdb" stroke-width="10.4" stroke-linecap="round"/><path d="M1391.5,409.6V426.9M1412.8,408.2V425.5M1434.1,407.5V424.8M1476.6,406.7V424.1M1497.9,406.7V424.1M1519.1,405.3V422.6M1540.4,403.1V420.4" stroke="#a3cbe1" stroke-width="1.6"/><path d="M1391.5,418.3h0M1412.8,416.8h0M1434.1,416.1h0M1476.6,415.4h0M1497.9,415.4h0M1519.1,414.0h0M1540.4,411.8h0" stroke="#a3cbe1" stroke-width="10.4" stroke-linecap="round"/><path d="M1370.3,414.7V432.0M1391.5,411.8V429.1M1412.8,411.8V429.1M1434.1,411.8V429.1M1476.6,410.4V427.7M1497.9,411.8V429.1M1519.1,410.4V427.7M1540.4,407.5V424.8" stroke="#b4d6e8" stroke-width="1.6"/><path d="M1370.3,423.3h0M1391.5,420.4h0M1412.8,420.4h0M1434.1,420.4h0M1476.6,419.0h0M1497.9,420.4h0M1519.1,419.0h0M1540.4,416.1h0" stroke="#b4d6e8" stroke-width="10.4" stroke-linecap="round"/><path d="M1370.3,417.1V431.6M1391.5,417.6V434.9M1412.8,419.0V439.2M1434.1,420.4V448.6M1476.6,420.4V440.6M1497.9,422.6V442.8M1519.1,420.4V440.6M1540.4,416.1V445.0" stroke="#cae5f0" stroke-width="1.6"/><path d="M1370.3,424.3h0M1391.5,426.2h0M1412.8,429.1h0M1434.1,430.5h0M1476.6,430.5h0M1497.9,432.7h0M1519.1,430.5h0M1540.4,426.2h0" stroke="#cae5f0" stroke-width="10.4" stroke-linecap="round"/><path d="M1370.3,419.6V431.1M1391.5,423.3V440.6M1412.8,426.2V449.3M1434.1,429.1V468.0M1476.6,430.5V453.6M1497.9,433.4V456.5M1519.1,430.5V453.6M1540.4,424.8V465.2" stroke="#e0f3f8" stroke-width="1.6"/><path d="M1370.3,425.4h0M1391.5,432.0h0M1412.8,437.8h0M1434.1,440.6h0M1476.6,442.1h0M1497.9,445.0h0M1519.1,442.1h0M1540.4,436.3h0" stroke="#e0f3f8" stroke-width="10.4" stroke-linecap="round"/><path d="M1370.3,455.1V472.4" stroke="#fee090" stroke-width="1.6"/><path d="M1370.3,461.7h0" stroke="#fee090" stroke-width="10.4" stroke-linecap="round"/><path d="M1382.2,391.6h18.6M1382.2,403.1h18.6M1403.5,391.6h18.6M1403.5,403.1h18.6M1424.8,393.0h18.6M1424.8,404.6h18.6M1467.3,395.9h18.6M1467.3,407.5h18.6M1488.6,397.4h18.6M1488.6,408.9h18.6M1509.8,398.8h18.6M1509.8,410.4h18.6M1531.1,400.3h18.6M1531.1,411.8h18.6" stroke="#4575b4" stroke-width="1.6"/><path d="M1382.2,390.2h18.6M1382.2,404.6h18.6M1403.5,391.6h18.6M1403.5,406.0h18.6M1424.8,393.0h18.6M1424.8,407.5h18.6M1467.3,391.6h18.6M1467.3,406.0h18.6M1488.6,388.7h18.6M1488.6,403.1h18.6M1509.8,385.8h18.6M1509.8,400.3h18.6M1531.1,380.1h18.6M1531.1,394.5h18.6" stroke="#5281ba" stroke-width="1.6"/><path d="M1361.0,406.0h18.6M1361.0,420.4h18.6M1382.2,404.6h18.6M1382.2,419.0h18.6M1403.5,397.4h18.6M1403.5,411.8h18.6M1424.8,395.9h18.6M1424.8,410.4h18.6M1467.3,394.5h18.6M1467.3,408.9h18.6M1488.6,387.3h18.6M1488.6,401.7h18.6M1509.8,381.5h18.6M1509.8,395.9h18.6M1531.1,374.3h18.6M1531.1,388.7h18.6" stroke="#6f9eca" stroke-width="1.6"/><path d="M1382.2,406.0h18.6M1382.2,421.9h18.6M1403.5,401.0h18.6M1403.5,416.8h18.6M1424.8,399.5h18.6M1424.8,415.4h18.6M1467.3,398.8h18.6M1467.3,414.7h18.6M1488.6,394.5h18.6M1488.6,410.4h18.6M1509.8,390.9h18.6M1509.8,406.7h18.6M1531.1,386.6h18.6M1531.1,402.4h18.6" stroke="#80afd2" stroke-width="1.6"/><path d="M1382.2,407.5h18.6M1382.2,424.8h18.6M1403.5,404.6h18.6M1403.5,421.9h18.6M1424.8,403.1h18.6M1424.8,420.4h18.6M1467.3,403.1h18.6M1467.3,420.4h18.6M1488.6,401.7h18.6M1488.6,419.0h18.6M1509.8,400.3h18.6M1509.8,417.6h18.6M1531.1,398.8h18.6M1531.1,416.1h18.6" stroke="#91bfdb" stroke-width="1.6"/><path d="M1382.2,409.6h18.6M1382.2,426.9h18.6M1403.5,408.2h18.6M1403.5,425.5h18.6M1424.8,407.5h18.6M1424.8,424.8h18.6M1467.3,406.7h18.6M1467.3,424.1h18.6M1488.6,406.7h18.6M1488.6,424.1h18.6M1509.8,405.3h18.6M1509.8,422.6h18.6M1531.1,403.1h18.6M1531.1,420.4h18.6" stroke="#a3cbe1" stroke-width="1.6"/><path d="M1361.0,414.7h18.6M1361.0,432.0h18.6M1382.2,411.8h18.6M1382.2,429.1h18.6M1403.5,411.8h18.6M1403.5,429.1h18.6M1424.8,411.8h18.6M1424.8,429.1h18.6M1467.3,410.4h18.6M1467.3,427.7h18.6M1488.6,411.8h18.6M1488.6,429.1h18.6M1509.8,410.4h18.6M1509.8,427.7h18.6M1531.1,407.5h18.6M1531.1,424.8h18.6" stroke="#b4d6e8" stroke-width="1.6"/><path d="M1361.0,417.1h18.6M1361.0,431.6h18.6M1382.2,417.6h18.6M1382.2,434.9h18.6M1403.5,419.0h18.6M1403.5,439.2h18.6M1424.8,420.4h18.6M1424.8,448.6h18.6M1467.3,420.4h18.6M1467.3,440.6h18.6M1488.6,422.6h18.6M1488.6,442.8h18.6M1509.8,420.4h18.6M1509.8,440.6h18.6M1531.1,416.1h18.6M1531.1,445.0h18.6" stroke="#cae5f0" stroke-width="1.6"/><path d="M1361.0,419.6h18.6M1361.0,431.1h18.6M1382.2,423.3h18.6M1382.2,440.6h18.6M1403.5,426.2h18.6M1403.5,449.3h18.6M1424.8,429.1h18.6M1424.8,468.0h18.6M1467.3,430.5h18.6M1467.3,453.6h18.6M1488.6,433.4h18.6M1488.6,456.5h18.6M1509.8,430.5h18.6M1509.8,453.6h18.6M1531.1,424.8h18.6M1531.1,465.2h18.6" stroke="#e0f3f8" stroke-width="1.6"/><path d="M1361.0,455.1h18.6M1361.0,472.4h18.6" stroke="#fee090" stroke-width="1.6"/></g>
<g clip-path="url(#cp05)" fill="none"><path d="M1681.8,393.0L1703.0,394.5L1724.3,394.5L1766.8,394.5L1788.1,395.9L1809.4,398.8L1830.6,401.7" stroke="#4979b6" stroke-width="3.2" stroke-linejoin="round" stroke-linecap="round"/><path d="M1681.8,385.8L1703.0,387.3L1724.3,388.7L1766.8,385.8L1788.1,383.0L1809.4,380.1L1830.6,377.2" stroke="#5e8ec1" stroke-width="3.2" stroke-linejoin="round" stroke-linecap="round"/><path d="M1681.8,388.7L1703.0,390.2L1724.3,390.9L1766.8,388.0L1788.1,385.1L1809.4,383.0L1830.6,380.8" stroke="#78a6ce" stroke-width="3.2" stroke-linejoin="round" stroke-linecap="round"/><path d="M1681.8,391.6L1703.0,393.0L1724.3,393.0L1766.8,390.2L1788.1,387.3L1809.4,385.8L1830.6,384.4" stroke="#91bfdb" stroke-width="3.2" stroke-linejoin="round" stroke-linecap="round"/><path d="M1681.8,394.5L1703.0,395.9L1724.3,395.9L1766.8,393.0L1788.1,390.2L1809.4,388.7L1830.6,386.6" stroke="#a3cbe1" stroke-width="3.2" stroke-linejoin="round" stroke-linecap="round"/><path d="M1681.8,397.4L1703.0,398.8L1724.3,398.8L1766.8,395.9L1788.1,393.0L1809.4,391.6L1830.6,388.7" stroke="#b4d6e8" stroke-width="3.2" stroke-linejoin="round" stroke-linecap="round"/><path d="M1681.8,399.5L1703.0,400.3L1724.3,400.3L1766.8,398.8L1788.1,397.4" stroke="#cae5f0" stroke-width="3.2" stroke-linejoin="round" stroke-linecap="round"/><path d="M1660.5,402.6L1681.8,401.7L1703.0,401.7L1724.3,401.7L1766.8,401.7L1788.1,401.7" stroke="#e0f3f8" stroke-width="3.2" stroke-linejoin="round" stroke-linecap="round"/><path d="M1660.5,423.3L1830.6,447.3" stroke="#fee090" stroke-width="3.2" stroke-linejoin="round" stroke-linecap="round"/><path d="M1681.8,387.3V398.8M1703.0,388.7V400.3M1724.3,388.7V400.3M1766.8,388.7V400.3M1788.1,390.2V401.7M1809.4,393.0V404.6M1830.6,395.9V407.5" stroke="#4979b6" stroke-width="1.6"/><path d="M1681.8,393.0h0M1703.0,394.5h0M1724.3,394.5h0M1766.8,394.5h0M1788.1,395.9h0M1809.4,398.8h0M1830.6,401.7h0" stroke="#4979b6" stroke-width="10.4" stroke-linecap="round"/><path d="M1681.8,380.1V391.6M1703.0,381.5V393.0M1724.3,383.0V394.5M1766.8,380.1V391.6M1788.1,377.2V388.7M1809.4,374.3V385.8M1830.6,371.4V383.0" stroke="#5e8ec1" stroke-width="1.6"/><path d="M1681.8,385.8h0M1703.0,387.3h0M1724.3,388.7h0M1766.8,385.8h0M1788.1,383.0h0M1809.4,380.1h0M1830.6,377.2h0" stroke="#5e8ec1" stroke-width="10.4" stroke-linecap="round"/><path d="M1681.8,382.2V395.2M1703.0,383.7V396.7M1724.3,384.4V397.4M1766.8,381.5V394.5M1788.1,378.6V391.6M1809.4,376.5V389.4M1830.6,374.3V387.3" stroke="#78a6ce" stroke-width="1.6"/><path d="M1681.8,388.7h0M1703.0,390.2h0M1724.3,390.9h0M1766.8,388.0h0M1788.1,385.1h0M1809.4,383.0h0M1830.6,380.8h0" stroke="#78a6ce" stroke-width="10.4" stroke-linecap="round"/><path d="M1681.8,384.4V398.8M1703.0,385.8V400.3M1724.3,385.8V400.3M1766.8,383.0V397.4M1788.1,380.1V394.5M1809.4,378.6V393.0M1830.6,377.2V391.6" stroke="#91bfdb" stroke-width="1.6"/><path d="M1681.8,391.6h0M1703.0,393.0h0M1724.3,393.0h0M1766.8,390.2h0M1788.1,387.3h0M1809.4,385.8h0M1830.6,384.4h0" stroke="#91bfdb" stroke-width="10.4" stroke-linecap="round"/><path d="M1681.8,387.7V401.3M1703.0,389.2V402.7M1724.3,389.2V402.7M1766.8,386.3V399.8M1788.1,383.4V396.9M1809.4,381.9V395.5M1830.6,379.8V393.3" stroke="#a3cbe1" stroke-width="1.6"/><path d="M1681.8,394.5h0M1703.0,395.9h0M1724.3,395.9h0M1766.8,393.0h0M1788.1,390.2h0M1809.4,388.7h0M1830.6,386.6h0" stroke="#a3cbe1" stroke-width="10.4" stroke-linecap="round"/><path d="M1681.8,391.0V403.7M1703.0,392.5V405.2M1724.3,392.5V405.2M1766.8,389.6V402.3M1788.1,386.7V399.4M1809.4,385.3V397.9M1830.6,382.4V395.1" stroke="#b4d6e8" stroke-width="1.6"/><path d="M1681.8,397.4h0M1703.0,398.8h0M1724.3,398.8h0M1766.8,395.9h0M1788.1,393.0h0M1809.4,391.6h0M1830.6,388.7h0" stroke="#b4d6e8" stroke-width="10.4" stroke-linecap="round"/><path d="M1681.8,393.5V405.6M1703.0,394.2V406.3M1724.3,394.2V406.3M1766.8,392.8V404.9M1788.1,391.3V403.4" stroke="#cae5f0" stroke-width="1.6"/><path d="M1681.8,399.5h0M1703.0,400.3h0M1724.3,400.3h0M1766.8,398.8h0M1788.1,397.4h0" stroke="#cae5f0" stroke-width="10.4" stroke-linecap="round"/><path d="M1660.5,396.8V408.3M1681.8,395.9V407.5M1703.0,395.9V407.5M1724.3,395.9V407.5M1766.8,395.9V407.5M1788.1,395.9V407.5" stroke="#e0f3f8" stroke-width="1.6"/><path d="M1660.5,402.6h0M1681.8,401.7h0M1703.0,401.7h0M1724.3,401.7h0M1766.8,401.7h0M1788.1,401.7h0" stroke="#e0f3f8" stroke-width="10.4" stroke-linecap="round"/><path d="M1660.5,411.8V426.2M1681.8,420.7V433.4M1703.0,423.9V444.1M1724.3,429.7V445.8M1766.8,429.1V464.6M1788.1,437.2V454.5M1809.4,430.5V463.7M1830.6,427.7V458.8" stroke="#fee090" stroke-width="1.6"/><path d="M1660.5,419.0h0M1681.8,427.1h0M1703.0,434.0h0M1724.3,437.8h0M1766.8,442.1h0M1788.1,445.8h0M1809.4,442.7h0M1830.6,440.1h0" stroke="#fee090" stroke-width="10.4" stroke-linecap="round"/><path d="M1660.5,458.8h0" stroke="#d73027" stroke-width="10.4" stroke-linecap="round"/><path d="M1672.5,387.3h18.6M1672.5,398.8h18.6M1693.7,388.7h18.6M1693.7,400.3h18.6M1715.0,388.7h18.6M1715.0,400.3h18.6M1757.5,388.7h18.6M1757.5,400.3h18.6M1778.8,390.2h18.6M1778.8,401.7h18.6M1800.1,393.0h18.6M1800.1,404.6h18.6M1821.3,395.9h18.6M1821.3,407.5h18.6" stroke="#4979b6" stroke-width="1.6"/><path d="M1672.5,380.1h18.6M1672.5,391.6h18.6M1693.7,381.5h18.6M1693.7,393.0h18.6M1715.0,383.0h18.6M1715.0,394.5h18.6M1757.5,380.1h18.6M1757.5,391.6h18.6M1778.8,377.2h18.6M1778.8,388.7h18.6M1800.1,374.3h18.6M1800.1,385.8h18.6M1821.3,371.4h18.6M1821.3,383.0h18.6" stroke="#5e8ec1" stroke-width="1.6"/><path d="M1672.5,382.2h18.6M1672.5,395.2h18.6M1693.7,383.7h18.6M1693.7,396.7h18.6M1715.0,384.4h18.6M1715.0,397.4h18.6M1757.5,381.5h18.6M1757.5,394.5h18.6M1778.8,378.6h18.6M1778.8,391.6h18.6M1800.1,376.5h18.6M1800.1,389.4h18.6M1821.3,374.3h18.6M1821.3,387.3h18.6" stroke="#78a6ce" stroke-width="1.6"/><path d="M1672.5,384.4h18.6M1672.5,398.8h18.6M1693.7,385.8h18.6M1693.7,400.3h18.6M1715.0,385.8h18.6M1715.0,400.3h18.6M1757.5,383.0h18.6M1757.5,397.4h18.6M1778.8,380.1h18.6M1778.8,394.5h18.6M1800.1,378.6h18.6M1800.1,393.0h18.6M1821.3,377.2h18.6M1821.3,391.6h18.6" stroke="#91bfdb" stroke-width="1.6"/><path d="M1672.5,387.7h18.6M1672.5,401.3h18.6M1693.7,389.2h18.6M1693.7,402.7h18.6M1715.0,389.2h18.6M1715.0,402.7h18.6M1757.5,386.3h18.6M1757.5,399.8h18.6M1778.8,383.4h18.6M1778.8,396.9h18.6M1800.1,381.9h18.6M1800.1,395.5h18.6M1821.3,379.8h18.6M1821.3,393.3h18.6" stroke="#a3cbe1" stroke-width="1.6"/><path d="M1672.5,391.0h18.6M1672.5,403.7h18.6M1693.7,392.5h18.6M1693.7,405.2h18.6M1715.0,392.5h18.6M1715.0,405.2h18.6M1757.5,389.6h18.6M1757.5,402.3h18.6M1778.8,386.7h18.6M1778.8,399.4h18.6M1800.1,385.3h18.6M1800.1,397.9h18.6M1821.3,382.4h18.6M1821.3,395.1h18.6" stroke="#b4d6e8" stroke-width="1.6"/><path d="M1672.5,393.5h18.6M1672.5,405.6h18.6M1693.7,394.2h18.6M1693.7,406.3h18.6M1715.0,394.2h18.6M1715.0,406.3h18.6M1757.5,392.8h18.6M1757.5,404.9h18.6M1778.8,391.3h18.6M1778.8,403.4h18.6" stroke="#cae5f0" stroke-width="1.6"/><path d="M1651.2,396.8h18.6M1651.2,408.3h18.6M1672.5,395.9h18.6M1672.5,407.5h18.6M1693.7,395.9h18.6M1693.7,407.5h18.6M1715.0,395.9h18.6M1715.0,407.5h18.6M1757.5,395.9h18.6M1757.5,407.5h18.6M1778.8,395.9h18.6M1778.8,407.5h18.6" stroke="#e0f3f8" stroke-width="1.6"/><path d="M1651.2,411.8h18.6M1651.2,426.2h18.6M1672.5,420.7h18.6M1672.5,433.4h18.6M1693.7,423.9h18.6M1693.7,444.1h18.6M1715.0,429.7h18.6M1715.0,445.8h18.6M1757.5,429.1h18.6M1757.5,464.6h18.6M1778.8,437.2h18.6M1778.8,454.5h18.6M1800.1,430.5h18.6M1800.1,463.7h18.6M1821.3,427.7h18.6M1821.3,458.8h18.6" stroke="#fee090" stroke-width="1.6"/><path d="M1651.2,441.2h18.6" stroke="#d73027" stroke-width="1.6"/></g>
<g clip-path="url(#cp10)" fill="none"><path d="M251.9,847.7L273.2,847.7L315.7,847.7L337.0,847.7L358.2,844.8L379.5,844.8" stroke="#4575b4" stroke-width="3.2" stroke-linejoin="round" stroke-linecap="round"/><path d="M251.9,850.6L273.2,844.8L315.7,837.6L337.0,834.7L358.2,830.4L379.5,829.0" stroke="#4d7db8" stroke-width="3.2" stroke-linejoin="round" stroke-linecap="round"/><path d="M251.9,844.8L273.2,836.2L315.7,816.0L337.0,807.3L358.2,792.9L379.5,782.8" stroke="#5e8ec1" stroke-width="3.2" stroke-linejoin="round" stroke-linecap="round"/><path d="M251.9,846.3L273.2,839.0L315.7,820.3L337.0,811.6L358.2,798.7L379.5,788.6" stroke="#6f9eca" stroke-width="3.2" stroke-linejoin="round" stroke-linecap="round"/><path d="M251.9,849.9L273.2,841.9L315.7,821.7L337.0,813.8L358.2,803.0L379.5,792.9" stroke="#80afd2" stroke-width="3.2" stroke-linejoin="round" stroke-linecap="round"/><path d="M230.7,869.3L251.9,853.5L273.2,844.8L315.7,823.2L337.0,816.0L358.2,807.3L379.5,797.2" stroke="#91bfdb" stroke-width="3.2" stroke-linejoin="round" stroke-linecap="round"/><path d="M230.7,870.8L251.9,856.4L273.2,847.7L315.7,826.1L337.0,819.6L358.2,811.6L379.5,800.8" stroke="#a3cbe1" stroke-width="3.2" stroke-linejoin="round" stroke-linecap="round"/><path d="M230.7,872.2L251.9,859.2L273.2,850.6L315.7,829.0L337.0,823.2L358.2,816.0L379.5,804.4" stroke="#b4d6e8" stroke-width="3.2" stroke-linejoin="round" stroke-linecap="round"/><path d="M230.7,879.4L251.9,867.9L273.2,861.4L315.7,842.7L337.0,838.3L358.2,831.8L379.5,813.1" stroke="#cae5f0" stroke-width="3.2" stroke-linejoin="round" stroke-linecap="round"/><path d="M230.7,886.6L251.9,876.5L273.2,872.2L315.7,856.4L337.0,853.5L358.2,847.7L379.5,821.7" stroke="#e0f3f8" stroke-width="3.2" stroke-linejoin="round" stroke-linecap="round"/><path d="M209.4,905.4L379.5,906.0" stroke="#fee090" stroke-width="3.2" stroke-linejoin="round" stroke-linecap="round"/><path d="M251.9,840.5V854.9M273.2,840.5V854.9M315.7,840.5V854.9M337.0,840.5V854.9M358.2,837.6V852.0M379.5,837.6V852.0" stroke="#4575b4" stroke-width="1.6"/><path d="M251.9,847.7h0M273.2,847.7h0M315.7,847.7h0M337.0,847.7h0M358.2,844.8h0M379.5,844.8h0" stroke="#4575b4" stroke-width="10.4" stroke-linecap="round"/><path d="M251.9,841.9V859.2M273.2,836.2V853.5M315.7,829.0V846.3M337.0,826.1V843.4M358.2,821.7V839.0M379.5,820.3V837.6" stroke="#4d7db8" stroke-width="1.6"/><path d="M251.9,850.6h0M273.2,844.8h0M315.7,837.6h0M337.0,834.7h0M358.2,830.4h0M379.5,829.0h0" stroke="#4d7db8" stroke-width="10.4" stroke-linecap="round"/><path d="M251.9,836.2V853.5M273.2,827.5V844.8M315.7,807.3V824.6M337.0,798.7V816.0M358.2,784.2V801.5M379.5,774.1V791.5" stroke="#5e8ec1" stroke-width="1.6"/><path d="M251.9,844.8h0M273.2,836.2h0M315.7,816.0h0M337.0,807.3h0M358.2,792.9h0M379.5,782.8h0" stroke="#5e8ec1" stroke-width="10.4" stroke-linecap="round"/><path d="M251.9,837.6V854.9M273.2,830.4V847.7M315.7,811.6V829.0M337.0,803.0V820.3M358.2,790.0V807.3M379.5,779.9V797.2" stroke="#6f9eca" stroke-width="1.6"/><path d="M251.9,846.3h0M273.2,839.0h0M315.7,820.3h0M337.0,811.6h0M358.2,798.7h0M379.5,788.6h0" stroke="#6f9eca" stroke-width="10.4" stroke-linecap="round"/><path d="M251.9,840.5V859.2M273.2,832.6V851.3M315.7,812.4V831.1M337.0,804.4V823.2M358.2,793.6V812.4M379.5,783.5V802.3" stroke="#80afd2" stroke-width="1.6"/><path d="M251.9,849.9h0M273.2,841.9h0M315.7,821.7h0M337.0,813.8h0M358.2,803.0h0M379.5,792.9h0" stroke="#80afd2" stroke-width="10.4" stroke-linecap="round"/><path d="M230.7,859.2V879.4M251.9,843.4V863.6M273.2,834.7V854.9M315.7,813.1V833.3M337.0,805.9V826.1M358.2,797.2V817.4M379.5,787.1V807.3" stroke="#91bfdb" stroke-width="1.6"/><path d="M230.7,869.3h0M251.9,853.5h0M273.2,844.8h0M315.7,823.2h0M337.0,816.0h0M358.2,807.3h0M379.5,797.2h0" stroke="#91bfdb" stroke-width="10.4" stroke-linecap="round"/><path d="M230.7,860.7V880.9M251.9,846.3V866.4M273.2,837.6V857.8M315.7,816.0V836.2M337.0,809.5V829.7M358.2,801.5V821.7M379.5,790.7V810.9" stroke="#a3cbe1" stroke-width="1.6"/><path d="M230.7,870.8h0M251.9,856.4h0M273.2,847.7h0M315.7,826.1h0M337.0,819.6h0M358.2,811.6h0M379.5,800.8h0" stroke="#a3cbe1" stroke-width="10.4" stroke-linecap="round"/><path d="M230.7,862.1V882.3M251.9,849.1V869.3M273.2,840.5V860.7M315.7,818.9V839.0M337.0,813.1V833.3M358.2,805.9V826.1M379.5,794.3V814.5" stroke="#b4d6e8" stroke-width="1.6"/><path d="M230.7,872.2h0M251.9,859.2h0M273.2,850.6h0M315.7,829.0h0M337.0,823.2h0M358.2,816.0h0M379.5,804.4h0" stroke="#b4d6e8" stroke-width="10.4" stroke-linecap="round"/><path d="M230.7,870.1V888.8M251.9,858.5V877.3M273.2,852.0V870.8M315.7,833.3V852.0M337.0,829.0V847.7M358.2,822.5V841.2M379.5,803.7V822.5" stroke="#cae5f0" stroke-width="1.6"/><path d="M230.7,879.4h0M251.9,867.9h0M273.2,861.4h0M315.7,842.7h0M337.0,838.3h0M358.2,831.8h0M379.5,813.1h0" stroke="#cae5f0" stroke-width="10.4" stroke-linecap="round"/><path d="M230.7,878.0V895.3M251.9,867.9V885.2M273.2,863.6V880.9M315.7,847.7V865.0M337.0,844.8V862.1M358.2,839.0V856.4M379.5,813.1V830.4" stroke="#e0f3f8" stroke-width="1.6"/><path d="M230.7,886.6h0M251.9,876.5h0M273.2,872.2h0M315.7,856.4h0M337.0,853.5h0M358.2,847.7h0M379.5,821.7h0" stroke="#e0f3f8" stroke-width="10.4" stroke-linecap="round"/><path d="M209.4,888.7V903.9M251.9,892.4V909.7M315.7,890.1V901.1M337.0,893.0V914.0M358.2,897.6V914.9M379.5,881.7V894.7" stroke="#fee090" stroke-width="1.6"/><path d="M209.4,903.9h0M251.9,909.7h0M315.7,901.1h0M337.0,914.0h0M358.2,914.9h0M379.5,894.7h0" stroke="#fee090" stroke-width="10.4" stroke-linecap="round"/><path d="M242.6,840.5h18.6M242.6,854.9h18.6M263.9,840.5h18.6M263.9,854.9h18.6M306.4,840.5h18.6M306.4,854.9h18.6M327.7,840.5h18.6M327.7,854.9h18.6M348.9,837.6h18.6M348.9,852.0h18.6M370.2,837.6h18.6M370.2,852.0h18.6" stroke="#4575b4" stroke-width="1.6"/><path d="M242.6,841.9h18.6M242.6,859.2h18.6M263.9,836.2h18.6M263.9,853.5h18.6M306.4,829.0h18.6M306.4,846.3h18.6M327.7,826.1h18.6M327.7,843.4h18.6M348.9,821.7h18.6M348.9,839.0h18.6M370.2,820.3h18.6M370.2,837.6h18.6" stroke="#4d7db8" stroke-width="1.6"/><path d="M242.6,836.2h18.6M242.6,853.5h18.6M263.9,827.5h18.6M263.9,844.8h18.6M306.4,807.3h18.6M306.4,824.6h18.6M327.7,798.7h18.6M327.7,816.0h18.6M348.9,784.2h18.6M348.9,801.5h18.6M370.2,774.1h18.6M370.2,791.5h18.6" stroke="#5e8ec1" stroke-width="1.6"/><path d="M242.6,837.6h18.6M242.6,854.9h18.6M263.9,830.4h18.6M263.9,847.7h18.6M306.4,811.6h18.6M306.4,829.0h18.6M327.7,803.0h18.6M327.7,820.3h18.6M348.9,790.0h18.6M348.9,807.3h18.6M370.2,779.9h18.6M370.2,797.2h18.6" stroke="#6f9eca" stroke-width="1.6"/><path d="M242.6,840.5h18.6M242.6,859.2h18.6M263.9,832.6h18.6M263.9,851.3h18.6M306.4,812.4h18.6M306.4,831.1h18.6M327.7,804.4h18.6M327.7,823.2h18.6M348.9,793.6h18.6M348.9,812.4h18.6M370.2,783.5h18.6M370.2,802.3h18.6" stroke="#80afd2" stroke-width="1.6"/><path d="M221.4,859.2h18.6M221.4,879.4h18.6M242.6,843.4h18.6M242.6,863.6h18.6M263.9,834.7h18.6M263.9,854.9h18.6M306.4,813.1h18.6M306.4,833.3h18.6M327.7,805.9h18.6M327.7,826.1h18.6M348.9,797.2h18.6M348.9,817.4h18.6M370.2,787.1h18.6M370.2,807.3h18.6" stroke="#91bfdb" stroke-width="1.6"/><path d="M221.4,860.7h18.6M221.4,880.9h18.6M242.6,846.3h18.6M242.6,866.4h18.6M263.9,837.6h18.6M263.9,857.8h18.6M306.4,816.0h18.6M306.4,836.2h18.6M327.7,809.5h18.6M327.7,829.7h18.6M348.9,801.5h18.6M348.9,821.7h18.6M370.2,790.7h18.6M370.2,810.9h18.6" stroke="#a3cbe1" stroke-width="1.6"/><path d="M221.4,862.1h18.6M221.4,882.3h18.6M242.6,849.1h18.6M242.6,869.3h18.6M263.9,840.5h18.6M263.9,860.7h18.6M306.4,818.9h18.6M306.4,839.0h18.6M327.7,813.1h18.6M327.7,833.3h18.6M348.9,805.9h18.6M348.9,826.1h18.6M370.2,794.3h18.6M370.2,814.5h18.6" stroke="#b4d6e8" stroke-width="1.6"/><path d="M221.4,870.1h18.6M221.4,888.8h18.6M242.6,858.5h18.6M242.6,877.3h18.6M263.9,852.0h18.6M263.9,870.8h18.6M306.4,833.3h18.6M306.4,852.0h18.6M327.7,829.0h18.6M327.7,847.7h18.6M348.9,822.5h18.6M348.9,841.2h18.6M370.2,803.7h18.6M370.2,822.5h18.6" stroke="#cae5f0" stroke-width="1.6"/><path d="M221.4,878.0h18.6M221.4,895.3h18.6M242.6,867.9h18.6M242.6,885.2h18.6M263.9,863.6h18.6M263.9,880.9h18.6M306.4,847.7h18.6M306.4,865.0h18.6M327.7,844.8h18.6M327.7,862.1h18.6M348.9,839.0h18.6M348.9,856.4h18.6M370.2,813.1h18.6M370.2,830.4h18.6" stroke="#e0f3f8" stroke-width="1.6"/><path d="M200.1,888.7h18.6M242.6,892.4h18.6M306.4,890.1h18.6M327.7,893.0h18.6M348.9,897.6h18.6M370.2,881.7h18.6M221.4,896.7h18.6M263.9,911.2h18.6" stroke="#fee090" stroke-width="1.6"/></g>
<g clip-path="url(#cp11)" fill="none"><path d="M542.1,787.7L563.4,786.6L605.9,784.2L627.2,779.1L648.5,777.0L669.7,775.6" stroke="#4575b4" stroke-width="3.2" stroke-linejoin="round" stroke-linecap="round"/><path d="M605.9,686.2L627.2,660.2L648.5,640.0L669.7,617.5" stroke="#4979b6" stroke-width="3.2" stroke-linejoin="round" stroke-linecap="round"/><path d="M542.1,772.1L669.7,719.3" stroke="#4d7db8" stroke-width="3.2" stroke-linejoin="round" stroke-linecap="round"/><path d="M542.1,769.8L648.5,681.8" stroke="#5685bd" stroke-width="3.2" stroke-linejoin="round" stroke-linecap="round"/><path d="M542.1,746.7L563.4,723.7L605.9,677.5L627.2,642.9L648.5,617.0" stroke="#6796c5" stroke-width="3.2" stroke-linejoin="round" stroke-linecap="round"/><path d="M542.1,748.2L563.4,726.6L605.9,681.8L627.2,650.1L648.5,627.0" stroke="#7caad0" stroke-width="3.2" stroke-linejoin="round" stroke-linecap="round"/><path d="M542.1,749.6L563.4,729.4L605.9,686.2L627.2,657.3L648.5,637.1" stroke="#91bfdb" stroke-width="3.2" stroke-linejoin="round" stroke-linecap="round"/><path d="M542.1,752.5L563.4,732.3L605.9,691.2L627.2,664.5L648.5,644.4" stroke="#a3cbe1" stroke-width="3.2" stroke-linejoin="round" stroke-linecap="round"/><path d="M542.1,755.4L563.4,735.2L605.9,696.3L627.2,671.8L648.5,651.6L669.7,640.6" stroke="#b4d6e8" stroke-width="3.2" stroke-linejoin="round" stroke-linecap="round"/><path d="M542.1,759.7L563.4,741.0L605.9,701.3L627.2,679.0L648.5,660.2" stroke="#cae5f0" stroke-width="3.2" stroke-linejoin="round" stroke-linecap="round"/><path d="M542.1,764.1L563.4,746.7L605.9,706.4L627.2,686.2L648.5,668.9" stroke="#e0f3f8" stroke-width="3.2" stroke-linejoin="round" stroke-linecap="round"/><path d="M499.6,818.3L669.7,775.6" stroke="#fee090" stroke-width="3.2" stroke-linejoin="round" stroke-linecap="round"/><path d="M499.6,843.9L627.2,901.6" stroke="#d73027" stroke-width="3.2" stroke-linejoin="round" stroke-linecap="round"/><path d="M542.1,780.5V794.9M563.4,779.3V793.8M605.9,777.0V791.5M627.2,771.8V786.3M648.5,769.8V784.2M669.7,768.4V782.8" stroke="#4575b4" stroke-width="1.6"/><path d="M542.1,787.7h0M563.4,786.6h0M605.9,784.2h0M627.2,779.1h0M648.5,777.0h0M669.7,775.6h0" stroke="#4575b4" stroke-width="10.4" stroke-linecap="round"/><path d="M605.9,674.6V697.7M627.2,648.7V671.8M648.5,627.0V653.0M669.7,603.1V632.0" stroke="#4979b6" stroke-width="1.6"/><path d="M605.9,686.2h0M627.2,660.2h0M648.5,640.0h0M669.7,617.5h0" stroke="#4979b6" stroke-width="10.4" stroke-linecap="round"/><path d="M542.1,762.6V779.9M563.4,754.0V774.1M605.9,729.4V764.1M627.2,715.0V755.4M648.5,694.3V746.2M669.7,700.6V743.9" stroke="#4d7db8" stroke-width="1.6"/><path d="M542.1,771.3h0M563.4,764.1h0M605.9,746.7h0M627.2,735.2h0M648.5,720.2h0M669.7,722.2h0" stroke="#4d7db8" stroke-width="10.4" stroke-linecap="round"/><path d="M542.1,755.4V778.5M563.4,743.9V766.9M605.9,710.1V733.2M627.2,691.9V715.0M648.5,668.9V691.9" stroke="#5685bd" stroke-width="1.6"/><path d="M542.1,766.9h0M563.4,755.4h0M605.9,721.7h0M627.2,703.5h0M648.5,680.4h0" stroke="#5685bd" stroke-width="10.4" stroke-linecap="round"/><path d="M542.1,736.7V756.8M563.4,713.6V733.8M605.9,664.5V690.5M627.2,628.5V657.3M648.5,604.0V629.9" stroke="#6796c5" stroke-width="1.6"/><path d="M542.1,746.7h0M563.4,723.7h0M605.9,677.5h0M627.2,642.9h0M648.5,617.0h0" stroke="#6796c5" stroke-width="10.4" stroke-linecap="round"/><path d="M542.1,738.1V758.3M563.4,716.5V736.7M605.9,670.3V693.4M627.2,637.9V662.4M648.5,615.5V638.6" stroke="#7caad0" stroke-width="1.6"/><path d="M542.1,748.2h0M563.4,726.6h0M605.9,681.8h0M627.2,650.1h0M648.5,627.0h0" stroke="#7caad0" stroke-width="10.4" stroke-linecap="round"/><path d="M542.1,739.5V759.7M563.4,719.3V739.5M605.9,676.1V696.3M627.2,647.2V667.4M648.5,627.0V647.2" stroke="#91bfdb" stroke-width="1.6"/><path d="M542.1,749.6h0M563.4,729.4h0M605.9,686.2h0M627.2,657.3h0M648.5,637.1h0" stroke="#91bfdb" stroke-width="10.4" stroke-linecap="round"/><path d="M542.1,743.1V761.9M563.4,723.0V741.7M605.9,681.8V700.6M627.2,655.2V673.9M648.5,635.0V653.7" stroke="#a3cbe1" stroke-width="1.6"/><path d="M542.1,752.5h0M563.4,732.3h0M605.9,691.2h0M627.2,664.5h0M648.5,644.4h0" stroke="#a3cbe1" stroke-width="10.4" stroke-linecap="round"/><path d="M542.1,746.7V764.1M563.4,726.6V743.9M605.9,687.6V704.9M627.2,663.1V680.4M648.5,642.9V660.2M669.7,632.0V649.3" stroke="#b4d6e8" stroke-width="1.6"/><path d="M542.1,755.4h0M563.4,735.2h0M605.9,696.3h0M627.2,671.8h0M648.5,651.6h0M669.7,640.6h0" stroke="#b4d6e8" stroke-width="10.4" stroke-linecap="round"/><path d="M542.1,751.1V768.4M563.4,732.3V749.6M605.9,692.7V710.0M627.2,670.3V687.6M648.5,651.6V668.9" stroke="#cae5f0" stroke-width="1.6"/><path d="M542.1,759.7h0M563.4,741.0h0M605.9,701.3h0M627.2,679.0h0M648.5,660.2h0" stroke="#cae5f0" stroke-width="10.4" stroke-linecap="round"/><path d="M542.1,755.4V772.7M563.4,738.1V755.4M605.9,697.7V715.0M627.2,677.5V694.8M648.5,660.2V677.5" stroke="#e0f3f8" stroke-width="1.6"/><path d="M542.1,764.1h0M563.4,746.7h0M605.9,706.4h0M627.2,686.2h0M648.5,668.9h0" stroke="#e0f3f8" stroke-width="10.4" stroke-linecap="round"/><path d="M499.6,810.2V822.9M520.9,812.5V824.0M542.1,804.4V817.1M563.4,801.5V816.0M605.9,779.1V795.2M627.2,780.5V796.6M648.5,774.1V791.5M669.7,766.9V787.1" stroke="#fee090" stroke-width="1.6"/><path d="M499.6,816.5h0M520.9,818.3h0M542.1,810.8h0M563.4,808.8h0M605.9,787.1h0M627.2,788.6h0M648.5,782.8h0M669.7,777.0h0" stroke="#fee090" stroke-width="10.4" stroke-linecap="round"/><path d="M499.6,833.9V854.0M520.9,850.6V865.0M542.1,850.0V867.3M563.4,854.9V887.5" stroke="#d73027" stroke-width="1.6"/><path d="M499.6,843.9h0M520.9,857.8h0M542.1,858.7h0M563.4,868.5h0M605.9,883.2h0M627.2,901.6h0" stroke="#d73027" stroke-width="10.4" stroke-linecap="round"/><path d="M532.8,780.5h18.6M532.8,794.9h18.6M554.1,779.3h18.6M554.1,793.8h18.6M596.6,777.0h18.6M596.6,791.5h18.6M617.9,771.8h18.6M617.9,786.3h18.6M639.2,769.8h18.6M639.2,784.2h18.6M660.4,768.4h18.6M660.4,782.8h18.6" stroke="#4575b4" stroke-width="1.6"/><path d="M596.6,674.6h18.6M596.6,697.7h18.6M617.9,648.7h18.6M617.9,671.8h18.6M639.2,627.0h18.6M639.2,653.0h18.6M660.4,603.1h18.6M660.4,632.0h18.6" stroke="#4979b6" stroke-width="1.6"/><path d="M532.8,762.6h18.6M532.8,779.9h18.6M554.1,754.0h18.6M554.1,774.1h18.6M596.6,729.4h18.6M596.6,764.1h18.6M617.9,715.0h18.6M617.9,755.4h18.6M639.2,694.3h18.6M639.2,746.2h18.6M660.4,700.6h18.6M660.4,743.9h18.6" stroke="#4d7db8" stroke-width="1.6"/><path d="M532.8,755.4h18.6M532.8,778.5h18.6M554.1,743.9h18.6M554.1,766.9h18.6M596.6,710.1h18.6M596.6,733.2h18.6M617.9,691.9h18.6M617.9,715.0h18.6M639.2,668.9h18.6M639.2,691.9h18.6" stroke="#5685bd" stroke-width="1.6"/><path d="M532.8,736.7h18.6M532.8,756.8h18.6M554.1,713.6h18.6M554.1,733.8h18.6M596.6,664.5h18.6M596.6,690.5h18.6M617.9,628.5h18.6M617.9,657.3h18.6M639.2,604.0h18.6M639.2,629.9h18.6" stroke="#6796c5" stroke-width="1.6"/><path d="M532.8,738.1h18.6M532.8,758.3h18.6M554.1,716.5h18.6M554.1,736.7h18.6M596.6,670.3h18.6M596.6,693.4h18.6M617.9,637.9h18.6M617.9,662.4h18.6M639.2,615.5h18.6M639.2,638.6h18.6" stroke="#7caad0" stroke-width="1.6"/><path d="M532.8,739.5h18.6M532.8,759.7h18.6M554.1,719.3h18.6M554.1,739.5h18.6M596.6,676.1h18.6M596.6,696.3h18.6M617.9,647.2h18.6M617.9,667.4h18.6M639.2,627.0h18.6M639.2,647.2h18.6" stroke="#91bfdb" stroke-width="1.6"/><path d="M532.8,743.1h18.6M532.8,761.9h18.6M554.1,723.0h18.6M554.1,741.7h18.6M596.6,681.8h18.6M596.6,700.6h18.6M617.9,655.2h18.6M617.9,673.9h18.6M639.2,635.0h18.6M639.2,653.7h18.6" stroke="#a3cbe1" stroke-width="1.6"/><path d="M532.8,746.7h18.6M532.8,764.1h18.6M554.1,726.6h18.6M554.1,743.9h18.6M596.6,687.6h18.6M596.6,704.9h18.6M617.9,663.1h18.6M617.9,680.4h18.6M639.2,642.9h18.6M639.2,660.2h18.6M660.4,632.0h18.6M660.4,649.3h18.6" stroke="#b4d6e8" stroke-width="1.6"/><path d="M532.8,751.1h18.6M532.8,768.4h18.6M554.1,732.3h18.6M554.1,749.6h18.6M596.6,692.7h18.6M596.6,710.0h18.6M617.9,670.3h18.6M617.9,687.6h18.6M639.2,651.6h18.6M639.2,668.9h18.6" stroke="#cae5f0" stroke-width="1.6"/><path d="M532.8,755.4h18.6M532.8,772.7h18.6M554.1,738.1h18.6M554.1,755.4h18.6M596.6,697.7h18.6M596.6,715.0h18.6M617.9,677.5h18.6M617.9,694.8h18.6M639.2,660.2h18.6M639.2,677.5h18.6" stroke="#e0f3f8" stroke-width="1.6"/><path d="M490.3,810.2h18.6M490.3,822.9h18.6M511.6,812.5h18.6M511.6,824.0h18.6M532.8,804.4h18.6M532.8,817.1h18.6M554.1,801.5h18.6M554.1,816.0h18.6M596.6,779.1h18.6M596.6,795.2h18.6M617.9,780.5h18.6M617.9,796.6h18.6M639.2,774.1h18.6M639.2,791.5h18.6M660.4,766.9h18.6M660.4,787.1h18.6" stroke="#fee090" stroke-width="1.6"/><path d="M490.3,833.9h18.6M490.3,854.0h18.6M511.6,850.6h18.6M511.6,865.0h18.6M532.8,850.0h18.6M532.8,867.3h18.6M554.1,854.9h18.6M554.1,887.5h18.6M596.6,865.9h18.6M617.9,879.4h18.6M639.2,883.8h18.6M660.4,899.6h18.6" stroke="#d73027" stroke-width="1.6"/></g>
<g clip-path="url(#cp12)" fill="none"><path d="M832.4,800.1L853.6,801.0L896.2,800.1L917.4,800.1L938.7,800.1L960.0,797.2" stroke="#4575b4" stroke-width="3.2" stroke-linejoin="round" stroke-linecap="round"/><path d="M896.2,741.0L917.4,723.7L938.7,706.4L960.0,679.5" stroke="#4979b6" stroke-width="3.2" stroke-linejoin="round" stroke-linecap="round"/><path d="M896.2,777.0L917.4,769.8L938.7,766.9L960.0,745.9" stroke="#4d7db8" stroke-width="3.2" stroke-linejoin="round" stroke-linecap="round"/><path d="M811.1,781.9L832.4,769.8L853.6,761.2L896.2,735.2L917.4,722.2L938.7,706.4L960.0,689.1" stroke="#6f9eca" stroke-width="3.2" stroke-linejoin="round" stroke-linecap="round"/><path d="M811.1,783.1L832.4,772.0L853.6,764.1L896.2,739.5L917.4,726.6L938.7,712.1L960.0,697.7" stroke="#80afd2" stroke-width="3.2" stroke-linejoin="round" stroke-linecap="round"/><path d="M811.1,784.2L832.4,774.1L853.6,766.9L896.2,743.9L917.4,730.9L938.7,717.9L960.0,706.4" stroke="#91bfdb" stroke-width="3.2" stroke-linejoin="round" stroke-linecap="round"/><path d="M832.4,777.8L853.6,769.8L896.2,749.6L917.4,737.4L938.7,723.7L960.0,710.7" stroke="#a3cbe1" stroke-width="3.2" stroke-linejoin="round" stroke-linecap="round"/><path d="M832.4,781.4L853.6,772.7L896.2,755.4L917.4,743.9L938.7,729.4L960.0,715.0" stroke="#b4d6e8" stroke-width="3.2" stroke-linejoin="round" stroke-linecap="round"/><path d="M832.4,785.7L853.6,777.8L896.2,761.2L917.4,751.1L938.7,738.1L960.0,721.5" stroke="#cae5f0" stroke-width="3.2" stroke-linejoin="round" stroke-linecap="round"/><path d="M811.1,795.8L832.4,790.0L853.6,782.8L896.2,766.9L917.4,758.3L938.7,746.7L960.0,728.0" stroke="#e0f3f8" stroke-width="3.2" stroke-linejoin="round" stroke-linecap="round"/><path d="M811.1,823.2L960.0,801.5" stroke="#fee090" stroke-width="3.2" stroke-linejoin="round" stroke-linecap="round"/><path d="M789.8,834.7L960.0,872.2" stroke="#d73027" stroke-width="3.2" stroke-linejoin="round" stroke-linecap="round"/><path d="M832.4,794.3V805.9M853.6,795.2V806.7M896.2,794.3V805.9M917.4,794.3V805.9M938.7,794.3V805.9M960.0,791.5V803.0" stroke="#4575b4" stroke-width="1.6"/><path d="M832.4,800.1h0M853.6,801.0h0M896.2,800.1h0M917.4,800.1h0M938.7,800.1h0M960.0,797.2h0" stroke="#4575b4" stroke-width="10.4" stroke-linecap="round"/><path d="M896.2,729.4V752.5M917.4,710.7V736.7M938.7,691.9V720.8M960.0,657.9V701.2" stroke="#4979b6" stroke-width="1.6"/><path d="M896.2,741.0h0M917.4,723.7h0M938.7,706.4h0M960.0,679.5h0" stroke="#4979b6" stroke-width="10.4" stroke-linecap="round"/><path d="M896.2,768.4V785.7M917.4,761.2V778.5M938.7,758.3V775.6M960.0,735.8V756.0" stroke="#4d7db8" stroke-width="1.6"/><path d="M896.2,777.0h0M917.4,769.8h0M938.7,766.9h0M960.0,745.9h0" stroke="#4d7db8" stroke-width="10.4" stroke-linecap="round"/><path d="M811.1,773.3V790.6M832.4,761.2V778.5M853.6,752.5V769.8M896.2,726.6V743.9M917.4,713.6V730.9M938.7,697.7V715.0M960.0,680.4V697.7" stroke="#6f9eca" stroke-width="1.6"/><path d="M811.1,781.9h0M832.4,769.8h0M853.6,761.2h0M896.2,735.2h0M917.4,722.2h0M938.7,706.4h0M960.0,689.1h0" stroke="#6f9eca" stroke-width="10.4" stroke-linecap="round"/><path d="M811.1,774.4V791.7M832.4,763.3V780.6M853.6,755.4V772.7M896.2,730.9V748.2M917.4,717.9V735.2M938.7,703.5V720.8M960.0,689.1V706.4" stroke="#80afd2" stroke-width="1.6"/><path d="M811.1,783.1h0M832.4,772.0h0M853.6,764.1h0M896.2,739.5h0M917.4,726.6h0M938.7,712.1h0M960.0,697.7h0" stroke="#80afd2" stroke-width="10.4" stroke-linecap="round"/><path d="M811.1,775.6V792.9M832.4,765.5V782.8M853.6,758.3V775.6M896.2,735.2V752.5M917.4,722.2V739.5M938.7,709.3V726.6M960.0,697.7V715.0" stroke="#91bfdb" stroke-width="1.6"/><path d="M811.1,784.2h0M832.4,774.1h0M853.6,766.9h0M896.2,743.9h0M917.4,730.9h0M938.7,717.9h0M960.0,706.4h0" stroke="#91bfdb" stroke-width="10.4" stroke-linecap="round"/><path d="M832.4,769.4V786.1M853.6,761.5V778.2M896.2,741.3V758.0M917.4,729.0V745.7M938.7,715.3V732.0M960.0,702.3V719.1" stroke="#a3cbe1" stroke-width="1.6"/><path d="M832.4,777.8h0M853.6,769.8h0M896.2,749.6h0M917.4,737.4h0M938.7,723.7h0M960.0,710.7h0" stroke="#a3cbe1" stroke-width="10.4" stroke-linecap="round"/><path d="M832.4,773.3V789.4M853.6,764.6V780.8M896.2,747.3V763.5M917.4,735.8V751.9M938.7,721.4V737.5M960.0,706.9V723.1" stroke="#b4d6e8" stroke-width="1.6"/><path d="M832.4,781.4h0M853.6,772.7h0M896.2,755.4h0M917.4,743.9h0M938.7,729.4h0M960.0,715.0h0" stroke="#b4d6e8" stroke-width="10.4" stroke-linecap="round"/><path d="M832.4,778.0V793.3M853.6,770.1V785.4M896.2,753.5V768.8M917.4,743.4V758.7M938.7,730.5V745.7M960.0,713.9V729.2" stroke="#cae5f0" stroke-width="1.6"/><path d="M832.4,785.7h0M853.6,777.8h0M896.2,761.2h0M917.4,751.1h0M938.7,738.1h0M960.0,721.5h0" stroke="#cae5f0" stroke-width="10.4" stroke-linecap="round"/><path d="M811.1,788.6V803.0M832.4,782.8V797.2M853.6,775.6V790.0M896.2,759.7V774.1M917.4,751.1V765.5M938.7,739.5V754.0M960.0,720.8V735.2" stroke="#e0f3f8" stroke-width="1.6"/><path d="M811.1,795.8h0M832.4,790.0h0M853.6,782.8h0M896.2,766.9h0M917.4,758.3h0M938.7,746.7h0M960.0,728.0h0" stroke="#e0f3f8" stroke-width="10.4" stroke-linecap="round"/><path d="M811.1,813.7V825.2M832.4,813.1V824.6M853.6,816.0V827.5M896.2,808.8V820.3M917.4,804.4V816.0M938.7,803.0V814.5M960.0,790.0V801.5" stroke="#fee090" stroke-width="1.6"/><path d="M811.1,819.4h0M832.4,818.9h0M853.6,821.7h0M896.2,814.5h0M917.4,810.2h0M938.7,808.8h0M960.0,795.8h0" stroke="#fee090" stroke-width="10.4" stroke-linecap="round"/><path d="M789.8,821.5V837.6M811.1,833.6V853.2M832.4,841.1V858.4M853.6,842.8V862.4M896.2,842.2V874.5M917.4,846.3V886.6M938.7,852.3V888.1M960.0,848.9V885.8" stroke="#d73027" stroke-width="1.6"/><path d="M789.8,829.5h0M811.1,843.4h0M832.4,849.7h0M853.6,852.6h0M896.2,858.4h0M917.4,866.4h0M938.7,870.2h0M960.0,867.3h0" stroke="#d73027" stroke-width="10.4" stroke-linecap="round"/><path d="M823.1,794.3h18.6M823.1,805.9h18.6M844.3,795.2h18.6M844.3,806.7h18.6M886.9,794.3h18.6M886.9,805.9h18.6M908.1,794.3h18.6M908.1,805.9h18.6M929.4,794.3h18.6M929.4,805.9h18.6M950.7,791.5h18.6M950.7,803.0h18.6" stroke="#4575b4" stroke-width="1.6"/><path d="M886.9,729.4h18.6M886.9,752.5h18.6M908.1,710.7h18.6M908.1,736.7h18.6M929.4,691.9h18.6M929.4,720.8h18.6M950.7,657.9h18.6M950.7,701.2h18.6" stroke="#4979b6" stroke-width="1.6"/><path d="M886.9,768.4h18.6M886.9,785.7h18.6M908.1,761.2h18.6M908.1,778.5h18.6M929.4,758.3h18.6M929.4,775.6h18.6M950.7,735.8h18.6M950.7,756.0h18.6" stroke="#4d7db8" stroke-width="1.6"/><path d="M801.8,773.3h18.6M801.8,790.6h18.6M823.1,761.2h18.6M823.1,778.5h18.6M844.3,752.5h18.6M844.3,769.8h18.6M886.9,726.6h18.6M886.9,743.9h18.6M908.1,713.6h18.6M908.1,730.9h18.6M929.4,697.7h18.6M929.4,715.0h18.6M950.7,680.4h18.6M950.7,697.7h18.6" stroke="#6f9eca" stroke-width="1.6"/><path d="M801.8,774.4h18.6M801.8,791.7h18.6M823.1,763.3h18.6M823.1,780.6h18.6M844.3,755.4h18.6M844.3,772.7h18.6M886.9,730.9h18.6M886.9,748.2h18.6M908.1,717.9h18.6M908.1,735.2h18.6M929.4,703.5h18.6M929.4,720.8h18.6M950.7,689.1h18.6M950.7,706.4h18.6" stroke="#80afd2" stroke-width="1.6"/><path d="M801.8,775.6h18.6M801.8,792.9h18.6M823.1,765.5h18.6M823.1,782.8h18.6M844.3,758.3h18.6M844.3,775.6h18.6M886.9,735.2h18.6M886.9,752.5h18.6M908.1,722.2h18.6M908.1,739.5h18.6M929.4,709.3h18.6M929.4,726.6h18.6M950.7,697.7h18.6M950.7,715.0h18.6" stroke="#91bfdb" stroke-width="1.6"/><path d="M823.1,769.4h18.6M823.1,786.1h18.6M844.3,761.5h18.6M844.3,778.2h18.6M886.9,741.3h18.6M886.9,758.0h18.6M908.1,729.0h18.6M908.1,745.7h18.6M929.4,715.3h18.6M929.4,732.0h18.6M950.7,702.3h18.6M950.7,719.1h18.6" stroke="#a3cbe1" stroke-width="1.6"/><path d="M823.1,773.3h18.6M823.1,789.4h18.6M844.3,764.6h18.6M844.3,780.8h18.6M886.9,747.3h18.6M886.9,763.5h18.6M908.1,735.8h18.6M908.1,751.9h18.6M929.4,721.4h18.6M929.4,737.5h18.6M950.7,706.9h18.6M950.7,723.1h18.6" stroke="#b4d6e8" stroke-width="1.6"/><path d="M823.1,778.0h18.6M823.1,793.3h18.6M844.3,770.1h18.6M844.3,785.4h18.6M886.9,753.5h18.6M886.9,768.8h18.6M908.1,743.4h18.6M908.1,758.7h18.6M929.4,730.5h18.6M929.4,745.7h18.6M950.7,713.9h18.6M950.7,729.2h18.6" stroke="#cae5f0" stroke-width="1.6"/><path d="M801.8,788.6h18.6M801.8,803.0h18.6M823.1,782.8h18.6M823.1,797.2h18.6M844.3,775.6h18.6M844.3,790.0h18.6M886.9,759.7h18.6M886.9,774.1h18.6M908.1,751.1h18.6M908.1,765.5h18.6M929.4,739.5h18.6M929.4,754.0h18.6M950.7,720.8h18.6M950.7,735.2h18.6" stroke="#e0f3f8" stroke-width="1.6"/><path d="M801.8,813.7h18.6M801.8,825.2h18.6M823.1,813.1h18.6M823.1,824.6h18.6M844.3,816.0h18.6M844.3,827.5h18.6M886.9,808.8h18.6M886.9,820.3h18.6M908.1,804.4h18.6M908.1,816.0h18.6M929.4,803.0h18.6M929.4,814.5h18.6M950.7,790.0h18.6M950.7,801.5h18.6" stroke="#fee090" stroke-width="1.6"/><path d="M780.5,821.5h18.6M780.5,837.6h18.6M801.8,833.6h18.6M801.8,853.2h18.6M823.1,841.1h18.6M823.1,858.4h18.6M844.3,842.8h18.6M844.3,862.4h18.6M886.9,842.2h18.6M886.9,874.5h18.6M908.1,846.3h18.6M908.1,886.6h18.6M929.4,852.3h18.6M929.4,888.1h18.6M950.7,848.9h18.6M950.7,885.8h18.6" stroke="#d73027" stroke-width="1.6"/></g>
<g clip-path="url(#cp13)" fill="none"><path d="M1186.4,833.3L1207.6,833.3L1228.9,831.8L1250.2,829.0" stroke="#4575b4" stroke-width="3.2" stroke-linejoin="round" stroke-linecap="round"/><path d="M1186.4,821.7L1207.6,816.0L1228.9,804.4L1250.2,790.0" stroke="#4d7db8" stroke-width="3.2" stroke-linejoin="round" stroke-linecap="round"/><path d="M1186.4,787.1L1207.6,775.6L1228.9,764.1L1250.2,746.7" stroke="#6796c5" stroke-width="3.2" stroke-linejoin="round" stroke-linecap="round"/><path d="M1186.4,781.4L1207.6,771.3L1228.9,761.2L1250.2,735.2" stroke="#78a6ce" stroke-width="3.2" stroke-linejoin="round" stroke-linecap="round"/><path d="M1186.4,790.0L1207.6,777.0L1228.9,762.6L1250.2,743.9" stroke="#91bfdb" stroke-width="3.2" stroke-linejoin="round" stroke-linecap="round"/><path d="M1186.4,792.2L1207.6,780.6L1228.9,766.2L1250.2,748.2" stroke="#a3cbe1" stroke-width="3.2" stroke-linejoin="round" stroke-linecap="round"/><path d="M1186.4,794.3L1207.6,784.2L1228.9,769.8L1250.2,752.5" stroke="#b4d6e8" stroke-width="3.2" stroke-linejoin="round" stroke-linecap="round"/><path d="M1186.4,797.9L1207.6,788.6L1228.9,778.5L1250.2,766.2" stroke="#cae5f0" stroke-width="3.2" stroke-linejoin="round" stroke-linecap="round"/><path d="M1101.3,841.9L1122.6,834.7L1143.9,826.1L1186.4,801.5L1207.6,792.9L1228.9,787.1L1250.2,779.9" stroke="#e0f3f8" stroke-width="3.2" stroke-linejoin="round" stroke-linecap="round"/><path d="M1101.3,859.2L1250.2,807.3" stroke="#fee090" stroke-width="3.2" stroke-linejoin="round" stroke-linecap="round"/><path d="M1080.1,875.1L1250.2,882.9" stroke="#d73027" stroke-width="3.2" stroke-linejoin="round" stroke-linecap="round"/><path d="M1186.4,826.1V840.5M1207.6,826.1V840.5M1228.9,824.6V839.0M1250.2,821.7V836.2" stroke="#4575b4" stroke-width="1.6"/><path d="M1186.4,833.3h0M1207.6,833.3h0M1228.9,831.8h0M1250.2,829.0h0" stroke="#4575b4" stroke-width="10.4" stroke-linecap="round"/><path d="M1186.4,811.6V831.8M1207.6,805.9V826.1M1228.9,794.3V814.5M1250.2,779.9V800.1" stroke="#4d7db8" stroke-width="1.6"/><path d="M1186.4,821.7h0M1207.6,816.0h0M1228.9,804.4h0M1250.2,790.0h0" stroke="#4d7db8" stroke-width="10.4" stroke-linecap="round"/><path d="M1186.4,777.0V797.2M1207.6,765.5V785.7M1228.9,754.0V774.1M1250.2,736.7V756.8" stroke="#6796c5" stroke-width="1.6"/><path d="M1186.4,787.1h0M1207.6,775.6h0M1228.9,764.1h0M1250.2,746.7h0" stroke="#6796c5" stroke-width="10.4" stroke-linecap="round"/><path d="M1186.4,771.3V791.5M1207.6,761.2V781.4M1228.9,749.6V772.7M1250.2,720.8V749.6" stroke="#78a6ce" stroke-width="1.6"/><path d="M1186.4,781.4h0M1207.6,771.3h0M1228.9,761.2h0M1250.2,735.2h0" stroke="#78a6ce" stroke-width="10.4" stroke-linecap="round"/><path d="M1186.4,779.9V800.1M1207.6,766.9V787.1M1228.9,752.5V772.7M1250.2,733.8V754.0" stroke="#91bfdb" stroke-width="1.6"/><path d="M1186.4,790.0h0M1207.6,777.0h0M1228.9,762.6h0M1250.2,743.9h0" stroke="#91bfdb" stroke-width="10.4" stroke-linecap="round"/><path d="M1186.4,782.8V801.5M1207.6,771.3V790.0M1228.9,756.8V775.6M1250.2,738.8V757.6" stroke="#a3cbe1" stroke-width="1.6"/><path d="M1186.4,792.2h0M1207.6,780.6h0M1228.9,766.2h0M1250.2,748.2h0" stroke="#a3cbe1" stroke-width="10.4" stroke-linecap="round"/><path d="M1186.4,785.7V803.0M1207.6,775.6V792.9M1228.9,761.2V778.5M1250.2,743.9V761.2" stroke="#b4d6e8" stroke-width="1.6"/><path d="M1186.4,794.3h0M1207.6,784.2h0M1228.9,769.8h0M1250.2,752.5h0" stroke="#b4d6e8" stroke-width="10.4" stroke-linecap="round"/><path d="M1186.4,790.0V805.9M1207.6,780.6V796.5M1228.9,770.5V786.4M1250.2,758.3V774.1" stroke="#cae5f0" stroke-width="1.6"/><path d="M1186.4,797.9h0M1207.6,788.6h0M1228.9,778.5h0M1250.2,766.2h0" stroke="#cae5f0" stroke-width="10.4" stroke-linecap="round"/><path d="M1101.3,834.7V849.1M1122.6,827.5V841.9M1143.9,818.9V833.3M1186.4,794.3V808.8M1207.6,785.7V800.1M1228.9,779.9V794.3M1250.2,772.7V787.1" stroke="#e0f3f8" stroke-width="1.6"/><path d="M1101.3,841.9h0M1122.6,834.7h0M1143.9,826.1h0M1186.4,801.5h0M1207.6,792.9h0M1228.9,787.1h0M1250.2,779.9h0" stroke="#e0f3f8" stroke-width="10.4" stroke-linecap="round"/><path d="M1101.3,851.4V865.9M1122.6,843.4V857.8M1143.9,836.7V852.9M1186.4,818.9V841.9M1207.6,807.3V841.9M1228.9,805.3V831.3M1250.2,785.7V820.3" stroke="#fee090" stroke-width="1.6"/><path d="M1101.3,858.7h0M1122.6,850.6h0M1143.9,844.8h0M1186.4,830.4h0M1207.6,824.6h0M1228.9,818.3h0M1250.2,803.0h0" stroke="#fee090" stroke-width="10.4" stroke-linecap="round"/><path d="M1080.1,865.6V876.5M1101.3,867.3V891.0M1122.6,868.5V903.1M1143.9,862.7V909.7" stroke="#d73027" stroke-width="1.6"/><path d="M1080.1,870.8h0M1101.3,878.0h0M1122.6,882.3h0M1143.9,879.4h0M1186.4,880.0h0M1207.6,885.8h0M1228.9,884.6h0M1250.2,876.5h0" stroke="#d73027" stroke-width="10.4" stroke-linecap="round"/><path d="M1177.1,826.1h18.6M1177.1,840.5h18.6M1198.3,826.1h18.6M1198.3,840.5h18.6M1219.6,824.6h18.6M1219.6,839.0h18.6M1240.9,821.7h18.6M1240.9,836.2h18.6" stroke="#4575b4" stroke-width="1.6"/><path d="M1177.1,811.6h18.6M1177.1,831.8h18.6M1198.3,805.9h18.6M1198.3,826.1h18.6M1219.6,794.3h18.6M1219.6,814.5h18.6M1240.9,779.9h18.6M1240.9,800.1h18.6" stroke="#4d7db8" stroke-width="1.6"/><path d="M1177.1,777.0h18.6M1177.1,797.2h18.6M1198.3,765.5h18.6M1198.3,785.7h18.6M1219.6,754.0h18.6M1219.6,774.1h18.6M1240.9,736.7h18.6M1240.9,756.8h18.6" stroke="#6796c5" stroke-width="1.6"/><path d="M1177.1,771.3h18.6M1177.1,791.5h18.6M1198.3,761.2h18.6M1198.3,781.4h18.6M1219.6,749.6h18.6M1219.6,772.7h18.6M1240.9,720.8h18.6M1240.9,749.6h18.6" stroke="#78a6ce" stroke-width="1.6"/><path d="M1177.1,779.9h18.6M1177.1,800.1h18.6M1198.3,766.9h18.6M1198.3,787.1h18.6M1219.6,752.5h18.6M1219.6,772.7h18.6M1240.9,733.8h18.6M1240.9,754.0h18.6" stroke="#91bfdb" stroke-width="1.6"/><path d="M1177.1,782.8h18.6M1177.1,801.5h18.6M1198.3,771.3h18.6M1198.3,790.0h18.6M1219.6,756.8h18.6M1219.6,775.6h18.6M1240.9,738.8h18.6M1240.9,757.6h18.6" stroke="#a3cbe1" stroke-width="1.6"/><path d="M1177.1,785.7h18.6M1177.1,803.0h18.6M1198.3,775.6h18.6M1198.3,792.9h18.6M1219.6,761.2h18.6M1219.6,778.5h18.6M1240.9,743.9h18.6M1240.9,761.2h18.6" stroke="#b4d6e8" stroke-width="1.6"/><path d="M1177.1,790.0h18.6M1177.1,805.9h18.6M1198.3,780.6h18.6M1198.3,796.5h18.6M1219.6,770.5h18.6M1219.6,786.4h18.6M1240.9,758.3h18.6M1240.9,774.1h18.6" stroke="#cae5f0" stroke-width="1.6"/><path d="M1092.0,834.7h18.6M1092.0,849.1h18.6M1113.3,827.5h18.6M1113.3,841.9h18.6M1134.6,818.9h18.6M1134.6,833.3h18.6M1177.1,794.3h18.6M1177.1,808.8h18.6M1198.3,785.7h18.6M1198.3,800.1h18.6M1219.6,779.9h18.6M1219.6,794.3h18.6M1240.9,772.7h18.6M1240.9,787.1h18.6" stroke="#e0f3f8" stroke-width="1.6"/><path d="M1092.0,851.4h18.6M1092.0,865.9h18.6M1113.3,843.4h18.6M1113.3,857.8h18.6M1134.6,836.7h18.6M1134.6,852.9h18.6M1177.1,818.9h18.6M1177.1,841.9h18.6M1198.3,807.3h18.6M1198.3,841.9h18.6M1219.6,805.3h18.6M1219.6,831.3h18.6M1240.9,785.7h18.6M1240.9,820.3h18.6" stroke="#fee090" stroke-width="1.6"/><path d="M1070.8,865.6h18.6M1070.8,876.5h18.6M1092.0,867.3h18.6M1092.0,891.0h18.6M1113.3,868.5h18.6M1113.3,903.1h18.6M1134.6,862.7h18.6M1134.6,909.7h18.6M1177.1,860.7h18.6M1198.3,864.1h18.6M1219.6,863.6h18.6M1240.9,854.0h18.6" stroke="#d73027" stroke-width="1.6"/></g>
<g clip-path="url(#cp14)" fill="none"><path d="M1370.3,769.8L1540.4,756.8" stroke="#4575b4" stroke-width="3.2" stroke-linejoin="round" stroke-linecap="round"/><path d="M1412.8,712.1L1476.6,637.1L1540.4,578.0" stroke="#4979b6" stroke-width="3.2" stroke-linejoin="round" stroke-linecap="round"/><path d="M1370.3,748.2L1540.4,703.5" stroke="#4d7db8" stroke-width="3.2" stroke-linejoin="round" stroke-linecap="round"/><path d="M1434.1,725.1L1519.1,663.1" stroke="#5685bd" stroke-width="3.2" stroke-linejoin="round" stroke-linecap="round"/><path d="M1391.5,717.9L1412.8,694.8L1434.1,671.8L1476.6,611.2" stroke="#6f9eca" stroke-width="3.2" stroke-linejoin="round" stroke-linecap="round"/><path d="M1391.5,720.5L1412.8,693.4L1434.1,674.6L1476.6,609.7" stroke="#80afd2" stroke-width="3.2" stroke-linejoin="round" stroke-linecap="round"/><path d="M1391.5,723.1L1412.8,691.9L1434.1,677.5L1476.6,608.3" stroke="#91bfdb" stroke-width="3.2" stroke-linejoin="round" stroke-linecap="round"/><path d="M1391.5,717.9L1476.6,602.5L1540.4,536.8" stroke="#b4d6e8" stroke-width="3.2" stroke-linejoin="round" stroke-linecap="round"/><path d="M1412.8,693.4L1434.1,683.0L1476.6,611.2" stroke="#b8d9ea" stroke-width="3.2" stroke-linejoin="round" stroke-linecap="round"/><path d="M1412.8,694.8L1434.1,688.5L1476.6,614.1" stroke="#e0f3f8" stroke-width="3.2" stroke-linejoin="round" stroke-linecap="round"/><path d="M1434.1,732.3L1540.4,664.5" stroke="#fee090" stroke-width="3.2" stroke-linejoin="round" stroke-linecap="round"/><path d="M1412.8,818.3L1540.4,862.1" stroke="#d73027" stroke-width="3.2" stroke-linejoin="round" stroke-linecap="round"/><path d="M1370.3,762.9V775.6M1391.5,762.9V775.6M1412.8,757.7V770.4M1434.1,758.3V771.0M1476.6,754.2V766.9M1497.9,749.9V762.6M1519.1,750.5V763.2M1540.4,753.4V766.1" stroke="#4575b4" stroke-width="1.6"/><path d="M1370.3,769.2h0M1391.5,769.2h0M1412.8,764.1h0M1434.1,764.6h0M1476.6,760.6h0M1497.9,756.3h0M1519.1,756.8h0M1540.4,759.7h0" stroke="#4575b4" stroke-width="10.4" stroke-linecap="round"/><path d="M1412.8,700.6V720.8M1434.1,674.6V697.7M1476.6,624.2V650.1M1497.9,606.9V629.9M1519.1,571.7V606.3M1540.4,578.0V604.0" stroke="#4979b6" stroke-width="1.6"/><path d="M1412.8,710.7h0M1434.1,686.2h0M1476.6,637.1h0M1497.9,618.4h0M1519.1,589.0h0M1540.4,591.0h0" stroke="#4979b6" stroke-width="10.4" stroke-linecap="round"/><path d="M1370.3,732.3V761.2M1391.5,732.3V761.2M1412.8,718.8V756.3M1434.1,717.9V741.0M1476.6,704.3V736.1M1497.9,694.8V732.3M1519.1,686.8V721.4M1540.4,689.6V727.1" stroke="#4d7db8" stroke-width="1.6"/><path d="M1370.3,746.7h0M1391.5,746.7h0M1412.8,737.5h0M1434.1,729.4h0M1476.6,720.2h0M1497.9,713.6h0M1519.1,704.1h0M1540.4,708.4h0" stroke="#4d7db8" stroke-width="10.4" stroke-linecap="round"/><path d="M1434.1,710.7V736.7M1476.6,678.1V706.9M1497.9,664.5V696.3M1519.1,644.6V680.4" stroke="#5685bd" stroke-width="1.6"/><path d="M1434.1,723.7h0M1476.6,692.5h0M1497.9,680.4h0M1519.1,662.5h0" stroke="#5685bd" stroke-width="10.4" stroke-linecap="round"/><path d="M1391.5,709.3V726.6M1412.8,686.2V703.5M1434.1,663.1V680.4M1476.6,602.5V619.8" stroke="#6f9eca" stroke-width="1.6"/><path d="M1391.5,717.9h0M1412.8,694.8h0M1434.1,671.8h0M1476.6,611.2h0" stroke="#6f9eca" stroke-width="10.4" stroke-linecap="round"/><path d="M1391.5,711.8V729.2M1412.8,684.7V702.0M1434.1,666.0V683.3M1476.6,601.1V618.4" stroke="#80afd2" stroke-width="1.6"/><path d="M1391.5,720.5h0M1412.8,693.4h0M1434.1,674.6h0M1476.6,609.7h0" stroke="#80afd2" stroke-width="10.4" stroke-linecap="round"/><path d="M1391.5,714.4V731.7M1412.8,683.3V700.6M1434.1,668.9V686.2M1476.6,599.6V617.0" stroke="#91bfdb" stroke-width="1.6"/><path d="M1391.5,723.1h0M1412.8,691.9h0M1434.1,677.5h0M1476.6,608.3h0" stroke="#91bfdb" stroke-width="10.4" stroke-linecap="round"/><path d="M1391.5,700.0V717.3M1412.8,680.4V697.7M1434.1,655.9V676.1M1476.6,592.4V612.6M1497.9,567.3V587.5M1519.1,542.5V562.7M1540.4,544.0V561.3" stroke="#b4d6e8" stroke-width="1.6"/><path d="M1391.5,708.7h0M1412.8,689.1h0M1434.1,666.0h0M1476.6,602.5h0M1497.9,577.4h0M1519.1,552.6h0M1540.4,552.6h0" stroke="#b4d6e8" stroke-width="10.4" stroke-linecap="round"/><path d="M1412.8,684.7V702.0M1434.1,674.4V691.7M1476.6,602.5V619.8" stroke="#b8d9ea" stroke-width="1.6"/><path d="M1412.8,693.4h0M1434.1,683.0h0M1476.6,611.2h0" stroke="#b8d9ea" stroke-width="10.4" stroke-linecap="round"/><path d="M1412.8,686.2V703.5M1434.1,679.8V697.1M1476.6,605.4V622.7" stroke="#e0f3f8" stroke-width="1.6"/><path d="M1412.8,694.8h0M1434.1,688.5h0M1476.6,614.1h0" stroke="#e0f3f8" stroke-width="10.4" stroke-linecap="round"/><path d="M1434.1,723.7V749.6M1476.6,679.0V715.3M1497.9,662.2V704.3M1519.1,647.2V699.2M1540.4,639.2V694.0" stroke="#fee090" stroke-width="1.6"/><path d="M1434.1,736.7h0M1476.6,697.1h0M1497.9,683.3h0M1519.1,673.2h0M1540.4,666.6h0" stroke="#fee090" stroke-width="10.4" stroke-linecap="round"/><path d="M1412.8,803.9V833.9M1434.1,810.2V849.1M1476.6,817.4V869.3M1497.9,829.5V882.3M1519.1,833.9V901.1M1540.4,835.3V921.2" stroke="#d73027" stroke-width="1.6"/><path d="M1412.8,818.3h0M1434.1,828.1h0M1476.6,839.0h0M1497.9,851.2h0M1519.1,858.7h0M1540.4,861.3h0" stroke="#d73027" stroke-width="10.4" stroke-linecap="round"/><path d="M1361.0,762.9h18.6M1361.0,775.6h18.6M1382.2,762.9h18.6M1382.2,775.6h18.6M1403.5,757.7h18.6M1403.5,770.4h18.6M1424.8,758.3h18.6M1424.8,771.0h18.6M1467.3,754.2h18.6M1467.3,766.9h18.6M1488.6,749.9h18.6M1488.6,762.6h18.6M1509.8,750.5h18.6M1509.8,763.2h18.6M1531.1,753.4h18.6M1531.1,766.1h18.6" stroke="#4575b4" stroke-width="1.6"/><path d="M1403.5,700.6h18.6M1403.5,720.8h18.6M1424.8,674.6h18.6M1424.8,697.7h18.6M1467.3,624.2h18.6M1467.3,650.1h18.6M1488.6,606.9h18.6M1488.6,629.9h18.6M1509.8,571.7h18.6M1509.8,606.3h18.6M1531.1,578.0h18.6M1531.1,604.0h18.6" stroke="#4979b6" stroke-width="1.6"/><path d="M1361.0,732.3h18.6M1361.0,761.2h18.6M1382.2,732.3h18.6M1382.2,761.2h18.6M1403.5,718.8h18.6M1403.5,756.3h18.6M1424.8,717.9h18.6M1424.8,741.0h18.6M1467.3,704.3h18.6M1467.3,736.1h18.6M1488.6,694.8h18.6M1488.6,732.3h18.6M1509.8,686.8h18.6M1509.8,721.4h18.6M1531.1,689.6h18.6M1531.1,727.1h18.6" stroke="#4d7db8" stroke-width="1.6"/><path d="M1424.8,710.7h18.6M1424.8,736.7h18.6M1467.3,678.1h18.6M1467.3,706.9h18.6M1488.6,664.5h18.6M1488.6,696.3h18.6M1509.8,644.6h18.6M1509.8,680.4h18.6" stroke="#5685bd" stroke-width="1.6"/><path d="M1382.2,709.3h18.6M1382.2,726.6h18.6M1403.5,686.2h18.6M1403.5,703.5h18.6M1424.8,663.1h18.6M1424.8,680.4h18.6M1467.3,602.5h18.6M1467.3,619.8h18.6" stroke="#6f9eca" stroke-width="1.6"/><path d="M1382.2,711.8h18.6M1382.2,729.2h18.6M1403.5,684.7h18.6M1403.5,702.0h18.6M1424.8,666.0h18.6M1424.8,683.3h18.6M1467.3,601.1h18.6M1467.3,618.4h18.6" stroke="#80afd2" stroke-width="1.6"/><path d="M1382.2,714.4h18.6M1382.2,731.7h18.6M1403.5,683.3h18.6M1403.5,700.6h18.6M1424.8,668.9h18.6M1424.8,686.2h18.6M1467.3,599.6h18.6M1467.3,617.0h18.6" stroke="#91bfdb" stroke-width="1.6"/><path d="M1382.2,700.0h18.6M1382.2,717.3h18.6M1403.5,680.4h18.6M1403.5,697.7h18.6M1424.8,655.9h18.6M1424.8,676.1h18.6M1467.3,592.4h18.6M1467.3,612.6h18.6M1488.6,567.3h18.6M1488.6,587.5h18.6M1509.8,542.5h18.6M1509.8,562.7h18.6M1531.1,544.0h18.6M1531.1,561.3h18.6" stroke="#b4d6e8" stroke-width="1.6"/><path d="M1403.5,684.7h18.6M1403.5,702.0h18.6M1424.8,674.4h18.6M1424.8,691.7h18.6M1467.3,602.5h18.6M1467.3,619.8h18.6" stroke="#b8d9ea" stroke-width="1.6"/><path d="M1403.5,686.2h18.6M1403.5,703.5h18.6M1424.8,679.8h18.6M1424.8,697.1h18.6M1467.3,605.4h18.6M1467.3,622.7h18.6" stroke="#e0f3f8" stroke-width="1.6"/><path d="M1424.8,723.7h18.6M1424.8,749.6h18.6M1467.3,679.0h18.6M1467.3,715.3h18.6M1488.6,662.2h18.6M1488.6,704.3h18.6M1509.8,647.2h18.6M1509.8,699.2h18.6M1531.1,639.2h18.6M1531.1,694.0h18.6" stroke="#fee090" stroke-width="1.6"/><path d="M1403.5,803.9h18.6M1403.5,833.9h18.6M1424.8,810.2h18.6M1424.8,849.1h18.6M1467.3,817.4h18.6M1467.3,869.3h18.6M1488.6,829.5h18.6M1488.6,882.3h18.6M1509.8,833.9h18.6M1509.8,901.1h18.6M1531.1,835.3h18.6M1531.1,921.2h18.6" stroke="#d73027" stroke-width="1.6"/></g>
<g clip-path="url(#cp15)" fill="none"><path d="M1681.8,831.0L1703.0,830.4L1724.3,830.4L1766.8,830.4L1788.1,833.3L1809.4,834.1L1830.6,830.4" stroke="#4575b4" stroke-width="3.2" stroke-linejoin="round" stroke-linecap="round"/><path d="M1724.3,801.5L1766.8,761.2L1788.1,746.7L1809.4,736.7L1830.6,721.4" stroke="#4979b6" stroke-width="3.2" stroke-linejoin="round" stroke-linecap="round"/><path d="M1724.3,820.3L1766.8,814.5L1788.1,811.6L1809.4,807.3L1830.6,803.9" stroke="#4d7db8" stroke-width="3.2" stroke-linejoin="round" stroke-linecap="round"/><path d="M1724.3,810.2L1766.8,800.1L1788.1,792.9" stroke="#5685bd" stroke-width="3.2" stroke-linejoin="round" stroke-linecap="round"/><path d="M1724.3,787.1L1766.8,742.4L1788.1,722.2L1809.4,697.1" stroke="#6f9eca" stroke-width="3.2" stroke-linejoin="round" stroke-linecap="round"/><path d="M1724.3,789.3L1766.8,744.6L1788.1,725.8L1809.4,701.8" stroke="#80afd2" stroke-width="3.2" stroke-linejoin="round" stroke-linecap="round"/><path d="M1724.3,791.5L1766.8,746.7L1788.1,729.4L1809.4,706.4" stroke="#91bfdb" stroke-width="3.2" stroke-linejoin="round" stroke-linecap="round"/><path d="M1724.3,792.2L1766.8,751.1L1788.1,735.2L1809.4,717.2" stroke="#a3cbe1" stroke-width="3.2" stroke-linejoin="round" stroke-linecap="round"/><path d="M1703.0,813.1L1724.3,792.9L1766.8,755.4L1788.1,741.0L1809.4,728.0L1830.6,715.0" stroke="#b4d6e8" stroke-width="3.2" stroke-linejoin="round" stroke-linecap="round"/><path d="M1703.0,814.5L1724.3,797.2L1766.8,759.7L1788.1,746.0L1809.4,730.2" stroke="#cae5f0" stroke-width="3.2" stroke-linejoin="round" stroke-linecap="round"/><path d="M1681.8,820.3L1703.0,816.0L1724.3,801.5L1766.8,764.1L1788.1,751.1L1809.4,732.3" stroke="#e0f3f8" stroke-width="3.2" stroke-linejoin="round" stroke-linecap="round"/><path d="M1703.0,829.0L1724.3,821.7L1830.6,768.4" stroke="#fee090" stroke-width="3.2" stroke-linejoin="round" stroke-linecap="round"/><path d="M1681.8,875.1L1830.6,894.4" stroke="#d73027" stroke-width="3.2" stroke-linejoin="round" stroke-linecap="round"/><path d="M1681.8,826.6V835.3M1703.0,826.1V834.7M1724.3,826.1V834.7M1766.8,826.1V834.7M1788.1,829.0V837.6M1809.4,829.8V838.5M1830.6,826.1V834.7" stroke="#4575b4" stroke-width="1.6"/><path d="M1681.8,831.0h0M1703.0,830.4h0M1724.3,830.4h0M1766.8,830.4h0M1788.1,833.3h0M1809.4,834.1h0M1830.6,830.4h0" stroke="#4575b4" stroke-width="10.4" stroke-linecap="round"/><path d="M1724.3,792.9V810.2M1766.8,749.6V772.7M1788.1,732.3V761.2M1809.4,719.3V754.0M1830.6,698.3V744.4" stroke="#4979b6" stroke-width="1.6"/><path d="M1724.3,801.5h0M1766.8,761.2h0M1788.1,746.7h0M1809.4,736.7h0M1830.6,721.4h0" stroke="#4979b6" stroke-width="10.4" stroke-linecap="round"/><path d="M1724.3,805.9V834.7M1766.8,800.1V829.0M1788.1,797.2V826.1M1809.4,792.9V821.7M1830.6,789.4V818.3" stroke="#4d7db8" stroke-width="1.6"/><path d="M1724.3,820.3h0M1766.8,814.5h0M1788.1,811.6h0M1809.4,807.3h0M1830.6,803.9h0" stroke="#4d7db8" stroke-width="10.4" stroke-linecap="round"/><path d="M1724.3,798.7V821.7M1766.8,788.6V811.6M1788.1,781.4V804.4" stroke="#5685bd" stroke-width="1.6"/><path d="M1724.3,810.2h0M1766.8,800.1h0M1788.1,792.9h0" stroke="#5685bd" stroke-width="10.4" stroke-linecap="round"/><path d="M1724.3,777.0V797.2M1766.8,727.4V757.4M1788.1,708.4V736.1M1809.4,678.1V716.2" stroke="#6f9eca" stroke-width="1.6"/><path d="M1724.3,787.1h0M1766.8,742.4h0M1788.1,722.2h0M1809.4,697.1h0" stroke="#6f9eca" stroke-width="10.4" stroke-linecap="round"/><path d="M1724.3,779.2V799.4M1766.8,732.0V757.1M1788.1,713.9V737.8M1809.4,687.2V716.3" stroke="#80afd2" stroke-width="1.6"/><path d="M1724.3,789.3h0M1766.8,744.6h0M1788.1,725.8h0M1809.4,701.8h0" stroke="#80afd2" stroke-width="10.4" stroke-linecap="round"/><path d="M1724.3,781.4V801.5M1766.8,736.7V756.8M1788.1,719.3V739.5M1809.4,696.3V716.5" stroke="#91bfdb" stroke-width="1.6"/><path d="M1724.3,791.5h0M1766.8,746.7h0M1788.1,729.4h0M1809.4,706.4h0" stroke="#91bfdb" stroke-width="10.4" stroke-linecap="round"/><path d="M1724.3,782.8V801.5M1766.8,741.7V760.4M1788.1,725.8V744.6M1809.4,707.8V726.6" stroke="#a3cbe1" stroke-width="1.6"/><path d="M1724.3,792.2h0M1766.8,751.1h0M1788.1,735.2h0M1809.4,717.2h0" stroke="#a3cbe1" stroke-width="10.4" stroke-linecap="round"/><path d="M1703.0,804.4V821.7M1724.3,784.2V801.5M1766.8,746.7V764.1M1788.1,732.3V749.6M1809.4,719.3V736.7M1830.6,706.4V723.7" stroke="#b4d6e8" stroke-width="1.6"/><path d="M1703.0,813.1h0M1724.3,792.9h0M1766.8,755.4h0M1788.1,741.0h0M1809.4,728.0h0M1830.6,715.0h0" stroke="#b4d6e8" stroke-width="10.4" stroke-linecap="round"/><path d="M1703.0,805.9V823.2M1724.3,788.6V805.9M1766.8,751.1V768.4M1788.1,737.4V754.7M1809.4,721.5V738.8" stroke="#cae5f0" stroke-width="1.6"/><path d="M1703.0,814.5h0M1724.3,797.2h0M1766.8,759.7h0M1788.1,746.0h0M1809.4,730.2h0" stroke="#cae5f0" stroke-width="10.4" stroke-linecap="round"/><path d="M1681.8,811.6V829.0M1703.0,807.3V824.6M1724.3,792.9V810.2M1766.8,755.4V772.7M1788.1,742.4V759.7M1809.4,723.7V741.0" stroke="#e0f3f8" stroke-width="1.6"/><path d="M1681.8,820.3h0M1703.0,816.0h0M1724.3,801.5h0M1766.8,764.1h0M1788.1,751.1h0M1809.4,732.3h0" stroke="#e0f3f8" stroke-width="10.4" stroke-linecap="round"/><path d="M1703.0,821.7V841.4M1724.3,818.9V839.0M1766.8,777.0V820.3M1788.1,766.9V816.0M1809.4,752.5V808.8M1830.6,739.5V804.4" stroke="#fee090" stroke-width="1.6"/><path d="M1703.0,830.4h0M1724.3,829.0h0M1766.8,797.2h0M1788.1,789.4h0M1809.4,778.5h0M1830.6,769.2h0" stroke="#fee090" stroke-width="10.4" stroke-linecap="round"/><path d="M1681.8,864.4V885.2M1703.0,866.4V898.2M1724.3,873.1V898.2M1766.8,867.3V897.3M1788.1,874.5V906.8" stroke="#d73027" stroke-width="1.6"/><path d="M1681.8,874.5h0M1703.0,880.0h0M1724.3,883.8h0M1766.8,880.0h0M1788.1,887.5h0M1809.4,890.4h0M1830.6,893.8h0" stroke="#d73027" stroke-width="10.4" stroke-linecap="round"/><path d="M1672.5,826.6h18.6M1672.5,835.3h18.6M1693.7,826.1h18.6M1693.7,834.7h18.6M1715.0,826.1h18.6M1715.0,834.7h18.6M1757.5,826.1h18.6M1757.5,834.7h18.6M1778.8,829.0h18.6M1778.8,837.6h18.6M1800.1,829.8h18.6M1800.1,838.5h18.6M1821.3,826.1h18.6M1821.3,834.7h18.6" stroke="#4575b4" stroke-width="1.6"/><path d="M1715.0,792.9h18.6M1715.0,810.2h18.6M1757.5,749.6h18.6M1757.5,772.7h18.6M1778.8,732.3h18.6M1778.8,761.2h18.6M1800.1,719.3h18.6M1800.1,754.0h18.6M1821.3,698.3h18.6M1821.3,744.4h18.6" stroke="#4979b6" stroke-width="1.6"/><path d="M1715.0,805.9h18.6M1715.0,834.7h18.6M1757.5,800.1h18.6M1757.5,829.0h18.6M1778.8,797.2h18.6M1778.8,826.1h18.6M1800.1,792.9h18.6M1800.1,821.7h18.6M1821.3,789.4h18.6M1821.3,818.3h18.6" stroke="#4d7db8" stroke-width="1.6"/><path d="M1715.0,798.7h18.6M1715.0,821.7h18.6M1757.5,788.6h18.6M1757.5,811.6h18.6M1778.8,781.4h18.6M1778.8,804.4h18.6" stroke="#5685bd" stroke-width="1.6"/><path d="M1715.0,777.0h18.6M1715.0,797.2h18.6M1757.5,727.4h18.6M1757.5,757.4h18.6M1778.8,708.4h18.6M1778.8,736.1h18.6M1800.1,678.1h18.6M1800.1,716.2h18.6" stroke="#6f9eca" stroke-width="1.6"/><path d="M1715.0,779.2h18.6M1715.0,799.4h18.6M1757.5,732.0h18.6M1757.5,757.1h18.6M1778.8,713.9h18.6M1778.8,737.8h18.6M1800.1,687.2h18.6M1800.1,716.3h18.6" stroke="#80afd2" stroke-width="1.6"/><path d="M1715.0,781.4h18.6M1715.0,801.5h18.6M1757.5,736.7h18.6M1757.5,756.8h18.6M1778.8,719.3h18.6M1778.8,739.5h18.6M1800.1,696.3h18.6M1800.1,716.5h18.6" stroke="#91bfdb" stroke-width="1.6"/><path d="M1715.0,782.8h18.6M1715.0,801.5h18.6M1757.5,741.7h18.6M1757.5,760.4h18.6M1778.8,725.8h18.6M1778.8,744.6h18.6M1800.1,707.8h18.6M1800.1,726.6h18.6" stroke="#a3cbe1" stroke-width="1.6"/><path d="M1693.7,804.4h18.6M1693.7,821.7h18.6M1715.0,784.2h18.6M1715.0,801.5h18.6M1757.5,746.7h18.6M1757.5,764.1h18.6M1778.8,732.3h18.6M1778.8,749.6h18.6M1800.1,719.3h18.6M1800.1,736.7h18.6M1821.3,706.4h18.6M1821.3,723.7h18.6" stroke="#b4d6e8" stroke-width="1.6"/><path d="M1693.7,805.9h18.6M1693.7,823.2h18.6M1715.0,788.6h18.6M1715.0,805.9h18.6M1757.5,751.1h18.6M1757.5,768.4h18.6M1778.8,737.4h18.6M1778.8,754.7h18.6M1800.1,721.5h18.6M1800.1,738.8h18.6" stroke="#cae5f0" stroke-width="1.6"/><path d="M1672.5,811.6h18.6M1672.5,829.0h18.6M1693.7,807.3h18.6M1693.7,824.6h18.6M1715.0,792.9h18.6M1715.0,810.2h18.6M1757.5,755.4h18.6M1757.5,772.7h18.6M1778.8,742.4h18.6M1778.8,759.7h18.6M1800.1,723.7h18.6M1800.1,741.0h18.6" stroke="#e0f3f8" stroke-width="1.6"/><path d="M1693.7,821.7h18.6M1693.7,841.4h18.6M1715.0,818.9h18.6M1715.0,839.0h18.6M1757.5,777.0h18.6M1757.5,820.3h18.6M1778.8,766.9h18.6M1778.8,816.0h18.6M1800.1,752.5h18.6M1800.1,808.8h18.6M1821.3,739.5h18.6M1821.3,804.4h18.6" stroke="#fee090" stroke-width="1.6"/><path d="M1672.5,864.4h18.6M1672.5,885.2h18.6M1693.7,866.4h18.6M1693.7,898.2h18.6M1715.0,873.1h18.6M1715.0,898.2h18.6M1757.5,867.3h18.6M1757.5,897.3h18.6M1778.8,874.5h18.6M1778.8,906.8h18.6M1800.1,871.4h18.6M1821.3,873.1h18.6" stroke="#d73027" stroke-width="1.6"/></g>
<g clip-path="url(#cp20)" fill="none"><path d="M230.7,1272.9L251.9,1270.6L273.2,1270.0L315.7,1263.4L337.0,1260.5L358.2,1259.1L379.5,1253.3" stroke="#4575b4" stroke-width="3.2" stroke-linejoin="round" stroke-linecap="round"/><path d="M251.9,1270.6L273.2,1269.2L315.7,1262.0L337.0,1259.1L358.2,1256.2L379.5,1246.1" stroke="#5685bd" stroke-width="3.2" stroke-linejoin="round" stroke-linecap="round"/><path d="M251.9,1273.5L273.2,1272.1L315.7,1266.3L337.0,1263.4L358.2,1259.1L379.5,1256.2" stroke="#6f9eca" stroke-width="3.2" stroke-linejoin="round" stroke-linecap="round"/><path d="M251.9,1282.2L273.2,1282.2L315.7,1275.7L337.0,1272.1L358.2,1267.7L379.5,1264.9" stroke="#80afd2" stroke-width="3.2" stroke-linejoin="round" stroke-linecap="round"/><path d="M230.7,1289.4L251.9,1290.8L273.2,1292.3L315.7,1285.0L337.0,1280.7L358.2,1276.4L379.5,1273.5" stroke="#91bfdb" stroke-width="3.2" stroke-linejoin="round" stroke-linecap="round"/><path d="M230.7,1291.5L251.9,1292.3L273.2,1293.0L315.7,1287.2L337.0,1283.6L358.2,1278.6L379.5,1275.0" stroke="#a3cbe1" stroke-width="3.2" stroke-linejoin="round" stroke-linecap="round"/><path d="M230.7,1293.7L251.9,1293.7L273.2,1293.7L315.7,1289.4L337.0,1286.5L358.2,1280.7L379.5,1276.4" stroke="#b4d6e8" stroke-width="3.2" stroke-linejoin="round" stroke-linecap="round"/><path d="M230.7,1297.3L251.9,1298.7L273.2,1299.5L315.7,1295.1L337.0,1292.3L358.2,1288.7L379.5,1282.9" stroke="#cae5f0" stroke-width="3.2" stroke-linejoin="round" stroke-linecap="round"/><path d="M230.7,1300.9L251.9,1303.8L273.2,1305.2L315.7,1300.9L337.0,1298.0L358.2,1296.6L379.5,1289.4" stroke="#e0f3f8" stroke-width="3.2" stroke-linejoin="round" stroke-linecap="round"/><path d="M209.4,1313.3L379.5,1344.2" stroke="#fee090" stroke-width="3.2" stroke-linejoin="round" stroke-linecap="round"/><path d="M230.7,1264.9V1281.0M251.9,1262.5V1278.7M273.2,1262.0V1278.1M315.7,1255.3V1271.5M337.0,1252.5V1268.6M358.2,1251.0V1267.2M379.5,1245.2V1261.4" stroke="#4575b4" stroke-width="1.6"/><path d="M230.7,1272.9h0M251.9,1270.6h0M273.2,1270.0h0M315.7,1263.4h0M337.0,1260.5h0M358.2,1259.1h0M379.5,1253.3h0" stroke="#4575b4" stroke-width="10.4" stroke-linecap="round"/><path d="M251.9,1262.5V1278.7M273.2,1261.1V1277.3M315.7,1253.9V1270.0M337.0,1251.0V1267.2M358.2,1248.1V1264.3M379.5,1238.0V1254.2" stroke="#5685bd" stroke-width="1.6"/><path d="M251.9,1270.6h0M273.2,1269.2h0M315.7,1262.0h0M337.0,1259.1h0M358.2,1256.2h0M379.5,1246.1h0" stroke="#5685bd" stroke-width="10.4" stroke-linecap="round"/><path d="M251.9,1266.3V1280.7M273.2,1264.9V1279.3M315.7,1259.1V1273.5M337.0,1256.2V1270.6M358.2,1251.9V1266.3M379.5,1249.0V1263.4" stroke="#6f9eca" stroke-width="1.6"/><path d="M251.9,1273.5h0M273.2,1272.1h0M315.7,1266.3h0M337.0,1263.4h0M358.2,1259.1h0M379.5,1256.2h0" stroke="#6f9eca" stroke-width="10.4" stroke-linecap="round"/><path d="M251.9,1275.0V1289.4M273.2,1275.0V1289.4M315.7,1268.5V1282.9M337.0,1264.9V1279.3M358.2,1260.5V1275.0M379.5,1257.6V1272.1" stroke="#80afd2" stroke-width="1.6"/><path d="M251.9,1282.2h0M273.2,1282.2h0M315.7,1275.7h0M337.0,1272.1h0M358.2,1267.7h0M379.5,1264.9h0" stroke="#80afd2" stroke-width="10.4" stroke-linecap="round"/><path d="M230.7,1282.2V1296.6M251.9,1283.6V1298.0M273.2,1285.0V1299.5M315.7,1277.8V1292.3M337.0,1273.5V1287.9M358.2,1269.2V1283.6M379.5,1266.3V1280.7" stroke="#91bfdb" stroke-width="1.6"/><path d="M230.7,1289.4h0M251.9,1290.8h0M273.2,1292.3h0M315.7,1285.0h0M337.0,1280.7h0M358.2,1276.4h0M379.5,1273.5h0" stroke="#91bfdb" stroke-width="10.4" stroke-linecap="round"/><path d="M230.7,1284.3V1298.7M251.9,1285.0V1299.5M273.2,1285.8V1300.2M315.7,1280.0V1294.4M337.0,1276.4V1290.8M358.2,1271.3V1285.8M379.5,1267.7V1282.2" stroke="#a3cbe1" stroke-width="1.6"/><path d="M230.7,1291.5h0M251.9,1292.3h0M273.2,1293.0h0M315.7,1287.2h0M337.0,1283.6h0M358.2,1278.6h0M379.5,1275.0h0" stroke="#a3cbe1" stroke-width="10.4" stroke-linecap="round"/><path d="M230.7,1286.5V1300.9M251.9,1286.5V1300.9M273.2,1286.5V1300.9M315.7,1282.2V1296.6M337.0,1279.3V1293.7M358.2,1273.5V1287.9M379.5,1269.2V1283.6" stroke="#b4d6e8" stroke-width="1.6"/><path d="M230.7,1293.7h0M251.9,1293.7h0M273.2,1293.7h0M315.7,1289.4h0M337.0,1286.5h0M358.2,1280.7h0M379.5,1276.4h0" stroke="#b4d6e8" stroke-width="10.4" stroke-linecap="round"/><path d="M230.7,1290.1V1304.5M251.9,1291.5V1306.0M273.2,1292.3V1306.7M315.7,1287.9V1302.4M337.0,1285.0V1299.5M358.2,1281.4V1295.9M379.5,1275.7V1290.1" stroke="#cae5f0" stroke-width="1.6"/><path d="M230.7,1297.3h0M251.9,1298.7h0M273.2,1299.5h0M315.7,1295.1h0M337.0,1292.3h0M358.2,1288.7h0M379.5,1282.9h0" stroke="#cae5f0" stroke-width="10.4" stroke-linecap="round"/><path d="M230.7,1293.7V1308.1M251.9,1296.6V1311.0M273.2,1298.0V1312.4M315.7,1293.7V1308.1M337.0,1290.8V1305.2M358.2,1289.4V1303.8M379.5,1282.2V1296.6" stroke="#e0f3f8" stroke-width="1.6"/><path d="M230.7,1300.9h0M251.9,1303.8h0M273.2,1305.2h0M315.7,1300.9h0M337.0,1298.0h0M358.2,1296.6h0M379.5,1289.4h0" stroke="#e0f3f8" stroke-width="10.4" stroke-linecap="round"/><path d="M209.4,1304.7V1311.6M230.7,1314.8V1326.3M251.9,1314.8V1334.9M273.2,1319.7V1342.7M315.7,1321.7V1360.9M337.0,1326.3V1354.6M358.2,1330.6V1366.7M379.5,1328.6V1351.4" stroke="#fee090" stroke-width="1.6"/><path d="M209.4,1308.1h0M230.7,1320.5h0M251.9,1324.8h0M273.2,1331.2h0M315.7,1335.5h0M337.0,1337.8h0M358.2,1342.2h0M379.5,1337.8h0" stroke="#fee090" stroke-width="10.4" stroke-linecap="round"/><path d="M221.4,1264.9h18.6M221.4,1281.0h18.6M242.6,1262.5h18.6M242.6,1278.7h18.6M263.9,1262.0h18.6M263.9,1278.1h18.6M306.4,1255.3h18.6M306.4,1271.5h18.6M327.7,1252.5h18.6M327.7,1268.6h18.6M348.9,1251.0h18.6M348.9,1267.2h18.6M370.2,1245.2h18.6M370.2,1261.4h18.6" stroke="#4575b4" stroke-width="1.6"/><path d="M242.6,1262.5h18.6M242.6,1278.7h18.6M263.9,1261.1h18.6M263.9,1277.3h18.6M306.4,1253.9h18.6M306.4,1270.0h18.6M327.7,1251.0h18.6M327.7,1267.2h18.6M348.9,1248.1h18.6M348.9,1264.3h18.6M370.2,1238.0h18.6M370.2,1254.2h18.6" stroke="#5685bd" stroke-width="1.6"/><path d="M242.6,1266.3h18.6M242.6,1280.7h18.6M263.9,1264.9h18.6M263.9,1279.3h18.6M306.4,1259.1h18.6M306.4,1273.5h18.6M327.7,1256.2h18.6M327.7,1270.6h18.6M348.9,1251.9h18.6M348.9,1266.3h18.6M370.2,1249.0h18.6M370.2,1263.4h18.6" stroke="#6f9eca" stroke-width="1.6"/><path d="M242.6,1275.0h18.6M242.6,1289.4h18.6M263.9,1275.0h18.6M263.9,1289.4h18.6M306.4,1268.5h18.6M306.4,1282.9h18.6M327.7,1264.9h18.6M327.7,1279.3h18.6M348.9,1260.5h18.6M348.9,1275.0h18.6M370.2,1257.6h18.6M370.2,1272.1h18.6" stroke="#80afd2" stroke-width="1.6"/><path d="M221.4,1282.2h18.6M221.4,1296.6h18.6M242.6,1283.6h18.6M242.6,1298.0h18.6M263.9,1285.0h18.6M263.9,1299.5h18.6M306.4,1277.8h18.6M306.4,1292.3h18.6M327.7,1273.5h18.6M327.7,1287.9h18.6M348.9,1269.2h18.6M348.9,1283.6h18.6M370.2,1266.3h18.6M370.2,1280.7h18.6" stroke="#91bfdb" stroke-width="1.6"/><path d="M221.4,1284.3h18.6M221.4,1298.7h18.6M242.6,1285.0h18.6M242.6,1299.5h18.6M263.9,1285.8h18.6M263.9,1300.2h18.6M306.4,1280.0h18.6M306.4,1294.4h18.6M327.7,1276.4h18.6M327.7,1290.8h18.6M348.9,1271.3h18.6M348.9,1285.8h18.6M370.2,1267.7h18.6M370.2,1282.2h18.6" stroke="#a3cbe1" stroke-width="1.6"/><path d="M221.4,1286.5h18.6M221.4,1300.9h18.6M242.6,1286.5h18.6M242.6,1300.9h18.6M263.9,1286.5h18.6M263.9,1300.9h18.6M306.4,1282.2h18.6M306.4,1296.6h18.6M327.7,1279.3h18.6M327.7,1293.7h18.6M348.9,1273.5h18.6M348.9,1287.9h18.6M370.2,1269.2h18.6M370.2,1283.6h18.6" stroke="#b4d6e8" stroke-width="1.6"/><path d="M221.4,1290.1h18.6M221.4,1304.5h18.6M242.6,1291.5h18.6M242.6,1306.0h18.6M263.9,1292.3h18.6M263.9,1306.7h18.6M306.4,1287.9h18.6M306.4,1302.4h18.6M327.7,1285.0h18.6M327.7,1299.5h18.6M348.9,1281.4h18.6M348.9,1295.9h18.6M370.2,1275.7h18.6M370.2,1290.1h18.6" stroke="#cae5f0" stroke-width="1.6"/><path d="M221.4,1293.7h18.6M221.4,1308.1h18.6M242.6,1296.6h18.6M242.6,1311.0h18.6M263.9,1298.0h18.6M263.9,1312.4h18.6M306.4,1293.7h18.6M306.4,1308.1h18.6M327.7,1290.8h18.6M327.7,1305.2h18.6M348.9,1289.4h18.6M348.9,1303.8h18.6M370.2,1282.2h18.6M370.2,1296.6h18.6" stroke="#e0f3f8" stroke-width="1.6"/><path d="M200.1,1304.7h18.6M200.1,1311.6h18.6M221.4,1314.8h18.6M221.4,1326.3h18.6M242.6,1314.8h18.6M242.6,1334.9h18.6M263.9,1319.7h18.6M263.9,1342.7h18.6M306.4,1321.7h18.6M306.4,1360.9h18.6M327.7,1326.3h18.6M327.7,1354.6h18.6M348.9,1330.6h18.6M348.9,1366.7h18.6M370.2,1328.6h18.6M370.2,1351.4h18.6" stroke="#fee090" stroke-width="1.6"/></g>
<g clip-path="url(#cp21)" fill="none"><path d="M605.9,1272.1L627.2,1262.0L648.5,1259.1L669.7,1256.2" stroke="#4575b4" stroke-width="3.2" stroke-linejoin="round" stroke-linecap="round"/><path d="M605.9,1256.2L627.2,1250.4L648.5,1238.9L669.7,1227.4" stroke="#4d7db8" stroke-width="3.2" stroke-linejoin="round" stroke-linecap="round"/><path d="M605.9,1205.7L627.2,1189.9L648.5,1175.4L669.7,1162.5" stroke="#5685bd" stroke-width="3.2" stroke-linejoin="round" stroke-linecap="round"/><path d="M605.9,1212.9L627.2,1197.1L648.5,1184.1L669.7,1169.7" stroke="#6f9eca" stroke-width="3.2" stroke-linejoin="round" stroke-linecap="round"/><path d="M605.9,1214.4L627.2,1199.2L648.5,1187.0L669.7,1172.6" stroke="#80afd2" stroke-width="3.2" stroke-linejoin="round" stroke-linecap="round"/><path d="M520.9,1272.1L542.1,1259.1L563.4,1250.4L605.9,1215.8L627.2,1201.4L648.5,1189.9L669.7,1175.4" stroke="#91bfdb" stroke-width="3.2" stroke-linejoin="round" stroke-linecap="round"/><path d="M520.9,1273.5L542.1,1262.0L563.4,1253.3L605.9,1220.1L627.2,1207.2L648.5,1195.6L669.7,1182.7" stroke="#a3cbe1" stroke-width="3.2" stroke-linejoin="round" stroke-linecap="round"/><path d="M520.9,1275.0L542.1,1264.9L563.4,1256.2L605.9,1224.5L627.2,1212.9L648.5,1201.4L669.7,1189.9" stroke="#b4d6e8" stroke-width="3.2" stroke-linejoin="round" stroke-linecap="round"/><path d="M520.9,1277.1L542.1,1268.5L563.4,1260.5L605.9,1231.7L627.2,1220.1L648.5,1210.1L669.7,1198.5" stroke="#cae5f0" stroke-width="3.2" stroke-linejoin="round" stroke-linecap="round"/><path d="M520.9,1279.3L542.1,1272.1L563.4,1264.9L605.9,1238.9L627.2,1227.4L648.5,1218.7L669.7,1207.2" stroke="#e0f3f8" stroke-width="3.2" stroke-linejoin="round" stroke-linecap="round"/><path d="M499.6,1300.0L520.9,1298.0L542.1,1288.5L563.4,1282.7L605.9,1266.3L627.2,1264.9L648.5,1256.8L669.7,1248.1" stroke="#fee090" stroke-width="3.2" stroke-linejoin="round" stroke-linecap="round"/><path d="M499.6,1317.4L669.7,1309.6" stroke="#d73027" stroke-width="3.2" stroke-linejoin="round" stroke-linecap="round"/><path d="M605.9,1262.0V1282.2M627.2,1250.4V1273.5M648.5,1246.1V1272.1M669.7,1241.8V1270.6" stroke="#4575b4" stroke-width="1.6"/><path d="M605.9,1272.1h0M627.2,1262.0h0M648.5,1259.1h0M669.7,1256.2h0" stroke="#4575b4" stroke-width="10.4" stroke-linecap="round"/><path d="M605.9,1247.5V1264.9M627.2,1240.3V1260.5M648.5,1227.4V1250.4M669.7,1215.8V1238.9" stroke="#4d7db8" stroke-width="1.6"/><path d="M605.9,1256.2h0M627.2,1250.4h0M648.5,1238.9h0M669.7,1227.4h0" stroke="#4d7db8" stroke-width="10.4" stroke-linecap="round"/><path d="M605.9,1194.2V1217.3M627.2,1178.3V1201.4M648.5,1162.5V1188.4M669.7,1143.7V1181.2" stroke="#5685bd" stroke-width="1.6"/><path d="M605.9,1205.7h0M627.2,1189.9h0M648.5,1175.4h0M669.7,1162.5h0" stroke="#5685bd" stroke-width="10.4" stroke-linecap="round"/><path d="M605.9,1202.8V1223.0M627.2,1187.0V1207.2M648.5,1174.0V1194.2M669.7,1159.6V1179.8" stroke="#6f9eca" stroke-width="1.6"/><path d="M605.9,1212.9h0M627.2,1197.1h0M648.5,1184.1h0M669.7,1169.7h0" stroke="#6f9eca" stroke-width="10.4" stroke-linecap="round"/><path d="M605.9,1205.0V1223.8M627.2,1189.9V1208.6M648.5,1177.6V1196.4M669.7,1163.2V1181.9" stroke="#80afd2" stroke-width="1.6"/><path d="M605.9,1214.4h0M627.2,1199.2h0M648.5,1187.0h0M669.7,1172.6h0" stroke="#80afd2" stroke-width="10.4" stroke-linecap="round"/><path d="M520.9,1263.4V1280.7M542.1,1250.4V1267.7M563.4,1241.8V1259.1M605.9,1207.2V1224.5M627.2,1192.7V1210.1M648.5,1181.2V1198.5M669.7,1166.8V1184.1" stroke="#91bfdb" stroke-width="1.6"/><path d="M520.9,1272.1h0M542.1,1259.1h0M563.4,1250.4h0M605.9,1215.8h0M627.2,1201.4h0M648.5,1189.9h0M669.7,1175.4h0" stroke="#91bfdb" stroke-width="10.4" stroke-linecap="round"/><path d="M520.9,1265.1V1281.9M542.1,1253.6V1270.3M563.4,1245.0V1261.7M605.9,1211.8V1228.5M627.2,1198.8V1215.5M648.5,1187.3V1204.0M669.7,1174.3V1191.0" stroke="#a3cbe1" stroke-width="1.6"/><path d="M520.9,1273.5h0M542.1,1262.0h0M563.4,1253.3h0M605.9,1220.1h0M627.2,1207.2h0M648.5,1195.6h0M669.7,1182.7h0" stroke="#a3cbe1" stroke-width="10.4" stroke-linecap="round"/><path d="M520.9,1266.9V1283.0M542.1,1256.8V1272.9M563.4,1248.1V1264.3M605.9,1216.4V1232.6M627.2,1204.9V1221.0M648.5,1193.3V1209.5M669.7,1181.8V1197.9" stroke="#b4d6e8" stroke-width="1.6"/><path d="M520.9,1275.0h0M542.1,1264.9h0M563.4,1256.2h0M605.9,1224.5h0M627.2,1212.9h0M648.5,1201.4h0M669.7,1189.9h0" stroke="#b4d6e8" stroke-width="10.4" stroke-linecap="round"/><path d="M520.9,1269.5V1284.8M542.1,1260.8V1276.1M563.4,1252.9V1268.2M605.9,1224.0V1239.3M627.2,1212.5V1227.8M648.5,1202.4V1217.7M669.7,1190.9V1206.2" stroke="#cae5f0" stroke-width="1.6"/><path d="M520.9,1277.1h0M542.1,1268.5h0M563.4,1260.5h0M605.9,1231.7h0M627.2,1220.1h0M648.5,1210.1h0M669.7,1198.5h0" stroke="#cae5f0" stroke-width="10.4" stroke-linecap="round"/><path d="M520.9,1272.1V1286.5M542.1,1264.9V1279.3M563.4,1257.6V1272.1M605.9,1231.7V1246.1M627.2,1220.1V1234.6M648.5,1211.5V1225.9M669.7,1200.0V1214.4" stroke="#e0f3f8" stroke-width="1.6"/><path d="M520.9,1279.3h0M542.1,1272.1h0M563.4,1264.9h0M605.9,1238.9h0M627.2,1227.4h0M648.5,1218.7h0M669.7,1207.2h0" stroke="#e0f3f8" stroke-width="10.4" stroke-linecap="round"/><path d="M499.6,1292.8V1307.3M520.9,1290.8V1305.2M542.1,1280.4V1296.6M563.4,1274.1V1291.4M605.9,1257.1V1275.5M627.2,1255.6V1274.1M648.5,1246.7V1266.9M669.7,1238.0V1258.2" stroke="#fee090" stroke-width="1.6"/><path d="M499.6,1300.0h0M520.9,1298.0h0M542.1,1288.5h0M563.4,1282.7h0M605.9,1266.3h0M627.2,1264.9h0M648.5,1256.8h0M669.7,1248.1h0" stroke="#fee090" stroke-width="10.4" stroke-linecap="round"/><path d="M499.6,1313.0V1321.7M520.9,1313.9V1324.3M542.1,1308.1V1319.7M563.4,1300.3V1313.0M605.9,1297.7V1308.1M627.2,1302.4V1312.7M648.5,1304.7V1316.2M669.7,1305.2V1313.9" stroke="#d73027" stroke-width="1.6"/><path d="M499.6,1317.4h0M520.9,1319.1h0M542.1,1313.9h0M563.4,1306.7h0M605.9,1302.9h0M627.2,1307.5h0M648.5,1310.4h0M669.7,1309.6h0" stroke="#d73027" stroke-width="10.4" stroke-linecap="round"/><path d="M596.6,1262.0h18.6M596.6,1282.2h18.6M617.9,1250.4h18.6M617.9,1273.5h18.6M639.2,1246.1h18.6M639.2,1272.1h18.6M660.4,1241.8h18.6M660.4,1270.6h18.6" stroke="#4575b4" stroke-width="1.6"/><path d="M596.6,1247.5h18.6M596.6,1264.9h18.6M617.9,1240.3h18.6M617.9,1260.5h18.6M639.2,1227.4h18.6M639.2,1250.4h18.6M660.4,1215.8h18.6M660.4,1238.9h18.6" stroke="#4d7db8" stroke-width="1.6"/><path d="M596.6,1194.2h18.6M596.6,1217.3h18.6M617.9,1178.3h18.6M617.9,1201.4h18.6M639.2,1162.5h18.6M639.2,1188.4h18.6M660.4,1143.7h18.6M660.4,1181.2h18.6" stroke="#5685bd" stroke-width="1.6"/><path d="M596.6,1202.8h18.6M596.6,1223.0h18.6M617.9,1187.0h18.6M617.9,1207.2h18.6M639.2,1174.0h18.6M639.2,1194.2h18.6M660.4,1159.6h18.6M660.4,1179.8h18.6" stroke="#6f9eca" stroke-width="1.6"/><path d="M596.6,1205.0h18.6M596.6,1223.8h18.6M617.9,1189.9h18.6M617.9,1208.6h18.6M639.2,1177.6h18.6M639.2,1196.4h18.6M660.4,1163.2h18.6M660.4,1181.9h18.6" stroke="#80afd2" stroke-width="1.6"/><path d="M511.6,1263.4h18.6M511.6,1280.7h18.6M532.8,1250.4h18.6M532.8,1267.7h18.6M554.1,1241.8h18.6M554.1,1259.1h18.6M596.6,1207.2h18.6M596.6,1224.5h18.6M617.9,1192.7h18.6M617.9,1210.1h18.6M639.2,1181.2h18.6M639.2,1198.5h18.6M660.4,1166.8h18.6M660.4,1184.1h18.6" stroke="#91bfdb" stroke-width="1.6"/><path d="M511.6,1265.1h18.6M511.6,1281.9h18.6M532.8,1253.6h18.6M532.8,1270.3h18.6M554.1,1245.0h18.6M554.1,1261.7h18.6M596.6,1211.8h18.6M596.6,1228.5h18.6M617.9,1198.8h18.6M617.9,1215.5h18.6M639.2,1187.3h18.6M639.2,1204.0h18.6M660.4,1174.3h18.6M660.4,1191.0h18.6" stroke="#a3cbe1" stroke-width="1.6"/><path d="M511.6,1266.9h18.6M511.6,1283.0h18.6M532.8,1256.8h18.6M532.8,1272.9h18.6M554.1,1248.1h18.6M554.1,1264.3h18.6M596.6,1216.4h18.6M596.6,1232.6h18.6M617.9,1204.9h18.6M617.9,1221.0h18.6M639.2,1193.3h18.6M639.2,1209.5h18.6M660.4,1181.8h18.6M660.4,1197.9h18.6" stroke="#b4d6e8" stroke-width="1.6"/><path d="M511.6,1269.5h18.6M511.6,1284.8h18.6M532.8,1260.8h18.6M532.8,1276.1h18.6M554.1,1252.9h18.6M554.1,1268.2h18.6M596.6,1224.0h18.6M596.6,1239.3h18.6M617.9,1212.5h18.6M617.9,1227.8h18.6M639.2,1202.4h18.6M639.2,1217.7h18.6M660.4,1190.9h18.6M660.4,1206.2h18.6" stroke="#cae5f0" stroke-width="1.6"/><path d="M511.6,1272.1h18.6M511.6,1286.5h18.6M532.8,1264.9h18.6M532.8,1279.3h18.6M554.1,1257.6h18.6M554.1,1272.1h18.6M596.6,1231.7h18.6M596.6,1246.1h18.6M617.9,1220.1h18.6M617.9,1234.6h18.6M639.2,1211.5h18.6M639.2,1225.9h18.6M660.4,1200.0h18.6M660.4,1214.4h18.6" stroke="#e0f3f8" stroke-width="1.6"/><path d="M490.3,1292.8h18.6M490.3,1307.3h18.6M511.6,1290.8h18.6M511.6,1305.2h18.6M532.8,1280.4h18.6M532.8,1296.6h18.6M554.1,1274.1h18.6M554.1,1291.4h18.6M596.6,1257.1h18.6M596.6,1275.5h18.6M617.9,1255.6h18.6M617.9,1274.1h18.6M639.2,1246.7h18.6M639.2,1266.9h18.6M660.4,1238.0h18.6M660.4,1258.2h18.6" stroke="#fee090" stroke-width="1.6"/><path d="M490.3,1313.0h18.6M490.3,1321.7h18.6M511.6,1313.9h18.6M511.6,1324.3h18.6M532.8,1308.1h18.6M532.8,1319.7h18.6M554.1,1300.3h18.6M554.1,1313.0h18.6M596.6,1297.7h18.6M596.6,1308.1h18.6M617.9,1302.4h18.6M617.9,1312.7h18.6M639.2,1304.7h18.6M639.2,1316.2h18.6M660.4,1305.2h18.6M660.4,1313.9h18.6" stroke="#d73027" stroke-width="1.6"/></g>
<g clip-path="url(#cp22)" fill="none"><path d="M896.2,1212.4L917.4,1209.5L938.7,1209.5L960.0,1208.6" stroke="#4575b4" stroke-width="3.2" stroke-linejoin="round" stroke-linecap="round"/><path d="M896.2,1169.7L917.4,1161.9L938.7,1156.7L960.0,1146.0" stroke="#4d7db8" stroke-width="3.2" stroke-linejoin="round" stroke-linecap="round"/><path d="M832.4,1163.9L853.6,1148.9L896.2,1112.0L917.4,1093.2L938.7,1078.8L960.0,1063.5" stroke="#5685bd" stroke-width="3.2" stroke-linejoin="round" stroke-linecap="round"/><path d="M811.1,1189.9L832.4,1169.7L853.6,1155.3L896.2,1119.2L917.4,1103.3L938.7,1088.9" stroke="#6f9eca" stroke-width="3.2" stroke-linejoin="round" stroke-linecap="round"/><path d="M811.1,1191.3L832.4,1171.8L853.6,1158.1L896.2,1122.8L917.4,1107.7L938.7,1093.2" stroke="#80afd2" stroke-width="3.2" stroke-linejoin="round" stroke-linecap="round"/><path d="M811.1,1192.7L832.4,1174.0L853.6,1161.0L896.2,1126.4L917.4,1112.0L938.7,1097.6" stroke="#91bfdb" stroke-width="3.2" stroke-linejoin="round" stroke-linecap="round"/><path d="M811.1,1194.2L832.4,1176.2L853.6,1163.2L896.2,1129.3L917.4,1115.6L938.7,1101.9" stroke="#a3cbe1" stroke-width="3.2" stroke-linejoin="round" stroke-linecap="round"/><path d="M811.1,1195.6L832.4,1178.3L853.6,1165.3L896.2,1132.2L917.4,1119.2L938.7,1106.2L960.0,1099.9" stroke="#b4d6e8" stroke-width="3.2" stroke-linejoin="round" stroke-linecap="round"/><path d="M811.1,1197.1L832.4,1180.5L853.6,1167.5L896.2,1136.5L917.4,1125.0L938.7,1113.4L960.0,1105.9" stroke="#cae5f0" stroke-width="3.2" stroke-linejoin="round" stroke-linecap="round"/><path d="M811.1,1198.5L832.4,1182.7L853.6,1169.7L896.2,1140.8L917.4,1130.7L938.7,1120.6L960.0,1112.0" stroke="#e0f3f8" stroke-width="3.2" stroke-linejoin="round" stroke-linecap="round"/><path d="M789.8,1202.8L811.1,1201.4L832.4,1195.6L853.6,1189.9L896.2,1179.8L917.4,1175.4L938.7,1171.1L960.0,1167.4" stroke="#fee090" stroke-width="3.2" stroke-linejoin="round" stroke-linecap="round"/><path d="M811.1,1236.0L960.0,1272.1" stroke="#d73027" stroke-width="3.2" stroke-linejoin="round" stroke-linecap="round"/><path d="M896.2,1199.4V1225.3M917.4,1196.5V1222.5M938.7,1196.5V1222.5M960.0,1195.6V1221.6" stroke="#4575b4" stroke-width="1.6"/><path d="M896.2,1212.4h0M917.4,1209.5h0M938.7,1209.5h0M960.0,1208.6h0" stroke="#4575b4" stroke-width="10.4" stroke-linecap="round"/><path d="M896.2,1158.1V1181.2M917.4,1150.3V1173.4M938.7,1144.6V1168.8M960.0,1133.0V1159.0" stroke="#4d7db8" stroke-width="1.6"/><path d="M896.2,1169.7h0M917.4,1161.9h0M938.7,1156.7h0M960.0,1146.0h0" stroke="#4d7db8" stroke-width="10.4" stroke-linecap="round"/><path d="M832.4,1156.7V1171.1M853.6,1141.7V1156.1M896.2,1104.8V1119.2M917.4,1086.0V1100.4M938.7,1071.6V1086.0M960.0,1056.3V1070.7" stroke="#5685bd" stroke-width="1.6"/><path d="M832.4,1163.9h0M853.6,1148.9h0M896.2,1112.0h0M917.4,1093.2h0M938.7,1078.8h0M960.0,1063.5h0" stroke="#5685bd" stroke-width="10.4" stroke-linecap="round"/><path d="M811.1,1181.8V1197.9M832.4,1161.6V1177.7M853.6,1147.2V1163.3M896.2,1111.1V1127.3M917.4,1095.3V1111.4M938.7,1080.8V1097.0" stroke="#6f9eca" stroke-width="1.6"/><path d="M811.1,1189.9h0M832.4,1169.7h0M853.6,1155.3h0M896.2,1119.2h0M917.4,1103.3h0M938.7,1088.9h0" stroke="#6f9eca" stroke-width="10.4" stroke-linecap="round"/><path d="M811.1,1183.2V1199.4M832.4,1163.8V1179.9M853.6,1150.1V1166.2M896.2,1114.7V1130.9M917.4,1099.6V1115.7M938.7,1085.2V1101.3" stroke="#80afd2" stroke-width="1.6"/><path d="M811.1,1191.3h0M832.4,1171.8h0M853.6,1158.1h0M896.2,1122.8h0M917.4,1107.7h0M938.7,1093.2h0" stroke="#80afd2" stroke-width="10.4" stroke-linecap="round"/><path d="M811.1,1184.7V1200.8M832.4,1165.9V1182.1M853.6,1152.9V1169.1M896.2,1118.3V1134.5M917.4,1103.9V1120.1M938.7,1089.5V1105.6" stroke="#91bfdb" stroke-width="1.6"/><path d="M811.1,1192.7h0M832.4,1174.0h0M853.6,1161.0h0M896.2,1126.4h0M917.4,1112.0h0M938.7,1097.6h0" stroke="#91bfdb" stroke-width="10.4" stroke-linecap="round"/><path d="M811.1,1186.5V1201.8M832.4,1168.5V1183.8M853.6,1155.5V1170.8M896.2,1121.6V1136.9M917.4,1107.9V1123.2M938.7,1094.2V1109.5" stroke="#a3cbe1" stroke-width="1.6"/><path d="M811.1,1194.2h0M832.4,1176.2h0M853.6,1163.2h0M896.2,1129.3h0M917.4,1115.6h0M938.7,1101.9h0" stroke="#a3cbe1" stroke-width="10.4" stroke-linecap="round"/><path d="M811.1,1188.4V1202.8M832.4,1171.1V1185.5M853.6,1158.1V1172.6M896.2,1125.0V1139.4M917.4,1112.0V1126.4M938.7,1099.0V1113.4M960.0,1092.7V1107.1" stroke="#b4d6e8" stroke-width="1.6"/><path d="M811.1,1195.6h0M832.4,1178.3h0M853.6,1165.3h0M896.2,1132.2h0M917.4,1119.2h0M938.7,1106.2h0M960.0,1099.9h0" stroke="#b4d6e8" stroke-width="10.4" stroke-linecap="round"/><path d="M811.1,1189.9V1204.3M832.4,1173.3V1187.7M853.6,1160.3V1174.7M896.2,1129.3V1143.7M917.4,1117.8V1132.2M938.7,1106.2V1120.6M960.0,1098.7V1113.1" stroke="#cae5f0" stroke-width="1.6"/><path d="M811.1,1197.1h0M832.4,1180.5h0M853.6,1167.5h0M896.2,1136.5h0M917.4,1125.0h0M938.7,1113.4h0M960.0,1105.9h0" stroke="#cae5f0" stroke-width="10.4" stroke-linecap="round"/><path d="M811.1,1191.3V1205.7M832.4,1175.4V1189.9M853.6,1162.5V1176.9M896.2,1133.6V1148.0M917.4,1123.5V1137.9M938.7,1113.4V1127.8M960.0,1104.8V1119.2" stroke="#e0f3f8" stroke-width="1.6"/><path d="M811.1,1198.5h0M832.4,1182.7h0M853.6,1169.7h0M896.2,1140.8h0M917.4,1130.7h0M938.7,1120.6h0M960.0,1112.0h0" stroke="#e0f3f8" stroke-width="10.4" stroke-linecap="round"/><path d="M789.8,1196.2V1207.7M811.1,1200.0V1211.5M832.4,1191.3V1202.8M853.6,1184.1V1195.6M896.2,1161.0V1172.6M917.4,1171.1V1182.7M938.7,1174.0V1185.5M960.0,1161.0V1172.6" stroke="#fee090" stroke-width="1.6"/><path d="M789.8,1202.0h0M811.1,1205.7h0M832.4,1197.1h0M853.6,1189.9h0M896.2,1166.8h0M917.4,1176.9h0M938.7,1179.8h0M960.0,1166.8h0" stroke="#fee090" stroke-width="10.4" stroke-linecap="round"/><path d="M811.1,1231.7V1243.2M832.4,1234.3V1244.7M853.6,1234.6V1253.0M896.2,1239.2V1254.8M917.4,1253.3V1270.6M938.7,1260.0V1278.4M960.0,1261.4V1279.9" stroke="#d73027" stroke-width="1.6"/><path d="M811.1,1237.5h0M832.4,1239.5h0M853.6,1243.8h0M896.2,1247.0h0M917.4,1262.0h0M938.7,1269.2h0M960.0,1270.6h0" stroke="#d73027" stroke-width="10.4" stroke-linecap="round"/><path d="M886.9,1199.4h18.6M886.9,1225.3h18.6M908.1,1196.5h18.6M908.1,1222.5h18.6M929.4,1196.5h18.6M929.4,1222.5h18.6M950.7,1195.6h18.6M950.7,1221.6h18.6" stroke="#4575b4" stroke-width="1.6"/><path d="M886.9,1158.1h18.6M886.9,1181.2h18.6M908.1,1150.3h18.6M908.1,1173.4h18.6M929.4,1144.6h18.6M929.4,1168.8h18.6M950.7,1133.0h18.6M950.7,1159.0h18.6" stroke="#4d7db8" stroke-width="1.6"/><path d="M823.1,1156.7h18.6M823.1,1171.1h18.6M844.3,1141.7h18.6M844.3,1156.1h18.6M886.9,1104.8h18.6M886.9,1119.2h18.6M908.1,1086.0h18.6M908.1,1100.4h18.6M929.4,1071.6h18.6M929.4,1086.0h18.6M950.7,1056.3h18.6M950.7,1070.7h18.6" stroke="#5685bd" stroke-width="1.6"/><path d="M801.8,1181.8h18.6M801.8,1197.9h18.6M823.1,1161.6h18.6M823.1,1177.7h18.6M844.3,1147.2h18.6M844.3,1163.3h18.6M886.9,1111.1h18.6M886.9,1127.3h18.6M908.1,1095.3h18.6M908.1,1111.4h18.6M929.4,1080.8h18.6M929.4,1097.0h18.6" stroke="#6f9eca" stroke-width="1.6"/><path d="M801.8,1183.2h18.6M801.8,1199.4h18.6M823.1,1163.8h18.6M823.1,1179.9h18.6M844.3,1150.1h18.6M844.3,1166.2h18.6M886.9,1114.7h18.6M886.9,1130.9h18.6M908.1,1099.6h18.6M908.1,1115.7h18.6M929.4,1085.2h18.6M929.4,1101.3h18.6" stroke="#80afd2" stroke-width="1.6"/><path d="M801.8,1184.7h18.6M801.8,1200.8h18.6M823.1,1165.9h18.6M823.1,1182.1h18.6M844.3,1152.9h18.6M844.3,1169.1h18.6M886.9,1118.3h18.6M886.9,1134.5h18.6M908.1,1103.9h18.6M908.1,1120.1h18.6M929.4,1089.5h18.6M929.4,1105.6h18.6" stroke="#91bfdb" stroke-width="1.6"/><path d="M801.8,1186.5h18.6M801.8,1201.8h18.6M823.1,1168.5h18.6M823.1,1183.8h18.6M844.3,1155.5h18.6M844.3,1170.8h18.6M886.9,1121.6h18.6M886.9,1136.9h18.6M908.1,1107.9h18.6M908.1,1123.2h18.6M929.4,1094.2h18.6M929.4,1109.5h18.6" stroke="#a3cbe1" stroke-width="1.6"/><path d="M801.8,1188.4h18.6M801.8,1202.8h18.6M823.1,1171.1h18.6M823.1,1185.5h18.6M844.3,1158.1h18.6M844.3,1172.6h18.6M886.9,1125.0h18.6M886.9,1139.4h18.6M908.1,1112.0h18.6M908.1,1126.4h18.6M929.4,1099.0h18.6M929.4,1113.4h18.6M950.7,1092.7h18.6M950.7,1107.1h18.6" stroke="#b4d6e8" stroke-width="1.6"/><path d="M801.8,1189.9h18.6M801.8,1204.3h18.6M823.1,1173.3h18.6M823.1,1187.7h18.6M844.3,1160.3h18.6M844.3,1174.7h18.6M886.9,1129.3h18.6M886.9,1143.7h18.6M908.1,1117.8h18.6M908.1,1132.2h18.6M929.4,1106.2h18.6M929.4,1120.6h18.6M950.7,1098.7h18.6M950.7,1113.1h18.6" stroke="#cae5f0" stroke-width="1.6"/><path d="M801.8,1191.3h18.6M801.8,1205.7h18.6M823.1,1175.4h18.6M823.1,1189.9h18.6M844.3,1162.5h18.6M844.3,1176.9h18.6M886.9,1133.6h18.6M886.9,1148.0h18.6M908.1,1123.5h18.6M908.1,1137.9h18.6M929.4,1113.4h18.6M929.4,1127.8h18.6M950.7,1104.8h18.6M950.7,1119.2h18.6" stroke="#e0f3f8" stroke-width="1.6"/><path d="M780.5,1196.2h18.6M780.5,1207.7h18.6M801.8,1200.0h18.6M801.8,1211.5h18.6M823.1,1191.3h18.6M823.1,1202.8h18.6M844.3,1184.1h18.6M844.3,1195.6h18.6M886.9,1161.0h18.6M886.9,1172.6h18.6M908.1,1171.1h18.6M908.1,1182.7h18.6M929.4,1174.0h18.6M929.4,1185.5h18.6M950.7,1161.0h18.6M950.7,1172.6h18.6" stroke="#fee090" stroke-width="1.6"/><path d="M801.8,1231.7h18.6M801.8,1243.2h18.6M823.1,1234.3h18.6M823.1,1244.7h18.6M844.3,1234.6h18.6M844.3,1253.0h18.6M886.9,1239.2h18.6M886.9,1254.8h18.6M908.1,1253.3h18.6M908.1,1270.6h18.6M929.4,1260.0h18.6M929.4,1278.4h18.6M950.7,1261.4h18.6M950.7,1279.9h18.6" stroke="#d73027" stroke-width="1.6"/></g>
<g clip-path="url(#cp23)" fill="none"><path d="M1186.4,1233.1L1207.6,1228.8L1228.9,1230.8L1250.2,1227.9" stroke="#4575b4" stroke-width="3.2" stroke-linejoin="round" stroke-linecap="round"/><path d="M1186.4,1205.7L1207.6,1192.7L1228.9,1192.7L1250.2,1184.1" stroke="#4d7db8" stroke-width="3.2" stroke-linejoin="round" stroke-linecap="round"/><path d="M1207.6,1181.2L1228.9,1176.9L1250.2,1159.6" stroke="#5281ba" stroke-width="3.2" stroke-linejoin="round" stroke-linecap="round"/><path d="M1122.6,1207.2L1143.9,1194.2L1186.4,1158.1L1207.6,1143.7L1228.9,1129.3L1250.2,1109.7" stroke="#5e8ec1" stroke-width="3.2" stroke-linejoin="round" stroke-linecap="round"/><path d="M1122.6,1204.3L1143.9,1195.6L1186.4,1163.9L1207.6,1149.5L1228.9,1135.1L1250.2,1126.4" stroke="#6f9eca" stroke-width="3.2" stroke-linejoin="round" stroke-linecap="round"/><path d="M1122.6,1205.0L1143.9,1197.1L1186.4,1166.1L1207.6,1153.1L1228.9,1140.1L1250.2,1129.3" stroke="#80afd2" stroke-width="3.2" stroke-linejoin="round" stroke-linecap="round"/><path d="M1122.6,1205.7L1143.9,1198.5L1186.4,1168.2L1207.6,1156.7L1228.9,1145.2L1250.2,1132.2" stroke="#91bfdb" stroke-width="3.2" stroke-linejoin="round" stroke-linecap="round"/><path d="M1122.6,1207.2L1143.9,1200.0L1186.4,1171.1L1207.6,1160.3L1228.9,1148.8L1250.2,1136.5" stroke="#a3cbe1" stroke-width="3.2" stroke-linejoin="round" stroke-linecap="round"/><path d="M1122.6,1208.6L1143.9,1201.4L1186.4,1174.0L1207.6,1163.9L1228.9,1152.4L1250.2,1140.8" stroke="#b4d6e8" stroke-width="3.2" stroke-linejoin="round" stroke-linecap="round"/><path d="M1122.6,1212.2L1143.9,1204.3L1186.4,1177.6L1207.6,1167.5L1228.9,1157.4L1250.2,1146.6" stroke="#cae5f0" stroke-width="3.2" stroke-linejoin="round" stroke-linecap="round"/><path d="M1101.3,1223.0L1122.6,1215.8L1143.9,1207.2L1186.4,1181.2L1207.6,1171.1L1228.9,1162.5L1250.2,1152.4" stroke="#e0f3f8" stroke-width="3.2" stroke-linejoin="round" stroke-linecap="round"/><path d="M1080.1,1232.6L1101.3,1228.8L1122.6,1224.5L1143.9,1218.7L1186.4,1210.1L1207.6,1205.7L1228.9,1202.0L1250.2,1198.5" stroke="#fee090" stroke-width="3.2" stroke-linejoin="round" stroke-linecap="round"/><path d="M1207.6,1264.9L1228.9,1274.1L1250.2,1275.0" stroke="#d73027" stroke-width="3.2" stroke-linejoin="round" stroke-linecap="round"/><path d="M1186.4,1227.9V1238.3M1207.6,1223.6V1234.0M1228.9,1225.6V1236.0M1250.2,1222.7V1233.1" stroke="#4575b4" stroke-width="1.6"/><path d="M1186.4,1233.1h0M1207.6,1228.8h0M1228.9,1230.8h0M1250.2,1227.9h0" stroke="#4575b4" stroke-width="10.4" stroke-linecap="round"/><path d="M1186.4,1195.6V1215.8M1207.6,1182.7V1202.8M1228.9,1182.7V1202.8M1250.2,1174.0V1194.2" stroke="#4d7db8" stroke-width="1.6"/><path d="M1186.4,1205.7h0M1207.6,1192.7h0M1228.9,1192.7h0M1250.2,1184.1h0" stroke="#4d7db8" stroke-width="10.4" stroke-linecap="round"/><path d="M1207.6,1172.6V1189.9M1228.9,1168.2V1185.5M1250.2,1150.9V1168.2" stroke="#5281ba" stroke-width="1.6"/><path d="M1207.6,1181.2h0M1228.9,1176.9h0M1250.2,1159.6h0" stroke="#5281ba" stroke-width="10.4" stroke-linecap="round"/><path d="M1122.6,1201.4V1212.9M1143.9,1188.4V1200.0M1186.4,1152.4V1163.9M1207.6,1137.9V1149.5M1228.9,1123.5V1135.1M1250.2,1103.9V1115.4" stroke="#5e8ec1" stroke-width="1.6"/><path d="M1122.6,1207.2h0M1143.9,1194.2h0M1186.4,1158.1h0M1207.6,1143.7h0M1228.9,1129.3h0M1250.2,1109.7h0" stroke="#5e8ec1" stroke-width="10.4" stroke-linecap="round"/><path d="M1122.6,1197.1V1211.5M1143.9,1188.4V1202.8M1186.4,1156.7V1171.1M1207.6,1142.3V1156.7M1228.9,1127.8V1142.3M1250.2,1119.2V1133.6" stroke="#6f9eca" stroke-width="1.6"/><path d="M1122.6,1204.3h0M1143.9,1195.6h0M1186.4,1163.9h0M1207.6,1149.5h0M1228.9,1135.1h0M1250.2,1126.4h0" stroke="#6f9eca" stroke-width="10.4" stroke-linecap="round"/><path d="M1122.6,1197.8V1212.2M1143.9,1189.9V1204.3M1186.4,1158.9V1173.3M1207.6,1145.9V1160.3M1228.9,1132.9V1147.3M1250.2,1122.1V1136.5" stroke="#80afd2" stroke-width="1.6"/><path d="M1122.6,1205.0h0M1143.9,1197.1h0M1186.4,1166.1h0M1207.6,1153.1h0M1228.9,1140.1h0M1250.2,1129.3h0" stroke="#80afd2" stroke-width="10.4" stroke-linecap="round"/><path d="M1122.6,1198.5V1212.9M1143.9,1191.3V1205.7M1186.4,1161.0V1175.4M1207.6,1149.5V1163.9M1228.9,1137.9V1152.4M1250.2,1125.0V1139.4" stroke="#91bfdb" stroke-width="1.6"/><path d="M1122.6,1205.7h0M1143.9,1198.5h0M1186.4,1168.2h0M1207.6,1156.7h0M1228.9,1145.2h0M1250.2,1132.2h0" stroke="#91bfdb" stroke-width="10.4" stroke-linecap="round"/><path d="M1122.6,1200.0V1214.4M1143.9,1192.7V1207.2M1186.4,1163.9V1178.3M1207.6,1153.1V1167.5M1228.9,1141.6V1156.0M1250.2,1129.3V1143.7" stroke="#a3cbe1" stroke-width="1.6"/><path d="M1122.6,1207.2h0M1143.9,1200.0h0M1186.4,1171.1h0M1207.6,1160.3h0M1228.9,1148.8h0M1250.2,1136.5h0" stroke="#a3cbe1" stroke-width="10.4" stroke-linecap="round"/><path d="M1122.6,1201.4V1215.8M1143.9,1194.2V1208.6M1186.4,1166.8V1181.2M1207.6,1156.7V1171.1M1228.9,1145.2V1159.6M1250.2,1133.6V1148.0" stroke="#b4d6e8" stroke-width="1.6"/><path d="M1122.6,1208.6h0M1143.9,1201.4h0M1186.4,1174.0h0M1207.6,1163.9h0M1228.9,1152.4h0M1250.2,1140.8h0" stroke="#b4d6e8" stroke-width="10.4" stroke-linecap="round"/><path d="M1122.6,1205.0V1219.4M1143.9,1197.1V1211.5M1186.4,1170.4V1184.8M1207.6,1160.3V1174.7M1228.9,1150.2V1164.6M1250.2,1139.4V1153.8" stroke="#cae5f0" stroke-width="1.6"/><path d="M1122.6,1212.2h0M1143.9,1204.3h0M1186.4,1177.6h0M1207.6,1167.5h0M1228.9,1157.4h0M1250.2,1146.6h0" stroke="#cae5f0" stroke-width="10.4" stroke-linecap="round"/><path d="M1101.3,1215.8V1230.2M1122.6,1208.6V1223.0M1143.9,1200.0V1214.4M1186.4,1174.0V1188.4M1207.6,1163.9V1178.3M1228.9,1155.3V1169.7M1250.2,1145.2V1159.6" stroke="#e0f3f8" stroke-width="1.6"/><path d="M1101.3,1223.0h0M1122.6,1215.8h0M1143.9,1207.2h0M1186.4,1181.2h0M1207.6,1171.1h0M1228.9,1162.5h0M1250.2,1152.4h0" stroke="#e0f3f8" stroke-width="10.4" stroke-linecap="round"/><path d="M1080.1,1226.5V1238.0M1101.3,1225.9V1237.5M1122.6,1217.3V1228.8M1143.9,1213.8V1225.3M1186.4,1189.3V1200.8M1207.6,1200.0V1211.5M1228.9,1200.8V1212.4M1250.2,1192.7V1204.3" stroke="#fee090" stroke-width="1.6"/><path d="M1080.1,1232.3h0M1101.3,1231.7h0M1122.6,1223.0h0M1143.9,1219.6h0M1186.4,1195.1h0M1207.6,1205.7h0M1228.9,1206.6h0M1250.2,1198.5h0" stroke="#fee090" stroke-width="10.4" stroke-linecap="round"/><path d="M1207.6,1249.9V1282.2M1228.9,1260.5V1289.4M1250.2,1260.0V1291.4" stroke="#d73027" stroke-width="1.6"/><path d="M1207.6,1264.9h0M1228.9,1274.1h0M1250.2,1275.0h0" stroke="#d73027" stroke-width="10.4" stroke-linecap="round"/><path d="M1177.1,1227.9h18.6M1177.1,1238.3h18.6M1198.3,1223.6h18.6M1198.3,1234.0h18.6M1219.6,1225.6h18.6M1219.6,1236.0h18.6M1240.9,1222.7h18.6M1240.9,1233.1h18.6" stroke="#4575b4" stroke-width="1.6"/><path d="M1177.1,1195.6h18.6M1177.1,1215.8h18.6M1198.3,1182.7h18.6M1198.3,1202.8h18.6M1219.6,1182.7h18.6M1219.6,1202.8h18.6M1240.9,1174.0h18.6M1240.9,1194.2h18.6" stroke="#4d7db8" stroke-width="1.6"/><path d="M1198.3,1172.6h18.6M1198.3,1189.9h18.6M1219.6,1168.2h18.6M1219.6,1185.5h18.6M1240.9,1150.9h18.6M1240.9,1168.2h18.6" stroke="#5281ba" stroke-width="1.6"/><path d="M1113.3,1201.4h18.6M1113.3,1212.9h18.6M1134.6,1188.4h18.6M1134.6,1200.0h18.6M1177.1,1152.4h18.6M1177.1,1163.9h18.6M1198.3,1137.9h18.6M1198.3,1149.5h18.6M1219.6,1123.5h18.6M1219.6,1135.1h18.6M1240.9,1103.9h18.6M1240.9,1115.4h18.6" stroke="#5e8ec1" stroke-width="1.6"/><path d="M1113.3,1197.1h18.6M1113.3,1211.5h18.6M1134.6,1188.4h18.6M1134.6,1202.8h18.6M1177.1,1156.7h18.6M1177.1,1171.1h18.6M1198.3,1142.3h18.6M1198.3,1156.7h18.6M1219.6,1127.8h18.6M1219.6,1142.3h18.6M1240.9,1119.2h18.6M1240.9,1133.6h18.6" stroke="#6f9eca" stroke-width="1.6"/><path d="M1113.3,1197.8h18.6M1113.3,1212.2h18.6M1134.6,1189.9h18.6M1134.6,1204.3h18.6M1177.1,1158.9h18.6M1177.1,1173.3h18.6M1198.3,1145.9h18.6M1198.3,1160.3h18.6M1219.6,1132.9h18.6M1219.6,1147.3h18.6M1240.9,1122.1h18.6M1240.9,1136.5h18.6" stroke="#80afd2" stroke-width="1.6"/><path d="M1113.3,1198.5h18.6M1113.3,1212.9h18.6M1134.6,1191.3h18.6M1134.6,1205.7h18.6M1177.1,1161.0h18.6M1177.1,1175.4h18.6M1198.3,1149.5h18.6M1198.3,1163.9h18.6M1219.6,1137.9h18.6M1219.6,1152.4h18.6M1240.9,1125.0h18.6M1240.9,1139.4h18.6" stroke="#91bfdb" stroke-width="1.6"/><path d="M1113.3,1200.0h18.6M1113.3,1214.4h18.6M1134.6,1192.7h18.6M1134.6,1207.2h18.6M1177.1,1163.9h18.6M1177.1,1178.3h18.6M1198.3,1153.1h18.6M1198.3,1167.5h18.6M1219.6,1141.6h18.6M1219.6,1156.0h18.6M1240.9,1129.3h18.6M1240.9,1143.7h18.6" stroke="#a3cbe1" stroke-width="1.6"/><path d="M1113.3,1201.4h18.6M1113.3,1215.8h18.6M1134.6,1194.2h18.6M1134.6,1208.6h18.6M1177.1,1166.8h18.6M1177.1,1181.2h18.6M1198.3,1156.7h18.6M1198.3,1171.1h18.6M1219.6,1145.2h18.6M1219.6,1159.6h18.6M1240.9,1133.6h18.6M1240.9,1148.0h18.6" stroke="#b4d6e8" stroke-width="1.6"/><path d="M1113.3,1205.0h18.6M1113.3,1219.4h18.6M1134.6,1197.1h18.6M1134.6,1211.5h18.6M1177.1,1170.4h18.6M1177.1,1184.8h18.6M1198.3,1160.3h18.6M1198.3,1174.7h18.6M1219.6,1150.2h18.6M1219.6,1164.6h18.6M1240.9,1139.4h18.6M1240.9,1153.8h18.6" stroke="#cae5f0" stroke-width="1.6"/><path d="M1092.0,1215.8h18.6M1092.0,1230.2h18.6M1113.3,1208.6h18.6M1113.3,1223.0h18.6M1134.6,1200.0h18.6M1134.6,1214.4h18.6M1177.1,1174.0h18.6M1177.1,1188.4h18.6M1198.3,1163.9h18.6M1198.3,1178.3h18.6M1219.6,1155.3h18.6M1219.6,1169.7h18.6M1240.9,1145.2h18.6M1240.9,1159.6h18.6" stroke="#e0f3f8" stroke-width="1.6"/><path d="M1070.8,1226.5h18.6M1070.8,1238.0h18.6M1092.0,1225.9h18.6M1092.0,1237.5h18.6M1113.3,1217.3h18.6M1113.3,1228.8h18.6M1134.6,1213.8h18.6M1134.6,1225.3h18.6M1177.1,1189.3h18.6M1177.1,1200.8h18.6M1198.3,1200.0h18.6M1198.3,1211.5h18.6M1219.6,1200.8h18.6M1219.6,1212.4h18.6M1240.9,1192.7h18.6M1240.9,1204.3h18.6" stroke="#fee090" stroke-width="1.6"/><path d="M1198.3,1249.9h18.6M1198.3,1282.2h18.6M1219.6,1260.5h18.6M1219.6,1289.4h18.6M1240.9,1260.0h18.6M1240.9,1291.4h18.6" stroke="#d73027" stroke-width="1.6"/></g>
<g clip-path="url(#cp24)" fill="none"><path d="M1412.8,1295.1L1434.1,1296.0L1476.6,1290.8L1497.9,1290.2L1519.1,1287.9L1540.4,1274.1" stroke="#4575b4" stroke-width="3.2" stroke-linejoin="round" stroke-linecap="round"/><path d="M1476.6,1270.0L1497.9,1261.4L1519.1,1253.3L1540.4,1234.6" stroke="#4d7db8" stroke-width="3.2" stroke-linejoin="round" stroke-linecap="round"/><path d="M1476.6,1231.7L1497.9,1215.8L1519.1,1195.6L1540.4,1172.0" stroke="#6796c5" stroke-width="3.2" stroke-linejoin="round" stroke-linecap="round"/><path d="M1476.6,1234.6L1497.9,1220.1L1519.1,1201.4L1540.4,1178.3" stroke="#78a6ce" stroke-width="3.2" stroke-linejoin="round" stroke-linecap="round"/><path d="M1476.6,1238.9L1497.9,1224.5L1519.1,1207.2L1540.4,1187.0" stroke="#91bfdb" stroke-width="3.2" stroke-linejoin="round" stroke-linecap="round"/><path d="M1476.6,1241.1L1497.9,1227.4L1519.1,1210.1L1540.4,1191.3" stroke="#a3cbe1" stroke-width="3.2" stroke-linejoin="round" stroke-linecap="round"/><path d="M1476.6,1243.2L1497.9,1230.2L1519.1,1212.9L1540.4,1195.6" stroke="#b4d6e8" stroke-width="3.2" stroke-linejoin="round" stroke-linecap="round"/><path d="M1476.6,1246.1L1497.9,1233.8L1519.1,1216.5L1540.4,1199.2" stroke="#cae5f0" stroke-width="3.2" stroke-linejoin="round" stroke-linecap="round"/><path d="M1476.6,1249.0L1497.9,1237.5L1519.1,1220.1L1540.4,1202.8" stroke="#e0f3f8" stroke-width="3.2" stroke-linejoin="round" stroke-linecap="round"/><path d="M1434.1,1283.6L1476.6,1256.2L1497.9,1243.2L1519.1,1230.2L1540.4,1212.9" stroke="#fee090" stroke-width="3.2" stroke-linejoin="round" stroke-linecap="round"/><path d="M1370.3,1322.0L1540.4,1286.5" stroke="#d73027" stroke-width="3.2" stroke-linejoin="round" stroke-linecap="round"/><path d="M1412.8,1289.9V1300.3M1434.1,1291.7V1300.3M1476.6,1285.0V1296.6M1497.9,1283.0V1297.4M1519.1,1280.7V1295.1M1540.4,1261.1V1287.1" stroke="#4575b4" stroke-width="1.6"/><path d="M1412.8,1295.1h0M1434.1,1296.0h0M1476.6,1290.8h0M1497.9,1290.2h0M1519.1,1287.9h0M1540.4,1274.1h0" stroke="#4575b4" stroke-width="10.4" stroke-linecap="round"/><path d="M1476.6,1265.7V1274.4M1497.9,1257.1V1265.7M1519.1,1249.0V1257.6M1540.4,1230.2V1238.9" stroke="#4d7db8" stroke-width="1.6"/><path d="M1476.6,1270.0h0M1497.9,1261.4h0M1519.1,1253.3h0M1540.4,1234.6h0" stroke="#4d7db8" stroke-width="10.4" stroke-linecap="round"/><path d="M1476.6,1225.3V1238.0M1497.9,1209.5V1222.2M1519.1,1189.3V1202.0M1540.4,1165.6V1178.3" stroke="#6796c5" stroke-width="1.6"/><path d="M1476.6,1231.7h0M1497.9,1215.8h0M1519.1,1195.6h0M1540.4,1172.0h0" stroke="#6796c5" stroke-width="10.4" stroke-linecap="round"/><path d="M1476.6,1228.2V1240.9M1497.9,1213.8V1226.5M1519.1,1195.1V1207.7M1540.4,1172.0V1184.7" stroke="#78a6ce" stroke-width="1.6"/><path d="M1476.6,1234.6h0M1497.9,1220.1h0M1519.1,1201.4h0M1540.4,1178.3h0" stroke="#78a6ce" stroke-width="10.4" stroke-linecap="round"/><path d="M1476.6,1232.6V1245.2M1497.9,1218.1V1230.8M1519.1,1200.8V1213.5M1540.4,1180.6V1193.3" stroke="#91bfdb" stroke-width="1.6"/><path d="M1476.6,1238.9h0M1497.9,1224.5h0M1519.1,1207.2h0M1540.4,1187.0h0" stroke="#91bfdb" stroke-width="10.4" stroke-linecap="round"/><path d="M1476.6,1234.7V1247.4M1497.9,1221.0V1233.7M1519.1,1203.7V1216.4M1540.4,1185.0V1197.7" stroke="#a3cbe1" stroke-width="1.6"/><path d="M1476.6,1241.1h0M1497.9,1227.4h0M1519.1,1210.1h0M1540.4,1191.3h0" stroke="#a3cbe1" stroke-width="10.4" stroke-linecap="round"/><path d="M1476.6,1236.9V1249.6M1497.9,1223.9V1236.6M1519.1,1206.6V1219.3M1540.4,1189.3V1202.0" stroke="#b4d6e8" stroke-width="1.6"/><path d="M1476.6,1243.2h0M1497.9,1230.2h0M1519.1,1212.9h0M1540.4,1195.6h0" stroke="#b4d6e8" stroke-width="10.4" stroke-linecap="round"/><path d="M1476.6,1239.8V1252.5M1497.9,1227.5V1240.2M1519.1,1210.2V1222.9M1540.4,1192.9V1205.6" stroke="#cae5f0" stroke-width="1.6"/><path d="M1476.6,1246.1h0M1497.9,1233.8h0M1519.1,1216.5h0M1540.4,1199.2h0" stroke="#cae5f0" stroke-width="10.4" stroke-linecap="round"/><path d="M1476.6,1242.6V1255.3M1497.9,1231.1V1243.8M1519.1,1213.8V1226.5M1540.4,1196.5V1209.2" stroke="#e0f3f8" stroke-width="1.6"/><path d="M1476.6,1249.0h0M1497.9,1237.5h0M1519.1,1220.1h0M1540.4,1202.8h0" stroke="#e0f3f8" stroke-width="10.4" stroke-linecap="round"/><path d="M1434.1,1280.1V1287.1" stroke="#fee090" stroke-width="1.6"/><path d="M1434.1,1283.6h0" stroke="#fee090" stroke-width="10.4" stroke-linecap="round"/><path d="M1370.3,1309.6V1335.5M1391.5,1304.4V1330.3M1412.8,1297.2V1324.8M1434.1,1297.7V1322.5M1476.6,1282.2V1308.1M1497.9,1278.4V1310.1M1519.1,1276.4V1308.1M1540.4,1269.2V1303.8" stroke="#d73027" stroke-width="1.6"/><path d="M1370.3,1321.1h0M1391.5,1317.4h0M1412.8,1311.0h0M1434.1,1310.1h0M1476.6,1295.1h0M1497.9,1294.3h0M1519.1,1292.3h0M1540.4,1286.5h0" stroke="#d73027" stroke-width="10.4" stroke-linecap="round"/><path d="M1403.5,1289.9h18.6M1403.5,1300.3h18.6M1424.8,1291.7h18.6M1424.8,1300.3h18.6M1467.3,1285.0h18.6M1467.3,1296.6h18.6M1488.6,1283.0h18.6M1488.6,1297.4h18.6M1509.8,1280.7h18.6M1509.8,1295.1h18.6M1531.1,1261.1h18.6M1531.1,1287.1h18.6" stroke="#4575b4" stroke-width="1.6"/><path d="M1467.3,1265.7h18.6M1467.3,1274.4h18.6M1488.6,1257.1h18.6M1488.6,1265.7h18.6M1509.8,1249.0h18.6M1509.8,1257.6h18.6M1531.1,1230.2h18.6M1531.1,1238.9h18.6" stroke="#4d7db8" stroke-width="1.6"/><path d="M1467.3,1225.3h18.6M1467.3,1238.0h18.6M1488.6,1209.5h18.6M1488.6,1222.2h18.6M1509.8,1189.3h18.6M1509.8,1202.0h18.6M1531.1,1165.6h18.6M1531.1,1178.3h18.6" stroke="#6796c5" stroke-width="1.6"/><path d="M1467.3,1228.2h18.6M1467.3,1240.9h18.6M1488.6,1213.8h18.6M1488.6,1226.5h18.6M1509.8,1195.1h18.6M1509.8,1207.7h18.6M1531.1,1172.0h18.6M1531.1,1184.7h18.6" stroke="#78a6ce" stroke-width="1.6"/><path d="M1467.3,1232.6h18.6M1467.3,1245.2h18.6M1488.6,1218.1h18.6M1488.6,1230.8h18.6M1509.8,1200.8h18.6M1509.8,1213.5h18.6M1531.1,1180.6h18.6M1531.1,1193.3h18.6" stroke="#91bfdb" stroke-width="1.6"/><path d="M1467.3,1234.7h18.6M1467.3,1247.4h18.6M1488.6,1221.0h18.6M1488.6,1233.7h18.6M1509.8,1203.7h18.6M1509.8,1216.4h18.6M1531.1,1185.0h18.6M1531.1,1197.7h18.6" stroke="#a3cbe1" stroke-width="1.6"/><path d="M1467.3,1236.9h18.6M1467.3,1249.6h18.6M1488.6,1223.9h18.6M1488.6,1236.6h18.6M1509.8,1206.6h18.6M1509.8,1219.3h18.6M1531.1,1189.3h18.6M1531.1,1202.0h18.6" stroke="#b4d6e8" stroke-width="1.6"/><path d="M1467.3,1239.8h18.6M1467.3,1252.5h18.6M1488.6,1227.5h18.6M1488.6,1240.2h18.6M1509.8,1210.2h18.6M1509.8,1222.9h18.6M1531.1,1192.9h18.6M1531.1,1205.6h18.6" stroke="#cae5f0" stroke-width="1.6"/><path d="M1467.3,1242.6h18.6M1467.3,1255.3h18.6M1488.6,1231.1h18.6M1488.6,1243.8h18.6M1509.8,1213.8h18.6M1509.8,1226.5h18.6M1531.1,1196.5h18.6M1531.1,1209.2h18.6" stroke="#e0f3f8" stroke-width="1.6"/><path d="M1424.8,1280.1h18.6M1424.8,1287.1h18.6" stroke="#fee090" stroke-width="1.6"/><path d="M1361.0,1309.6h18.6M1361.0,1335.5h18.6M1382.2,1304.4h18.6M1382.2,1330.3h18.6M1403.5,1297.2h18.6M1403.5,1324.8h18.6M1424.8,1297.7h18.6M1424.8,1322.5h18.6M1467.3,1282.2h18.6M1467.3,1308.1h18.6M1488.6,1278.4h18.6M1488.6,1310.1h18.6M1509.8,1276.4h18.6M1509.8,1308.1h18.6M1531.1,1269.2h18.6M1531.1,1303.8h18.6" stroke="#d73027" stroke-width="1.6"/></g>
<g clip-path="url(#cp25)" fill="none"><path d="M1681.8,1293.7L1703.0,1293.1L1724.3,1293.7L1766.8,1293.7L1788.1,1293.1L1809.4,1292.3L1830.6,1284.5" stroke="#4575b4" stroke-width="3.2" stroke-linejoin="round" stroke-linecap="round"/><path d="M1766.8,1296.6L1788.1,1293.7L1809.4,1290.8L1830.6,1273.5" stroke="#4d7db8" stroke-width="3.2" stroke-linejoin="round" stroke-linecap="round"/><path d="M1703.0,1298.0L1724.3,1292.3L1766.8,1279.3L1788.1,1272.1L1809.4,1262.0L1830.6,1247.5" stroke="#6f9eca" stroke-width="3.2" stroke-linejoin="round" stroke-linecap="round"/><path d="M1703.0,1299.5L1724.3,1293.7L1766.8,1280.7L1788.1,1273.5L1809.4,1263.4L1830.6,1249.7" stroke="#80afd2" stroke-width="3.2" stroke-linejoin="round" stroke-linecap="round"/><path d="M1681.8,1303.8L1703.0,1300.9L1724.3,1295.1L1766.8,1282.2L1788.1,1275.0L1809.4,1264.9L1830.6,1251.9" stroke="#91bfdb" stroke-width="3.2" stroke-linejoin="round" stroke-linecap="round"/><path d="M1681.8,1305.2L1703.0,1302.4L1724.3,1297.3L1766.8,1283.6L1788.1,1276.4L1809.4,1266.3L1830.6,1254.0" stroke="#a3cbe1" stroke-width="3.2" stroke-linejoin="round" stroke-linecap="round"/><path d="M1660.5,1303.8L1681.8,1306.7L1703.0,1303.8L1724.3,1299.5L1766.8,1285.0L1788.1,1277.8L1809.4,1267.7L1830.6,1256.2" stroke="#b4d6e8" stroke-width="3.2" stroke-linejoin="round" stroke-linecap="round"/><path d="M1660.5,1307.4L1681.8,1308.8L1703.0,1306.0L1724.3,1301.6L1766.8,1287.2L1788.1,1280.0L1809.4,1270.6L1830.6,1259.1" stroke="#cae5f0" stroke-width="3.2" stroke-linejoin="round" stroke-linecap="round"/><path d="M1660.5,1311.0L1681.8,1311.0L1703.0,1308.1L1724.3,1303.8L1766.8,1289.4L1788.1,1282.2L1809.4,1273.5L1830.6,1262.0" stroke="#e0f3f8" stroke-width="3.2" stroke-linejoin="round" stroke-linecap="round"/><path d="M1660.5,1322.5L1830.6,1303.8" stroke="#fee090" stroke-width="3.2" stroke-linejoin="round" stroke-linecap="round"/><path d="M1660.5,1334.1L1766.8,1355.1" stroke="#d73027" stroke-width="3.2" stroke-linejoin="round" stroke-linecap="round"/><path d="M1681.8,1289.4V1298.0M1703.0,1288.8V1297.4M1724.3,1289.4V1298.0M1766.8,1289.4V1298.0M1788.1,1288.8V1297.4M1809.4,1287.9V1296.6M1830.6,1280.1V1288.8" stroke="#4575b4" stroke-width="1.6"/><path d="M1681.8,1293.7h0M1703.0,1293.1h0M1724.3,1293.7h0M1766.8,1293.7h0M1788.1,1293.1h0M1809.4,1292.3h0M1830.6,1284.5h0" stroke="#4575b4" stroke-width="10.4" stroke-linecap="round"/><path d="M1766.8,1290.8V1302.4M1788.1,1287.9V1299.5M1809.4,1285.0V1296.6M1830.6,1267.7V1279.3" stroke="#4d7db8" stroke-width="1.6"/><path d="M1766.8,1296.6h0M1788.1,1293.7h0M1809.4,1290.8h0M1830.6,1273.5h0" stroke="#4d7db8" stroke-width="10.4" stroke-linecap="round"/><path d="M1703.0,1292.3V1303.8M1724.3,1286.5V1298.0M1766.8,1273.5V1285.0M1788.1,1266.3V1277.8M1809.4,1256.2V1267.7M1830.6,1241.8V1253.3" stroke="#6f9eca" stroke-width="1.6"/><path d="M1703.0,1298.0h0M1724.3,1292.3h0M1766.8,1279.3h0M1788.1,1272.1h0M1809.4,1262.0h0M1830.6,1247.5h0" stroke="#6f9eca" stroke-width="10.4" stroke-linecap="round"/><path d="M1703.0,1293.7V1305.2M1724.3,1287.9V1299.5M1766.8,1275.0V1286.5M1788.1,1267.7V1279.3M1809.4,1257.6V1269.2M1830.6,1243.9V1255.5" stroke="#80afd2" stroke-width="1.6"/><path d="M1703.0,1299.5h0M1724.3,1293.7h0M1766.8,1280.7h0M1788.1,1273.5h0M1809.4,1263.4h0M1830.6,1249.7h0" stroke="#80afd2" stroke-width="10.4" stroke-linecap="round"/><path d="M1681.8,1298.0V1309.6M1703.0,1295.1V1306.7M1724.3,1289.4V1300.9M1766.8,1276.4V1287.9M1788.1,1269.2V1280.7M1809.4,1259.1V1270.6M1830.6,1246.1V1257.6" stroke="#91bfdb" stroke-width="1.6"/><path d="M1681.8,1303.8h0M1703.0,1300.9h0M1724.3,1295.1h0M1766.8,1282.2h0M1788.1,1275.0h0M1809.4,1264.9h0M1830.6,1251.9h0" stroke="#91bfdb" stroke-width="10.4" stroke-linecap="round"/><path d="M1681.8,1299.5V1311.0M1703.0,1296.6V1308.1M1724.3,1291.5V1303.1M1766.8,1277.8V1289.4M1788.1,1270.6V1282.2M1809.4,1260.5V1272.1M1830.6,1248.3V1259.8" stroke="#a3cbe1" stroke-width="1.6"/><path d="M1681.8,1305.2h0M1703.0,1302.4h0M1724.3,1297.3h0M1766.8,1283.6h0M1788.1,1276.4h0M1809.4,1266.3h0M1830.6,1254.0h0" stroke="#a3cbe1" stroke-width="10.4" stroke-linecap="round"/><path d="M1660.5,1298.0V1309.6M1681.8,1300.9V1312.4M1703.0,1298.0V1309.6M1724.3,1293.7V1305.2M1766.8,1279.3V1290.8M1788.1,1272.1V1283.6M1809.4,1262.0V1273.5M1830.6,1250.4V1262.0" stroke="#b4d6e8" stroke-width="1.6"/><path d="M1660.5,1303.8h0M1681.8,1306.7h0M1703.0,1303.8h0M1724.3,1299.5h0M1766.8,1285.0h0M1788.1,1277.8h0M1809.4,1267.7h0M1830.6,1256.2h0" stroke="#b4d6e8" stroke-width="10.4" stroke-linecap="round"/><path d="M1660.5,1301.6V1313.2M1681.8,1303.1V1314.6M1703.0,1300.2V1311.7M1724.3,1295.9V1307.4M1766.8,1281.4V1293.0M1788.1,1274.2V1285.8M1809.4,1264.9V1276.4M1830.6,1253.3V1264.9" stroke="#cae5f0" stroke-width="1.6"/><path d="M1660.5,1307.4h0M1681.8,1308.8h0M1703.0,1306.0h0M1724.3,1301.6h0M1766.8,1287.2h0M1788.1,1280.0h0M1809.4,1270.6h0M1830.6,1259.1h0" stroke="#cae5f0" stroke-width="10.4" stroke-linecap="round"/><path d="M1660.5,1305.2V1316.8M1681.8,1305.2V1316.8M1703.0,1302.4V1313.9M1724.3,1298.0V1309.6M1766.8,1283.6V1295.1M1788.1,1276.4V1287.9M1809.4,1267.7V1279.3M1830.6,1256.2V1267.7" stroke="#e0f3f8" stroke-width="1.6"/><path d="M1660.5,1311.0h0M1681.8,1311.0h0M1703.0,1308.1h0M1724.3,1303.8h0M1766.8,1289.4h0M1788.1,1282.2h0M1809.4,1273.5h0M1830.6,1262.0h0" stroke="#e0f3f8" stroke-width="10.4" stroke-linecap="round"/><path d="M1660.5,1314.2V1326.9M1681.8,1316.8V1328.3M1703.0,1314.8V1327.4M1724.3,1311.9V1326.3M1766.8,1309.3V1319.7M1788.1,1300.9V1322.8M1809.4,1298.3V1322.5M1830.6,1290.8V1313.9" stroke="#fee090" stroke-width="1.6"/><path d="M1660.5,1320.5h0M1681.8,1322.5h0M1703.0,1321.1h0M1724.3,1319.1h0M1766.8,1314.5h0M1788.1,1311.9h0M1809.4,1310.4h0M1830.6,1302.4h0" stroke="#fee090" stroke-width="10.4" stroke-linecap="round"/><path d="M1660.5,1328.3V1338.7M1681.8,1337.0V1349.7M1703.0,1339.8V1346.8M1724.3,1339.8V1352.5M1766.8,1349.4V1355.1" stroke="#d73027" stroke-width="1.6"/><path d="M1660.5,1333.5h0M1681.8,1343.3h0M1703.0,1343.3h0M1724.3,1346.2h0M1766.8,1355.1h0" stroke="#d73027" stroke-width="10.4" stroke-linecap="round"/><path d="M1672.5,1289.4h18.6M1672.5,1298.0h18.6M1693.7,1288.8h18.6M1693.7,1297.4h18.6M1715.0,1289.4h18.6M1715.0,1298.0h18.6M1757.5,1289.4h18.6M1757.5,1298.0h18.6M1778.8,1288.8h18.6M1778.8,1297.4h18.6M1800.1,1287.9h18.6M1800.1,1296.6h18.6M1821.3,1280.1h18.6M1821.3,1288.8h18.6" stroke="#4575b4" stroke-width="1.6"/><path d="M1757.5,1290.8h18.6M1757.5,1302.4h18.6M1778.8,1287.9h18.6M1778.8,1299.5h18.6M1800.1,1285.0h18.6M1800.1,1296.6h18.6M1821.3,1267.7h18.6M1821.3,1279.3h18.6" stroke="#4d7db8" stroke-width="1.6"/><path d="M1693.7,1292.3h18.6M1693.7,1303.8h18.6M1715.0,1286.5h18.6M1715.0,1298.0h18.6M1757.5,1273.5h18.6M1757.5,1285.0h18.6M1778.8,1266.3h18.6M1778.8,1277.8h18.6M1800.1,1256.2h18.6M1800.1,1267.7h18.6M1821.3,1241.8h18.6M1821.3,1253.3h18.6" stroke="#6f9eca" stroke-width="1.6"/><path d="M1693.7,1293.7h18.6M1693.7,1305.2h18.6M1715.0,1287.9h18.6M1715.0,1299.5h18.6M1757.5,1275.0h18.6M1757.5,1286.5h18.6M1778.8,1267.7h18.6M1778.8,1279.3h18.6M1800.1,1257.6h18.6M1800.1,1269.2h18.6M1821.3,1243.9h18.6M1821.3,1255.5h18.6" stroke="#80afd2" stroke-width="1.6"/><path d="M1672.5,1298.0h18.6M1672.5,1309.6h18.6M1693.7,1295.1h18.6M1693.7,1306.7h18.6M1715.0,1289.4h18.6M1715.0,1300.9h18.6M1757.5,1276.4h18.6M1757.5,1287.9h18.6M1778.8,1269.2h18.6M1778.8,1280.7h18.6M1800.1,1259.1h18.6M1800.1,1270.6h18.6M1821.3,1246.1h18.6M1821.3,1257.6h18.6" stroke="#91bfdb" stroke-width="1.6"/><path d="M1672.5,1299.5h18.6M1672.5,1311.0h18.6M1693.7,1296.6h18.6M1693.7,1308.1h18.6M1715.0,1291.5h18.6M1715.0,1303.1h18.6M1757.5,1277.8h18.6M1757.5,1289.4h18.6M1778.8,1270.6h18.6M1778.8,1282.2h18.6M1800.1,1260.5h18.6M1800.1,1272.1h18.6M1821.3,1248.3h18.6M1821.3,1259.8h18.6" stroke="#a3cbe1" stroke-width="1.6"/><path d="M1651.2,1298.0h18.6M1651.2,1309.6h18.6M1672.5,1300.9h18.6M1672.5,1312.4h18.6M1693.7,1298.0h18.6M1693.7,1309.6h18.6M1715.0,1293.7h18.6M1715.0,1305.2h18.6M1757.5,1279.3h18.6M1757.5,1290.8h18.6M1778.8,1272.1h18.6M1778.8,1283.6h18.6M1800.1,1262.0h18.6M1800.1,1273.5h18.6M1821.3,1250.4h18.6M1821.3,1262.0h18.6" stroke="#b4d6e8" stroke-width="1.6"/><path d="M1651.2,1301.6h18.6M1651.2,1313.2h18.6M1672.5,1303.1h18.6M1672.5,1314.6h18.6M1693.7,1300.2h18.6M1693.7,1311.7h18.6M1715.0,1295.9h18.6M1715.0,1307.4h18.6M1757.5,1281.4h18.6M1757.5,1293.0h18.6M1778.8,1274.2h18.6M1778.8,1285.8h18.6M1800.1,1264.9h18.6M1800.1,1276.4h18.6M1821.3,1253.3h18.6M1821.3,1264.9h18.6" stroke="#cae5f0" stroke-width="1.6"/><path d="M1651.2,1305.2h18.6M1651.2,1316.8h18.6M1672.5,1305.2h18.6M1672.5,1316.8h18.6M1693.7,1302.4h18.6M1693.7,1313.9h18.6M1715.0,1298.0h18.6M1715.0,1309.6h18.6M1757.5,1283.6h18.6M1757.5,1295.1h18.6M1778.8,1276.4h18.6M1778.8,1287.9h18.6M1800.1,1267.7h18.6M1800.1,1279.3h18.6M1821.3,1256.2h18.6M1821.3,1267.7h18.6" stroke="#e0f3f8" stroke-width="1.6"/><path d="M1651.2,1314.2h18.6M1651.2,1326.9h18.6M1672.5,1316.8h18.6M1672.5,1328.3h18.6M1693.7,1314.8h18.6M1693.7,1327.4h18.6M1715.0,1311.9h18.6M1715.0,1326.3h18.6M1757.5,1309.3h18.6M1757.5,1319.7h18.6M1778.8,1300.9h18.6M1778.8,1322.8h18.6M1800.1,1298.3h18.6M1800.1,1322.5h18.6M1821.3,1290.8h18.6M1821.3,1313.9h18.6" stroke="#fee090" stroke-width="1.6"/><path d="M1651.2,1328.3h18.6M1651.2,1338.7h18.6M1672.5,1337.0h18.6M1672.5,1349.7h18.6M1693.7,1339.8h18.6M1693.7,1346.8h18.6M1715.0,1339.8h18.6M1715.0,1352.5h18.6M1757.5,1349.4h18.6M1778.8,1359.5h18.6M1821.3,1338.4h18.6" stroke="#d73027" stroke-width="1.6"/></g>
<rect x="135.9" y="73.2" width="263.0" height="419.0" fill="none" stroke="#fff" stroke-width="1.4"/>
<rect x="134.2" y="71.5" width="266.4" height="422.4" fill="none" stroke="#333" stroke-width="2.3"/>
<rect x="426.1" y="73.2" width="263.0" height="419.0" fill="none" stroke="#fff" stroke-width="1.4"/>
<rect x="424.4" y="71.5" width="266.4" height="422.4" fill="none" stroke="#333" stroke-width="2.3"/>
<rect x="716.3" y="73.2" width="263.0" height="419.0" fill="none" stroke="#fff" stroke-width="1.4"/>
<rect x="714.6" y="71.5" width="266.4" height="422.4" fill="none" stroke="#333" stroke-width="2.3"/>
<rect x="1006.6" y="73.2" width="263.0" height="419.0" fill="none" stroke="#fff" stroke-width="1.4"/>
<rect x="1004.9" y="71.5" width="266.4" height="422.4" fill="none" stroke="#333" stroke-width="2.3"/>
<rect x="1296.8" y="73.2" width="263.0" height="419.0" fill="none" stroke="#fff" stroke-width="1.4"/>
<rect x="1295.1" y="71.5" width="266.4" height="422.4" fill="none" stroke="#333" stroke-width="2.3"/>
<rect x="1587.0" y="73.2" width="263.0" height="419.0" fill="none" stroke="#fff" stroke-width="1.4"/>
<rect x="1585.3" y="71.5" width="266.4" height="422.4" fill="none" stroke="#333" stroke-width="2.3"/>
<rect x="135.9" y="519.5" width="263.0" height="419.0" fill="none" stroke="#fff" stroke-width="1.4"/>
<rect x="134.2" y="517.8" width="266.4" height="422.4" fill="none" stroke="#333" stroke-width="2.3"/>
<rect x="426.1" y="519.5" width="263.0" height="419.0" fill="none" stroke="#fff" stroke-width="1.4"/>
<rect x="424.4" y="517.8" width="266.4" height="422.4" fill="none" stroke="#333" stroke-width="2.3"/>
<rect x="716.3" y="519.5" width="263.0" height="419.0" fill="none" stroke="#fff" stroke-width="1.4"/>
<rect x="714.6" y="517.8" width="266.4" height="422.4" fill="none" stroke="#333" stroke-width="2.3"/>
<rect x="1006.6" y="519.5" width="263.0" height="419.0" fill="none" stroke="#fff" stroke-width="1.4"/>
<rect x="1004.9" y="517.8" width="266.4" height="422.4" fill="none" stroke="#333" stroke-width="2.3"/>
<rect x="1296.8" y="519.5" width="263.0" height="419.0" fill="none" stroke="#fff" stroke-width="1.4"/>
<rect x="1295.1" y="517.8" width="266.4" height="422.4" fill="none" stroke="#333" stroke-width="2.3"/>
<rect x="1587.0" y="519.5" width="263.0" height="419.0" fill="none" stroke="#fff" stroke-width="1.4"/>
<rect x="1585.3" y="517.8" width="266.4" height="422.4" fill="none" stroke="#333" stroke-width="2.3"/>
<rect x="135.9" y="965.8" width="263.0" height="419.0" fill="none" stroke="#fff" stroke-width="1.4"/>
<rect x="134.2" y="964.1" width="266.4" height="422.4" fill="none" stroke="#333" stroke-width="2.3"/>
<rect x="426.1" y="965.8" width="263.0" height="419.0" fill="none" stroke="#fff" stroke-width="1.4"/>
<rect x="424.4" y="964.1" width="266.4" height="422.4" fill="none" stroke="#333" stroke-width="2.3"/>
<rect x="716.3" y="965.8" width="263.0" height="419.0" fill="none" stroke="#fff" stroke-width="1.4"/>
<rect x="714.6" y="964.1" width="266.4" height="422.4" fill="none" stroke="#333" stroke-width="2.3"/>
<rect x="1006.6" y="965.8" width="263.0" height="419.0" fill="none" stroke="#fff" stroke-width="1.4"/>
<rect x="1004.9" y="964.1" width="266.4" height="422.4" fill="none" stroke="#333" stroke-width="2.3"/>
<rect x="1296.8" y="965.8" width="263.0" height="419.0" fill="none" stroke="#fff" stroke-width="1.4"/>
<rect x="1295.1" y="964.1" width="266.4" height="422.4" fill="none" stroke="#333" stroke-width="2.3"/>
<rect x="1587.0" y="965.8" width="263.0" height="419.0" fill="none" stroke="#fff" stroke-width="1.4"/>
<rect x="1585.3" y="964.1" width="266.4" height="422.4" fill="none" stroke="#333" stroke-width="2.3"/>
<rect x="134.5" y="2.5" width="266.0" height="67" fill="#fff" stroke="#000" stroke-width="2.9"/>
<text class="st" transform="translate(267.4 50.2) scale(1 1.045)" text-anchor="middle">S 4 ‰</text>
<rect x="424.7" y="2.5" width="266.0" height="67" fill="#fff" stroke="#000" stroke-width="2.9"/>
<text class="st" transform="translate(557.6 50.2) scale(1 1.045)" text-anchor="middle">S 5 ‰</text>
<rect x="714.9" y="2.5" width="266.0" height="67" fill="#fff" stroke="#000" stroke-width="2.9"/>
<text class="st" transform="translate(847.8 50.2) scale(1 1.045)" text-anchor="middle">S 6 ‰</text>
<rect x="1005.2" y="2.5" width="266.0" height="67" fill="#fff" stroke="#000" stroke-width="2.9"/>
<text class="st" transform="translate(1138.1 50.2) scale(1 1.045)" text-anchor="middle">S 7 ‰</text>
<rect x="1295.4" y="2.5" width="266.0" height="67" fill="#fff" stroke="#000" stroke-width="2.9"/>
<text class="st" transform="translate(1428.3 50.2) scale(1 1.045)" text-anchor="middle">S 8 ‰</text>
<rect x="1585.6" y="2.5" width="266.0" height="67" fill="#fff" stroke="#000" stroke-width="2.9"/>
<text class="st" transform="translate(1718.5 50.2) scale(1 1.045)" text-anchor="middle">S 9 ‰</text>
<rect x="1853.8" y="71.6" width="66.6" height="422.0" fill="#fff" stroke="#000" stroke-width="2.9"/>
<text class="st" transform="translate(1874.2 282.7) rotate(90) scale(1 1.045)" text-anchor="middle">T 9 °C</text>
<rect x="1853.8" y="517.9" width="66.6" height="422.0" fill="#fff" stroke="#000" stroke-width="2.9"/>
<text class="st" transform="translate(1874.2 729.0) rotate(90) scale(1 1.045)" text-anchor="middle">T 6 °C</text>
<rect x="1853.8" y="964.2" width="66.6" height="422.0" fill="#fff" stroke="#000" stroke-width="2.9"/>
<text class="st" transform="translate(1874.2 1175.3) rotate(90) scale(1 1.045)" text-anchor="middle">T 3 °C</text>
<path d="M145.60,1387.6v11.3M209.39,1387.6v11.3M273.19,1387.6v11.3M336.99,1387.6v11.3M400.78,1387.6v11.3M435.82,1387.6v11.3M499.62,1387.6v11.3M563.41,1387.6v11.3M627.20,1387.6v11.3M691.00,1387.6v11.3M726.04,1387.6v11.3M789.84,1387.6v11.3M853.63,1387.6v11.3M917.43,1387.6v11.3M981.22,1387.6v11.3M1016.26,1387.6v11.3M1080.06,1387.6v11.3M1143.85,1387.6v11.3M1207.64,1387.6v11.3M1271.44,1387.6v11.3M1306.48,1387.6v11.3M1370.28,1387.6v11.3M1434.07,1387.6v11.3M1497.87,1387.6v11.3M1561.66,1387.6v11.3M1596.70,1387.6v11.3M1660.50,1387.6v11.3M1724.29,1387.6v11.3M1788.09,1387.6v11.3M1851.88,1387.6v11.3M133.2,476.40h-11.1M133.2,270.04h-11.1M133.2,184.56h-11.1M133.2,118.97h-11.1M133.2,922.70h-11.1M133.2,716.34h-11.1M133.2,630.86h-11.1M133.2,565.27h-11.1M133.2,1369.00h-11.1M133.2,1162.64h-11.1M133.2,1077.16h-11.1M133.2,1011.57h-11.1" stroke="#333" stroke-width="4" fill="none"/>
<text class="ax" transform="translate(145.6 1434.4) scale(1 1.045)" text-anchor="middle">0</text>
<text class="ax" transform="translate(209.4 1434.4) scale(1 1.045)" text-anchor="middle">3</text>
<text class="ax" transform="translate(273.2 1434.4) scale(1 1.045)" text-anchor="middle">6</text>
<text class="ax" transform="translate(337.0 1434.4) scale(1 1.045)" text-anchor="middle">9</text>
<text class="ax" transform="translate(400.8 1434.4) scale(1 1.045)" text-anchor="middle">12</text>
<text class="ax" transform="translate(435.8 1434.4) scale(1 1.045)" text-anchor="middle">0</text>
<text class="ax" transform="translate(499.6 1434.4) scale(1 1.045)" text-anchor="middle">3</text>
<text class="ax" transform="translate(563.4 1434.4) scale(1 1.045)" text-anchor="middle">6</text>
<text class="ax" transform="translate(627.2 1434.4) scale(1 1.045)" text-anchor="middle">9</text>
<text class="ax" transform="translate(691.0 1434.4) scale(1 1.045)" text-anchor="middle">12</text>
<text class="ax" transform="translate(726.0 1434.4) scale(1 1.045)" text-anchor="middle">0</text>
<text class="ax" transform="translate(789.8 1434.4) scale(1 1.045)" text-anchor="middle">3</text>
<text class="ax" transform="translate(853.6 1434.4) scale(1 1.045)" text-anchor="middle">6</text>
<text class="ax" transform="translate(917.4 1434.4) scale(1 1.045)" text-anchor="middle">9</text>
<text class="ax" transform="translate(981.2 1434.4) scale(1 1.045)" text-anchor="middle">12</text>
<text class="ax" transform="translate(1016.3 1434.4) scale(1 1.045)" text-anchor="middle">0</text>
<text class="ax" transform="translate(1080.1 1434.4) scale(1 1.045)" text-anchor="middle">3</text>
<text class="ax" transform="translate(1143.9 1434.4) scale(1 1.045)" text-anchor="middle">6</text>
<text class="ax" transform="translate(1207.6 1434.4) scale(1 1.045)" text-anchor="middle">9</text>
<text class="ax" transform="translate(1271.4 1434.4) scale(1 1.045)" text-anchor="middle">12</text>
<text class="ax" transform="translate(1306.5 1434.4) scale(1 1.045)" text-anchor="middle">0</text>
<text class="ax" transform="translate(1370.3 1434.4) scale(1 1.045)" text-anchor="middle">3</text>
<text class="ax" transform="translate(1434.1 1434.4) scale(1 1.045)" text-anchor="middle">6</text>
<text class="ax" transform="translate(1497.9 1434.4) scale(1 1.045)" text-anchor="middle">9</text>
<text class="ax" transform="translate(1561.7 1434.4) scale(1 1.045)" text-anchor="middle">12</text>
<text class="ax" transform="translate(1596.7 1434.4) scale(1 1.045)" text-anchor="middle">0</text>
<text class="ax" transform="translate(1660.5 1434.4) scale(1 1.045)" text-anchor="middle">3</text>
<text class="ax" transform="translate(1724.3 1434.4) scale(1 1.045)" text-anchor="middle">6</text>
<text class="ax" transform="translate(1788.1 1434.4) scale(1 1.045)" text-anchor="middle">9</text>
<text class="ax" transform="translate(1851.9 1434.4) scale(1 1.045)" text-anchor="middle">12</text>
<text class="ax" transform="translate(112.8 490.8) scale(1 1.045)" text-anchor="end">0</text>
<text class="ax" transform="translate(112.8 284.4) scale(1 1.045)" text-anchor="end">200</text>
<text class="ax" transform="translate(112.8 199.0) scale(1 1.045)" text-anchor="end">400</text>
<text class="ax" transform="translate(112.8 133.4) scale(1 1.045)" text-anchor="end">600</text>
<text class="ax" transform="translate(112.8 937.1) scale(1 1.045)" text-anchor="end">0</text>
<text class="ax" transform="translate(112.8 730.7) scale(1 1.045)" text-anchor="end">200</text>
<text class="ax" transform="translate(112.8 645.3) scale(1 1.045)" text-anchor="end">400</text>
<text class="ax" transform="translate(112.8 579.7) scale(1 1.045)" text-anchor="end">600</text>
<text class="ax" transform="translate(112.8 1383.4) scale(1 1.045)" text-anchor="end">0</text>
<text class="ax" transform="translate(112.8 1177.0) scale(1 1.045)" text-anchor="end">200</text>
<text class="ax" transform="translate(112.8 1091.6) scale(1 1.045)" text-anchor="end">400</text>
<text class="ax" transform="translate(112.8 1026.0) scale(1 1.045)" text-anchor="end">600</text>
<text class="tt" x="994.5" y="1484.6" text-anchor="middle">Day</text>
<text class="tt" transform="translate(33.6,727.5) rotate(-90)" text-anchor="middle">Fluorescence (A.U.)</text>
<text class="tt" x="1987.5" y="659.3">Light <tspan font-family="'Liberation Serif', serif" font-size="45px">(μ</tspan>mol photon m<tspan font-size="31px" dy="-20.5">2</tspan><tspan dy="20.5"> s</tspan><tspan font-size="31px" dy="-20.5">-1</tspan><tspan dy="20.5" font-family="'Liberation Serif', serif" font-size="45px">)</tspan></text>
<rect x="1988" y="696.3" width="30.8" height="153" fill="url(#cb)"/>
<text class="lg" transform="translate(2041.5 836.7) scale(1 1.045)" text-anchor="start">100</text>
<text class="lg" transform="translate(2041.5 808.4) scale(1 1.045)" text-anchor="start">200</text>
<text class="lg" transform="translate(2041.5 780.2) scale(1 1.045)" text-anchor="start">300</text>
<text class="lg" transform="translate(2041.5 751.9) scale(1 1.045)" text-anchor="start">400</text>
<text class="lg" transform="translate(2041.5 723.7) scale(1 1.045)" text-anchor="start">500</text>
<path d="M1988,823.80h6.2M2018.8,823.80h-6.2M1988,795.55h6.2M2018.8,795.55h-6.2M1988,767.30h6.2M2018.8,767.30h-6.2M1988,739.05h6.2M2018.8,739.05h-6.2M1988,710.80h6.2M2018.8,710.80h-6.2" stroke="#fff" stroke-width="1.1" stroke-opacity="0.7" fill="none"/>
</svg></body></html>
